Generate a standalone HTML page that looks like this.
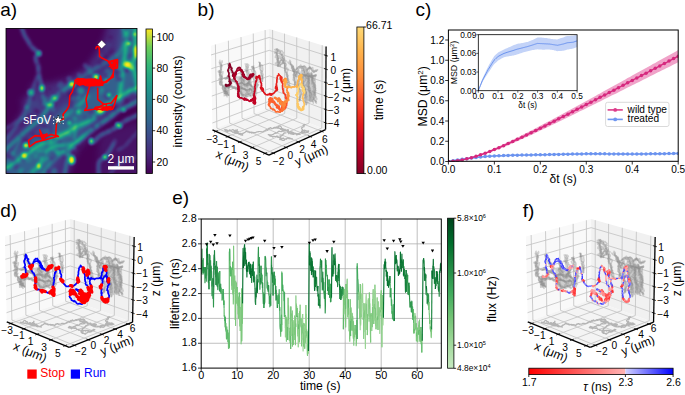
<!DOCTYPE html>
<html><head><meta charset="utf-8"><style>
html,body{margin:0;padding:0;background:#fff;width:685px;height:395px;overflow:hidden}
svg{display:block}
text{font-family:"Liberation Sans", sans-serif}
</style></head><body>
<svg width="685" height="395" viewBox="0 0 685 395">
<rect width="685" height="395" fill="#fff"/>
<text x="0.3" y="16.3" font-size="19" text-anchor="start" fill="#000">a)</text>
<text x="197.6" y="16.3" font-size="19" text-anchor="start" fill="#000">b)</text>
<text x="415.6" y="16.3" font-size="19" text-anchor="start" fill="#000">c)</text>
<text x="0.2" y="216.6" font-size="19" text-anchor="start" fill="#000">d)</text>
<text x="172.3" y="203.6" font-size="19" text-anchor="start" fill="#000">e)</text>
<text x="522.8" y="216.6" font-size="19" text-anchor="start" fill="#000">f)</text>
<defs><linearGradient id="gvir" x1="0" y1="0" x2="0" y2="1"><stop offset="0.000" stop-color="#fde725"/><stop offset="0.062" stop-color="#b6da3e"/><stop offset="0.125" stop-color="#6ece58"/><stop offset="0.188" stop-color="#52c268"/><stop offset="0.250" stop-color="#35b779"/><stop offset="0.312" stop-color="#2aaa81"/><stop offset="0.375" stop-color="#1f9e89"/><stop offset="0.438" stop-color="#22908c"/><stop offset="0.500" stop-color="#26828e"/><stop offset="0.562" stop-color="#2c758e"/><stop offset="0.625" stop-color="#31688e"/><stop offset="0.688" stop-color="#38588c"/><stop offset="0.750" stop-color="#3e4989"/><stop offset="0.812" stop-color="#433880"/><stop offset="0.875" stop-color="#482878"/><stop offset="0.938" stop-color="#461466"/><stop offset="1.000" stop-color="#440154"/></linearGradient><linearGradient id="gtime" x1="0" y1="0" x2="0" y2="1"><stop offset="0.000" stop-color="#fed976"/><stop offset="0.083" stop-color="#fec661"/><stop offset="0.167" stop-color="#feb24c"/><stop offset="0.250" stop-color="#fea044"/><stop offset="0.333" stop-color="#fd8d3c"/><stop offset="0.417" stop-color="#fc6e33"/><stop offset="0.500" stop-color="#fc4e2a"/><stop offset="0.583" stop-color="#f03423"/><stop offset="0.667" stop-color="#e31a1c"/><stop offset="0.750" stop-color="#d00d21"/><stop offset="0.833" stop-color="#bd0026"/><stop offset="0.917" stop-color="#9e0026"/><stop offset="1.000" stop-color="#800026"/></linearGradient><linearGradient id="ggrn" x1="0" y1="0" x2="0" y2="1"><stop offset="0.000" stop-color="#00441b"/><stop offset="0.083" stop-color="#005824"/><stop offset="0.167" stop-color="#006d2c"/><stop offset="0.250" stop-color="#127c38"/><stop offset="0.333" stop-color="#238b45"/><stop offset="0.417" stop-color="#329b51"/><stop offset="0.500" stop-color="#41ab5d"/><stop offset="0.583" stop-color="#5ab86a"/><stop offset="0.667" stop-color="#74c476"/><stop offset="0.750" stop-color="#8ace88"/><stop offset="0.833" stop-color="#a1d99b"/><stop offset="0.917" stop-color="#b4e1ae"/><stop offset="1.000" stop-color="#c7e9c0"/></linearGradient><filter id="bl1" x="-20%" y="-20%" width="140%" height="140%"><feGaussianBlur stdDeviation="1.2"/></filter><filter id="bl2" x="-20%" y="-20%" width="140%" height="140%"><feGaussianBlur stdDeviation="2.2"/></filter><filter id="bl05"><feGaussianBlur stdDeviation="0.5"/></filter><clipPath id="clipA"><rect x="6" y="28.5" width="131" height="145"/></clipPath><clipPath id="clipE"><rect x="201.2" y="219" width="240.1" height="149"/></clipPath><clipPath id="clipC"><rect x="448.4" y="30" width="229.8" height="131.5"/></clipPath><filter id="virmap" filterUnits="userSpaceOnUse" x="6" y="28.5" width="131" height="145" color-interpolation-filters="sRGB"><feGaussianBlur stdDeviation="0.7"/><feComponentTransfer><feFuncR type="table" tableValues="0.267 0.277 0.282 0.283 0.279 0.271 0.259 0.245 0.230 0.214 0.199 0.186 0.173 0.161 0.149 0.138 0.128 0.121 0.121 0.132 0.158 0.197 0.246 0.304 0.369 0.440 0.516 0.596 0.678 0.762 0.846 0.926 0.993"/><feFuncG type="table" tableValues="0.005 0.050 0.095 0.136 0.175 0.214 0.252 0.288 0.322 0.356 0.388 0.419 0.449 0.479 0.508 0.537 0.567 0.596 0.626 0.655 0.684 0.712 0.739 0.765 0.789 0.811 0.831 0.849 0.864 0.876 0.887 0.897 0.906"/><feFuncB type="table" tableValues="0.329 0.376 0.417 0.453 0.483 0.507 0.525 0.537 0.546 0.551 0.555 0.557 0.558 0.558 0.557 0.555 0.551 0.544 0.533 0.520 0.502 0.479 0.452 0.420 0.383 0.341 0.294 0.243 0.190 0.137 0.100 0.104 0.144"/></feComponentTransfer></filter><filter id="hz" x="-30%" y="-30%" width="160%" height="160%" color-interpolation-filters="sRGB"><feGaussianBlur stdDeviation="3.5"/></filter><filter id="fl" x="-30%" y="-30%" width="160%" height="160%" color-interpolation-filters="sRGB"><feGaussianBlur stdDeviation="1.4"/></filter><filter id="sp" x="-50%" y="-50%" width="200%" height="200%" color-interpolation-filters="sRGB"><feGaussianBlur stdDeviation="0.8"/></filter></defs>
<rect x="6" y="28.5" width="131" height="145" fill="#440154" stroke="none" stroke-width="1"/>
<g clip-path="url(#clipA)">
<g filter="url(#virmap)">
<rect x="0" y="20" width="145" height="160" fill="#000"/>
<g filter="url(#hz)" fill="#fff">
<path d="M0.0,180.0 0.0,140.0 14.0,126.0 24.0,110.0 33.0,84.0 50.0,84.0 70.0,78.0 86.0,68.0 96.0,54.0 104.0,40.0 108.0,24.0 142.0,24.0 142.0,100.0 122.0,106.0 110.0,118.0 96.0,128.0 86.0,140.0 76.0,152.0 66.0,180.0 Z" opacity="0.13"/>
<path d="M0.0,180.0 0.0,158.0 18.0,150.0 33.0,136.0 48.0,122.0 62.0,108.0 78.0,98.0 94.0,86.0 106.0,74.0 118.0,58.0 122.0,24.0 142.0,24.0 142.0,88.0 120.0,96.0 102.0,112.0 86.0,128.0 62.0,150.0 42.0,180.0 Z" opacity="0.2"/>
<path d="M100.0,135.0 120.0,128.0 142.0,120.0 142.0,180.0 96.0,180.0 Z" opacity="0.05"/>
<path d="M20.0,100.0 35.0,95.0 45.0,110.0 30.0,120.0 Z" opacity="0.08"/>
</g>
<g filter="url(#fl)" fill="none" stroke="#fff" stroke-linecap="round">
<path d="M21.5,27.0 C22.0,28.4 23.6,33.2 24.6,35.4 C25.6,37.6 26.6,38.5 27.7,40.4 C28.8,42.3 29.8,44.8 31.4,46.6 C32.9,48.5 35.8,50.4 37.0,51.5 C38.2,52.6 39.0,52.5 38.8,53.4 C38.6,54.3 36.1,55.8 35.7,57.1 C35.3,58.5 36.0,60.0 36.4,61.5 C36.8,63.0 37.8,64.4 38.2,66.4 C38.6,68.5 38.4,71.2 38.8,73.8 C39.2,76.4 40.0,79.6 40.5,82.0 C41.0,84.4 41.4,85.7 41.9,88.2 C42.4,90.7 42.5,94.4 43.2,97.0 C43.9,99.6 45.5,102.8 46.0,104.0" stroke-width="5.0" opacity="0.08"/>
<path d="M21.5,27.0 C22.0,28.4 23.6,33.2 24.6,35.4 C25.6,37.6 26.6,38.5 27.7,40.4 C28.8,42.3 29.8,44.8 31.4,46.6 C32.9,48.5 35.8,50.4 37.0,51.5 C38.2,52.6 39.0,52.5 38.8,53.4 C38.6,54.3 36.1,55.8 35.7,57.1 C35.3,58.5 36.0,60.0 36.4,61.5 C36.8,63.0 37.8,64.4 38.2,66.4 C38.6,68.5 38.4,71.2 38.8,73.8 C39.2,76.4 40.0,79.6 40.5,82.0 C41.0,84.4 41.4,85.7 41.9,88.2 C42.4,90.7 42.5,94.4 43.2,97.0 C43.9,99.6 45.5,102.8 46.0,104.0" stroke-width="2.5" opacity="0.20" stroke-dasharray="2.9 1.3 3.6 1.5 2.3 2.2 5.7 3.4 5.1 1.7 4.1 1.8 2.7 1.3 2.9 3.8 5.3 3.4 5.2 1.6 3.2 2.9 4.9 3.6 5.5 1.3 4.4 3.0"/>
<path d="M21.5,27.0 C22.0,28.4 23.6,33.2 24.6,35.4 C25.6,37.6 26.6,38.5 27.7,40.4 C28.8,42.3 29.8,44.8 31.4,46.6 C32.9,48.5 35.8,50.4 37.0,51.5 C38.2,52.6 39.0,52.5 38.8,53.4 C38.6,54.3 36.1,55.8 35.7,57.1 C35.3,58.5 36.0,60.0 36.4,61.5 C36.8,63.0 37.8,64.4 38.2,66.4 C38.6,68.5 38.4,71.2 38.8,73.8 C39.2,76.4 40.0,79.6 40.5,82.0 C41.0,84.4 41.4,85.7 41.9,88.2 C42.4,90.7 42.5,94.4 43.2,97.0 C43.9,99.6 45.5,102.8 46.0,104.0" stroke-width="1.7" opacity="0.09"/>
<path d="M37.0,77.0 C36.2,79.5 33.7,86.8 32.0,92.0 C30.3,97.2 29.3,102.9 27.0,108.0 C24.7,113.1 21.2,118.3 18.4,122.8 C15.6,127.3 12.4,131.8 10.0,135.0 C7.6,138.2 5.0,140.8 4.0,142.0" stroke-width="4.7" opacity="0.05"/>
<path d="M37.0,77.0 C36.2,79.5 33.7,86.8 32.0,92.0 C30.3,97.2 29.3,102.9 27.0,108.0 C24.7,113.1 21.2,118.3 18.4,122.8 C15.6,127.3 12.4,131.8 10.0,135.0 C7.6,138.2 5.0,140.8 4.0,142.0" stroke-width="2.3" opacity="0.12" stroke-dasharray="4.0 1.5 3.9 1.3 5.7 3.6 4.2 1.9 5.6 2.7 5.5 3.5 4.0 2.2 4.4 2.3 2.6 1.9 5.3 1.1 2.2 2.9 3.1 2.6"/>
<path d="M37.0,77.0 C36.2,79.5 33.7,86.8 32.0,92.0 C30.3,97.2 29.3,102.9 27.0,108.0 C24.7,113.1 21.2,118.3 18.4,122.8 C15.6,127.3 12.4,131.8 10.0,135.0 C7.6,138.2 5.0,140.8 4.0,142.0" stroke-width="1.6" opacity="0.06"/>
<path d="M3.0,170.0 C4.1,169.3 6.1,168.3 9.6,166.0 C13.1,163.7 19.7,159.1 24.2,156.0 C28.7,152.9 32.1,150.0 36.4,147.3 C40.7,144.6 46.1,142.1 50.0,140.0 C53.9,137.9 57.0,136.3 60.0,135.0 C63.0,133.7 65.2,133.5 68.2,132.0 C71.2,130.5 74.2,128.0 78.0,126.0 C81.8,124.0 87.5,122.6 91.3,120.0 C95.1,117.4 97.9,113.3 100.8,110.5 C103.7,107.7 106.0,105.1 108.9,103.0 C111.8,100.9 114.8,99.8 118.0,98.0 C121.2,96.2 124.3,94.0 128.0,92.0 C131.7,90.0 138.0,87.0 140.0,86.0" stroke-width="6.8" opacity="0.15"/>
<path d="M3.0,170.0 C4.1,169.3 6.1,168.3 9.6,166.0 C13.1,163.7 19.7,159.1 24.2,156.0 C28.7,152.9 32.1,150.0 36.4,147.3 C40.7,144.6 46.1,142.1 50.0,140.0 C53.9,137.9 57.0,136.3 60.0,135.0 C63.0,133.7 65.2,133.5 68.2,132.0 C71.2,130.5 74.2,128.0 78.0,126.0 C81.8,124.0 87.5,122.6 91.3,120.0 C95.1,117.4 97.9,113.3 100.8,110.5 C103.7,107.7 106.0,105.1 108.9,103.0 C111.8,100.9 114.8,99.8 118.0,98.0 C121.2,96.2 124.3,94.0 128.0,92.0 C131.7,90.0 138.0,87.0 140.0,86.0" stroke-width="3.4" opacity="0.38" stroke-dasharray="3.9 2.0 6.0 1.6 3.7 1.6 4.5 1.8 3.4 3.2 3.3 2.7 5.6 1.3 2.2 1.7 5.1 2.8 2.9 2.0 2.7 2.4 2.2 3.1 5.6 3.9 4.9 3.9 2.1 1.9 5.9 3.3 3.6 3.8 4.5 3.5 3.2 1.6 3.8 1.4 3.5 3.9 3.3 1.0 2.2 1.5 5.1 2.1 3.2 1.3 5.9 2.3"/>
<path d="M3.0,170.0 C4.1,169.3 6.1,168.3 9.6,166.0 C13.1,163.7 19.7,159.1 24.2,156.0 C28.7,152.9 32.1,150.0 36.4,147.3 C40.7,144.6 46.1,142.1 50.0,140.0 C53.9,137.9 57.0,136.3 60.0,135.0 C63.0,133.7 65.2,133.5 68.2,132.0 C71.2,130.5 74.2,128.0 78.0,126.0 C81.8,124.0 87.5,122.6 91.3,120.0 C95.1,117.4 97.9,113.3 100.8,110.5 C103.7,107.7 106.0,105.1 108.9,103.0 C111.8,100.9 114.8,99.8 118.0,98.0 C121.2,96.2 124.3,94.0 128.0,92.0 C131.7,90.0 138.0,87.0 140.0,86.0" stroke-width="2.3" opacity="0.17"/>
<path d="M3.0,152.0 C5.0,150.2 11.2,144.5 15.0,141.0 C18.8,137.5 21.8,134.7 26.0,131.0 C30.2,127.3 36.3,122.8 40.0,119.0 C43.7,115.2 45.5,111.5 48.0,108.0 C50.5,104.5 52.3,101.0 55.0,98.0 C57.7,95.0 61.2,92.3 64.0,90.0 C66.8,87.7 70.7,85.2 72.0,84.2" stroke-width="5.8" opacity="0.11"/>
<path d="M3.0,152.0 C5.0,150.2 11.2,144.5 15.0,141.0 C18.8,137.5 21.8,134.7 26.0,131.0 C30.2,127.3 36.3,122.8 40.0,119.0 C43.7,115.2 45.5,111.5 48.0,108.0 C50.5,104.5 52.3,101.0 55.0,98.0 C57.7,95.0 61.2,92.3 64.0,90.0 C66.8,87.7 70.7,85.2 72.0,84.2" stroke-width="2.9" opacity="0.27" stroke-dasharray="2.8 1.2 2.2 1.5 4.7 1.4 2.2 2.5 3.0 4.0 2.5 2.6 5.1 2.2 6.0 2.4 3.0 2.2 2.1 2.3 3.0 3.7 5.3 2.5 2.1 1.8 3.0 1.6 2.9 3.6 2.6 1.2 5.7 2.7"/>
<path d="M3.0,152.0 C5.0,150.2 11.2,144.5 15.0,141.0 C18.8,137.5 21.8,134.7 26.0,131.0 C30.2,127.3 36.3,122.8 40.0,119.0 C43.7,115.2 45.5,111.5 48.0,108.0 C50.5,104.5 52.3,101.0 55.0,98.0 C57.7,95.0 61.2,92.3 64.0,90.0 C66.8,87.7 70.7,85.2 72.0,84.2" stroke-width="1.9" opacity="0.13"/>
<path d="M72.0,84.2 C74.2,82.7 81.0,77.7 85.0,75.0 C89.0,72.3 92.2,70.3 96.0,68.0 C99.8,65.7 104.3,63.3 108.0,61.0 C111.7,58.7 115.3,56.7 118.0,54.0 C120.7,51.3 122.5,48.0 124.0,45.0 C125.5,42.0 126.0,39.2 127.0,36.0 C128.0,32.8 129.5,27.7 130.0,26.0" stroke-width="5.4" opacity="0.06"/>
<path d="M72.0,84.2 C74.2,82.7 81.0,77.7 85.0,75.0 C89.0,72.3 92.2,70.3 96.0,68.0 C99.8,65.7 104.3,63.3 108.0,61.0 C111.7,58.7 115.3,56.7 118.0,54.0 C120.7,51.3 122.5,48.0 124.0,45.0 C125.5,42.0 126.0,39.2 127.0,36.0 C128.0,32.8 129.5,27.7 130.0,26.0" stroke-width="2.7" opacity="0.15" stroke-dasharray="6.0 2.2 5.6 3.0 5.2 3.2 4.0 1.3 2.8 3.6 5.6 3.8 3.3 3.0 5.2 2.9 5.3 2.6 4.6 3.1 3.1 3.8 5.8 1.2"/>
<path d="M72.0,84.2 C74.2,82.7 81.0,77.7 85.0,75.0 C89.0,72.3 92.2,70.3 96.0,68.0 C99.8,65.7 104.3,63.3 108.0,61.0 C111.7,58.7 115.3,56.7 118.0,54.0 C120.7,51.3 122.5,48.0 124.0,45.0 C125.5,42.0 126.0,39.2 127.0,36.0 C128.0,32.8 129.5,27.7 130.0,26.0" stroke-width="1.8" opacity="0.07"/>
<path d="M124.0,26.0 C124.3,28.3 125.8,35.2 126.0,40.0 C126.2,44.8 125.6,50.0 125.0,55.0 C124.4,60.0 123.2,65.0 122.5,70.0 C121.8,75.0 121.6,80.0 121.0,85.0 C120.4,90.0 119.3,97.5 119.0,100.0" stroke-width="6.8" opacity="0.14"/>
<path d="M124.0,26.0 C124.3,28.3 125.8,35.2 126.0,40.0 C126.2,44.8 125.6,50.0 125.0,55.0 C124.4,60.0 123.2,65.0 122.5,70.0 C121.8,75.0 121.6,80.0 121.0,85.0 C120.4,90.0 119.3,97.5 119.0,100.0" stroke-width="3.4" opacity="0.34" stroke-dasharray="5.9 3.9 4.7 1.1 5.6 1.4 5.9 3.0 2.2 1.5 4.5 2.7 5.0 3.8 2.9 1.0 5.7 1.0 5.5 1.3 5.2 3.3"/>
<path d="M124.0,26.0 C124.3,28.3 125.8,35.2 126.0,40.0 C126.2,44.8 125.6,50.0 125.0,55.0 C124.4,60.0 123.2,65.0 122.5,70.0 C121.8,75.0 121.6,80.0 121.0,85.0 C120.4,90.0 119.3,97.5 119.0,100.0" stroke-width="2.3" opacity="0.16"/>
<path d="M135.0,26.0 C135.1,28.3 135.3,35.7 135.5,40.0 C135.7,44.3 136.4,48.0 136.0,52.0 C135.6,56.0 133.0,59.7 133.0,64.0 C133.0,68.3 135.2,73.3 136.0,78.0 C136.8,82.7 137.7,89.7 138.0,92.0" stroke-width="6.8" opacity="0.14"/>
<path d="M135.0,26.0 C135.1,28.3 135.3,35.7 135.5,40.0 C135.7,44.3 136.4,48.0 136.0,52.0 C135.6,56.0 133.0,59.7 133.0,64.0 C133.0,68.3 135.2,73.3 136.0,78.0 C136.8,82.7 137.7,89.7 138.0,92.0" stroke-width="3.4" opacity="0.36" stroke-dasharray="5.5 2.7 5.5 1.6 4.7 2.0 5.6 3.3 3.9 2.6 2.1 1.1 4.4 2.5 5.5 2.8 2.6 2.1 5.1 2.6"/>
<path d="M135.0,26.0 C135.1,28.3 135.3,35.7 135.5,40.0 C135.7,44.3 136.4,48.0 136.0,52.0 C135.6,56.0 133.0,59.7 133.0,64.0 C133.0,68.3 135.2,73.3 136.0,78.0 C136.8,82.7 137.7,89.7 138.0,92.0" stroke-width="2.3" opacity="0.17"/>
<path d="M24.0,178.0 C26.5,176.0 35.7,169.4 38.8,166.0 C41.9,162.6 41.1,160.2 42.5,157.6 C43.9,155.0 45.0,152.2 47.3,150.3 C49.5,148.4 52.9,146.9 56.0,146.0 C59.1,145.1 63.0,145.5 66.0,145.0 C69.0,144.5 71.3,144.6 74.3,143.0 C77.3,141.4 81.2,137.9 84.0,135.7 C86.8,133.5 88.6,131.9 91.3,130.0 C94.0,128.1 97.0,126.0 100.0,124.0 C103.0,122.0 106.1,120.2 109.0,118.0 C111.9,115.8 115.0,112.7 117.5,111.0 C120.0,109.3 120.2,109.8 124.0,108.0 C127.8,106.2 137.3,101.3 140.0,100.0" stroke-width="5.8" opacity="0.12"/>
<path d="M24.0,178.0 C26.5,176.0 35.7,169.4 38.8,166.0 C41.9,162.6 41.1,160.2 42.5,157.6 C43.9,155.0 45.0,152.2 47.3,150.3 C49.5,148.4 52.9,146.9 56.0,146.0 C59.1,145.1 63.0,145.5 66.0,145.0 C69.0,144.5 71.3,144.6 74.3,143.0 C77.3,141.4 81.2,137.9 84.0,135.7 C86.8,133.5 88.6,131.9 91.3,130.0 C94.0,128.1 97.0,126.0 100.0,124.0 C103.0,122.0 106.1,120.2 109.0,118.0 C111.9,115.8 115.0,112.7 117.5,111.0 C120.0,109.3 120.2,109.8 124.0,108.0 C127.8,106.2 137.3,101.3 140.0,100.0" stroke-width="2.9" opacity="0.30" stroke-dasharray="2.0 3.5 5.3 1.3 4.2 2.1 5.1 1.9 2.9 2.5 5.9 1.3 2.5 2.9 5.5 2.5 3.7 3.6 5.1 1.2 5.5 1.6 3.2 3.5 3.7 3.4 2.7 3.6 2.7 1.4 4.0 2.0 4.2 3.7 4.8 1.0 3.2 2.6 3.9 3.1 3.9 1.2 3.0 3.5 3.4 3.3"/>
<path d="M24.0,178.0 C26.5,176.0 35.7,169.4 38.8,166.0 C41.9,162.6 41.1,160.2 42.5,157.6 C43.9,155.0 45.0,152.2 47.3,150.3 C49.5,148.4 52.9,146.9 56.0,146.0 C59.1,145.1 63.0,145.5 66.0,145.0 C69.0,144.5 71.3,144.6 74.3,143.0 C77.3,141.4 81.2,137.9 84.0,135.7 C86.8,133.5 88.6,131.9 91.3,130.0 C94.0,128.1 97.0,126.0 100.0,124.0 C103.0,122.0 106.1,120.2 109.0,118.0 C111.9,115.8 115.0,112.7 117.5,111.0 C120.0,109.3 120.2,109.8 124.0,108.0 C127.8,106.2 137.3,101.3 140.0,100.0" stroke-width="1.9" opacity="0.14"/>
<path d="M94.0,141.8 C95.0,140.8 97.4,137.5 100.0,135.7 C102.6,133.9 106.8,132.5 109.8,130.9 C112.8,129.3 115.8,127.7 118.3,126.0 C120.8,124.3 121.4,123.0 125.0,121.0 C128.6,119.0 137.5,115.2 140.0,114.0" stroke-width="5.0" opacity="0.09"/>
<path d="M94.0,141.8 C95.0,140.8 97.4,137.5 100.0,135.7 C102.6,133.9 106.8,132.5 109.8,130.9 C112.8,129.3 115.8,127.7 118.3,126.0 C120.8,124.3 121.4,123.0 125.0,121.0 C128.6,119.0 137.5,115.2 140.0,114.0" stroke-width="2.5" opacity="0.22" stroke-dasharray="5.9 2.9 4.7 2.8 3.3 3.7 3.9 3.7 3.2 3.6 5.1 2.8 3.8 1.4 5.1 2.1"/>
<path d="M94.0,141.8 C95.0,140.8 97.4,137.5 100.0,135.7 C102.6,133.9 106.8,132.5 109.8,130.9 C112.8,129.3 115.8,127.7 118.3,126.0 C120.8,124.3 121.4,123.0 125.0,121.0 C128.6,119.0 137.5,115.2 140.0,114.0" stroke-width="1.7" opacity="0.10"/>
<path d="M98.9,178.0 C98.9,175.4 97.9,166.0 98.9,162.5 C99.9,159.0 103.2,159.1 105.0,157.0 C106.8,154.9 108.3,152.7 110.0,150.0 C111.7,147.3 114.2,142.5 115.0,141.0" stroke-width="4.7" opacity="0.08"/>
<path d="M98.9,178.0 C98.9,175.4 97.9,166.0 98.9,162.5 C99.9,159.0 103.2,159.1 105.0,157.0 C106.8,154.9 108.3,152.7 110.0,150.0 C111.7,147.3 114.2,142.5 115.0,141.0" stroke-width="2.3" opacity="0.20" stroke-dasharray="4.6 1.4 2.3 1.4 5.2 1.5 5.6 2.1 4.3 2.1 4.5 1.3 3.6 3.8"/>
<path d="M98.9,178.0 C98.9,175.4 97.9,166.0 98.9,162.5 C99.9,159.0 103.2,159.1 105.0,157.0 C106.8,154.9 108.3,152.7 110.0,150.0 C111.7,147.3 114.2,142.5 115.0,141.0" stroke-width="1.6" opacity="0.09"/>
<path d="M75.5,124.0 C75.3,126.4 75.2,133.9 74.3,138.2 C73.4,142.5 71.2,146.0 70.0,150.0 C68.8,154.0 68.0,157.3 67.0,162.0 C66.0,166.7 64.5,175.3 64.0,178.0" stroke-width="5.0" opacity="0.08"/>
<path d="M75.5,124.0 C75.3,126.4 75.2,133.9 74.3,138.2 C73.4,142.5 71.2,146.0 70.0,150.0 C68.8,154.0 68.0,157.3 67.0,162.0 C66.0,166.7 64.5,175.3 64.0,178.0" stroke-width="2.5" opacity="0.21" stroke-dasharray="2.7 3.0 3.3 1.9 2.1 1.1 5.8 3.5 5.2 3.4 5.8 1.5 4.3 2.5 4.3 3.8 5.0 3.9"/>
<path d="M75.5,124.0 C75.3,126.4 75.2,133.9 74.3,138.2 C73.4,142.5 71.2,146.0 70.0,150.0 C68.8,154.0 68.0,157.3 67.0,162.0 C66.0,166.7 64.5,175.3 64.0,178.0" stroke-width="1.7" opacity="0.10"/>
<path d="M40.0,178.0 C41.3,176.0 45.3,169.3 48.0,166.0 C50.7,162.7 53.3,160.3 56.0,158.0 C58.7,155.7 62.7,153.0 64.0,152.0" stroke-width="4.7" opacity="0.08"/>
<path d="M40.0,178.0 C41.3,176.0 45.3,169.3 48.0,166.0 C50.7,162.7 53.3,160.3 56.0,158.0 C58.7,155.7 62.7,153.0 64.0,152.0" stroke-width="2.3" opacity="0.20" stroke-dasharray="2.5 3.0 4.7 3.2 4.5 3.5 3.2 3.8 3.6 2.8 5.6 3.1"/>
<path d="M40.0,178.0 C41.3,176.0 45.3,169.3 48.0,166.0 C50.7,162.7 53.3,160.3 56.0,158.0 C58.7,155.7 62.7,153.0 64.0,152.0" stroke-width="1.6" opacity="0.09"/>
<path d="M3.0,130.0 C4.2,129.3 6.8,128.0 10.0,126.0 C13.2,124.0 18.7,120.3 22.0,118.0 C25.3,115.7 28.7,113.0 30.0,112.0" stroke-width="4.3" opacity="0.04"/>
<path d="M3.0,130.0 C4.2,129.3 6.8,128.0 10.0,126.0 C13.2,124.0 18.7,120.3 22.0,118.0 C25.3,115.7 28.7,113.0 30.0,112.0" stroke-width="2.2" opacity="0.11" stroke-dasharray="3.2 1.7 3.3 2.9 6.0 3.7 3.6 2.2 5.3 1.9"/>
<path d="M3.0,130.0 C4.2,129.3 6.8,128.0 10.0,126.0 C13.2,124.0 18.7,120.3 22.0,118.0 C25.3,115.7 28.7,113.0 30.0,112.0" stroke-width="1.4" opacity="0.05"/>
<path d="M50.0,144.2 C51.3,143.3 55.0,141.0 58.0,139.0 C61.0,137.0 66.5,133.2 68.2,132.0" stroke-width="5.0" opacity="0.11"/>
<path d="M50.0,144.2 C51.3,143.3 55.0,141.0 58.0,139.0 C61.0,137.0 66.5,133.2 68.2,132.0" stroke-width="2.5" opacity="0.29" stroke-dasharray="3.6 1.0 2.7 2.6 4.8 2.8 3.5 3.9"/>
<path d="M50.0,144.2 C51.3,143.3 55.0,141.0 58.0,139.0 C61.0,137.0 66.5,133.2 68.2,132.0" stroke-width="1.7" opacity="0.13"/>
<path d="M56.0,154.0 C57.7,153.3 63.0,151.6 66.0,150.0 C69.0,148.4 71.3,146.6 74.3,144.2 C77.3,141.8 82.4,137.1 84.0,135.7" stroke-width="5.0" opacity="0.11"/>
<path d="M56.0,154.0 C57.7,153.3 63.0,151.6 66.0,150.0 C69.0,148.4 71.3,146.6 74.3,144.2 C77.3,141.8 82.4,137.1 84.0,135.7" stroke-width="2.5" opacity="0.29" stroke-dasharray="4.5 1.5 2.3 3.9 6.0 3.8 4.4 1.9 2.4 1.8 2.9 3.8"/>
<path d="M56.0,154.0 C57.7,153.3 63.0,151.6 66.0,150.0 C69.0,148.4 71.3,146.6 74.3,144.2 C77.3,141.8 82.4,137.1 84.0,135.7" stroke-width="1.7" opacity="0.13"/>
<path d="M118.0,150.0 C119.2,149.3 122.7,148.0 125.0,146.0 C127.3,144.0 129.5,140.7 132.0,138.0 C134.5,135.3 138.7,131.3 140.0,130.0" stroke-width="4.0" opacity="0.04"/>
<path d="M118.0,150.0 C119.2,149.3 122.7,148.0 125.0,146.0 C127.3,144.0 129.5,140.7 132.0,138.0 C134.5,135.3 138.7,131.3 140.0,130.0" stroke-width="2.0" opacity="0.11" stroke-dasharray="5.6 3.3 2.6 1.7 3.2 3.8 2.7 3.4 4.7 2.6"/>
<path d="M118.0,150.0 C119.2,149.3 122.7,148.0 125.0,146.0 C127.3,144.0 129.5,140.7 132.0,138.0 C134.5,135.3 138.7,131.3 140.0,130.0" stroke-width="1.3" opacity="0.05"/>
<path d="M110.0,174.0 C111.3,172.5 115.0,167.3 118.0,165.0 C121.0,162.7 124.3,161.5 128.0,160.0 C131.7,158.5 138.0,156.7 140.0,156.0" stroke-width="4.0" opacity="0.04"/>
<path d="M110.0,174.0 C111.3,172.5 115.0,167.3 118.0,165.0 C121.0,162.7 124.3,161.5 128.0,160.0 C131.7,158.5 138.0,156.7 140.0,156.0" stroke-width="2.0" opacity="0.11" stroke-dasharray="5.8 1.8 4.1 1.5 2.4 1.1 3.3 1.4 2.2 4.0 3.2 3.7 4.8 3.2"/>
<path d="M110.0,174.0 C111.3,172.5 115.0,167.3 118.0,165.0 C121.0,162.7 124.3,161.5 128.0,160.0 C131.7,158.5 138.0,156.7 140.0,156.0" stroke-width="1.3" opacity="0.05"/>
<path d="M60.0,120.0 C61.7,118.7 66.7,114.7 70.0,112.0 C73.3,109.3 77.0,106.7 80.0,104.0 C83.0,101.3 86.7,97.3 88.0,96.0" stroke-width="5.4" opacity="0.11"/>
<path d="M60.0,120.0 C61.7,118.7 66.7,114.7 70.0,112.0 C73.3,109.3 77.0,106.7 80.0,104.0 C83.0,101.3 86.7,97.3 88.0,96.0" stroke-width="2.7" opacity="0.27" stroke-dasharray="4.6 3.9 5.5 3.2 4.2 3.1 4.9 2.7 4.0 1.5"/>
<path d="M60.0,120.0 C61.7,118.7 66.7,114.7 70.0,112.0 C73.3,109.3 77.0,106.7 80.0,104.0 C83.0,101.3 86.7,97.3 88.0,96.0" stroke-width="1.8" opacity="0.13"/>
<path d="M8.0,160.0 C9.2,158.3 13.0,153.3 15.0,150.0 C17.0,146.7 19.2,141.7 20.0,140.0" stroke-width="4.3" opacity="0.07"/>
<path d="M8.0,160.0 C9.2,158.3 13.0,153.3 15.0,150.0 C17.0,146.7 19.2,141.7 20.0,140.0" stroke-width="2.2" opacity="0.17" stroke-dasharray="5.4 2.5 2.3 1.5 5.5 1.8 3.6 3.0"/>
<path d="M8.0,160.0 C9.2,158.3 13.0,153.3 15.0,150.0 C17.0,146.7 19.2,141.7 20.0,140.0" stroke-width="1.4" opacity="0.08"/>
<path d="M84.7,65.0 C85.6,66.0 88.5,69.0 90.0,71.0 C91.5,73.0 93.3,76.0 94.0,77.0" stroke-width="4.7" opacity="0.06"/>
<path d="M84.7,65.0 C85.6,66.0 88.5,69.0 90.0,71.0 C91.5,73.0 93.3,76.0 94.0,77.0" stroke-width="2.3" opacity="0.15" stroke-dasharray="5.4 2.0 3.5 2.3 2.1 3.6"/>
<path d="M84.7,65.0 C85.6,66.0 88.5,69.0 90.0,71.0 C91.5,73.0 93.3,76.0 94.0,77.0" stroke-width="1.6" opacity="0.07"/>
</g>
<g filter="url(#fl)">
<ellipse cx="8.5" cy="168.2" rx="1.8" ry="1.1" transform="rotate(153 8.5 168.2)" fill="#fff" opacity="0.16"/>
<ellipse cx="78.5" cy="97.6" rx="2.9" ry="1.8" transform="rotate(149 78.5 97.6)" fill="#fff" opacity="0.25"/>
<ellipse cx="55.7" cy="151.7" rx="3.2" ry="2.9" transform="rotate(19 55.7 151.7)" fill="#fff" opacity="0.28"/>
<ellipse cx="46.0" cy="122.4" rx="3.3" ry="3.0" transform="rotate(7 46.0 122.4)" fill="#fff" opacity="0.17"/>
<ellipse cx="46.3" cy="158.8" rx="2.8" ry="2.0" transform="rotate(150 46.3 158.8)" fill="#fff" opacity="0.28"/>
<ellipse cx="97.5" cy="116.3" rx="2.6" ry="3.0" transform="rotate(64 97.5 116.3)" fill="#000" opacity="0.48"/>
<ellipse cx="71.2" cy="107.7" rx="2.7" ry="1.8" transform="rotate(36 71.2 107.7)" fill="#000" opacity="0.50"/>
<ellipse cx="21.3" cy="170.9" rx="3.2" ry="2.7" transform="rotate(0 21.3 170.9)" fill="#fff" opacity="0.23"/>
<ellipse cx="53.1" cy="158.0" rx="3.0" ry="3.2" transform="rotate(54 53.1 158.0)" fill="#000" opacity="0.45"/>
<ellipse cx="119.0" cy="71.6" rx="2.9" ry="3.0" transform="rotate(127 119.0 71.6)" fill="#000" opacity="0.34"/>
<ellipse cx="8.4" cy="157.5" rx="3.4" ry="2.3" transform="rotate(136 8.4 157.5)" fill="#000" opacity="0.46"/>
<ellipse cx="116.3" cy="74.9" rx="2.7" ry="1.9" transform="rotate(92 116.3 74.9)" fill="#000" opacity="0.37"/>
<ellipse cx="43.6" cy="161.5" rx="1.8" ry="1.8" transform="rotate(16 43.6 161.5)" fill="#fff" opacity="0.15"/>
<ellipse cx="122.7" cy="100.9" rx="1.7" ry="1.3" transform="rotate(82 122.7 100.9)" fill="#fff" opacity="0.15"/>
<ellipse cx="38.0" cy="151.1" rx="1.7" ry="2.0" transform="rotate(53 38.0 151.1)" fill="#fff" opacity="0.24"/>
<ellipse cx="124.8" cy="39.1" rx="3.2" ry="2.0" transform="rotate(129 124.8 39.1)" fill="#000" opacity="0.49"/>
<ellipse cx="49.0" cy="171.5" rx="2.7" ry="2.0" transform="rotate(178 49.0 171.5)" fill="#000" opacity="0.35"/>
<ellipse cx="13.5" cy="159.9" rx="2.9" ry="2.8" transform="rotate(152 13.5 159.9)" fill="#000" opacity="0.35"/>
<ellipse cx="77.5" cy="106.9" rx="2.2" ry="2.3" transform="rotate(151 77.5 106.9)" fill="#fff" opacity="0.13"/>
<ellipse cx="37.2" cy="111.8" rx="1.9" ry="1.8" transform="rotate(62 37.2 111.8)" fill="#000" opacity="0.48"/>
<ellipse cx="129.7" cy="55.8" rx="2.2" ry="2.6" transform="rotate(38 129.7 55.8)" fill="#000" opacity="0.35"/>
<ellipse cx="128.9" cy="100.6" rx="1.6" ry="1.1" transform="rotate(129 128.9 100.6)" fill="#000" opacity="0.33"/>
<ellipse cx="55.2" cy="95.7" rx="2.2" ry="1.8" transform="rotate(25 55.2 95.7)" fill="#000" opacity="0.50"/>
<ellipse cx="101.9" cy="89.1" rx="1.7" ry="1.2" transform="rotate(100 101.9 89.1)" fill="#fff" opacity="0.21"/>
<ellipse cx="29.7" cy="117.8" rx="2.7" ry="2.5" transform="rotate(130 29.7 117.8)" fill="#000" opacity="0.41"/>
<ellipse cx="110.8" cy="48.2" rx="1.6" ry="1.0" transform="rotate(51 110.8 48.2)" fill="#000" opacity="0.38"/>
<ellipse cx="51.3" cy="126.7" rx="2.6" ry="3.0" transform="rotate(169 51.3 126.7)" fill="#000" opacity="0.38"/>
<ellipse cx="76.4" cy="107.4" rx="2.2" ry="2.5" transform="rotate(35 76.4 107.4)" fill="#000" opacity="0.33"/>
<ellipse cx="135.4" cy="48.9" rx="2.9" ry="2.7" transform="rotate(9 135.4 48.9)" fill="#fff" opacity="0.28"/>
<ellipse cx="16.5" cy="165.5" rx="3.1" ry="2.8" transform="rotate(98 16.5 165.5)" fill="#000" opacity="0.31"/>
<ellipse cx="68.3" cy="154.4" rx="1.9" ry="1.6" transform="rotate(51 68.3 154.4)" fill="#fff" opacity="0.29"/>
<ellipse cx="122.3" cy="70.0" rx="2.3" ry="1.2" transform="rotate(95 122.3 70.0)" fill="#fff" opacity="0.27"/>
<ellipse cx="125.6" cy="69.4" rx="3.2" ry="3.7" transform="rotate(147 125.6 69.4)" fill="#000" opacity="0.53"/>
<ellipse cx="44.2" cy="103.6" rx="2.3" ry="1.3" transform="rotate(115 44.2 103.6)" fill="#fff" opacity="0.23"/>
<ellipse cx="72.9" cy="108.2" rx="2.9" ry="1.6" transform="rotate(79 72.9 108.2)" fill="#000" opacity="0.33"/>
<ellipse cx="105.8" cy="75.4" rx="2.2" ry="1.5" transform="rotate(106 105.8 75.4)" fill="#000" opacity="0.46"/>
<ellipse cx="15.2" cy="167.5" rx="1.8" ry="1.9" transform="rotate(98 15.2 167.5)" fill="#000" opacity="0.38"/>
<ellipse cx="53.1" cy="138.8" rx="2.5" ry="2.2" transform="rotate(45 53.1 138.8)" fill="#fff" opacity="0.15"/>
<ellipse cx="69.2" cy="123.1" rx="2.6" ry="2.3" transform="rotate(103 69.2 123.1)" fill="#000" opacity="0.54"/>
<ellipse cx="131.1" cy="93.9" rx="2.2" ry="1.5" transform="rotate(57 131.1 93.9)" fill="#000" opacity="0.38"/>
<ellipse cx="33.4" cy="98.7" rx="2.1" ry="1.6" transform="rotate(119 33.4 98.7)" fill="#000" opacity="0.52"/>
<ellipse cx="110.5" cy="76.0" rx="3.2" ry="2.0" transform="rotate(17 110.5 76.0)" fill="#fff" opacity="0.13"/>
<ellipse cx="6.7" cy="154.6" rx="1.5" ry="1.4" transform="rotate(100 6.7 154.6)" fill="#000" opacity="0.36"/>
<ellipse cx="132.7" cy="85.4" rx="2.0" ry="1.6" transform="rotate(132 132.7 85.4)" fill="#000" opacity="0.32"/>
<ellipse cx="109.6" cy="42.0" rx="1.6" ry="0.8" transform="rotate(179 109.6 42.0)" fill="#000" opacity="0.48"/>
<ellipse cx="53.6" cy="138.9" rx="2.6" ry="2.2" transform="rotate(169 53.6 138.9)" fill="#000" opacity="0.48"/>
<ellipse cx="121.7" cy="74.4" rx="2.8" ry="3.2" transform="rotate(71 121.7 74.4)" fill="#fff" opacity="0.14"/>
<ellipse cx="99.1" cy="91.5" rx="2.9" ry="3.3" transform="rotate(104 99.1 91.5)" fill="#fff" opacity="0.29"/>
<ellipse cx="10.7" cy="156.2" rx="2.8" ry="2.7" transform="rotate(43 10.7 156.2)" fill="#000" opacity="0.42"/>
<ellipse cx="120.9" cy="79.8" rx="2.3" ry="1.9" transform="rotate(152 120.9 79.8)" fill="#000" opacity="0.52"/>
<ellipse cx="106.0" cy="96.6" rx="3.0" ry="2.1" transform="rotate(25 106.0 96.6)" fill="#000" opacity="0.37"/>
<ellipse cx="99.9" cy="110.4" rx="2.8" ry="3.3" transform="rotate(139 99.9 110.4)" fill="#fff" opacity="0.29"/>
<ellipse cx="51.6" cy="102.2" rx="3.0" ry="3.2" transform="rotate(162 51.6 102.2)" fill="#fff" opacity="0.24"/>
<ellipse cx="39.3" cy="118.7" rx="1.9" ry="1.8" transform="rotate(32 39.3 118.7)" fill="#000" opacity="0.54"/>
<ellipse cx="120.0" cy="72.5" rx="1.6" ry="1.7" transform="rotate(139 120.0 72.5)" fill="#000" opacity="0.50"/>
<ellipse cx="115.8" cy="111.9" rx="2.0" ry="1.1" transform="rotate(11 115.8 111.9)" fill="#000" opacity="0.48"/>
<ellipse cx="110.6" cy="37.2" rx="2.7" ry="1.7" transform="rotate(1 110.6 37.2)" fill="#000" opacity="0.50"/>
<ellipse cx="69.2" cy="79.0" rx="2.6" ry="2.4" transform="rotate(127 69.2 79.0)" fill="#fff" opacity="0.18"/>
<ellipse cx="118.9" cy="77.3" rx="2.9" ry="3.3" transform="rotate(69 118.9 77.3)" fill="#000" opacity="0.36"/>
<ellipse cx="70.1" cy="84.6" rx="1.6" ry="1.8" transform="rotate(115 70.1 84.6)" fill="#fff" opacity="0.27"/>
<ellipse cx="98.2" cy="90.5" rx="3.1" ry="3.6" transform="rotate(19 98.2 90.5)" fill="#000" opacity="0.34"/>
<ellipse cx="65.7" cy="154.2" rx="2.6" ry="2.8" transform="rotate(66 65.7 154.2)" fill="#fff" opacity="0.16"/>
<ellipse cx="89.9" cy="67.4" rx="1.5" ry="1.2" transform="rotate(101 89.9 67.4)" fill="#fff" opacity="0.17"/>
<ellipse cx="26.6" cy="141.7" rx="3.4" ry="4.0" transform="rotate(125 26.6 141.7)" fill="#000" opacity="0.44"/>
<ellipse cx="91.3" cy="117.5" rx="1.9" ry="2.1" transform="rotate(97 91.3 117.5)" fill="#000" opacity="0.38"/>
<ellipse cx="42.5" cy="148.8" rx="3.0" ry="1.9" transform="rotate(146 42.5 148.8)" fill="#fff" opacity="0.17"/>
<ellipse cx="125.4" cy="28.9" rx="2.3" ry="2.1" transform="rotate(29 125.4 28.9)" fill="#000" opacity="0.52"/>
<ellipse cx="51.0" cy="131.5" rx="1.9" ry="2.2" transform="rotate(174 51.0 131.5)" fill="#000" opacity="0.49"/>
<ellipse cx="33.6" cy="134.4" rx="2.4" ry="2.1" transform="rotate(23 33.6 134.4)" fill="#000" opacity="0.39"/>
<ellipse cx="73.3" cy="147.8" rx="2.4" ry="1.7" transform="rotate(164 73.3 147.8)" fill="#fff" opacity="0.26"/>
<ellipse cx="111.5" cy="98.8" rx="2.0" ry="1.2" transform="rotate(118 111.5 98.8)" fill="#fff" opacity="0.28"/>
<ellipse cx="126.4" cy="101.5" rx="2.5" ry="2.9" transform="rotate(15 126.4 101.5)" fill="#000" opacity="0.44"/>
<ellipse cx="84.8" cy="117.2" rx="1.8" ry="1.6" transform="rotate(32 84.8 117.2)" fill="#000" opacity="0.34"/>
<ellipse cx="47.9" cy="119.5" rx="2.3" ry="1.4" transform="rotate(84 47.9 119.5)" fill="#fff" opacity="0.17"/>
<ellipse cx="41.6" cy="91.7" rx="2.9" ry="1.5" transform="rotate(121 41.6 91.7)" fill="#000" opacity="0.52"/>
<ellipse cx="31.0" cy="148.4" rx="1.6" ry="1.3" transform="rotate(46 31.0 148.4)" fill="#fff" opacity="0.26"/>
<ellipse cx="101.7" cy="89.2" rx="2.2" ry="1.7" transform="rotate(66 101.7 89.2)" fill="#fff" opacity="0.19"/>
<ellipse cx="64.2" cy="80.9" rx="3.1" ry="1.8" transform="rotate(138 64.2 80.9)" fill="#000" opacity="0.46"/>
<ellipse cx="73.3" cy="140.7" rx="1.6" ry="1.6" transform="rotate(149 73.3 140.7)" fill="#000" opacity="0.47"/>
<ellipse cx="42.7" cy="136.7" rx="3.5" ry="1.7" transform="rotate(73 42.7 136.7)" fill="#000" opacity="0.55"/>
<ellipse cx="127.1" cy="32.2" rx="1.8" ry="1.4" transform="rotate(145 127.1 32.2)" fill="#fff" opacity="0.22"/>
<ellipse cx="40.0" cy="135.2" rx="2.9" ry="3.4" transform="rotate(31 40.0 135.2)" fill="#000" opacity="0.39"/>
<ellipse cx="39.5" cy="84.5" rx="1.6" ry="1.5" transform="rotate(77 39.5 84.5)" fill="#000" opacity="0.33"/>
<ellipse cx="118.7" cy="68.4" rx="3.3" ry="1.9" transform="rotate(70 118.7 68.4)" fill="#fff" opacity="0.21"/>
<ellipse cx="64.7" cy="156.6" rx="1.8" ry="2.0" transform="rotate(93 64.7 156.6)" fill="#000" opacity="0.39"/>
<ellipse cx="42.5" cy="120.4" rx="2.4" ry="2.1" transform="rotate(117 42.5 120.4)" fill="#fff" opacity="0.25"/>
<ellipse cx="44.7" cy="125.2" rx="2.9" ry="3.3" transform="rotate(70 44.7 125.2)" fill="#000" opacity="0.49"/>
<ellipse cx="87.3" cy="82.5" rx="3.2" ry="2.4" transform="rotate(40 87.3 82.5)" fill="#fff" opacity="0.23"/>
<ellipse cx="61.2" cy="93.5" rx="2.8" ry="2.4" transform="rotate(106 61.2 93.5)" fill="#000" opacity="0.51"/>
<ellipse cx="39.5" cy="165.5" rx="1.9" ry="1.1" transform="rotate(89 39.5 165.5)" fill="#000" opacity="0.36"/>
<ellipse cx="129.6" cy="39.5" rx="2.5" ry="2.1" transform="rotate(29 129.6 39.5)" fill="#000" opacity="0.39"/>
<ellipse cx="52.9" cy="109.3" rx="2.6" ry="2.2" transform="rotate(79 52.9 109.3)" fill="#fff" opacity="0.21"/>
<ellipse cx="22.4" cy="123.8" rx="2.3" ry="2.5" transform="rotate(24 22.4 123.8)" fill="#000" opacity="0.37"/>
<ellipse cx="91.1" cy="111.5" rx="3.4" ry="2.2" transform="rotate(179 91.1 111.5)" fill="#000" opacity="0.46"/>
<ellipse cx="26.8" cy="107.3" rx="2.0" ry="2.1" transform="rotate(28 26.8 107.3)" fill="#fff" opacity="0.28"/>
<ellipse cx="45.2" cy="92.0" rx="3.0" ry="3.0" transform="rotate(37 45.2 92.0)" fill="#000" opacity="0.32"/>
<ellipse cx="24.0" cy="172.6" rx="1.6" ry="1.5" transform="rotate(158 24.0 172.6)" fill="#000" opacity="0.47"/>
<ellipse cx="50.4" cy="121.6" rx="2.4" ry="1.5" transform="rotate(161 50.4 121.6)" fill="#000" opacity="0.55"/>
<ellipse cx="6.6" cy="172.8" rx="2.8" ry="3.0" transform="rotate(151 6.6 172.8)" fill="#000" opacity="0.48"/>
<ellipse cx="78.9" cy="142.9" rx="1.6" ry="1.3" transform="rotate(91 78.9 142.9)" fill="#fff" opacity="0.27"/>
<ellipse cx="70.2" cy="110.7" rx="2.5" ry="2.5" transform="rotate(104 70.2 110.7)" fill="#000" opacity="0.37"/>
<ellipse cx="119.2" cy="79.7" rx="2.9" ry="2.0" transform="rotate(178 119.2 79.7)" fill="#000" opacity="0.40"/>
<ellipse cx="54.3" cy="156.1" rx="3.0" ry="2.0" transform="rotate(44 54.3 156.1)" fill="#fff" opacity="0.20"/>
<ellipse cx="100.5" cy="124.5" rx="3.1" ry="1.7" transform="rotate(86 100.5 124.5)" fill="#000" opacity="0.44"/>
<ellipse cx="110.1" cy="52.3" rx="2.0" ry="2.1" transform="rotate(47 110.1 52.3)" fill="#000" opacity="0.50"/>
<ellipse cx="79.7" cy="146.3" rx="3.2" ry="3.8" transform="rotate(16 79.7 146.3)" fill="#000" opacity="0.41"/>
<ellipse cx="43.5" cy="154.6" rx="2.3" ry="2.6" transform="rotate(13 43.5 154.6)" fill="#000" opacity="0.46"/>
<ellipse cx="109.0" cy="98.5" rx="3.3" ry="2.3" transform="rotate(64 109.0 98.5)" fill="#000" opacity="0.35"/>
<ellipse cx="69.7" cy="134.8" rx="1.9" ry="1.6" transform="rotate(78 69.7 134.8)" fill="#fff" opacity="0.21"/>
<ellipse cx="112.0" cy="62.2" rx="3.3" ry="1.7" transform="rotate(27 112.0 62.2)" fill="#fff" opacity="0.22"/>
<ellipse cx="75.0" cy="118.9" rx="2.2" ry="2.1" transform="rotate(71 75.0 118.9)" fill="#fff" opacity="0.25"/>
<ellipse cx="46.6" cy="139.1" rx="3.1" ry="3.8" transform="rotate(11 46.6 139.1)" fill="#000" opacity="0.34"/>
<ellipse cx="107.9" cy="46.3" rx="3.1" ry="3.4" transform="rotate(174 107.9 46.3)" fill="#fff" opacity="0.16"/>
<ellipse cx="100.0" cy="111.8" rx="2.0" ry="2.2" transform="rotate(60 100.0 111.8)" fill="#fff" opacity="0.28"/>
<ellipse cx="112.9" cy="50.9" rx="1.7" ry="1.9" transform="rotate(43 112.9 50.9)" fill="#000" opacity="0.40"/>
<ellipse cx="100.7" cy="56.4" rx="2.1" ry="1.2" transform="rotate(46 100.7 56.4)" fill="#fff" opacity="0.24"/>
<ellipse cx="89.2" cy="80.5" rx="3.5" ry="2.3" transform="rotate(173 89.2 80.5)" fill="#fff" opacity="0.24"/>
<ellipse cx="129.3" cy="91.3" rx="2.2" ry="1.8" transform="rotate(132 129.3 91.3)" fill="#fff" opacity="0.23"/>
<ellipse cx="107.9" cy="46.7" rx="3.2" ry="2.8" transform="rotate(59 107.9 46.7)" fill="#000" opacity="0.45"/>
<ellipse cx="51.7" cy="148.8" rx="2.0" ry="1.4" transform="rotate(24 51.7 148.8)" fill="#fff" opacity="0.25"/>
<ellipse cx="30.5" cy="147.8" rx="1.5" ry="0.9" transform="rotate(17 30.5 147.8)" fill="#fff" opacity="0.13"/>
<ellipse cx="101.7" cy="58.5" rx="2.1" ry="1.2" transform="rotate(146 101.7 58.5)" fill="#000" opacity="0.53"/>
<ellipse cx="96.9" cy="110.2" rx="2.4" ry="2.2" transform="rotate(104 96.9 110.2)" fill="#fff" opacity="0.16"/>
<ellipse cx="29.4" cy="173.8" rx="2.9" ry="2.7" transform="rotate(84 29.4 173.8)" fill="#000" opacity="0.36"/>
<ellipse cx="111.1" cy="67.6" rx="2.7" ry="2.3" transform="rotate(31 111.1 67.6)" fill="#000" opacity="0.32"/>
<ellipse cx="99.4" cy="62.8" rx="2.5" ry="2.3" transform="rotate(137 99.4 62.8)" fill="#000" opacity="0.41"/>
<ellipse cx="68.2" cy="121.5" rx="3.1" ry="3.4" transform="rotate(95 68.2 121.5)" fill="#000" opacity="0.33"/>
<ellipse cx="93.2" cy="127.3" rx="2.4" ry="2.4" transform="rotate(39 93.2 127.3)" fill="#000" opacity="0.40"/>
<ellipse cx="54.4" cy="154.4" rx="3.5" ry="1.9" transform="rotate(61 54.4 154.4)" fill="#000" opacity="0.52"/>
<ellipse cx="80.5" cy="90.5" rx="3.4" ry="3.5" transform="rotate(162 80.5 90.5)" fill="#fff" opacity="0.30"/>
<ellipse cx="72.0" cy="127.1" rx="3.4" ry="3.9" transform="rotate(162 72.0 127.1)" fill="#fff" opacity="0.21"/>
<ellipse cx="60.7" cy="85.1" rx="3.4" ry="3.3" transform="rotate(144 60.7 85.1)" fill="#fff" opacity="0.14"/>
<ellipse cx="53.9" cy="102.8" rx="3.3" ry="2.9" transform="rotate(127 53.9 102.8)" fill="#000" opacity="0.41"/>
<ellipse cx="106.4" cy="57.1" rx="2.9" ry="3.1" transform="rotate(179 106.4 57.1)" fill="#000" opacity="0.45"/>
<ellipse cx="119.9" cy="104.8" rx="1.8" ry="1.9" transform="rotate(17 119.9 104.8)" fill="#fff" opacity="0.17"/>
<ellipse cx="72.9" cy="98.0" rx="2.1" ry="2.5" transform="rotate(100 72.9 98.0)" fill="#fff" opacity="0.14"/>
<ellipse cx="47.9" cy="171.9" rx="1.8" ry="1.5" transform="rotate(154 47.9 171.9)" fill="#000" opacity="0.37"/>
<ellipse cx="82.2" cy="110.0" rx="1.9" ry="1.7" transform="rotate(90 82.2 110.0)" fill="#fff" opacity="0.16"/>
<ellipse cx="35.8" cy="155.9" rx="2.9" ry="3.0" transform="rotate(62 35.8 155.9)" fill="#fff" opacity="0.19"/>
<ellipse cx="69.9" cy="94.5" rx="2.9" ry="2.5" transform="rotate(66 69.9 94.5)" fill="#000" opacity="0.50"/>
<ellipse cx="72.7" cy="151.8" rx="2.2" ry="2.4" transform="rotate(145 72.7 151.8)" fill="#000" opacity="0.49"/>
<ellipse cx="29.8" cy="159.0" rx="2.7" ry="2.8" transform="rotate(88 29.8 159.0)" fill="#000" opacity="0.54"/>
<ellipse cx="116.8" cy="55.6" rx="1.9" ry="1.7" transform="rotate(86 116.8 55.6)" fill="#fff" opacity="0.12"/>
<ellipse cx="128.1" cy="69.0" rx="2.5" ry="1.3" transform="rotate(68 128.1 69.0)" fill="#000" opacity="0.54"/>
<ellipse cx="71.2" cy="103.4" rx="3.3" ry="2.7" transform="rotate(81 71.2 103.4)" fill="#000" opacity="0.36"/>
<ellipse cx="116.0" cy="71.1" rx="2.8" ry="3.2" transform="rotate(45 116.0 71.1)" fill="#000" opacity="0.44"/>
<ellipse cx="81.5" cy="91.1" rx="3.0" ry="2.9" transform="rotate(105 81.5 91.1)" fill="#fff" opacity="0.15"/>
<ellipse cx="28.9" cy="159.0" rx="3.2" ry="3.6" transform="rotate(70 28.9 159.0)" fill="#fff" opacity="0.29"/>
<ellipse cx="75.4" cy="110.2" rx="3.3" ry="2.3" transform="rotate(176 75.4 110.2)" fill="#000" opacity="0.50"/>
<ellipse cx="47.4" cy="110.2" rx="2.7" ry="1.5" transform="rotate(104 47.4 110.2)" fill="#fff" opacity="0.17"/>
<ellipse cx="37.6" cy="111.4" rx="2.4" ry="1.9" transform="rotate(21 37.6 111.4)" fill="#000" opacity="0.45"/>
<ellipse cx="113.1" cy="107.8" rx="2.2" ry="2.6" transform="rotate(97 113.1 107.8)" fill="#000" opacity="0.42"/>
<ellipse cx="40.7" cy="151.4" rx="3.1" ry="1.7" transform="rotate(25 40.7 151.4)" fill="#fff" opacity="0.21"/>
<ellipse cx="46.9" cy="99.3" rx="1.8" ry="1.5" transform="rotate(102 46.9 99.3)" fill="#fff" opacity="0.23"/>
<ellipse cx="72.1" cy="110.1" rx="2.8" ry="2.0" transform="rotate(170 72.1 110.1)" fill="#fff" opacity="0.25"/>
<ellipse cx="23.0" cy="159.1" rx="2.6" ry="2.4" transform="rotate(4 23.0 159.1)" fill="#000" opacity="0.50"/>
<ellipse cx="54.1" cy="171.6" rx="3.4" ry="3.0" transform="rotate(106 54.1 171.6)" fill="#fff" opacity="0.22"/>
<ellipse cx="49.8" cy="88.7" rx="2.3" ry="1.3" transform="rotate(29 49.8 88.7)" fill="#000" opacity="0.49"/>
<ellipse cx="29.7" cy="115.0" rx="3.5" ry="2.7" transform="rotate(180 29.7 115.0)" fill="#000" opacity="0.39"/>
<ellipse cx="59.3" cy="141.1" rx="2.8" ry="1.8" transform="rotate(12 59.3 141.1)" fill="#000" opacity="0.38"/>
<ellipse cx="19.8" cy="125.3" rx="2.0" ry="1.0" transform="rotate(146 19.8 125.3)" fill="#000" opacity="0.49"/>
<ellipse cx="12.9" cy="153.8" rx="2.4" ry="1.8" transform="rotate(38 12.9 153.8)" fill="#fff" opacity="0.20"/>
<ellipse cx="79.0" cy="74.8" rx="1.9" ry="1.3" transform="rotate(46 79.0 74.8)" fill="#fff" opacity="0.27"/>
<ellipse cx="107.5" cy="71.0" rx="2.2" ry="2.5" transform="rotate(83 107.5 71.0)" fill="#fff" opacity="0.13"/>
<ellipse cx="107.7" cy="92.7" rx="1.9" ry="1.6" transform="rotate(36 107.7 92.7)" fill="#000" opacity="0.39"/>
<ellipse cx="28.1" cy="149.6" rx="2.6" ry="2.0" transform="rotate(113 28.1 149.6)" fill="#000" opacity="0.37"/>
<ellipse cx="52.7" cy="98.4" rx="3.2" ry="2.6" transform="rotate(73 52.7 98.4)" fill="#fff" opacity="0.26"/>
<ellipse cx="47.8" cy="127.1" rx="2.2" ry="1.1" transform="rotate(13 47.8 127.1)" fill="#000" opacity="0.40"/>
<ellipse cx="35.1" cy="110.1" rx="3.0" ry="2.4" transform="rotate(131 35.1 110.1)" fill="#000" opacity="0.35"/>
<ellipse cx="114.0" cy="109.1" rx="1.9" ry="1.5" transform="rotate(159 114.0 109.1)" fill="#000" opacity="0.51"/>
</g>
<g filter="url(#sp)" fill="#fff">
<ellipse cx="127.5" cy="64.6" rx="4.8" ry="4.2" opacity="0.50"/>
<ellipse cx="127.5" cy="64.6" rx="3.3" ry="2.9" opacity="1.00"/>
<ellipse cx="96.1" cy="76.9" rx="3.2" ry="3.2" opacity="0.47"/>
<ellipse cx="96.1" cy="76.9" rx="2.2" ry="2.2" opacity="0.95"/>
<ellipse cx="72" cy="84.2" rx="3.2" ry="3.2" opacity="0.47"/>
<ellipse cx="72" cy="84.2" rx="2.2" ry="2.2" opacity="0.95"/>
<ellipse cx="135.8" cy="52" rx="2.2" ry="8.0" opacity="0.45"/>
<ellipse cx="135.8" cy="52" rx="1.5" ry="5.5" opacity="0.90"/>
<ellipse cx="128.7" cy="43.5" rx="2.6" ry="2.6" opacity="0.35"/>
<ellipse cx="128.7" cy="43.5" rx="1.8" ry="1.8" opacity="0.70"/>
<ellipse cx="134.9" cy="34.2" rx="2.2" ry="2.2" opacity="0.33"/>
<ellipse cx="134.9" cy="34.2" rx="1.5" ry="1.5" opacity="0.65"/>
<ellipse cx="26" cy="145.4" rx="3.2" ry="3.2" opacity="0.47"/>
<ellipse cx="26" cy="145.4" rx="2.2" ry="2.2" opacity="0.95"/>
<ellipse cx="24.2" cy="155.8" rx="3.2" ry="3.2" opacity="0.47"/>
<ellipse cx="24.2" cy="155.8" rx="2.2" ry="2.2" opacity="0.95"/>
<ellipse cx="38.8" cy="166" rx="2.7" ry="3.5" opacity="0.40"/>
<ellipse cx="38.8" cy="166" rx="1.9" ry="2.4" opacity="0.80"/>
<ellipse cx="71.6" cy="160" rx="3.8" ry="5.1" opacity="0.50"/>
<ellipse cx="71.6" cy="160" rx="2.6" ry="3.5" opacity="1.00"/>
<ellipse cx="91.3" cy="141.2" rx="2.6" ry="3.5" opacity="0.38"/>
<ellipse cx="91.3" cy="141.2" rx="1.8" ry="2.4" opacity="0.75"/>
<ellipse cx="100.8" cy="110.5" rx="4.2" ry="2.9" opacity="0.40"/>
<ellipse cx="100.8" cy="110.5" rx="2.9" ry="2.0" opacity="0.80"/>
<ellipse cx="105" cy="157" rx="2.6" ry="2.6" opacity="0.38"/>
<ellipse cx="105" cy="157" rx="1.8" ry="1.8" opacity="0.75"/>
<ellipse cx="41.9" cy="88.2" rx="2.6" ry="3.8" opacity="0.40"/>
<ellipse cx="41.9" cy="88.2" rx="1.8" ry="2.6" opacity="0.80"/>
<ellipse cx="108.9" cy="95" rx="2.4" ry="2.4" opacity="0.33"/>
<ellipse cx="108.9" cy="95" rx="1.7" ry="1.7" opacity="0.65"/>
<ellipse cx="30.8" cy="92.5" rx="3.7" ry="3.7" opacity="0.21"/>
<ellipse cx="30.8" cy="92.5" rx="2.5" ry="2.5" opacity="0.42"/>
<ellipse cx="117.5" cy="124.7" rx="2.6" ry="2.6" opacity="0.25"/>
<ellipse cx="117.5" cy="124.7" rx="1.8" ry="1.8" opacity="0.50"/>
<ellipse cx="106.4" cy="80.7" rx="2.2" ry="2.2" opacity="0.30"/>
<ellipse cx="106.4" cy="80.7" rx="1.5" ry="1.5" opacity="0.60"/>
<ellipse cx="55" cy="98" rx="3.2" ry="3.2" opacity="0.25"/>
<ellipse cx="55" cy="98" rx="2.2" ry="2.2" opacity="0.50"/>
<ellipse cx="69.2" cy="122.8" rx="2.9" ry="2.9" opacity="0.25"/>
<ellipse cx="69.2" cy="122.8" rx="2.0" ry="2.0" opacity="0.50"/>
<ellipse cx="51.2" cy="104.9" rx="2.9" ry="2.9" opacity="0.23"/>
<ellipse cx="51.2" cy="104.9" rx="2.0" ry="2.0" opacity="0.45"/>
<ellipse cx="78.5" cy="111.7" rx="3.2" ry="3.2" opacity="0.23"/>
<ellipse cx="78.5" cy="111.7" rx="2.2" ry="2.2" opacity="0.45"/>
<ellipse cx="119.5" cy="126" rx="2.9" ry="2.9" opacity="0.25"/>
<ellipse cx="119.5" cy="126" rx="2.0" ry="2.0" opacity="0.50"/>
<ellipse cx="123.7" cy="109.8" rx="2.6" ry="2.6" opacity="0.20"/>
<ellipse cx="123.7" cy="109.8" rx="1.8" ry="1.8" opacity="0.40"/>
<ellipse cx="131" cy="67.7" rx="3.2" ry="3.2" opacity="0.25"/>
<ellipse cx="131" cy="67.7" rx="2.2" ry="2.2" opacity="0.50"/>
<ellipse cx="48.1" cy="104.9" rx="2.6" ry="2.6" opacity="0.23"/>
<ellipse cx="48.1" cy="104.9" rx="1.8" ry="1.8" opacity="0.45"/>
<ellipse cx="38.8" cy="53.4" rx="3.2" ry="3.2" opacity="0.19"/>
<ellipse cx="38.8" cy="53.4" rx="2.2" ry="2.2" opacity="0.38"/>
</g>
</g>
<g fill="none" stroke="#ff0000" stroke-width="1.6" stroke-linejoin="round" stroke-linecap="round">
<path d="M95.9,48.5 96.5,46.8 99.0,46.6 99.4,51.0 99.6,56.5 101.4,57.7 105.0,59.5 108.9,61.5 117.5,59.6 117.5,67.7 112.6,68.9 108.3,61.5 112.0,66.0 116.0,62.0 114.0,68.0 113.2,74.0 110.4,78.3 106.6,82.1 102.0,82.9"/>
<path d="M102.0,82.9 100.5,76.0 99.0,82.0 95.0,79.0 90.0,81.0 84.0,79.5 78.0,78.5 75.0,80.5 80.0,84.0 88.0,85.0 95.0,84.0 102.8,85.2 96.0,82.0 88.0,79.5 80.0,82.0 76.0,83.5"/>
<path d="M75.4,80.7 72.3,91.9 69.8,95.6 69.2,105.5 67.3,109.2 63.0,114.2 63.6,119.1 59.0,120.5"/>
<path d="M59.0,120.5 56.6,122.5 55.6,134.6 58.4,136.5 51.0,134.6 43.5,137.5 39.7,130.0 42.5,140.3 47.0,134.0 40.6,136.0 35.0,135.6 28.5,140.3 29.4,146.8 36.0,142.1 47.2,139.3 56.6,136.5"/>
<path d="M89.7,86.0 86.0,99.3 87.2,106.7 84.7,110.5 94.0,109.2 97.7,108.0 103.9,104.3 111.3,103.0 116.9,95.6 113.8,106.7 112.6,109.2 106.4,109.8 106.4,104.9"/>
<path d="M97.7,88.2 97.7,99.3 103.9,104.3"/>
<path d="M102.7,83.2 108.0,80.0 113.2,77.0 113.2,74.0"/>
<path d="M80.5,83.7 93.1,82.1 81.8,84.4 97.8,82.3 89.6,80.3 76.1,81.3 91.8,79.0 97.4,80.2 82.3,78.8 102.9,84.0 99.6,83.1 76.9,81.0 89.4,79.4 101.7,81.3 80.2,84.6 79.4,85.5 88.2,82.6 85.3,82.1 81.0,78.8 99.4,80.3 97.1,80.1 102.2,85.2 96.4,84.2 91.7,84.0 79.3,82.1 98.3,80.0 100.9,85.2 87.1,81.2 88.2,81.4 102.9,81.4 76.7,79.2 95.4,85.9 89.4,82.2 90.9,84.1 82.0,83.1 91.0,83.2 80.9,79.8 85.4,85.5 85.4,83.0 84.3,79.3 77.8,84.6 97.0,81.3 94.5,83.6 100.3,85.7 87.0,85.9 102.0,82.9" stroke-width="1.3"/>
<path d="M116.4,63.9 111.9,61.7 116.4,61.0 109.1,66.7 115.5,63.8 116.0,60.0 110.8,62.1 112.3,61.0 109.1,62.5 116.6,68.4 115.2,63.8 110.8,68.1 113.2,66.1 108.8,61.4" stroke-width="1.3"/>
<path d="M110.8,109.7 111.6,108.9 102.5,108.8 111.0,107.7 104.7,107.6 109.4,106.5 107.7,110.3 94.5,108.9 106.9,109.9 105.7,107.5 102.1,110.3 112.1,107.0 95.9,106.9 94.5,108.3 96.8,110.0 107.1,107.0" stroke-width="1.3"/>
</g>
<path d="M101.7,40.2 L105.9,44.4 L101.7,48.6 L97.5,44.4 Z" fill="#fff" stroke="#333" stroke-width="0.4"/>
<g transform="translate(58.2,120.0) scale(1.2)" stroke="#000" stroke-width="0.6" stroke-dasharray="0.8 0.6" fill="#fff"><path d="M0,-4 L1,-1.3 L3.8,-1.3 L1.5,0.5 L2.4,3.3 L0,1.6 L-2.4,3.3 L-1.5,0.5 L-3.8,-1.3 L-1,-1.3 Z"/></g>
<g fill="#fff"><circle cx="53.6" cy="117" r="0.6"/><circle cx="53.6" cy="120.3" r="0.6"/><circle cx="53.6" cy="123.6" r="0.6"/><circle cx="63.2" cy="117" r="0.6"/><circle cx="63.2" cy="120.3" r="0.6"/><circle cx="63.2" cy="123.6" r="0.6"/></g>
<text x="23.3" y="123.5" font-size="12" fill="#fff">sFoV</text>
</g>
<rect x="6" y="28.5" width="131" height="145" fill="none" stroke="#000" stroke-width="0.8"/>
<rect x="146" y="29" width="6.4" height="144.5" fill="url(#gvir)" stroke="#000" stroke-width="0.8"/>
<line x1="152.4" y1="162" x2="155.2" y2="162" stroke="#000" stroke-width="0.8"/>
<text x="156.4" y="165.7" font-size="10.5" text-anchor="start" fill="#000">20</text>
<line x1="152.4" y1="130.7" x2="155.2" y2="130.7" stroke="#000" stroke-width="0.8"/>
<text x="156.4" y="134.4" font-size="10.5" text-anchor="start" fill="#000">40</text>
<line x1="152.4" y1="99.4" x2="155.2" y2="99.4" stroke="#000" stroke-width="0.8"/>
<text x="156.4" y="103.1" font-size="10.5" text-anchor="start" fill="#000">60</text>
<line x1="152.4" y1="68.1" x2="155.2" y2="68.1" stroke="#000" stroke-width="0.8"/>
<text x="156.4" y="71.8" font-size="10.5" text-anchor="start" fill="#000">80</text>
<line x1="152.4" y1="36.8" x2="155.2" y2="36.8" stroke="#000" stroke-width="0.8"/>
<text x="156.4" y="40.5" font-size="10.5" text-anchor="start" fill="#000">100</text>
<text x="182.5" y="101.4" font-size="12.2" text-anchor="middle" fill="#000" transform="rotate(-90 182.5 101.4)">intensity (counts)</text>
<rect x="108" y="166.2" width="26" height="3.4" fill="#fff" stroke="none" stroke-width="1"/>
<text x="121" y="162.5" font-size="12" text-anchor="middle" fill="#fff">2 μm</text>
<g clip-path="url(#clipC)">
<path d="M448.4,161.5 L450.7,161.3 L453.0,161.1 L455.3,160.8 L457.6,160.4 L459.9,160.0 L462.2,159.5 L464.5,159.0 L466.8,158.4 L469.1,157.7 L471.4,157.0 L473.7,156.3 L476.0,155.5 L478.3,154.7 L480.6,153.9 L482.9,153.0 L485.2,152.2 L487.5,151.2 L489.8,150.3 L492.1,149.3 L494.4,148.3 L496.7,147.3 L499.0,146.3 L501.3,145.3 L503.6,144.2 L505.9,143.1 L508.1,142.0 L510.4,140.9 L512.7,139.8 L515.0,138.7 L517.3,137.6 L519.6,136.4 L521.9,135.2 L524.2,134.1 L526.5,132.9 L528.8,131.7 L531.1,130.6 L533.4,129.4 L535.7,128.2 L538.0,127.0 L540.3,125.8 L542.6,124.5 L544.9,123.3 L547.2,122.1 L549.5,120.9 L551.8,119.7 L554.1,118.4 L556.4,117.2 L558.7,115.9 L561.0,114.7 L563.3,113.5 L565.6,112.2 L567.9,111.0 L570.2,109.7 L572.5,108.5 L574.8,107.2 L577.1,106.0 L579.4,104.7 L581.7,103.5 L584.0,102.2 L586.3,100.9 L588.6,99.7 L590.9,98.4 L593.2,97.2 L595.5,95.9 L597.8,94.6 L600.1,93.4 L602.4,92.1 L604.7,90.8 L607.0,89.6 L609.3,88.3 L611.6,87.0 L613.9,85.8 L616.2,84.5 L618.5,83.2 L620.8,81.9 L623.0,80.7 L625.3,79.4 L627.6,78.1 L629.9,76.9 L632.2,75.6 L634.5,74.3 L636.8,73.0 L639.1,71.8 L641.4,70.5 L643.7,69.2 L646.0,68.0 L648.3,66.7 L650.6,65.4 L652.9,64.1 L655.2,62.9 L657.5,61.6 L659.8,60.3 L662.1,59.0 L664.4,57.8 L666.7,56.5 L669.0,55.2 L671.3,53.9 L673.6,52.7 L675.9,51.4 L678.2,50.1 L678.2,62.3 L675.9,63.4 L673.6,64.6 L671.3,65.7 L669.0,66.9 L666.7,68.0 L664.4,69.2 L662.1,70.3 L659.8,71.5 L657.5,72.6 L655.2,73.8 L652.9,74.9 L650.6,76.1 L648.3,77.2 L646.0,78.4 L643.7,79.6 L641.4,80.7 L639.1,81.9 L636.8,83.0 L634.5,84.2 L632.2,85.3 L629.9,86.5 L627.6,87.6 L625.3,88.8 L623.0,89.9 L620.8,91.1 L618.5,92.2 L616.2,93.4 L613.9,94.5 L611.6,95.6 L609.3,96.8 L607.0,97.9 L604.7,99.1 L602.4,100.2 L600.1,101.4 L597.8,102.5 L595.5,103.7 L593.2,104.8 L590.9,105.9 L588.6,107.1 L586.3,108.2 L584.0,109.4 L581.7,110.5 L579.4,111.6 L577.1,112.8 L574.8,113.9 L572.5,115.0 L570.2,116.2 L567.9,117.3 L565.6,118.4 L563.3,119.5 L561.0,120.7 L558.7,121.8 L556.4,122.9 L554.1,124.0 L551.8,125.1 L549.5,126.2 L547.2,127.3 L544.9,128.4 L542.6,129.5 L540.3,130.6 L538.0,131.7 L535.7,132.8 L533.4,133.9 L531.1,134.9 L528.8,136.0 L526.5,137.0 L524.2,138.1 L521.9,139.1 L519.6,140.2 L517.3,141.2 L515.0,142.2 L512.7,143.2 L510.4,144.2 L508.1,145.2 L505.9,146.2 L503.6,147.1 L501.3,148.0 L499.0,149.0 L496.7,149.9 L494.4,150.8 L492.1,151.6 L489.8,152.5 L487.5,153.3 L485.2,154.1 L482.9,154.9 L480.6,155.6 L478.3,156.3 L476.0,157.0 L473.7,157.7 L471.4,158.3 L469.1,158.8 L466.8,159.3 L464.5,159.8 L462.2,160.2 L459.9,160.6 L457.6,160.9 L455.3,161.2 L453.0,161.4 L450.7,161.5 L448.4,161.5 Z" fill="#f0a3c9" stroke="none"/>
<path d="M448.4,160.7 L450.7,160.3 L453.0,159.9 L455.3,159.5 L457.6,159.1 L459.9,158.8 L462.2,158.5 L464.5,158.2 L466.8,157.9 L469.1,157.6 L471.4,157.2 L473.7,157.0 L476.0,156.7 L478.3,156.5 L480.6,156.2 L482.9,156.0 L485.2,155.7 L487.5,155.6 L489.8,155.4 L492.1,155.3 L494.4,155.1 L496.7,155.0 L499.0,155.0 L501.3,154.9 L503.6,154.8 L505.9,154.7 L508.1,154.6 L510.4,154.6 L512.7,154.5 L515.0,154.5 L517.3,154.4 L519.6,154.4 L521.9,154.3 L524.2,154.3 L526.5,154.2 L528.8,154.2 L531.1,154.1 L533.4,154.1 L535.7,154.0 L538.0,154.0 L540.3,153.9 L542.6,153.9 L544.9,153.8 L547.2,153.8 L549.5,153.7 L551.8,153.7 L554.1,153.7 L556.4,153.6 L558.7,153.6 L561.0,153.5 L563.3,153.5 L565.6,153.5 L567.9,153.4 L570.2,153.3 L572.5,153.3 L574.8,153.2 L577.1,153.2 L579.4,153.1 L581.7,153.1 L584.0,153.0 L586.3,153.0 L588.6,153.0 L590.9,153.0 L593.2,153.0 L595.5,153.0 L597.8,153.0 L600.1,153.0 L602.4,153.1 L604.7,153.1 L607.0,153.1 L609.3,153.1 L611.6,153.1 L613.9,153.1 L616.2,153.1 L618.5,153.1 L620.8,153.2 L623.0,153.2 L625.3,153.2 L627.6,153.2 L629.9,153.3 L632.2,153.3 L634.5,153.3 L636.8,153.2 L639.1,153.2 L641.4,153.2 L643.7,153.1 L646.0,153.1 L648.3,153.0 L650.6,153.0 L652.9,152.9 L655.2,152.9 L657.5,152.9 L659.8,152.9 L662.1,152.8 L664.4,152.8 L666.7,152.8 L669.0,152.8 L671.3,152.7 L673.6,152.7 L675.9,152.6 L678.2,152.6 L678.2,154.2 L675.9,154.3 L673.6,154.3 L671.3,154.4 L669.0,154.4 L666.7,154.4 L664.4,154.4 L662.1,154.5 L659.8,154.5 L657.5,154.5 L655.2,154.5 L652.9,154.6 L650.6,154.6 L648.3,154.7 L646.0,154.7 L643.7,154.8 L641.4,154.8 L639.1,154.8 L636.8,154.9 L634.5,154.9 L632.2,154.9 L629.9,154.9 L627.6,154.9 L625.3,154.8 L623.0,154.8 L620.8,154.8 L618.5,154.8 L616.2,154.7 L613.9,154.7 L611.6,154.7 L609.3,154.7 L607.0,154.7 L604.7,154.7 L602.4,154.7 L600.1,154.7 L597.8,154.7 L595.5,154.6 L593.2,154.6 L590.9,154.6 L588.6,154.6 L586.3,154.6 L584.0,154.7 L581.7,154.7 L579.4,154.8 L577.1,154.8 L574.8,154.9 L572.5,154.9 L570.2,155.0 L567.9,155.0 L565.6,155.1 L563.3,155.1 L561.0,155.2 L558.7,155.2 L556.4,155.2 L554.1,155.3 L551.8,155.3 L549.5,155.4 L547.2,155.4 L544.9,155.4 L542.6,155.5 L540.3,155.5 L538.0,155.6 L535.7,155.6 L533.4,155.7 L531.1,155.7 L528.8,155.8 L526.5,155.8 L524.2,155.9 L521.9,155.9 L519.6,156.0 L517.3,156.0 L515.0,156.1 L512.7,156.1 L510.4,156.2 L508.1,156.2 L505.9,156.3 L503.6,156.4 L501.3,156.5 L499.0,156.6 L496.7,156.7 L494.4,156.7 L492.1,156.9 L489.8,157.0 L487.5,157.2 L485.2,157.3 L482.9,157.6 L480.6,157.9 L478.3,158.1 L476.0,158.4 L473.7,158.6 L471.4,158.9 L469.1,159.2 L466.8,159.5 L464.5,159.8 L462.2,160.1 L459.9,160.4 L457.6,160.7 L455.3,161.1 L453.0,161.5 L450.7,161.5 L448.4,161.5 Z" fill="#c3d3f8" stroke="none"/>
<path d="M448.4,161.5 L450.7,161.1 L453.0,160.7 L455.3,160.3 L457.6,159.9 L459.9,159.6 L462.2,159.3 L464.5,159.0 L466.8,158.7 L469.1,158.4 L471.4,158.1 L473.7,157.8 L476.0,157.6 L478.3,157.3 L480.6,157.0 L482.9,156.8 L485.2,156.5 L487.5,156.4 L489.8,156.2 L492.1,156.1 L494.4,155.9 L496.7,155.8 L499.0,155.8 L501.3,155.7 L503.6,155.6 L505.9,155.5 L508.1,155.4 L510.4,155.4 L512.7,155.3 L515.0,155.3 L517.3,155.2 L519.6,155.2 L521.9,155.1 L524.2,155.1 L526.5,155.0 L528.8,155.0 L531.1,154.9 L533.4,154.9 L535.7,154.8 L538.0,154.8 L540.3,154.7 L542.6,154.7 L544.9,154.6 L547.2,154.6 L549.5,154.6 L551.8,154.5 L554.1,154.5 L556.4,154.4 L558.7,154.4 L561.0,154.4 L563.3,154.3 L565.6,154.3 L567.9,154.2 L570.2,154.2 L572.5,154.1 L574.8,154.1 L577.1,154.0 L579.4,154.0 L581.7,153.9 L584.0,153.9 L586.3,153.8 L588.6,153.8 L590.9,153.8 L593.2,153.8 L595.5,153.8 L597.8,153.8 L600.1,153.9 L602.4,153.9 L604.7,153.9 L607.0,153.9 L609.3,153.9 L611.6,153.9 L613.9,153.9 L616.2,153.9 L618.5,154.0 L620.8,154.0 L623.0,154.0 L625.3,154.0 L627.6,154.1 L629.9,154.1 L632.2,154.1 L634.5,154.1 L636.8,154.0 L639.1,154.0 L641.4,154.0 L643.7,153.9 L646.0,153.9 L648.3,153.9 L650.6,153.8 L652.9,153.8 L655.2,153.7 L657.5,153.7 L659.8,153.7 L662.1,153.7 L664.4,153.6 L666.7,153.6 L669.0,153.6 L671.3,153.6 L673.6,153.5 L675.9,153.5 L678.2,153.4" fill="none" stroke="#6b93ef" stroke-width="1.4"/>
<g fill="#6b93ef"><circle cx="448.40" cy="161.50" r="1.75"/><circle cx="453.00" cy="160.69" r="1.75"/><circle cx="457.59" cy="159.88" r="1.75"/><circle cx="462.19" cy="159.27" r="1.75"/><circle cx="466.78" cy="158.66" r="1.75"/><circle cx="471.38" cy="158.06" r="1.75"/><circle cx="475.98" cy="157.55" r="1.75"/><circle cx="480.57" cy="157.04" r="1.75"/><circle cx="485.17" cy="156.54" r="1.75"/><circle cx="489.76" cy="156.24" r="1.75"/><circle cx="494.36" cy="155.93" r="1.75"/><circle cx="498.96" cy="155.76" r="1.75"/><circle cx="503.55" cy="155.59" r="1.75"/><circle cx="508.15" cy="155.43" r="1.75"/><circle cx="512.74" cy="155.32" r="1.75"/><circle cx="517.34" cy="155.22" r="1.75"/><circle cx="521.94" cy="155.12" r="1.75"/><circle cx="526.53" cy="155.02" r="1.75"/><circle cx="531.13" cy="154.92" r="1.75"/><circle cx="535.72" cy="154.82" r="1.75"/><circle cx="540.32" cy="154.72" r="1.75"/><circle cx="544.92" cy="154.64" r="1.75"/><circle cx="549.51" cy="154.55" r="1.75"/><circle cx="554.11" cy="154.47" r="1.75"/><circle cx="558.70" cy="154.39" r="1.75"/><circle cx="563.30" cy="154.31" r="1.75"/><circle cx="567.90" cy="154.21" r="1.75"/><circle cx="572.49" cy="154.11" r="1.75"/><circle cx="577.09" cy="154.01" r="1.75"/><circle cx="581.68" cy="153.91" r="1.75"/><circle cx="586.28" cy="153.81" r="1.75"/><circle cx="590.88" cy="153.82" r="1.75"/><circle cx="595.47" cy="153.84" r="1.75"/><circle cx="600.07" cy="153.86" r="1.75"/><circle cx="604.66" cy="153.87" r="1.75"/><circle cx="609.26" cy="153.89" r="1.75"/><circle cx="613.86" cy="153.91" r="1.75"/><circle cx="618.45" cy="153.96" r="1.75"/><circle cx="623.05" cy="154.01" r="1.75"/><circle cx="627.64" cy="154.06" r="1.75"/><circle cx="632.24" cy="154.11" r="1.75"/><circle cx="636.84" cy="154.04" r="1.75"/><circle cx="641.43" cy="153.97" r="1.75"/><circle cx="646.03" cy="153.91" r="1.75"/><circle cx="650.62" cy="153.81" r="1.75"/><circle cx="655.22" cy="153.70" r="1.75"/><circle cx="659.82" cy="153.67" r="1.75"/><circle cx="664.41" cy="153.64" r="1.75"/><circle cx="669.01" cy="153.60" r="1.75"/><circle cx="673.60" cy="153.50" r="1.75"/><circle cx="678.20" cy="153.40" r="1.75"/></g>
<path d="M448.4,161.5 L450.7,161.4 L453.0,161.2 L455.3,161.0 L457.6,160.7 L459.9,160.3 L462.2,159.9 L464.5,159.4 L466.8,158.9 L469.1,158.3 L471.4,157.7 L473.7,157.0 L476.0,156.3 L478.3,155.5 L480.6,154.8 L482.9,154.0 L485.2,153.1 L487.5,152.3 L489.8,151.4 L492.1,150.5 L494.4,149.5 L496.7,148.6 L499.0,147.6 L501.3,146.7 L503.6,145.7 L505.9,144.6 L508.1,143.6 L510.4,142.6 L512.7,141.5 L515.0,140.4 L517.3,139.4 L519.6,138.3 L521.9,137.2 L524.2,136.1 L526.5,135.0 L528.8,133.9 L531.1,132.7 L533.4,131.6 L535.7,130.5 L538.0,129.3 L540.3,128.2 L542.6,127.0 L544.9,125.9 L547.2,124.7 L549.5,123.6 L551.8,122.4 L554.1,121.2 L556.4,120.0 L558.7,118.9 L561.0,117.7 L563.3,116.5 L565.6,115.3 L567.9,114.1 L570.2,112.9 L572.5,111.8 L574.8,110.6 L577.1,109.4 L579.4,108.2 L581.7,107.0 L584.0,105.8 L586.3,104.6 L588.6,103.4 L590.9,102.2 L593.2,101.0 L595.5,99.8 L597.8,98.6 L600.1,97.4 L602.4,96.2 L604.7,95.0 L607.0,93.8 L609.3,92.5 L611.6,91.3 L613.9,90.1 L616.2,88.9 L618.5,87.7 L620.8,86.5 L623.0,85.3 L625.3,84.1 L627.6,82.9 L629.9,81.7 L632.2,80.4 L634.5,79.2 L636.8,78.0 L639.1,76.8 L641.4,75.6 L643.7,74.4 L646.0,73.2 L648.3,72.0 L650.6,70.8 L652.9,69.5 L655.2,68.3 L657.5,67.1 L659.8,65.9 L662.1,64.7 L664.4,63.5 L666.7,62.3 L669.0,61.0 L671.3,59.8 L673.6,58.6 L675.9,57.4 L678.2,56.2" fill="none" stroke="#d6287e" stroke-width="1.4"/>
<g fill="#d6287e"><circle cx="448.40" cy="161.50" r="1.75"/><circle cx="453.00" cy="161.24" r="1.75"/><circle cx="457.59" cy="160.69" r="1.75"/><circle cx="462.19" cy="159.88" r="1.75"/><circle cx="466.78" cy="158.86" r="1.75"/><circle cx="471.38" cy="157.65" r="1.75"/><circle cx="475.98" cy="156.28" r="1.75"/><circle cx="480.57" cy="154.76" r="1.75"/><circle cx="485.17" cy="153.13" r="1.75"/><circle cx="489.76" cy="151.38" r="1.75"/><circle cx="494.36" cy="149.55" r="1.75"/><circle cx="498.96" cy="147.63" r="1.75"/><circle cx="503.55" cy="145.65" r="1.75"/><circle cx="508.15" cy="143.61" r="1.75"/><circle cx="512.74" cy="141.51" r="1.75"/><circle cx="517.34" cy="139.37" r="1.75"/><circle cx="521.94" cy="137.19" r="1.75"/><circle cx="526.53" cy="134.98" r="1.75"/><circle cx="531.13" cy="132.74" r="1.75"/><circle cx="535.72" cy="130.47" r="1.75"/><circle cx="540.32" cy="128.18" r="1.75"/><circle cx="544.92" cy="125.88" r="1.75"/><circle cx="549.51" cy="123.55" r="1.75"/><circle cx="554.11" cy="121.22" r="1.75"/><circle cx="558.70" cy="118.86" r="1.75"/><circle cx="563.30" cy="116.50" r="1.75"/><circle cx="567.90" cy="114.13" r="1.75"/><circle cx="572.49" cy="111.76" r="1.75"/><circle cx="577.09" cy="109.37" r="1.75"/><circle cx="581.68" cy="106.98" r="1.75"/><circle cx="586.28" cy="104.58" r="1.75"/><circle cx="590.88" cy="102.18" r="1.75"/><circle cx="595.47" cy="99.78" r="1.75"/><circle cx="600.07" cy="97.37" r="1.75"/><circle cx="604.66" cy="94.96" r="1.75"/><circle cx="609.26" cy="92.54" r="1.75"/><circle cx="613.86" cy="90.13" r="1.75"/><circle cx="618.45" cy="87.71" r="1.75"/><circle cx="623.05" cy="85.29" r="1.75"/><circle cx="627.64" cy="82.87" r="1.75"/><circle cx="632.24" cy="80.45" r="1.75"/><circle cx="636.84" cy="78.03" r="1.75"/><circle cx="641.43" cy="75.60" r="1.75"/><circle cx="646.03" cy="73.18" r="1.75"/><circle cx="650.62" cy="70.75" r="1.75"/><circle cx="655.22" cy="68.32" r="1.75"/><circle cx="659.82" cy="65.90" r="1.75"/><circle cx="664.41" cy="63.47" r="1.75"/><circle cx="669.01" cy="61.04" r="1.75"/><circle cx="673.60" cy="58.62" r="1.75"/><circle cx="678.20" cy="56.19" r="1.75"/></g>
</g>
<rect x="448.4" y="30" width="229.8" height="131.3" fill="none" stroke="#000" stroke-width="1"/>
<line x1="448.4" y1="161.3" x2="448.4" y2="164.5" stroke="#000" stroke-width="0.8"/>
<text x="448.4" y="173.1" font-size="10.1" text-anchor="middle" fill="#000">0.0</text>
<line x1="494.36" y1="161.3" x2="494.36" y2="164.5" stroke="#000" stroke-width="0.8"/>
<text x="494.36" y="173.1" font-size="10.1" text-anchor="middle" fill="#000">0.1</text>
<line x1="540.32" y1="161.3" x2="540.32" y2="164.5" stroke="#000" stroke-width="0.8"/>
<text x="540.32" y="173.1" font-size="10.1" text-anchor="middle" fill="#000">0.2</text>
<line x1="586.28" y1="161.3" x2="586.28" y2="164.5" stroke="#000" stroke-width="0.8"/>
<text x="586.28" y="173.1" font-size="10.1" text-anchor="middle" fill="#000">0.3</text>
<line x1="632.24" y1="161.3" x2="632.24" y2="164.5" stroke="#000" stroke-width="0.8"/>
<text x="632.24" y="173.1" font-size="10.1" text-anchor="middle" fill="#000">0.4</text>
<line x1="678.2" y1="161.3" x2="678.2" y2="164.5" stroke="#000" stroke-width="0.8"/>
<text x="678.2" y="173.1" font-size="10.1" text-anchor="middle" fill="#000">0.5</text>
<line x1="445.2" y1="161.5" x2="448.4" y2="161.5" stroke="#000" stroke-width="0.8"/>
<text x="444.3" y="165" font-size="10.1" text-anchor="end" fill="#000">0.0</text>
<line x1="445.2" y1="141.25" x2="448.4" y2="141.25" stroke="#000" stroke-width="0.8"/>
<text x="444.3" y="144.75" font-size="10.1" text-anchor="end" fill="#000">0.2</text>
<line x1="445.2" y1="121" x2="448.4" y2="121" stroke="#000" stroke-width="0.8"/>
<text x="444.3" y="124.5" font-size="10.1" text-anchor="end" fill="#000">0.4</text>
<line x1="445.2" y1="100.75" x2="448.4" y2="100.75" stroke="#000" stroke-width="0.8"/>
<text x="444.3" y="104.25" font-size="10.1" text-anchor="end" fill="#000">0.6</text>
<line x1="445.2" y1="80.5" x2="448.4" y2="80.5" stroke="#000" stroke-width="0.8"/>
<text x="444.3" y="84" font-size="10.1" text-anchor="end" fill="#000">0.8</text>
<line x1="445.2" y1="60.25" x2="448.4" y2="60.25" stroke="#000" stroke-width="0.8"/>
<text x="444.3" y="63.75" font-size="10.1" text-anchor="end" fill="#000">1.0</text>
<line x1="445.2" y1="40" x2="448.4" y2="40" stroke="#000" stroke-width="0.8"/>
<text x="444.3" y="43.5" font-size="10.1" text-anchor="end" fill="#000">1.2</text>
<text x="563.2" y="183" font-size="12" text-anchor="middle" fill="#000">δt (s)</text>
<text x="427.4" y="96.3" font-size="12.2" text-anchor="middle" fill="#000" transform="rotate(-90 427.4 96.3)">MSD (μm<tspan font-size="8" dy="-4.5">2</tspan><tspan dy="4.5">)</tspan></text>
<rect x="605.6" y="102.3" width="63.4" height="24.2" rx="2" fill="#fff" fill-opacity="0.8" stroke="#d0d0d0" stroke-width="0.8"/>
<line x1="607.6" y1="109.9" x2="622.8" y2="109.9" stroke="#dd3b8a" stroke-width="1.6"/>
<circle cx="615.2" cy="109.9" r="1.9" fill="#dd3b8a"/>
<line x1="607.6" y1="119.4" x2="622.8" y2="119.4" stroke="#6f96f0" stroke-width="1.6"/>
<circle cx="615.2" cy="119.4" r="1.9" fill="#6f96f0"/>
<text x="627.6" y="112.9" font-size="10.1" text-anchor="start" fill="#000">wild type</text>
<text x="627.6" y="122.4" font-size="10.1" text-anchor="start" fill="#000">treated</text>
<rect x="478.3" y="34.7" width="98.8" height="56" fill="#fff" stroke="none" stroke-width="1"/>
<path d="M478.3,89.8 L479.3,87.1 L480.3,84.5 L481.3,81.8 L482.3,79.0 L483.2,76.9 L484.2,74.8 L485.2,72.7 L486.2,70.6 L487.2,68.5 L488.2,66.4 L489.2,64.6 L490.2,62.9 L491.1,61.2 L492.1,59.5 L493.1,57.9 L494.1,56.3 L495.1,55.3 L496.1,54.3 L497.1,53.4 L498.1,52.4 L499.0,52.0 L500.0,51.5 L501.0,51.0 L502.0,50.5 L503.0,50.0 L504.0,49.4 L505.0,49.1 L506.0,48.6 L507.0,48.2 L507.9,47.8 L508.9,47.3 L509.9,46.9 L510.9,46.4 L511.9,46.0 L512.9,45.5 L513.9,45.1 L514.9,44.8 L515.8,44.4 L516.8,44.1 L517.8,43.8 L518.8,43.6 L519.8,43.4 L520.8,43.2 L521.8,43.1 L522.8,42.9 L523.7,42.7 L524.7,42.5 L525.7,42.3 L526.7,42.1 L527.7,41.9 L528.7,41.5 L529.7,41.1 L530.7,40.7 L531.7,40.3 L532.6,39.9 L533.6,39.4 L534.6,38.9 L535.6,38.5 L536.6,38.0 L537.6,37.6 L538.6,37.6 L539.6,37.6 L540.5,37.6 L541.5,37.6 L542.5,37.7 L543.5,37.8 L544.5,37.9 L545.5,38.0 L546.5,38.1 L547.5,38.3 L548.4,38.4 L549.4,38.5 L550.4,38.7 L551.4,38.9 L552.4,39.1 L553.4,39.2 L554.4,39.3 L555.4,39.3 L556.4,39.4 L557.3,39.4 L558.3,39.1 L559.3,38.7 L560.3,38.3 L561.3,38.0 L562.3,37.7 L563.3,37.4 L564.3,37.0 L565.2,36.6 L566.2,36.3 L567.2,36.0 L568.2,35.9 L569.2,35.9 L570.2,35.9 L571.2,35.8 L572.2,35.8 L573.1,35.8 L574.1,35.6 L575.1,35.3 L576.1,35.0 L577.1,34.7 L577.1,47.1 L576.1,47.5 L575.1,47.8 L574.1,48.2 L573.1,48.5 L572.2,48.7 L571.2,48.9 L570.2,49.1 L569.2,49.3 L568.2,49.4 L567.2,49.6 L566.2,49.9 L565.2,50.2 L564.3,50.5 L563.3,50.7 L562.3,50.8 L561.3,50.9 L560.3,51.0 L559.3,51.0 L558.3,51.1 L557.3,51.2 L556.4,50.9 L555.4,50.6 L554.4,50.4 L553.4,50.1 L552.4,49.9 L551.4,49.8 L550.4,49.7 L549.4,49.5 L548.4,49.6 L547.5,49.6 L546.5,49.6 L545.5,49.6 L544.5,49.7 L543.5,49.7 L542.5,49.7 L541.5,49.6 L540.5,49.6 L539.6,49.5 L538.6,49.4 L537.6,49.2 L536.6,49.4 L535.6,49.6 L534.6,49.7 L533.6,49.9 L532.6,50.1 L531.7,50.3 L530.7,50.5 L529.7,50.7 L528.7,50.9 L527.7,51.2 L526.7,51.4 L525.7,51.7 L524.7,52.0 L523.7,52.3 L522.8,52.6 L521.8,53.0 L520.8,53.3 L519.8,53.6 L518.8,53.9 L517.8,54.2 L516.8,54.6 L515.8,54.9 L514.9,55.1 L513.9,55.4 L512.9,55.6 L511.9,55.8 L510.9,56.0 L509.9,56.1 L508.9,56.3 L507.9,56.5 L507.0,56.6 L506.0,56.8 L505.0,57.1 L504.0,57.3 L503.0,57.8 L502.0,58.3 L501.0,58.8 L500.0,59.4 L499.0,60.0 L498.1,60.5 L497.1,61.5 L496.1,62.4 L495.1,63.3 L494.1,64.2 L493.1,65.6 L492.1,67.1 L491.1,68.6 L490.2,70.0 L489.2,71.4 L488.2,72.7 L487.2,74.4 L486.2,76.0 L485.2,77.6 L484.2,79.2 L483.2,80.8 L482.3,82.5 L481.3,84.7 L480.3,87.0 L479.3,89.3 L478.3,90.7 Z" fill="#c3d3f8" stroke="none"/>
<path d="M478.3,90.7 L479.3,88.2 L480.3,85.7 L481.3,83.2 L482.3,80.7 L483.2,78.9 L484.2,77.0 L485.2,75.1 L486.2,73.3 L487.2,71.4 L488.2,69.5 L489.2,68.0 L490.2,66.4 L491.1,64.9 L492.1,63.3 L493.1,61.8 L494.1,60.2 L495.1,59.3 L496.1,58.3 L497.1,57.4 L498.1,56.5 L499.0,56.0 L500.0,55.4 L501.0,54.9 L502.0,54.4 L503.0,53.9 L504.0,53.4 L505.0,53.1 L506.0,52.7 L507.0,52.4 L507.9,52.1 L508.9,51.8 L509.9,51.5 L510.9,51.2 L511.9,50.9 L512.9,50.6 L513.9,50.3 L514.9,49.9 L515.8,49.6 L516.8,49.3 L517.8,49.0 L518.8,48.8 L519.8,48.5 L520.8,48.3 L521.8,48.0 L522.8,47.8 L523.7,47.5 L524.7,47.3 L525.7,47.0 L526.7,46.8 L527.7,46.5 L528.7,46.2 L529.7,45.9 L530.7,45.6 L531.7,45.3 L532.6,45.0 L533.6,44.7 L534.6,44.3 L535.6,44.0 L536.6,43.7 L537.6,43.4 L538.6,43.5 L539.6,43.5 L540.5,43.6 L541.5,43.6 L542.5,43.7 L543.5,43.7 L544.5,43.8 L545.5,43.8 L546.5,43.9 L547.5,43.9 L548.4,44.0 L549.4,44.0 L550.4,44.2 L551.4,44.3 L552.4,44.5 L553.4,44.7 L554.4,44.8 L555.4,45.0 L556.4,45.1 L557.3,45.3 L558.3,45.1 L559.3,44.9 L560.3,44.7 L561.3,44.4 L562.3,44.2 L563.3,44.0 L564.3,43.7 L565.2,43.4 L566.2,43.1 L567.2,42.8 L568.2,42.7 L569.2,42.6 L570.2,42.5 L571.2,42.4 L572.2,42.3 L573.1,42.2 L574.1,41.9 L575.1,41.5 L576.1,41.2 L577.1,40.9" fill="none" stroke="#6b93ef" stroke-width="1.0"/>
<rect x="478.3" y="34.7" width="98.8" height="56" fill="none" stroke="#000" stroke-width="0.8"/>
<line x1="478.3" y1="90.7" x2="478.3" y2="92.7" stroke="#000" stroke-width="0.6"/>
<text x="478.3" y="99.4" font-size="8.3" text-anchor="middle" fill="#000">0.0</text>
<line x1="498.06" y1="90.7" x2="498.06" y2="92.7" stroke="#000" stroke-width="0.6"/>
<text x="498.06" y="99.4" font-size="8.3" text-anchor="middle" fill="#000">0.1</text>
<line x1="517.82" y1="90.7" x2="517.82" y2="92.7" stroke="#000" stroke-width="0.6"/>
<text x="517.82" y="99.4" font-size="8.3" text-anchor="middle" fill="#000">0.2</text>
<line x1="537.58" y1="90.7" x2="537.58" y2="92.7" stroke="#000" stroke-width="0.6"/>
<text x="537.58" y="99.4" font-size="8.3" text-anchor="middle" fill="#000">0.3</text>
<line x1="557.34" y1="90.7" x2="557.34" y2="92.7" stroke="#000" stroke-width="0.6"/>
<text x="557.34" y="99.4" font-size="8.3" text-anchor="middle" fill="#000">0.4</text>
<line x1="577.1" y1="90.7" x2="577.1" y2="92.7" stroke="#000" stroke-width="0.6"/>
<text x="577.1" y="99.4" font-size="8.3" text-anchor="middle" fill="#000">0.5</text>
<line x1="476.3" y1="90.7" x2="478.3" y2="90.7" stroke="#000" stroke-width="0.6"/>
<text x="476.3" y="93.7" font-size="8.3" text-anchor="end" fill="#000">0.00</text>
<line x1="476.3" y1="72.03" x2="478.3" y2="72.03" stroke="#000" stroke-width="0.6"/>
<text x="476.3" y="75.03" font-size="8.3" text-anchor="end" fill="#000">0.03</text>
<line x1="476.3" y1="53.37" x2="478.3" y2="53.37" stroke="#000" stroke-width="0.6"/>
<text x="476.3" y="56.37" font-size="8.3" text-anchor="end" fill="#000">0.06</text>
<line x1="476.3" y1="34.7" x2="478.3" y2="34.7" stroke="#000" stroke-width="0.6"/>
<text x="476.3" y="37.7" font-size="8.3" text-anchor="end" fill="#000">0.09</text>
<text x="527.7" y="107.6" font-size="8.2" text-anchor="middle" fill="#000">δt (s)</text>
<text x="457.4" y="62.6" font-size="8.8" text-anchor="middle" fill="#000" transform="rotate(-90 457.4 62.6)">MSD (μm<tspan font-size="5.8" dy="-3.2">2</tspan><tspan dy="3.2">)</tspan></text>
<line x1="237.2" y1="219" x2="237.2" y2="368.1" stroke="#b0b0b0" stroke-width="0.8"/>
<line x1="273.2" y1="219" x2="273.2" y2="368.1" stroke="#b0b0b0" stroke-width="0.8"/>
<line x1="309.2" y1="219" x2="309.2" y2="368.1" stroke="#b0b0b0" stroke-width="0.8"/>
<line x1="345.2" y1="219" x2="345.2" y2="368.1" stroke="#b0b0b0" stroke-width="0.8"/>
<line x1="381.2" y1="219" x2="381.2" y2="368.1" stroke="#b0b0b0" stroke-width="0.8"/>
<line x1="417.2" y1="219" x2="417.2" y2="368.1" stroke="#b0b0b0" stroke-width="0.8"/>
<line x1="201.2" y1="343.25" x2="441.3" y2="343.25" stroke="#b0b0b0" stroke-width="0.8"/>
<line x1="201.2" y1="318.4" x2="441.3" y2="318.4" stroke="#b0b0b0" stroke-width="0.8"/>
<line x1="201.2" y1="293.55" x2="441.3" y2="293.55" stroke="#b0b0b0" stroke-width="0.8"/>
<line x1="201.2" y1="268.7" x2="441.3" y2="268.7" stroke="#b0b0b0" stroke-width="0.8"/>
<line x1="201.2" y1="243.85" x2="441.3" y2="243.85" stroke="#b0b0b0" stroke-width="0.8"/>
<g clip-path="url(#clipE)">
<g fill="none" stroke-width="1.15" stroke-linejoin="round">
<path d="M201.2,265.2 201.4,273.9 201.5,258.2 201.7,264.3 201.9,255.3 202.0,249.1 202.2,270.8 202.3,266.0" stroke="#2f974e"/>
<path d="M202.3,266.0 202.5,260.1" stroke="#1c8540"/>
<path d="M202.5,260.1 202.7,272.6 202.8,271.3 203.0,274.1 203.2,258.6 203.3,269.2 203.5,268.3 203.7,272.8 203.8,271.6 204.0,267.0" stroke="#2f974e"/>
<path d="M204.0,267.0 204.1,270.6" stroke="#1c8540"/>
<path d="M204.1,270.6 204.3,269.6" stroke="#2f974e"/>
<path d="M204.3,269.6 204.5,267.7" stroke="#1c8540"/>
<path d="M204.5,267.7 204.6,271.3 204.8,273.2 205.0,282.7 205.1,267.8 205.3,268.0" stroke="#2f974e"/>
<path d="M205.3,268.0 205.5,268.8 205.6,278.3" stroke="#1c8540"/>
<path d="M205.6,278.3 205.8,269.5" stroke="#2f974e"/>
<path d="M205.8,269.5 205.9,267.0" stroke="#1c8540"/>
<path d="M205.9,267.0 206.1,273.8 206.3,281.2 206.4,272.1 206.6,275.2 206.6,248.6" stroke="#2f974e"/>
<path d="M206.6,248.6 206.8,252.9 206.9,255.6" stroke="#1c8540"/>
<path d="M206.9,255.6 207.1,253.3" stroke="#2f974e"/>
<path d="M207.1,253.3 207.3,242.7" stroke="#067230"/>
<path d="M207.3,242.7 207.4,264.8 207.6,253.9" stroke="#1c8540"/>
<path d="M207.6,253.9 207.8,257.7" stroke="#067230"/>
<path d="M207.8,257.7 207.9,269.1 208.1,263.0 208.3,282.2 208.4,280.3 208.6,281.6 208.8,281.9" stroke="#1c8540"/>
<path d="M208.8,281.9 209.0,289.3" stroke="#2f974e"/>
<path d="M209.0,289.3 209.1,276.3 209.1,272.1 209.3,254.3 209.5,280.3 209.6,274.8 209.8,255.2" stroke="#1c8540"/>
<path d="M209.8,255.2 210.0,269.3" stroke="#2f974e"/>
<path d="M210.0,269.3 210.1,276.1 210.3,280.5" stroke="#1c8540"/>
<path d="M210.3,280.5 210.5,273.4 210.6,260.6 210.8,272.7" stroke="#2f974e"/>
<path d="M210.8,272.7 211.0,266.6" stroke="#1c8540"/>
<path d="M211.0,266.6 211.1,266.1 211.3,273.2" stroke="#2f974e"/>
<path d="M211.3,273.2 211.5,277.6" stroke="#1c8540"/>
<path d="M211.5,277.6 211.6,271.4 211.8,281.8 212.0,295.7 212.1,286.6" stroke="#2f974e"/>
<path d="M212.1,286.6 212.3,281.6" stroke="#1c8540"/>
<path d="M212.3,281.6 212.5,284.4" stroke="#2f974e"/>
<path d="M212.5,284.4 212.6,284.3 212.8,278.2" stroke="#1c8540"/>
<path d="M212.8,278.2 213.0,290.4" stroke="#2f974e"/>
<path d="M213.0,290.4 213.1,298.8" stroke="#1c8540"/>
<path d="M213.1,298.8 213.3,287.5 213.5,307.0 213.6,296.4 213.8,287.2" stroke="#2f974e"/>
<path d="M213.8,287.2 213.8,263.0" stroke="#067230"/>
<path d="M213.8,263.0 214.0,255.6 214.1,254.9 214.3,264.7 214.5,250.5 214.6,256.5 214.8,260.5 215.0,269.6" stroke="#1c8540"/>
<path d="M215.0,269.6 215.1,266.1" stroke="#2f974e"/>
<path d="M215.1,266.1 215.3,274.6 215.5,266.1 215.6,276.6 215.8,273.7" stroke="#1c8540"/>
<path d="M215.8,273.7 216.0,284.9" stroke="#2f974e"/>
<path d="M216.0,284.9 216.2,275.0 216.3,277.6" stroke="#1c8540"/>
<path d="M216.3,277.6 216.3,266.9" stroke="#2f974e"/>
<path d="M216.3,266.9 216.5,261.3" stroke="#1c8540"/>
<path d="M216.5,261.3 216.7,266.8 216.8,276.5 217.0,285.6" stroke="#2f974e"/>
<path d="M217.0,285.6 217.2,266.8" stroke="#1c8540"/>
<path d="M217.2,266.8 217.3,286.6 217.5,271.2 217.7,277.9 217.8,289.6 218.0,283.3 218.2,284.3 218.3,272.9 218.5,282.5 218.7,280.3 218.8,283.2" stroke="#2f974e"/>
<path d="M218.8,283.2 219.0,279.6" stroke="#1c8540"/>
<path d="M219.0,279.6 219.2,286.6 219.3,288.5 219.5,290.9 219.7,271.0" stroke="#2f974e"/>
<path d="M219.7,271.0 219.8,284.8" stroke="#41ab5d"/>
<path d="M219.8,284.8 220.0,288.2" stroke="#2f974e"/>
<path d="M220.0,288.2 220.2,286.5" stroke="#41ab5d"/>
<path d="M220.2,286.5 220.3,290.5" stroke="#2f974e"/>
<path d="M220.3,290.5 220.5,291.9" stroke="#41ab5d"/>
<path d="M220.5,291.9 220.7,284.0 220.8,292.6" stroke="#2f974e"/>
<path d="M220.8,292.6 221.0,293.4 221.0,292.3 221.2,288.0 221.3,292.7 221.5,293.0 221.6,291.8 221.8,290.6" stroke="#41ab5d"/>
<path d="M221.8,290.6 222.0,292.9" stroke="#5fba6b"/>
<path d="M222.0,292.9 222.1,300.2 222.3,300.0" stroke="#41ab5d"/>
<path d="M222.3,300.0 222.5,298.7" stroke="#5fba6b"/>
<path d="M222.5,298.7 222.6,298.8" stroke="#41ab5d"/>
<path d="M222.6,298.8 222.8,298.3 222.9,298.6" stroke="#5fba6b"/>
<path d="M222.9,298.6 223.1,289.1" stroke="#2f974e"/>
<path d="M223.1,289.1 223.3,295.4 223.4,292.3 223.6,298.3 223.8,305.0" stroke="#41ab5d"/>
<path d="M223.8,305.0 223.9,300.6" stroke="#5fba6b"/>
<path d="M223.9,300.6 224.1,308.2" stroke="#41ab5d"/>
<path d="M224.1,308.2 224.2,316.5" stroke="#5fba6b"/>
<path d="M224.2,316.5 224.4,315.7" stroke="#41ab5d"/>
<path d="M224.4,315.7 224.6,315.6 224.7,320.8" stroke="#5fba6b"/>
<path d="M224.7,320.8 224.9,316.6" stroke="#41ab5d"/>
<path d="M224.9,316.6 225.1,326.8 225.2,317.2" stroke="#5fba6b"/>
<path d="M225.2,317.2 225.4,323.8" stroke="#41ab5d"/>
<path d="M225.4,323.8 225.5,327.4 225.7,330.3 225.9,323.3 226.0,330.6" stroke="#5fba6b"/>
<path d="M226.0,330.6 226.2,331.8" stroke="#41ab5d"/>
<path d="M226.2,331.8 226.4,337.2" stroke="#7dc87d"/>
<path d="M226.4,337.2 226.5,338.9 226.7,329.5 226.8,326.8 227.0,338.1 227.2,337.7 227.3,337.3 227.5,338.4 227.7,330.0 227.8,341.7 228.0,332.6 228.1,340.3 228.3,332.9 228.5,348.6" stroke="#5fba6b"/>
<path d="M228.5,348.6 228.6,348.7" stroke="#7dc87d"/>
<path d="M228.6,348.7 228.8,341.7 229.0,348.3" stroke="#5fba6b"/>
<path d="M229.0,348.3 229.1,340.5" stroke="#7dc87d"/>
<path d="M229.1,340.5 229.3,347.3 229.3,251.7 229.4,263.9 229.6,248.7" stroke="#5fba6b"/>
<path d="M229.6,248.7 229.8,250.7 230.0,260.8" stroke="#41ab5d"/>
<path d="M230.0,260.8 230.1,271.3 230.3,266.2" stroke="#5fba6b"/>
<path d="M230.3,266.2 230.5,276.2" stroke="#41ab5d"/>
<path d="M230.5,276.2 230.6,274.0" stroke="#5fba6b"/>
<path d="M230.6,274.0 230.8,269.2" stroke="#41ab5d"/>
<path d="M230.8,269.2 231.0,273.9 231.1,268.8 231.3,267.8 231.5,269.0 231.7,285.4 231.8,278.3 232.0,289.4 232.2,289.9" stroke="#5fba6b"/>
<path d="M232.2,289.9 232.2,276.3" stroke="#98d493"/>
<path d="M232.2,276.3 232.3,278.8 232.5,285.1 232.6,261.7" stroke="#7dc87d"/>
<path d="M232.6,261.7 232.8,294.3" stroke="#5fba6b"/>
<path d="M232.8,294.3 233.0,269.9" stroke="#98d493"/>
<path d="M233.0,269.9 233.1,273.3 233.3,303.9 233.5,296.2 233.6,246.1 233.8,268.4 234.0,270.1 234.1,277.4 234.3,288.5 234.4,276.1" stroke="#7dc87d"/>
<path d="M234.4,276.1 234.6,279.7" stroke="#98d493"/>
<path d="M234.6,279.7 234.8,275.8 234.9,291.2 235.1,292.7" stroke="#7dc87d"/>
<path d="M235.1,292.7 235.3,320.0" stroke="#98d493"/>
<path d="M235.3,320.0 235.4,289.6 235.6,325.4 235.7,281.0 235.9,301.9 236.1,300.9 236.2,291.0 236.4,282.7 236.6,302.2 236.7,293.1" stroke="#7dc87d"/>
<path d="M236.7,293.1 236.9,303.7" stroke="#98d493"/>
<path d="M236.9,303.7 237.1,294.7 237.2,288.3" stroke="#7dc87d"/>
<path d="M237.2,288.3 237.4,287.2" stroke="#5fba6b"/>
<path d="M237.4,287.2 237.5,305.3 237.7,302.1 237.9,298.4 238.0,313.9 238.2,303.2 238.4,311.2 238.5,318.0 238.7,296.9 238.8,318.8 239.0,297.1 239.2,305.7 239.3,292.5" stroke="#7dc87d"/>
<path d="M239.3,292.5 239.5,307.9" stroke="#5fba6b"/>
<path d="M239.5,307.9 239.7,325.9 239.8,297.3 240.0,320.6 240.2,319.4 240.3,330.9" stroke="#7dc87d"/>
<path d="M240.3,330.9 240.5,313.9 240.6,312.9 240.8,307.1" stroke="#98d493"/>
<path d="M240.8,307.1 241.0,311.8 241.1,343.8 241.3,318.0 241.5,295.3 241.6,288.7 241.8,298.9 241.9,340.8 242.1,322.7 242.3,306.4 242.4,323.5 242.6,303.5" stroke="#7dc87d"/>
<path d="M242.6,303.5 243.0,253.3 243.1,248.4 243.3,268.1" stroke="#067230"/>
<path d="M243.3,268.1 243.4,260.0" stroke="#005c25"/>
<path d="M243.4,260.0 243.6,255.8 243.8,261.1 243.9,251.5" stroke="#067230"/>
<path d="M243.9,251.5 244.1,247.7 244.3,247.4" stroke="#1c8540"/>
<path d="M244.3,247.4 244.4,245.8 244.6,244.5 244.7,265.6 244.9,248.3 245.1,248.0 245.2,252.8" stroke="#067230"/>
<path d="M245.2,252.8 245.4,258.6" stroke="#1c8540"/>
<path d="M245.4,258.6 245.6,252.4 245.7,259.8 245.9,260.5" stroke="#067230"/>
<path d="M245.9,260.5 246.0,264.2" stroke="#1c8540"/>
<path d="M246.0,264.2 246.2,259.8" stroke="#005c25"/>
<path d="M246.2,259.8 246.4,262.5 246.5,271.2 246.7,264.1 246.9,276.9 247.0,270.2 247.2,266.5" stroke="#067230"/>
<path d="M247.2,266.5 247.3,271.1" stroke="#005c25"/>
<path d="M247.3,271.1 247.5,267.3" stroke="#067230"/>
<path d="M247.5,267.3 247.7,271.7" stroke="#1c8540"/>
<path d="M247.7,271.7 247.8,266.8 248.0,265.3" stroke="#067230"/>
<path d="M248.0,265.3 248.2,266.0" stroke="#1c8540"/>
<path d="M248.2,266.0 248.3,263.2 248.5,263.9" stroke="#067230"/>
<path d="M248.5,263.9 248.7,262.1" stroke="#1c8540"/>
<path d="M248.7,262.1 248.8,265.9 249.0,268.9 249.1,262.1 249.3,263.9 249.5,272.4" stroke="#067230"/>
<path d="M249.5,272.4 249.6,273.7" stroke="#1c8540"/>
<path d="M249.6,273.7 249.8,265.9 250.0,266.9" stroke="#067230"/>
<path d="M250.0,266.9 250.1,274.3 250.3,268.8" stroke="#1c8540"/>
<path d="M250.3,268.8 250.4,264.0 250.6,275.1 250.8,275.1" stroke="#067230"/>
<path d="M250.8,275.1 250.9,277.9" stroke="#1c8540"/>
<path d="M250.9,277.9 251.1,268.9 251.3,270.9" stroke="#067230"/>
<path d="M251.3,270.9 251.4,274.8" stroke="#005c25"/>
<path d="M251.4,274.8 251.6,280.8" stroke="#067230"/>
<path d="M251.6,280.8 251.7,282.4 251.9,271.7" stroke="#1c8540"/>
<path d="M251.9,271.7 252.1,268.1" stroke="#067230"/>
<path d="M252.1,268.1 252.2,264.4" stroke="#1c8540"/>
<path d="M252.2,264.4 252.4,275.5 252.6,271.5 252.7,265.4 252.9,264.5" stroke="#067230"/>
<path d="M252.9,264.5 253.0,267.4" stroke="#1c8540"/>
<path d="M253.0,267.4 253.2,271.4 253.4,261.7" stroke="#067230"/>
<path d="M253.4,261.7 253.5,276.1" stroke="#1c8540"/>
<path d="M253.5,276.1 253.7,281.9 253.9,277.9 254.0,271.6" stroke="#067230"/>
<path d="M254.0,271.6 254.2,278.1 254.3,281.5 254.5,280.5 254.7,276.8 254.8,284.8 255.0,288.1" stroke="#1c8540"/>
<path d="M255.0,288.1 255.2,295.9 255.3,302.2" stroke="#067230"/>
<path d="M255.3,302.2 255.5,304.2" stroke="#1c8540"/>
<path d="M255.5,304.2 255.6,304.7" stroke="#067230"/>
<path d="M255.6,304.7 255.8,292.6 256.0,298.1 256.1,296.9" stroke="#1c8540"/>
<path d="M256.1,296.9 256.3,288.1 256.5,291.8" stroke="#067230"/>
<path d="M256.5,291.8 256.6,290.3 256.8,282.9 256.9,275.1 257.1,292.9" stroke="#1c8540"/>
<path d="M257.1,292.9 257.3,280.7 257.4,291.0 257.6,279.1" stroke="#067230"/>
<path d="M257.6,279.1 257.8,282.5" stroke="#1c8540"/>
<path d="M257.8,282.5 257.9,280.8" stroke="#067230"/>
<path d="M257.9,280.8 258.1,281.5" stroke="#1c8540"/>
<path d="M258.1,281.5 258.1,262.3 258.2,255.1 258.4,247.2 258.6,262.9 258.7,257.6 258.9,265.9" stroke="#2f974e"/>
<path d="M258.9,265.9 259.1,256.9" stroke="#41ab5d"/>
<path d="M259.1,256.9 259.2,263.2 259.4,264.1" stroke="#2f974e"/>
<path d="M259.4,264.1 259.5,273.8" stroke="#1c8540"/>
<path d="M259.5,273.8 259.7,277.5 259.9,289.3 260.0,279.7 260.2,283.5" stroke="#2f974e"/>
<path d="M260.2,283.5 260.4,282.6" stroke="#41ab5d"/>
<path d="M260.4,282.6 260.5,278.4 260.7,284.1 260.8,281.9" stroke="#2f974e"/>
<path d="M260.8,281.9 261.0,265.7" stroke="#1c8540"/>
<path d="M261.0,265.7 261.2,278.3 261.3,283.0 261.5,273.2 261.7,279.3 261.8,275.9 262.0,274.7" stroke="#2f974e"/>
<path d="M262.0,274.7 262.2,281.6" stroke="#41ab5d"/>
<path d="M262.2,281.6 262.3,282.0 262.5,288.0" stroke="#2f974e"/>
<path d="M262.5,288.0 262.6,282.8" stroke="#41ab5d"/>
<path d="M262.6,282.8 262.8,292.1 263.0,293.3 263.1,297.5 263.3,303.4 263.5,303.0 263.6,292.8" stroke="#2f974e"/>
<path d="M263.6,292.8 263.8,296.6 263.9,307.9" stroke="#41ab5d"/>
<path d="M263.9,307.9 264.1,298.2 264.3,304.3" stroke="#2f974e"/>
<path d="M264.3,304.3 264.4,294.2" stroke="#1c8540"/>
<path d="M264.4,294.2 264.6,303.2 264.8,301.8 264.9,294.3 264.9,270.1 265.1,256.3 265.2,259.9" stroke="#2f974e"/>
<path d="M265.2,259.9 265.4,256.6" stroke="#41ab5d"/>
<path d="M265.4,256.6 265.6,258.0 265.7,259.5 265.9,268.0 266.1,275.8 266.2,267.7 266.4,274.0" stroke="#2f974e"/>
<path d="M266.4,274.0 266.6,273.5" stroke="#1c8540"/>
<path d="M266.6,273.5 266.7,273.1" stroke="#41ab5d"/>
<path d="M266.7,273.1 266.9,272.9 267.1,288.1 267.2,280.6 267.4,281.7" stroke="#2f974e"/>
<path d="M267.4,281.7 267.6,289.2 267.7,282.4 267.9,289.2" stroke="#41ab5d"/>
<path d="M267.9,289.2 268.0,291.1 268.2,285.6 268.4,287.5 268.5,287.3 268.7,285.5 268.9,295.3" stroke="#2f974e"/>
<path d="M268.9,295.3 269.0,296.5" stroke="#41ab5d"/>
<path d="M269.0,296.5 269.2,296.7 269.4,304.0" stroke="#2f974e"/>
<path d="M269.4,304.0 269.5,302.4 269.7,295.9" stroke="#41ab5d"/>
<path d="M269.7,295.9 269.9,306.8 270.0,304.0" stroke="#2f974e"/>
<path d="M270.0,304.0 270.2,294.2" stroke="#41ab5d"/>
<path d="M270.2,294.2 270.4,298.0 270.5,300.6" stroke="#2f974e"/>
<path d="M270.5,300.6 270.7,305.7" stroke="#41ab5d"/>
<path d="M270.7,305.7 271.4,256.7 271.6,264.8" stroke="#2f974e"/>
<path d="M271.6,264.8 271.7,273.4 271.9,267.1 272.1,268.1 272.2,275.0 272.4,272.7" stroke="#1c8540"/>
<path d="M272.4,272.7 272.6,282.3 272.7,272.5" stroke="#2f974e"/>
<path d="M272.7,272.5 272.9,279.4 273.1,295.5" stroke="#1c8540"/>
<path d="M273.1,295.5 273.2,286.3" stroke="#2f974e"/>
<path d="M273.2,286.3 273.4,284.0 273.6,285.3" stroke="#1c8540"/>
<path d="M273.6,285.3 273.7,278.9" stroke="#2f974e"/>
<path d="M273.7,278.9 273.9,274.8" stroke="#1c8540"/>
<path d="M273.9,274.8 274.0,276.4" stroke="#2f974e"/>
<path d="M274.0,276.4 274.2,271.8" stroke="#1c8540"/>
<path d="M274.2,271.8 274.4,284.6 274.5,284.0" stroke="#2f974e"/>
<path d="M274.5,284.0 274.7,275.8" stroke="#1c8540"/>
<path d="M274.7,275.8 274.9,283.2 275.0,278.8 275.2,278.7 275.4,278.9" stroke="#2f974e"/>
<path d="M275.4,278.9 275.5,293.8" stroke="#41ab5d"/>
<path d="M275.5,293.8 275.7,286.0" stroke="#1c8540"/>
<path d="M275.7,286.0 275.9,300.1 276.0,297.2 276.2,290.0 276.4,296.4 276.5,296.7 276.7,296.7 276.9,298.5 277.0,295.5 277.2,304.8" stroke="#2f974e"/>
<path d="M277.2,304.8 277.4,307.9" stroke="#41ab5d"/>
<path d="M277.4,307.9 277.5,304.9" stroke="#2f974e"/>
<path d="M277.5,304.9 277.5,298.2" stroke="#41ab5d"/>
<path d="M277.5,298.2 277.7,302.7" stroke="#5fba6b"/>
<path d="M277.7,302.7 277.9,296.3 278.0,298.8 278.2,294.6 278.4,303.5 278.5,302.0 278.7,303.1 278.8,295.6" stroke="#41ab5d"/>
<path d="M278.8,295.6 279.0,298.6" stroke="#5fba6b"/>
<path d="M279.0,298.6 279.2,289.6 279.3,302.6 279.5,308.8" stroke="#41ab5d"/>
<path d="M279.5,308.8 279.7,310.6" stroke="#5fba6b"/>
<path d="M279.7,310.6 279.8,307.3 280.0,326.1 280.2,328.9 280.3,324.4 280.5,330.8" stroke="#41ab5d"/>
<path d="M280.5,330.8 280.7,336.3 280.8,324.5 281.0,331.7" stroke="#5fba6b"/>
<path d="M281.0,331.7 281.2,323.8 281.3,317.9 281.5,315.1 281.7,325.0" stroke="#41ab5d"/>
<path d="M281.7,325.0 281.8,331.0 281.8,271.9 282.0,272.7" stroke="#5fba6b"/>
<path d="M282.0,272.7 282.2,278.3 282.3,290.7 282.5,285.6 282.7,285.3 282.8,285.0 283.0,288.9 283.1,290.0 283.3,290.6 283.5,290.4" stroke="#41ab5d"/>
<path d="M283.5,290.4 283.6,291.6" stroke="#7dc87d"/>
<path d="M283.6,291.6 283.8,291.3 284.0,300.6 284.1,300.6" stroke="#41ab5d"/>
<path d="M284.1,300.6 284.3,316.4 284.5,292.2" stroke="#5fba6b"/>
<path d="M284.5,292.2 284.6,310.1 284.8,314.4" stroke="#41ab5d"/>
<path d="M284.8,314.4 284.9,316.1" stroke="#5fba6b"/>
<path d="M284.9,316.1 285.1,316.7 285.3,315.0" stroke="#41ab5d"/>
<path d="M285.3,315.0 285.4,327.9" stroke="#5fba6b"/>
<path d="M285.4,327.9 285.4,337.0 285.6,315.7" stroke="#98d493"/>
<path d="M285.6,315.7 285.8,321.1 285.9,325.8 286.1,324.7 286.3,331.1 286.4,341.3 286.6,326.3 286.7,322.4 286.9,317.5 287.1,327.6 287.2,319.5 287.4,319.6 287.6,329.1 287.7,340.1" stroke="#7dc87d"/>
<path d="M287.7,340.1 287.9,327.0" stroke="#5fba6b"/>
<path d="M287.9,327.0 288.1,297.8" stroke="#98d493"/>
<path d="M288.1,297.8 288.2,308.1 288.4,319.7 288.5,305.6 288.7,308.7 288.9,323.9" stroke="#7dc87d"/>
<path d="M288.9,323.9 289.0,328.8 289.2,328.1" stroke="#98d493"/>
<path d="M289.2,328.1 289.4,340.5 289.5,333.9 289.7,340.2 289.8,338.0 290.0,332.1 290.2,343.1" stroke="#7dc87d"/>
<path d="M290.2,343.1 290.3,332.3" stroke="#98d493"/>
<path d="M290.3,332.3 290.5,327.1" stroke="#7dc87d"/>
<path d="M290.5,327.1 290.7,348.9" stroke="#98d493"/>
<path d="M290.7,348.9 290.8,306.6" stroke="#5fba6b"/>
<path d="M290.8,306.6 291.0,326.0 291.1,320.1 291.3,335.9" stroke="#7dc87d"/>
<path d="M291.3,335.9 291.5,319.3 291.6,313.4" stroke="#98d493"/>
<path d="M291.6,313.4 291.8,320.7 292.0,315.7" stroke="#7dc87d"/>
<path d="M292.0,315.7 292.1,320.7" stroke="#98d493"/>
<path d="M292.1,320.7 292.3,310.9 292.5,346.2 292.6,333.9 292.8,322.1 292.9,332.6 293.1,333.7" stroke="#7dc87d"/>
<path d="M293.1,333.7 293.3,344.7" stroke="#5fba6b"/>
<path d="M293.3,344.7 293.4,325.0 293.6,331.4 293.8,320.5 293.9,321.1" stroke="#7dc87d"/>
<path d="M293.9,321.1 294.1,340.1" stroke="#98d493"/>
<path d="M294.1,340.1 294.2,327.6 294.4,334.5 294.6,332.0 294.7,315.8 294.9,334.4 295.1,317.2" stroke="#7dc87d"/>
<path d="M295.1,317.2 295.2,327.3" stroke="#98d493"/>
<path d="M295.2,327.3 295.4,344.8 295.6,323.5" stroke="#7dc87d"/>
<path d="M295.6,323.5 295.7,326.9" stroke="#5fba6b"/>
<path d="M295.7,326.9 295.9,313.7 295.9,295.7 296.0,305.4 296.2,303.5 296.4,305.5 296.5,305.8 296.7,306.6 296.9,314.0 297.0,317.0" stroke="#7dc87d"/>
<path d="M297.0,317.0 297.2,307.9" stroke="#5fba6b"/>
<path d="M297.2,307.9 297.4,312.5 297.5,315.8" stroke="#7dc87d"/>
<path d="M297.5,315.8 297.7,317.7" stroke="#5fba6b"/>
<path d="M297.7,317.7 297.7,336.0 297.8,333.8 298.0,322.1 298.2,333.7" stroke="#7dc87d"/>
<path d="M298.2,333.7 298.3,347.2" stroke="#b0dfa9"/>
<path d="M298.3,347.2 298.5,329.2" stroke="#98d493"/>
<path d="M298.5,329.2 298.7,323.6" stroke="#5fba6b"/>
<path d="M298.7,323.6 298.8,321.0 299.0,324.3" stroke="#7dc87d"/>
<path d="M299.0,324.3 299.2,313.1" stroke="#98d493"/>
<path d="M299.2,313.1 299.3,330.0 299.5,342.0 299.6,311.4 299.8,320.1 300.0,326.0 300.1,305.2 300.3,304.8" stroke="#7dc87d"/>
<path d="M300.3,304.8 300.5,312.2 300.6,317.9" stroke="#98d493"/>
<path d="M300.6,317.9 300.8,322.1 301.0,326.9 301.1,324.3 301.3,318.9 301.4,329.8 301.6,346.0 301.8,326.1 301.9,340.0" stroke="#7dc87d"/>
<path d="M301.9,340.0 302.1,339.2 302.3,334.4" stroke="#98d493"/>
<path d="M302.3,334.4 302.4,322.0 302.6,314.0" stroke="#7dc87d"/>
<path d="M302.6,314.0 302.8,324.7" stroke="#98d493"/>
<path d="M302.8,324.7 302.9,333.3" stroke="#7dc87d"/>
<path d="M302.9,333.3 303.1,351.0 303.2,343.3 303.4,338.1" stroke="#98d493"/>
<path d="M303.4,338.1 303.6,346.2 303.7,323.3 303.9,332.5" stroke="#7dc87d"/>
<path d="M303.9,332.5 304.1,323.4" stroke="#98d493"/>
<path d="M304.1,323.4 304.2,329.2 304.4,333.9 304.6,325.9" stroke="#7dc87d"/>
<path d="M304.6,325.9 304.7,348.7" stroke="#98d493"/>
<path d="M304.7,348.7 304.9,335.3" stroke="#7dc87d"/>
<path d="M304.9,335.3 305.0,342.8" stroke="#98d493"/>
<path d="M305.0,342.8 305.2,341.8 305.4,328.3" stroke="#7dc87d"/>
<path d="M305.4,328.3 305.5,325.0" stroke="#98d493"/>
<path d="M305.5,325.0 305.7,332.0 305.9,305.1" stroke="#7dc87d"/>
<path d="M305.9,305.1 306.0,330.4 306.2,318.2" stroke="#98d493"/>
<path d="M306.2,318.2 306.4,313.9" stroke="#7dc87d"/>
<path d="M306.4,313.9 306.5,337.6" stroke="#98d493"/>
<path d="M306.5,337.6 306.7,329.7 306.8,336.1" stroke="#7dc87d"/>
<path d="M306.8,336.1 307.0,344.3" stroke="#98d493"/>
<path d="M307.0,344.3 307.2,348.8 307.3,353.4 307.5,355.5 307.7,337.2 307.8,331.7 308.0,350.2" stroke="#7dc87d"/>
<path d="M308.0,350.2 308.2,344.6" stroke="#5fba6b"/>
<path d="M308.2,344.6 308.3,353.5" stroke="#7dc87d"/>
<path d="M308.3,353.5 308.5,351.0" stroke="#98d493"/>
<path d="M308.5,351.0 309.2,244.0 309.4,255.4" stroke="#067230"/>
<path d="M309.4,255.4 309.5,265.3" stroke="#1c8540"/>
<path d="M309.5,265.3 309.7,263.3 309.9,251.5 310.0,253.6 310.2,253.3 310.3,265.6" stroke="#067230"/>
<path d="M310.3,265.6 310.5,265.1" stroke="#1c8540"/>
<path d="M310.5,265.1 310.7,262.3 310.8,270.4 311.0,266.3" stroke="#067230"/>
<path d="M311.0,266.3 311.2,257.5" stroke="#1c8540"/>
<path d="M311.2,257.5 311.3,265.1 311.5,274.5 311.7,274.9" stroke="#067230"/>
<path d="M311.7,274.9 311.8,272.9" stroke="#1c8540"/>
<path d="M311.8,272.9 312.0,258.9 312.1,271.4 312.3,261.0 312.5,268.8 312.6,267.8 312.8,271.5" stroke="#067230"/>
<path d="M312.8,271.5 313.0,266.4" stroke="#1c8540"/>
<path d="M313.0,266.4 313.1,277.0 313.3,276.1 313.5,276.9 313.6,276.1 313.8,271.4 313.9,273.0 314.1,270.3" stroke="#067230"/>
<path d="M314.1,270.3 314.3,272.8 314.4,285.0 314.6,290.7" stroke="#1c8540"/>
<path d="M314.6,290.7 314.8,288.1 314.9,287.3" stroke="#067230"/>
<path d="M314.9,287.3 315.1,279.0 315.3,276.2" stroke="#1c8540"/>
<path d="M315.3,276.2 315.4,286.4 315.6,270.8 315.7,282.4" stroke="#067230"/>
<path d="M315.7,282.4 315.9,285.1 316.1,281.6 316.2,283.9" stroke="#1c8540"/>
<path d="M316.2,283.9 316.4,278.8" stroke="#067230"/>
<path d="M316.4,278.8 316.6,277.2 316.7,283.7 316.9,287.6 317.1,286.0 317.2,290.3" stroke="#1c8540"/>
<path d="M317.2,290.3 317.4,291.2" stroke="#067230"/>
<path d="M317.4,291.2 317.5,288.6" stroke="#1c8540"/>
<path d="M317.5,288.6 317.7,287.1" stroke="#067230"/>
<path d="M317.7,287.1 317.9,286.0" stroke="#1c8540"/>
<path d="M317.9,286.0 318.0,296.4" stroke="#067230"/>
<path d="M318.0,296.4 318.2,295.0 318.4,298.0 318.5,305.5" stroke="#1c8540"/>
<path d="M318.5,305.5 318.7,294.3" stroke="#067230"/>
<path d="M318.7,294.3 318.9,300.5 319.0,304.3" stroke="#1c8540"/>
<path d="M319.0,304.3 319.2,299.8" stroke="#2f974e"/>
<path d="M319.2,299.8 319.3,299.6 319.5,306.2" stroke="#1c8540"/>
<path d="M319.5,306.2 319.7,304.8 319.8,306.2" stroke="#067230"/>
<path d="M319.8,306.2 320.0,308.0 320.0,267.8 320.2,265.5" stroke="#1c8540"/>
<path d="M320.2,265.5 320.3,263.4" stroke="#2f974e"/>
<path d="M320.3,263.4 320.5,259.1 320.7,262.4" stroke="#1c8540"/>
<path d="M320.7,262.4 320.8,260.4 321.0,263.0" stroke="#2f974e"/>
<path d="M321.0,263.0 321.1,268.0 321.3,262.7" stroke="#1c8540"/>
<path d="M321.3,262.7 321.5,266.8 321.6,260.4" stroke="#2f974e"/>
<path d="M321.6,260.4 321.8,271.4 322.0,282.3" stroke="#1c8540"/>
<path d="M322.0,282.3 322.1,277.8 322.3,289.9 322.5,278.5 322.6,277.7" stroke="#2f974e"/>
<path d="M322.6,277.7 322.8,272.0 322.9,289.1 323.1,278.0 323.3,282.3 323.4,289.1" stroke="#1c8540"/>
<path d="M323.4,289.1 323.6,290.1 323.8,282.4 323.9,292.9 324.1,291.8 324.3,297.5 324.4,298.4 324.6,294.8 324.7,291.3 324.9,297.2 325.1,302.2 325.2,312.9 325.4,306.6 325.4,258.9 325.6,265.8" stroke="#2f974e"/>
<path d="M325.6,265.8 325.7,260.0" stroke="#1c8540"/>
<path d="M325.7,260.0 325.9,263.9 326.1,266.8 326.2,265.5 326.4,265.0" stroke="#2f974e"/>
<path d="M326.4,265.0 326.6,274.8" stroke="#41ab5d"/>
<path d="M326.6,274.8 326.7,274.5" stroke="#2f974e"/>
<path d="M326.7,274.5 326.9,275.3" stroke="#41ab5d"/>
<path d="M326.9,275.3 327.1,276.2" stroke="#2f974e"/>
<path d="M327.1,276.2 327.2,275.3" stroke="#1c8540"/>
<path d="M327.2,275.3 327.4,277.5 327.6,290.4 327.7,287.6 327.9,290.0 328.0,284.5" stroke="#2f974e"/>
<path d="M328.0,284.5 328.2,287.3" stroke="#41ab5d"/>
<path d="M328.2,287.3 328.4,294.4 328.5,286.5" stroke="#2f974e"/>
<path d="M328.5,286.5 328.7,286.4 328.9,279.5" stroke="#41ab5d"/>
<path d="M328.9,279.5 329.0,280.2 329.2,285.3" stroke="#2f974e"/>
<path d="M329.2,285.3 329.4,285.2 329.5,280.1 329.7,297.7" stroke="#41ab5d"/>
<path d="M329.7,297.7 329.9,291.8 330.0,289.5 330.2,284.0 330.4,284.1" stroke="#2f974e"/>
<path d="M330.4,284.1 330.5,301.8 330.7,299.7" stroke="#41ab5d"/>
<path d="M330.7,299.7 330.9,301.6 331.0,287.3" stroke="#2f974e"/>
<path d="M331.0,287.3 331.2,291.8 331.4,298.2" stroke="#41ab5d"/>
<path d="M331.4,298.2 331.5,297.4" stroke="#2f974e"/>
<path d="M331.5,297.4 331.9,249.8 332.0,247.6 332.2,266.0 332.4,265.4" stroke="#067230"/>
<path d="M332.4,265.4 332.5,265.6 332.7,276.4" stroke="#1c8540"/>
<path d="M332.7,276.4 332.9,274.8 333.0,266.8" stroke="#067230"/>
<path d="M333.0,266.8 333.2,271.4" stroke="#1c8540"/>
<path d="M333.2,271.4 333.3,271.3 333.5,260.5" stroke="#067230"/>
<path d="M333.5,260.5 333.7,273.5 333.8,254.6" stroke="#1c8540"/>
<path d="M333.8,254.6 334.0,255.9 334.2,259.0 334.3,262.6" stroke="#067230"/>
<path d="M334.3,262.6 334.5,265.1" stroke="#1c8540"/>
<path d="M334.5,265.1 334.6,264.5 334.8,258.4" stroke="#067230"/>
<path d="M334.8,258.4 335.0,259.4 335.1,253.9 335.3,262.8 335.4,261.3 335.6,267.7 335.8,281.0" stroke="#1c8540"/>
<path d="M335.8,281.0 335.9,275.1" stroke="#2f974e"/>
<path d="M335.9,275.1 336.1,279.4" stroke="#1c8540"/>
<path d="M336.1,279.4 336.3,278.3 336.4,275.1" stroke="#067230"/>
<path d="M336.4,275.1 336.6,279.3 336.7,282.2" stroke="#1c8540"/>
<path d="M336.7,282.2 336.9,280.8" stroke="#2f974e"/>
<path d="M336.9,280.8 337.1,278.4 337.2,275.5" stroke="#1c8540"/>
<path d="M337.2,275.5 337.4,277.2" stroke="#067230"/>
<path d="M337.4,277.2 337.6,286.6 337.7,281.4 337.9,272.0 338.0,274.5 338.2,270.2 338.4,265.6 338.5,277.8 338.7,267.8 338.9,263.9" stroke="#1c8540"/>
<path d="M338.9,263.9 339.0,281.1" stroke="#067230"/>
<path d="M339.0,281.1 339.2,269.8 339.3,284.7 339.5,284.2" stroke="#1c8540"/>
<path d="M339.5,284.2 339.7,290.0" stroke="#067230"/>
<path d="M339.7,290.0 339.8,289.8" stroke="#1c8540"/>
<path d="M339.8,289.8 340.0,299.0" stroke="#067230"/>
<path d="M340.0,299.0 340.2,288.2" stroke="#2f974e"/>
<path d="M340.2,288.2 340.3,286.3 340.5,299.0 340.6,299.8" stroke="#1c8540"/>
<path d="M340.6,299.8 340.8,287.0" stroke="#2f974e"/>
<path d="M340.8,287.0 341.0,299.5 341.1,292.2 341.3,297.6 341.5,295.2 341.6,289.0" stroke="#1c8540"/>
<path d="M341.6,289.0 341.8,298.1 341.9,290.9" stroke="#2f974e"/>
<path d="M341.9,290.9 342.1,295.6 342.3,290.9 342.4,286.7" stroke="#1c8540"/>
<path d="M342.4,286.7 342.6,292.4 342.8,287.1" stroke="#2f974e"/>
<path d="M342.8,287.1 342.9,290.5" stroke="#1c8540"/>
<path d="M342.9,290.5 343.1,293.9" stroke="#2f974e"/>
<path d="M343.1,293.9 343.2,288.6" stroke="#1c8540"/>
<path d="M343.2,288.6 343.4,295.2" stroke="#41ab5d"/>
<path d="M343.4,295.2 343.4,329.2" stroke="#7dc87d"/>
<path d="M343.4,329.2 343.6,300.5" stroke="#5fba6b"/>
<path d="M343.6,300.5 343.7,314.2 343.9,313.6 344.1,301.5 344.2,300.0 344.4,289.4 344.5,301.4 344.7,302.7 344.9,298.4 345.0,304.5 345.2,295.2 345.4,312.6 345.5,321.3 345.7,327.1 345.9,309.1" stroke="#7dc87d"/>
<path d="M345.9,309.1 346.0,284.0" stroke="#5fba6b"/>
<path d="M346.0,284.0 346.2,297.7 346.3,288.8 346.5,292.3 346.7,293.0 346.8,297.6 347.0,281.0 347.2,279.0 347.3,293.4" stroke="#7dc87d"/>
<path d="M347.3,293.4 347.5,290.2" stroke="#98d493"/>
<path d="M347.5,290.2 347.7,317.0 347.8,305.2 348.0,311.5 348.1,300.8 348.3,309.0 348.5,299.3" stroke="#7dc87d"/>
<path d="M348.5,299.3 348.6,314.5" stroke="#5fba6b"/>
<path d="M348.6,314.5 348.8,308.2 349.0,330.8 349.1,323.2 349.3,326.8 349.5,323.4 349.6,338.5 349.8,341.3 349.9,319.8 350.1,329.3" stroke="#7dc87d"/>
<path d="M350.1,329.3 350.3,299.2" stroke="#98d493"/>
<path d="M350.3,299.2 350.4,332.2 350.6,336.1" stroke="#7dc87d"/>
<path d="M350.6,336.1 350.6,320.7" stroke="#5fba6b"/>
<path d="M350.6,320.7 350.8,311.0 350.9,311.3 351.1,307.7 351.3,312.1" stroke="#7dc87d"/>
<path d="M351.3,312.1 351.4,310.1" stroke="#5fba6b"/>
<path d="M351.4,310.1 351.6,318.6" stroke="#98d493"/>
<path d="M351.6,318.6 351.8,330.6" stroke="#5fba6b"/>
<path d="M351.8,330.6 351.9,330.4 352.1,313.2 352.3,314.0 352.4,330.3 352.6,320.4 352.8,316.6 352.9,319.5 353.1,335.7 353.3,338.3 353.4,321.4 353.6,327.0 353.8,345.2 353.9,328.3 354.1,340.4 354.3,333.4 354.4,331.9" stroke="#7dc87d"/>
<path d="M354.4,331.9 354.6,337.3" stroke="#98d493"/>
<path d="M354.6,337.3 354.8,331.8 354.9,329.9 355.1,325.0" stroke="#7dc87d"/>
<path d="M355.1,325.0 355.3,330.2" stroke="#5fba6b"/>
<path d="M355.3,330.2 355.4,329.4" stroke="#7dc87d"/>
<path d="M355.4,329.4 355.6,334.4" stroke="#5fba6b"/>
<path d="M355.6,334.4 355.8,331.9 355.9,326.3 356.1,330.4 356.2,345.7 356.4,342.7 356.6,338.5 356.7,319.9" stroke="#7dc87d"/>
<path d="M356.7,319.9 356.9,329.4" stroke="#98d493"/>
<path d="M356.9,329.4 357.1,338.9" stroke="#7dc87d"/>
<path d="M357.1,338.9 357.1,266.3" stroke="#2f974e"/>
<path d="M357.1,266.3 357.2,263.5 357.4,268.5 357.6,273.9 357.7,280.0 357.9,279.3 358.1,283.1 358.2,284.0 358.4,291.8 358.6,294.8" stroke="#41ab5d"/>
<path d="M358.6,294.8 358.7,295.8" stroke="#5fba6b"/>
<path d="M358.7,295.8 358.9,300.1" stroke="#41ab5d"/>
<path d="M358.9,300.1 358.9,308.1 359.0,292.0 359.2,297.1 359.4,295.7 359.5,293.2 359.7,319.1" stroke="#98d493"/>
<path d="M359.7,319.1 359.9,298.7 360.0,295.7" stroke="#7dc87d"/>
<path d="M360.0,295.7 360.2,329.8 360.3,284.0" stroke="#98d493"/>
<path d="M360.3,284.0 360.5,324.3" stroke="#7dc87d"/>
<path d="M360.5,324.3 360.7,325.2 360.8,299.4 361.0,307.7 361.1,317.4" stroke="#98d493"/>
<path d="M361.1,317.4 361.3,299.8" stroke="#7dc87d"/>
<path d="M361.3,299.8 361.5,313.8 361.6,294.3 361.8,300.4 362.0,302.3 362.1,299.5 362.3,285.0 362.4,298.8 362.6,283.7 362.8,302.1 362.9,303.8" stroke="#98d493"/>
<path d="M362.9,303.8 363.1,311.0 363.3,320.0" stroke="#7dc87d"/>
<path d="M363.3,320.0 363.4,315.4 363.6,313.0" stroke="#98d493"/>
<path d="M363.6,313.0 363.7,338.5 363.9,302.9" stroke="#7dc87d"/>
<path d="M363.9,302.9 364.1,317.6" stroke="#98d493"/>
<path d="M364.1,317.6 364.2,312.2" stroke="#7dc87d"/>
<path d="M364.2,312.2 364.4,310.4" stroke="#98d493"/>
<path d="M364.4,310.4 364.6,304.4" stroke="#7dc87d"/>
<path d="M364.6,304.4 364.7,310.6" stroke="#98d493"/>
<path d="M364.7,310.6 364.9,319.0 365.0,331.9" stroke="#7dc87d"/>
<path d="M365.0,331.9 365.2,337.5 365.4,348.4 365.5,317.6 365.7,303.1 365.9,308.3 366.0,297.5 366.2,294.2 366.3,303.6" stroke="#98d493"/>
<path d="M366.3,303.6 366.5,329.8" stroke="#7dc87d"/>
<path d="M366.5,329.8 366.7,319.7 366.8,314.8 367.0,316.1" stroke="#98d493"/>
<path d="M367.0,316.1 367.1,314.1" stroke="#7dc87d"/>
<path d="M367.1,314.1 367.3,335.1" stroke="#98d493"/>
<path d="M367.3,335.1 367.5,331.8 367.6,314.5 367.8,315.2 368.0,315.9 368.1,300.4 368.3,307.2 368.4,298.6" stroke="#7dc87d"/>
<path d="M368.4,298.6 368.6,304.8 368.8,300.0 368.9,308.3" stroke="#98d493"/>
<path d="M368.9,308.3 369.1,321.2 369.3,298.6" stroke="#7dc87d"/>
<path d="M369.3,298.6 369.4,292.5" stroke="#98d493"/>
<path d="M369.4,292.5 369.6,298.4 369.7,308.6 369.9,303.5 370.1,317.2" stroke="#7dc87d"/>
<path d="M370.1,317.2 370.2,313.6" stroke="#98d493"/>
<path d="M370.2,313.6 370.4,334.1" stroke="#7dc87d"/>
<path d="M370.4,334.1 370.6,342.6" stroke="#98d493"/>
<path d="M370.6,342.6 370.7,320.0" stroke="#7dc87d"/>
<path d="M370.7,320.0 370.9,327.6" stroke="#98d493"/>
<path d="M370.9,327.6 371.0,326.3 371.2,313.1" stroke="#7dc87d"/>
<path d="M371.2,313.1 371.4,314.5" stroke="#98d493"/>
<path d="M371.4,314.5 371.5,318.0 371.7,330.9" stroke="#7dc87d"/>
<path d="M371.7,330.9 371.8,315.8" stroke="#98d493"/>
<path d="M371.8,315.8 372.0,316.5" stroke="#7dc87d"/>
<path d="M372.0,316.5 372.2,317.2" stroke="#98d493"/>
<path d="M372.2,317.2 372.3,326.7 372.5,306.8" stroke="#7dc87d"/>
<path d="M372.5,306.8 372.7,299.0" stroke="#98d493"/>
<path d="M372.7,299.0 372.8,306.0" stroke="#7dc87d"/>
<path d="M372.8,306.0 373.0,298.8" stroke="#98d493"/>
<path d="M373.0,298.8 373.1,289.5 373.3,299.0" stroke="#7dc87d"/>
<path d="M373.3,299.0 373.5,289.9 373.6,299.6 373.8,323.9" stroke="#98d493"/>
<path d="M373.8,323.9 374.0,306.2 374.1,320.4" stroke="#7dc87d"/>
<path d="M374.1,320.4 374.3,316.9 374.4,303.9" stroke="#98d493"/>
<path d="M374.4,303.9 374.6,308.3 374.8,305.1 374.9,284.8" stroke="#7dc87d"/>
<path d="M374.9,284.8 375.1,297.0 375.3,291.0 375.4,307.2" stroke="#98d493"/>
<path d="M375.4,307.2 375.6,325.5" stroke="#7dc87d"/>
<path d="M375.6,325.5 375.7,318.3 375.9,329.3" stroke="#98d493"/>
<path d="M375.9,329.3 376.1,328.8 376.2,324.4 376.4,318.2 376.6,328.0" stroke="#7dc87d"/>
<path d="M376.6,328.0 376.7,324.2 376.9,315.0" stroke="#98d493"/>
<path d="M376.9,315.0 377.0,311.7 377.2,297.5" stroke="#7dc87d"/>
<path d="M377.2,297.5 377.4,317.2 377.5,319.5 377.7,317.0" stroke="#98d493"/>
<path d="M377.7,317.0 377.8,316.5" stroke="#7dc87d"/>
<path d="M377.8,316.5 378.0,330.1" stroke="#5fba6b"/>
<path d="M378.0,330.1 378.2,319.7" stroke="#98d493"/>
<path d="M378.2,319.7 378.3,301.5" stroke="#7dc87d"/>
<path d="M378.3,301.5 378.5,316.6" stroke="#98d493"/>
<path d="M378.5,316.6 378.7,316.2 378.8,310.8 379.0,314.4 379.1,307.3" stroke="#7dc87d"/>
<path d="M379.1,307.3 379.3,329.2 379.5,321.5 379.6,321.0 379.8,333.4 380.0,316.7" stroke="#98d493"/>
<path d="M380.0,316.7 380.1,308.9 380.3,310.9 380.4,312.1 380.6,294.2 380.8,310.1" stroke="#7dc87d"/>
<path d="M380.8,310.1 380.9,299.5 381.1,292.9 381.3,290.2" stroke="#98d493"/>
<path d="M381.3,290.2 381.4,316.3" stroke="#7dc87d"/>
<path d="M381.4,316.3 381.6,310.0 381.7,314.6" stroke="#98d493"/>
<path d="M381.7,314.6 381.9,347.2" stroke="#7dc87d"/>
<path d="M381.9,347.2 382.1,324.2 382.2,329.6 382.4,309.4" stroke="#98d493"/>
<path d="M382.4,309.4 382.5,295.2 382.7,314.8 382.9,314.6" stroke="#7dc87d"/>
<path d="M382.9,314.6 383.0,325.0 383.2,310.6 383.4,317.8" stroke="#98d493"/>
<path d="M383.4,317.8 384.1,264.8 384.2,264.5 384.4,268.6 384.6,264.9 384.7,261.8 384.9,264.7" stroke="#067230"/>
<path d="M384.9,264.7 385.1,264.2" stroke="#1c8540"/>
<path d="M385.1,264.2 385.2,259.0 385.4,265.8" stroke="#067230"/>
<path d="M385.4,265.8 385.6,261.8" stroke="#1c8540"/>
<path d="M385.6,261.8 385.7,268.7" stroke="#067230"/>
<path d="M385.7,268.7 385.9,268.0 386.1,271.5" stroke="#1c8540"/>
<path d="M386.1,271.5 386.2,270.2" stroke="#067230"/>
<path d="M386.2,270.2 386.4,276.6" stroke="#1c8540"/>
<path d="M386.4,276.6 386.6,271.2 386.7,273.6 386.9,271.9" stroke="#067230"/>
<path d="M386.9,271.9 387.1,281.0" stroke="#1c8540"/>
<path d="M387.1,281.0 387.2,272.2 387.4,285.5 387.6,275.5 387.7,282.8 387.9,278.7 388.0,282.1 388.2,284.8 388.4,280.9 388.5,287.3 388.7,284.4" stroke="#067230"/>
<path d="M388.7,284.4 388.9,281.1 389.0,282.1 389.2,285.4" stroke="#1c8540"/>
<path d="M389.2,285.4 389.4,279.5 389.5,277.9" stroke="#067230"/>
<path d="M389.5,277.9 389.7,280.5 389.9,276.1" stroke="#1c8540"/>
<path d="M389.9,276.1 390.0,277.8" stroke="#067230"/>
<path d="M390.0,277.8 390.2,283.6" stroke="#1c8540"/>
<path d="M390.2,283.6 390.2,296.8 390.4,297.2" stroke="#41ab5d"/>
<path d="M390.4,297.2 390.5,289.8 390.7,288.9 390.9,288.2" stroke="#2f974e"/>
<path d="M390.9,288.2 391.0,289.2 391.2,298.5 391.4,305.5 391.5,299.9 391.7,299.7 391.9,313.3 392.0,312.8 392.2,311.9" stroke="#41ab5d"/>
<path d="M392.2,311.9 392.3,311.5" stroke="#2f974e"/>
<path d="M392.3,311.5 392.5,318.9 392.7,316.2 392.8,310.5 393.0,305.8 393.2,304.5 393.3,313.7 393.5,310.9" stroke="#41ab5d"/>
<path d="M393.5,310.9 393.7,317.2" stroke="#5fba6b"/>
<path d="M393.7,317.2 393.8,320.5" stroke="#41ab5d"/>
<path d="M393.8,320.5 394.0,318.1" stroke="#5fba6b"/>
<path d="M394.0,318.1 394.2,321.1" stroke="#41ab5d"/>
<path d="M394.2,321.1 394.9,251.7 395.0,256.0 395.2,255.7 395.4,263.7 395.5,256.8" stroke="#067230"/>
<path d="M395.5,256.8 395.7,258.7" stroke="#1c8540"/>
<path d="M395.7,258.7 395.9,256.3 396.0,260.2 396.2,254.9" stroke="#067230"/>
<path d="M396.2,254.9 396.4,263.3" stroke="#1c8540"/>
<path d="M396.4,263.3 396.6,259.0 396.7,262.6 396.9,260.4 397.1,265.1 397.2,268.2 397.4,271.3" stroke="#067230"/>
<path d="M397.4,271.3 397.6,265.7" stroke="#1c8540"/>
<path d="M397.6,265.7 397.7,267.5 397.9,267.4" stroke="#067230"/>
<path d="M397.9,267.4 398.1,266.5" stroke="#1c8540"/>
<path d="M398.1,266.5 398.2,266.6" stroke="#005c25"/>
<path d="M398.2,266.6 398.4,275.4 398.6,269.4" stroke="#067230"/>
<path d="M398.6,269.4 398.7,271.9" stroke="#1c8540"/>
<path d="M398.7,271.9 398.9,273.6 399.1,272.3 399.2,274.2 399.4,270.1 399.6,273.5" stroke="#067230"/>
<path d="M399.6,273.5 400.3,263.5" stroke="#005c25"/>
<path d="M400.3,263.5 400.4,252.0 400.6,263.3 400.8,260.4 400.9,269.1" stroke="#067230"/>
<path d="M400.9,269.1 401.1,268.7" stroke="#1c8540"/>
<path d="M401.1,268.7 401.3,262.5 401.4,271.3 401.6,259.7 401.7,263.6 401.9,254.0 402.1,266.0" stroke="#067230"/>
<path d="M402.1,266.0 402.2,262.4" stroke="#1c8540"/>
<path d="M402.2,262.4 402.4,262.6 402.6,261.9 402.7,268.0" stroke="#067230"/>
<path d="M402.7,268.0 402.9,262.0" stroke="#1c8540"/>
<path d="M402.9,262.0 403.0,265.0 403.2,259.6" stroke="#067230"/>
<path d="M403.2,259.6 403.4,264.9 403.5,275.4" stroke="#1c8540"/>
<path d="M403.5,275.4 403.7,266.3" stroke="#067230"/>
<path d="M403.7,266.3 403.9,271.7" stroke="#1c8540"/>
<path d="M403.9,271.7 404.0,276.2 404.2,269.1" stroke="#067230"/>
<path d="M404.2,269.1 404.3,272.6 404.5,273.5 404.7,276.8" stroke="#1c8540"/>
<path d="M404.7,276.8 404.8,279.0" stroke="#2f974e"/>
<path d="M404.8,279.0 405.0,278.6" stroke="#067230"/>
<path d="M405.0,278.6 405.2,275.4 405.3,285.3 405.5,292.3 405.6,283.3 405.8,279.7 406.0,282.5 406.1,270.0" stroke="#1c8540"/>
<path d="M406.1,270.0 406.3,291.7" stroke="#067230"/>
<path d="M406.3,291.7 406.5,274.6 406.6,279.4" stroke="#1c8540"/>
<path d="M406.6,279.4 406.8,273.6" stroke="#2f974e"/>
<path d="M406.8,273.6 406.9,276.9" stroke="#1c8540"/>
<path d="M406.9,276.9 407.1,279.5 407.3,282.6" stroke="#2f974e"/>
<path d="M407.3,282.6 407.4,281.5 407.6,275.0" stroke="#1c8540"/>
<path d="M407.6,275.0 407.8,294.1 407.9,284.8 408.1,292.3 408.2,290.4 408.4,290.8 408.6,284.0 408.7,294.6 408.9,282.8" stroke="#2f974e"/>
<path d="M408.9,282.8 409.1,290.5" stroke="#1c8540"/>
<path d="M409.1,290.5 409.2,286.0 409.4,289.2 409.5,296.4 409.7,300.6 409.9,307.1 410.0,305.0 410.2,305.4 410.4,305.8 410.5,302.2 410.7,305.5 410.8,302.1 411.0,306.0 411.2,308.8 411.3,311.7 411.5,309.5 411.7,302.2 411.8,301.1 412.0,301.9 412.1,312.4" stroke="#2f974e"/>
<path d="M412.1,312.4 412.3,306.9 412.5,311.7 412.6,306.9 412.8,319.4 413.0,316.8" stroke="#41ab5d"/>
<path d="M413.0,316.8 413.1,314.4" stroke="#2f974e"/>
<path d="M413.1,314.4 413.3,312.2 413.4,309.3" stroke="#41ab5d"/>
<path d="M413.4,309.3 413.6,323.4" stroke="#5fba6b"/>
<path d="M413.6,323.4 413.6,332.1 413.8,323.3 413.9,333.5" stroke="#7dc87d"/>
<path d="M413.9,333.5 414.1,329.6 414.3,332.8" stroke="#5fba6b"/>
<path d="M414.3,332.8 414.4,329.0 414.6,330.8" stroke="#7dc87d"/>
<path d="M414.6,330.8 414.7,329.2" stroke="#5fba6b"/>
<path d="M414.7,329.2 414.9,313.4 415.1,316.5" stroke="#7dc87d"/>
<path d="M415.1,316.5 415.2,318.4" stroke="#5fba6b"/>
<path d="M415.2,318.4 415.4,317.3 415.6,316.2 415.7,320.9 415.9,329.0 416.0,329.6" stroke="#7dc87d"/>
<path d="M416.0,329.6 416.2,323.2" stroke="#5fba6b"/>
<path d="M416.2,323.2 416.4,341.0 416.5,334.9 416.7,332.5" stroke="#7dc87d"/>
<path d="M416.7,332.5 416.9,335.6 417.0,334.2" stroke="#5fba6b"/>
<path d="M417.0,334.2 417.2,335.1 417.3,327.8 417.5,334.1 417.7,341.9 417.8,341.6 418.0,328.3 418.2,330.9 418.3,328.0 418.5,328.8" stroke="#7dc87d"/>
<path d="M418.5,328.8 418.7,334.8" stroke="#98d493"/>
<path d="M418.7,334.8 418.8,324.6" stroke="#5fba6b"/>
<path d="M418.8,324.6 419.0,321.5 419.1,330.3" stroke="#7dc87d"/>
<path d="M419.1,330.3 419.3,321.9" stroke="#98d493"/>
<path d="M419.3,321.9 419.5,319.8 419.6,329.8" stroke="#7dc87d"/>
<path d="M419.6,329.8 419.8,341.4" stroke="#5fba6b"/>
<path d="M419.8,341.4 420.0,339.4" stroke="#98d493"/>
<path d="M420.0,339.4 420.1,331.2 420.3,339.7 420.4,341.2 420.6,341.4" stroke="#7dc87d"/>
<path d="M420.6,341.4 420.8,339.3" stroke="#98d493"/>
<path d="M420.8,339.3 420.9,326.9" stroke="#7dc87d"/>
<path d="M420.9,326.9 421.1,342.0" stroke="#5fba6b"/>
<path d="M421.1,342.0 421.3,344.3" stroke="#7dc87d"/>
<path d="M421.3,344.3 421.4,339.7" stroke="#5fba6b"/>
<path d="M421.4,339.7 421.6,342.1 421.8,352.5" stroke="#7dc87d"/>
<path d="M421.8,352.5 421.9,342.7" stroke="#5fba6b"/>
<path d="M421.9,342.7 422.1,334.0 422.2,340.8" stroke="#7dc87d"/>
<path d="M422.2,340.8 423.0,269.5 423.1,260.2 423.3,263.2 423.5,259.1" stroke="#067230"/>
<path d="M423.5,259.1 423.6,258.2" stroke="#1c8540"/>
<path d="M423.6,258.2 423.8,260.0" stroke="#067230"/>
<path d="M423.8,260.0 423.9,260.6" stroke="#1c8540"/>
<path d="M423.9,260.6 424.1,260.4" stroke="#067230"/>
<path d="M424.1,260.4 424.3,270.2 424.4,267.1" stroke="#1c8540"/>
<path d="M424.4,267.1 424.6,270.4 424.8,280.6" stroke="#067230"/>
<path d="M424.8,280.6 424.9,273.4" stroke="#1c8540"/>
<path d="M424.9,273.4 425.1,280.9" stroke="#067230"/>
<path d="M425.1,280.9 425.3,278.6 425.4,275.6 425.6,278.3" stroke="#1c8540"/>
<path d="M425.6,278.3 425.8,274.5" stroke="#067230"/>
<path d="M425.8,274.5 425.9,287.6 426.1,294.6 426.3,291.0 426.4,286.2" stroke="#1c8540"/>
<path d="M426.4,286.2 426.6,289.6" stroke="#067230"/>
<path d="M426.6,289.6 426.7,291.8" stroke="#1c8540"/>
<path d="M426.7,291.8 426.9,295.4 427.1,295.7 427.2,303.4 427.4,303.5" stroke="#2f974e"/>
<path d="M427.4,303.5 427.6,293.0" stroke="#1c8540"/>
<path d="M427.6,293.0 427.7,299.1" stroke="#2f974e"/>
<path d="M427.7,299.1 427.9,303.1" stroke="#1c8540"/>
<path d="M427.9,303.1 428.1,304.9 428.2,303.4 428.4,297.8 428.6,294.5 428.7,303.0" stroke="#2f974e"/>
<path d="M428.7,303.0 428.7,309.4 428.9,303.3 429.1,302.2" stroke="#5fba6b"/>
<path d="M429.1,302.2 429.2,313.1" stroke="#7dc87d"/>
<path d="M429.2,313.1 429.4,314.9" stroke="#5fba6b"/>
<path d="M429.4,314.9 429.6,320.4 429.7,323.8" stroke="#7dc87d"/>
<path d="M429.7,323.8 429.9,320.0" stroke="#5fba6b"/>
<path d="M429.9,320.0 430.1,323.6 430.2,329.1 430.4,326.5" stroke="#7dc87d"/>
<path d="M430.4,326.5 430.6,331.2" stroke="#5fba6b"/>
<path d="M430.6,331.2 430.8,332.1 430.9,328.8 431.1,336.6 431.3,337.6 431.4,334.1 431.6,329.4" stroke="#7dc87d"/>
<path d="M431.6,329.4 432.0,270.6" stroke="#1c8540"/>
<path d="M432.0,270.6 432.1,272.7 432.3,277.6 432.5,275.7 432.6,278.4 432.8,272.0 432.9,266.0 433.1,268.3 433.3,259.3 433.4,265.5" stroke="#067230"/>
<path d="M433.4,265.5 433.6,267.6" stroke="#1c8540"/>
<path d="M433.6,267.6 433.8,266.7 433.9,278.6 434.1,268.9 434.3,269.5" stroke="#067230"/>
<path d="M434.3,269.5 434.4,283.5 434.6,277.9" stroke="#1c8540"/>
<path d="M434.6,277.9 434.7,278.8" stroke="#067230"/>
<path d="M434.7,278.8 434.9,282.6" stroke="#1c8540"/>
<path d="M434.9,282.6 435.1,278.0 435.2,277.3" stroke="#067230"/>
<path d="M435.2,277.3 435.4,289.0" stroke="#1c8540"/>
<path d="M435.4,289.0 435.6,287.3 435.7,279.8 435.9,279.7" stroke="#067230"/>
<path d="M435.9,279.7 436.1,285.4 436.2,283.0 436.4,271.2" stroke="#1c8540"/>
<path d="M436.4,271.2 436.5,273.7" stroke="#005c25"/>
<path d="M436.5,273.7 436.7,278.1 436.9,281.2 437.0,276.7 437.2,271.5" stroke="#067230"/>
<path d="M437.2,271.5 437.4,276.4 437.5,273.7" stroke="#1c8540"/>
<path d="M437.5,273.7 437.7,283.9" stroke="#067230"/>
<path d="M437.7,283.9 437.9,281.8 438.0,281.6 438.2,285.8" stroke="#1c8540"/>
<path d="M438.2,285.8 438.3,287.9 438.5,290.2" stroke="#067230"/>
<path d="M438.5,290.2 438.7,287.2" stroke="#1c8540"/>
<path d="M438.7,287.2 438.8,291.6" stroke="#067230"/>
<path d="M438.8,291.6 439.0,283.2 439.2,296.3 439.5,271.4" stroke="#1c8540"/>
<path d="M439.5,271.4 439.7,272.7 439.8,270.7 440.0,270.1 440.2,268.5 440.3,269.4 440.5,263.9 440.7,269.5" stroke="#067230"/>
<path d="M440.7,269.5 440.8,270.8" stroke="#1c8540"/>
<path d="M440.8,270.8 441.0,263.2 441.2,269.1 441.3,272.8" stroke="#067230"/>
</g>
<g fill="#000">
<path d="M204.90,243.30 L208.30,243.30 L206.60,246.10 Z"/>
<path d="M209.00,240.80 L212.40,240.80 L210.70,243.60 Z"/>
<path d="M213.20,234.00 L216.60,234.00 L214.90,236.80 Z"/>
<path d="M215.30,242.30 L218.70,242.30 L217.00,245.10 Z"/>
<path d="M211.60,243.60 L215.00,243.60 L213.30,246.40 Z"/>
<path d="M228.20,234.50 L231.60,234.50 L229.90,237.30 Z"/>
<path d="M243.80,239.70 L247.20,239.70 L245.50,242.50 Z"/>
<path d="M246.30,238.40 L249.70,238.40 L248.00,241.20 Z"/>
<path d="M248.00,237.80 L251.40,237.80 L249.70,240.60 Z"/>
<path d="M249.70,237.00 L253.10,237.00 L251.40,239.80 Z"/>
<path d="M251.30,236.40 L254.70,236.40 L253.00,239.20 Z"/>
<path d="M263.00,239.70 L266.40,239.70 L264.70,242.50 Z"/>
<path d="M272.30,247.00 L275.70,247.00 L274.00,249.80 Z"/>
<path d="M273.30,255.30 L276.70,255.30 L275.00,258.10 Z"/>
<path d="M280.20,245.90 L283.60,245.90 L281.90,248.70 Z"/>
<path d="M307.70,241.80 L311.10,241.80 L309.40,244.60 Z"/>
<path d="M311.30,239.20 L314.70,239.20 L313.00,242.00 Z"/>
<path d="M313.50,238.40 L316.90,238.40 L315.20,241.20 Z"/>
<path d="M325.40,250.10 L328.80,250.10 L327.10,252.90 Z"/>
<path d="M332.10,240.80 L335.50,240.80 L333.80,243.60 Z"/>
<path d="M382.50,239.20 L385.90,239.20 L384.20,242.00 Z"/>
<path d="M385.60,247.50 L389.00,247.50 L387.30,250.30 Z"/>
<path d="M391.90,239.70 L395.30,239.70 L393.60,242.50 Z"/>
<path d="M398.10,238.20 L401.50,238.20 L399.80,241.00 Z"/>
<path d="M399.10,240.40 L402.50,240.40 L400.80,243.20 Z"/>
<path d="M401.20,244.90 L404.60,244.90 L402.90,247.70 Z"/>
<path d="M421.50,241.80 L424.90,241.80 L423.20,244.60 Z"/>
<path d="M430.80,249.60 L434.20,249.60 L432.50,252.40 Z"/>
</g>
</g>
<rect x="201.2" y="219" width="240.1" height="149.1" fill="none" stroke="#000" stroke-width="1"/>
<line x1="201.2" y1="368.1" x2="201.2" y2="371.3" stroke="#000" stroke-width="0.8"/>
<text x="201.2" y="379.4" font-size="10.8" text-anchor="middle" fill="#000">0</text>
<line x1="237.2" y1="368.1" x2="237.2" y2="371.3" stroke="#000" stroke-width="0.8"/>
<text x="237.2" y="379.4" font-size="10.8" text-anchor="middle" fill="#000">10</text>
<line x1="273.2" y1="368.1" x2="273.2" y2="371.3" stroke="#000" stroke-width="0.8"/>
<text x="273.2" y="379.4" font-size="10.8" text-anchor="middle" fill="#000">20</text>
<line x1="309.2" y1="368.1" x2="309.2" y2="371.3" stroke="#000" stroke-width="0.8"/>
<text x="309.2" y="379.4" font-size="10.8" text-anchor="middle" fill="#000">30</text>
<line x1="345.2" y1="368.1" x2="345.2" y2="371.3" stroke="#000" stroke-width="0.8"/>
<text x="345.2" y="379.4" font-size="10.8" text-anchor="middle" fill="#000">40</text>
<line x1="381.2" y1="368.1" x2="381.2" y2="371.3" stroke="#000" stroke-width="0.8"/>
<text x="381.2" y="379.4" font-size="10.8" text-anchor="middle" fill="#000">50</text>
<line x1="417.2" y1="368.1" x2="417.2" y2="371.3" stroke="#000" stroke-width="0.8"/>
<text x="417.2" y="379.4" font-size="10.8" text-anchor="middle" fill="#000">60</text>
<line x1="198" y1="368.1" x2="201.2" y2="368.1" stroke="#000" stroke-width="0.8"/>
<text x="196.8" y="371" font-size="10.8" text-anchor="end" fill="#000">1.6</text>
<line x1="198" y1="343.25" x2="201.2" y2="343.25" stroke="#000" stroke-width="0.8"/>
<text x="196.8" y="346.15" font-size="10.8" text-anchor="end" fill="#000">1.8</text>
<line x1="198" y1="318.4" x2="201.2" y2="318.4" stroke="#000" stroke-width="0.8"/>
<text x="196.8" y="321.3" font-size="10.8" text-anchor="end" fill="#000">2.0</text>
<line x1="198" y1="293.55" x2="201.2" y2="293.55" stroke="#000" stroke-width="0.8"/>
<text x="196.8" y="296.45" font-size="10.8" text-anchor="end" fill="#000">2.2</text>
<line x1="198" y1="268.7" x2="201.2" y2="268.7" stroke="#000" stroke-width="0.8"/>
<text x="196.8" y="271.6" font-size="10.8" text-anchor="end" fill="#000">2.4</text>
<line x1="198" y1="243.85" x2="201.2" y2="243.85" stroke="#000" stroke-width="0.8"/>
<text x="196.8" y="246.75" font-size="10.8" text-anchor="end" fill="#000">2.6</text>
<line x1="198" y1="219" x2="201.2" y2="219" stroke="#000" stroke-width="0.8"/>
<text x="196.8" y="221.9" font-size="10.8" text-anchor="end" fill="#000">2.8</text>
<text x="320.2" y="390.3" font-size="12.2" text-anchor="middle" fill="#000">time (s)</text>
<text x="179.4" y="293.6" font-size="12.2" text-anchor="middle" fill="#000" transform="rotate(-90 179.4 293.6)">lifetime <tspan font-style="italic">τ</tspan> (ns)</text>
<rect x="447.6" y="218.2" width="6.3" height="150" fill="url(#ggrn)" stroke="#000" stroke-width="0.8"/>
<line x1="453.9" y1="218.2" x2="456.2" y2="218.2" stroke="#000" stroke-width="0.8"/>
<text x="457" y="221.2" font-size="8.4" text-anchor="start" fill="#000">5.8×10<tspan font-size="5.6" dy="-3.5">6</tspan></text>
<line x1="453.9" y1="273" x2="456.2" y2="273" stroke="#000" stroke-width="0.8"/>
<text x="457" y="276" font-size="8.4" text-anchor="start" fill="#000">1.0×10<tspan font-size="5.6" dy="-3.5">6</tspan></text>
<line x1="453.9" y1="345.2" x2="456.2" y2="345.2" stroke="#000" stroke-width="0.8"/>
<text x="457" y="348.2" font-size="8.4" text-anchor="start" fill="#000">1.0×10<tspan font-size="5.6" dy="-3.5">5</tspan></text>
<line x1="453.9" y1="368.3" x2="456.2" y2="368.3" stroke="#000" stroke-width="0.8"/>
<text x="457" y="371.3" font-size="8.4" text-anchor="start" fill="#000">4.8e×10<tspan font-size="5.6" dy="-3.5">4</tspan></text>
<text x="496.2" y="299.2" font-size="12.4" text-anchor="middle" fill="#000" transform="rotate(-90 496.2 299.2)">flux (Hz)</text>
<path d="M212.48,129.81 L269.65,107.51 L269.15,28.9 L210.88,45.79 Z" stroke="none" stroke-width="0" fill="#f9f9f9"/>
<path d="M269.65,107.51 L325.58,129.59 L326.08,46.41 L269.15,28.9 Z" stroke="none" stroke-width="0" fill="#f1f1f1"/>
<path d="M212.48,129.81 L268.93,155.1 L325.58,129.59 L269.65,107.51 Z" stroke="none" stroke-width="0" fill="#f4f4f4"/>
<g stroke="#c4c4c4" stroke-width="0.85" fill="none">
<path d="M273.03,108.85 L272.59,29.96"/>
<path d="M215.88,131.33 L273.03,108.85"/>
<path d="M284.74,113.47 L284.50,33.62"/>
<path d="M227.66,136.61 L284.74,113.47"/>
<path d="M296.76,118.21 L296.73,37.38"/>
<path d="M239.78,142.04 L296.76,118.21"/>
<path d="M309.09,123.08 L309.29,41.25"/>
<path d="M252.24,147.62 L309.09,123.08"/>
<path d="M321.76,128.09 L322.19,45.21"/>
<path d="M265.06,153.37 L321.76,128.09"/>
<path d="M216.89,128.09 L215.38,44.49"/>
<path d="M216.89,128.09 L273.31,153.13"/>
<path d="M229.65,123.11 L228.40,40.71"/>
<path d="M229.65,123.11 L286.00,147.41"/>
<path d="M242.03,118.28 L241.02,37.05"/>
<path d="M242.03,118.28 L298.28,141.89"/>
<path d="M254.05,113.60 L253.26,33.50"/>
<path d="M254.05,113.60 L310.17,136.53"/>
<path d="M265.71,109.05 L265.14,30.06"/>
<path d="M265.71,109.05 L321.70,131.34"/>
<path d="M211.06,54.95 L269.20,37.46 L326.03,55.47"/>
<path d="M211.32,68.73 L269.28,50.34 L325.94,69.12"/>
<path d="M211.58,82.43 L269.36,63.16 L325.86,82.68"/>
<path d="M211.84,96.05 L269.44,75.90 L325.78,96.16"/>
<path d="M212.10,109.59 L269.53,88.57 L325.70,109.57"/>
<path d="M212.35,123.04 L269.60,101.17 L325.62,122.89"/>
</g>
<g fill="none" stroke="#b4b4b4" stroke-width="1.24" stroke-linejoin="round" stroke-linecap="round">
<path d="M303.1,125.4 304.2,124.4 305.3,124.5 304.6,124.8 304.0,125.8 304.0,126.7 303.0,126.9 301.5,128.0 301.7,128.6 302.7,129.8 302.8,129.8 304.2,131.3 304.1,130.8 305.5,130.7 306.4,130.8 307.9,131.2 308.7,130.9 308.2,132.3 307.6,132.2 306.0,132.7 305.6,132.8 303.7,132.8 302.6,132.2 302.2,131.7 301.3,132.4 301.5,131.5 302.5,130.4 302.2,129.9 302.8,129.9 302.6,130.8 304.2,130.4 304.8,130.1 305.3,130.7 306.2,131.0 305.0,130.7 304.8,132.0 303.8,132.0 303.5,132.5 302.5,133.2 301.1,132.8 300.4,132.6 299.7,133.2 299.1,133.6 297.5,133.6 297.0,134.1 296.7,133.9 295.5,133.3 294.3,133.1 292.8,133.2 292.7,134.1 291.9,133.7 291.1,133.7 290.4,133.4 M290.1,133.7 291.6,132.7 291.7,132.1 293.6,132.7 292.3,132.1 290.6,131.7 290.1,131.8 289.0,132.4 287.6,130.4 287.1,130.2 286.3,130.4 285.9,130.7 285.3,130.7 284.5,130.5 283.9,129.4 282.7,128.6 281.8,128.5 281.3,127.1 280.3,126.0 279.1,126.1 278.0,127.0 277.8,127.4 279.1,128.0 280.5,128.7 280.7,128.6 280.7,129.5 282.2,129.9 282.7,130.8 283.2,130.7 283.7,131.1 284.8,130.8 286.8,130.9 287.8,131.8 288.3,131.9 288.6,132.5 288.8,133.8 287.9,132.3 288.5,131.4 288.4,130.3 288.2,129.7 286.6,130.0 285.0,130.0 285.2,129.4 284.0,129.3 283.3,129.3 282.4,129.1 281.2,129.1 280.7,128.7 280.6,129.0 279.8,128.4 278.2,128.1 276.9,128.1 M278.1,127.5 277.1,127.3 276.2,127.4 276.1,127.6 275.0,128.1 274.6,127.4 273.3,128.1 273.3,128.3 271.8,128.7 270.7,127.6 269.4,128.6 268.9,128.3 268.4,128.6 267.4,130.3 266.6,129.6 265.3,130.4 265.4,130.5 264.2,131.0 263.4,131.6 262.1,131.8 259.9,131.5 259.1,131.5 258.7,131.7 257.7,131.9 257.3,131.9 256.4,132.0 255.8,132.6 254.5,132.5 253.7,132.6 252.7,132.4 251.5,133.0 M251.7,132.2 249.7,132.6 248.4,131.9 248.2,132.0 247.7,131.9 246.3,131.3 245.8,131.6 245.1,132.3 243.4,133.3 243.0,133.2 242.4,134.1 242.6,135.2 242.5,134.2 241.2,133.6 240.2,133.4 239.7,133.5 238.4,133.6 237.8,133.1 237.6,133.4 236.9,132.9 235.3,132.3 236.2,132.2 236.8,131.1 237.4,129.7 236.0,130.3 235.1,130.2 234.8,131.3 234.2,132.2 233.7,131.8 234.1,132.5 235.4,131.6 236.3,131.3 237.3,131.3 237.8,131.4 238.4,131.9 237.8,131.8 236.6,131.9 236.7,131.3 236.1,131.6 235.1,131.2 234.3,130.7 233.2,129.8 232.8,129.6 231.7,130.0 230.7,130.3 229.5,129.9 229.1,130.6 229.2,130.7 227.8,131.0 226.7,129.7 225.9,130.2 225.2,129.5 224.5,129.8 225.4,130.5 226.2,131.5 227.4,132.0 228.1,131.2 228.8,130.6 229.7,130.9 230.2,130.9 231.3,131.2 232.2,131.8 232.8,132.3 233.8,132.0 234.3,132.7 235.5,133.1 236.5,133.1 236.7,133.3 237.7,133.3 238.5,133.8 239.8,134.3 240.1,134.3 240.7,134.9 242.6,135.1 M282.9,131.1 281.7,131.3 281.2,131.6 280.1,131.5 278.9,131.2 278.1,131.6 277.8,132.3 276.2,133.2 275.6,132.7 275.2,133.3 275.2,132.9 274.0,133.8 272.7,134.7 272.3,134.6 271.5,135.0 270.3,134.9 269.0,134.9 268.2,134.6 269.1,134.5 269.6,135.8 270.5,136.2 272.1,136.4 272.8,137.0 273.9,136.4 275.0,136.5 275.8,136.5 276.1,136.5 277.0,135.9 277.7,137.3 279.0,137.2 279.9,138.2 279.9,137.7 280.9,138.0 282.3,138.4 283.5,138.1 283.9,138.9 284.7,139.1 285.9,138.9 286.6,139.2 286.7,138.3 287.4,138.1 287.7,137.8 289.0,137.9 291.3,138.6 292.4,138.9 290.4,138.6 289.8,138.5 289.1,138.8 287.7,137.8 287.5,138.3 285.9,139.2 285.0,139.0 284.8,139.2 284.1,140.4 282.9,140.5 282.4,140.2 281.5,139.7 280.4,139.3 279.7,139.5 280.2,139.4 281.7,139.9 281.8,139.2 M285.2,132.7 284.1,133.0 283.7,133.3 282.9,134.5 282.6,135.2 281.3,135.9 280.6,136.7 280.3,136.3 280.5,136.9 280.6,137.8 279.6,138.1 M289.7,132.9 290.2,133.2 290.9,134.0 292.1,134.1 293.5,134.5 294.7,133.8 295.7,133.9 296.6,134.2 296.7,135.0 296.7,134.8 297.9,134.4 300.2,134.5"/>
</g>
<g fill="#9a9a9a" stroke="none" opacity="0.45">
<path d="M237.0,76.8 244.1,74.8 251.3,78.7 252.2,92.4 246.0,95.4 238.8,93.5 Z"/>
<path d="M301.4,74.7 308.5,72.7 315.7,76.6 316.2,94.3 312.3,102.1 305.1,100.2 Z"/>
<path d="M223.1,84.7 228.9,84.6 229.4,95.4 223.6,96.4 Z"/>
</g>
<g fill="none" stroke="#808080" stroke-opacity="0.34" stroke-width="1.47" stroke-linejoin="round" stroke-linecap="round">
<path d="M219.9,60.3 219.6,61.6 219.3,62.5 219.9,62.9 219.5,64.1 220.6,64.7 220.6,66.7 220.2,66.9 221.5,66.8 221.3,66.8 220.4,69.2 220.8,69.6 220.0,70.7 219.1,72.0 220.7,72.0 219.5,73.3 219.8,75.3 220.1,75.8 220.3,75.8 221.0,76.0 221.8,77.2 221.6,77.9 220.7,80.1 220.8,81.3 220.7,83.3 220.6,82.6 220.8,83.4 219.7,83.9 220.9,85.0 221.1,84.8 221.8,85.1 222.8,86.1 222.4,86.8 222.4,87.6 222.5,88.5 223.3,90.0 223.2,90.3 223.6,91.4 224.3,91.1 225.8,91.8 227.0,92.2 226.3,93.3 226.6,94.0 227.4,94.0 228.2,94.9 M218.3,71.8 218.2,71.2 218.9,72.6 219.6,73.7 219.8,74.0 219.8,74.7 219.6,76.2 219.9,76.1 220.0,77.1 220.2,79.0 220.0,78.4 219.8,78.6 220.7,79.5 220.4,81.9 219.5,82.6 219.6,83.0 219.9,84.3 220.5,85.2 M224.2,78.4 225.2,78.9 226.7,78.7 227.1,77.9 227.4,76.8 226.9,76.6 228.3,77.9 229.2,78.1 229.6,79.4 230.2,80.3 230.9,81.9 231.9,79.9 231.4,80.6 233.4,80.2 233.4,80.2 233.6,80.7 234.6,81.2 233.7,81.3 234.6,81.6 235.2,82.2 235.9,82.9 236.7,83.6 236.3,84.7 237.1,85.4 236.8,85.8 238.2,86.6 236.8,87.8 236.6,88.0 235.8,88.2 235.5,87.3 234.6,86.6 234.3,86.9 233.6,87.0 233.8,87.8 232.1,88.1 231.6,86.0 231.6,85.1 230.3,86.3 229.4,86.6 229.4,87.1 227.0,87.2 226.0,86.8 225.3,86.7 225.4,86.1 225.8,85.7 225.1,85.8 224.9,85.1 225.2,86.2 224.9,86.8 224.3,86.8 225.4,87.9 223.4,88.8 223.1,89.0 223.6,90.1 224.9,90.6 225.1,91.7 224.3,91.3 224.5,92.9 225.3,92.9 M228.3,64.3 228.7,65.5 228.1,65.6 228.6,66.9 229.4,68.5 229.3,70.0 229.8,70.0 229.7,70.5 230.3,69.7 230.3,70.7 230.8,71.0 231.3,72.7 232.7,73.4 233.1,74.3 232.6,74.5 232.5,74.9 233.8,74.6 235.0,75.9 234.2,77.4 233.5,78.4 234.1,78.8 233.5,80.6 232.9,80.8 232.4,79.4 230.3,79.5 230.2,79.2 229.6,77.8 M238.2,84.6 238.8,83.5 240.0,83.2 240.8,82.9 241.8,82.7 242.4,82.9 242.6,83.2 243.0,83.7 243.8,84.3 244.3,85.2 244.9,84.8 246.1,84.5 247.5,83.6 246.9,83.5 248.0,83.1 248.9,83.8 248.9,83.4 249.7,84.3 249.7,83.8 250.0,84.2 250.7,85.2 250.9,85.4 251.3,86.5 252.3,87.5 253.2,88.9 253.2,90.2 252.9,90.9 253.5,90.3 254.9,92.5 255.6,92.1 253.3,93.2 253.1,93.2 252.1,92.7 251.7,92.4 250.3,93.5 250.8,95.0 250.5,95.5 250.0,94.6 249.1,94.3 247.8,93.8 247.0,92.6 245.7,93.5 245.7,94.8 245.8,95.5 245.1,95.6 243.7,94.5 243.1,96.1 242.6,97.0 243.0,96.6 242.0,96.7 242.1,94.8 241.3,94.8 240.0,95.0 239.5,94.0 239.0,92.8 238.8,92.5 238.3,91.5 238.4,90.1 239.2,88.6 239.0,88.1 239.0,87.4 240.1,87.0 240.8,86.4 242.0,87.1 241.4,88.3 243.5,89.2 244.8,89.0 246.1,89.9 246.2,90.9 246.7,90.5 247.3,90.6 247.7,90.6 248.1,89.2 249.6,89.6 250.4,88.5 250.9,89.5 250.9,89.6 252.5,90.5 252.7,91.3 253.4,92.2 252.9,92.7 253.2,94.6 253.5,94.8 M245.1,63.9 245.9,64.1 245.6,65.0 245.8,66.6 246.6,67.1 246.2,67.6 245.8,67.8 246.2,68.9 245.1,69.7 245.6,69.6 246.5,71.3 246.4,72.0 247.1,74.2 247.1,74.2 246.8,75.0 247.7,74.6 247.7,77.1 248.6,77.0 249.6,78.3 249.2,80.1 249.9,80.3 249.7,81.6 248.6,81.9 248.7,82.2 248.4,82.7 247.6,84.0 247.2,85.1 246.3,84.6 M258.8,62.2 259.8,62.8 259.6,64.5 259.9,65.4 259.3,65.3 259.9,67.3 259.5,68.5 259.9,68.6 260.3,70.0 260.9,70.5 260.9,70.9 260.8,70.6 260.6,72.1 261.0,73.3 260.9,74.8 261.4,74.9 261.8,75.5 260.9,76.3 262.3,76.3 262.1,77.5 261.8,78.6 260.9,79.8 260.7,80.8 260.0,82.1 M252.1,66.6 252.1,67.0 253.3,67.5 253.0,67.8 253.2,68.6 252.7,69.4 251.6,70.6 252.6,72.5 253.0,72.8 254.0,73.4 253.6,74.0 252.6,74.3 252.9,76.1 253.9,75.5 254.1,76.0 254.2,77.7 253.9,79.5 254.7,79.6 255.0,80.5 255.4,81.1 255.3,82.1 255.9,84.1 255.3,84.6 255.9,84.3 256.5,84.1 255.9,84.8 256.8,85.4 255.4,87.6 255.6,86.9 254.6,87.5 253.7,89.4 M240.8,70.6 240.7,71.1 240.5,72.9 240.9,73.4 241.8,75.2 242.5,76.1 241.6,77.1 241.8,76.7 241.1,77.7 240.3,77.7 239.9,78.9 240.3,79.5 241.4,80.9 242.5,81.8 243.1,81.1 M275.7,49.5 275.5,50.3 275.4,51.1 275.0,51.6 274.9,53.2 276.8,54.0 276.3,54.5 275.9,55.5 276.9,56.0 276.3,56.0 275.6,55.9 275.3,57.3 276.8,57.9 276.8,59.3 277.2,59.7 277.3,60.9 276.7,62.3 276.6,63.5 275.4,63.6 275.4,63.1 276.3,64.5 277.7,64.5 278.0,65.4 279.8,64.0 279.5,63.3 280.0,62.4 279.4,62.8 279.3,61.3 280.5,60.9 280.5,60.5 281.5,60.3 282.4,59.5 282.9,59.1 281.8,57.4 281.3,57.6 281.2,58.3 280.3,57.0 281.3,55.1 280.3,54.4 279.6,53.0 280.5,52.2 279.7,52.2 278.2,51.9 277.8,52.0 278.0,51.2 277.6,50.8 276.9,49.9 275.8,50.2 274.7,49.6 M276.7,55.5 277.0,55.3 277.2,56.5 277.4,58.1 278.4,58.8 277.5,59.4 278.4,60.9 278.2,61.2 278.0,62.5 278.8,63.0 279.8,64.0 M283.1,58.2 283.4,59.4 283.3,61.2 282.7,61.8 283.1,61.6 283.6,62.4 282.7,62.5 283.2,63.6 284.7,63.6 284.6,65.7 284.6,66.8 284.5,67.3 285.1,69.1 285.8,69.0 286.0,69.1 284.7,70.2 285.5,70.6 285.6,72.2 286.6,72.8 286.4,74.1 286.2,74.9 286.8,76.1 287.7,76.9 288.0,78.8 287.4,79.0 287.1,79.3 287.7,80.1 286.8,80.7 287.1,81.1 286.4,82.5 287.5,82.9 286.3,83.9 287.9,84.8 288.2,85.2 288.8,86.3 M287.9,62.1 288.7,63.3 289.5,64.0 290.3,64.2 290.2,64.6 291.1,65.1 291.7,66.5 292.3,67.3 292.2,67.9 291.5,68.2 292.6,69.8 293.6,70.8 294.0,72.3 293.9,72.3 293.7,72.9 293.9,74.4 293.5,75.1 293.7,74.8 293.6,75.8 293.5,77.7 294.1,77.5 293.5,78.3 293.1,79.8 294.0,79.6 293.9,80.6 294.6,81.6 295.9,82.5 294.4,83.1 294.6,83.6 294.6,85.4 M297.0,71.6 297.0,71.9 297.4,72.0 297.6,72.5 296.9,73.1 297.2,74.0 297.6,74.7 298.6,76.6 298.8,77.7 299.9,78.6 299.2,78.8 298.3,79.7 297.8,81.0 297.8,81.7 297.6,81.8 298.0,82.9 298.2,83.4 299.0,83.9 298.6,83.7 298.2,85.5 297.2,86.1 298.2,87.4 299.1,88.7 299.5,90.4 298.7,90.7 299.2,91.7 300.2,91.4 299.5,92.3 300.0,94.1 299.8,93.3 299.1,93.9 299.7,93.5 299.1,94.9 299.8,96.1 299.4,98.4 299.0,99.3 300.4,99.9 299.8,100.7 M301.2,67.9 301.9,68.4 301.8,70.3 301.9,71.6 300.9,72.1 301.9,72.7 302.3,73.0 302.4,73.4 301.9,73.8 302.7,75.1 302.5,75.0 302.9,75.7 302.8,76.9 302.1,77.7 302.3,78.4 301.9,80.1 302.8,80.4 303.2,80.8 302.3,82.1 302.1,83.2 303.0,83.3 302.5,83.7 302.5,84.9 302.9,86.0 304.2,86.4 305.0,87.5 304.1,88.0 305.3,89.2 305.0,90.9 305.6,91.6 305.5,91.6 305.9,92.8 305.1,93.1 305.3,93.4 304.6,93.8 303.7,93.9 305.2,95.5 305.0,96.2 305.1,96.5 304.3,97.4 303.6,99.1 304.0,100.0 305.0,100.9 305.4,102.5 306.2,103.4 306.0,104.2 306.2,104.9 M305.9,70.6 306.4,72.3 306.8,72.3 306.3,72.4 306.0,72.8 306.7,73.7 305.8,74.4 306.6,75.3 307.4,76.2 308.6,78.1 307.1,78.5 307.7,78.2 308.4,79.7 307.7,79.6 308.0,81.5 307.0,82.8 306.7,83.1 307.4,83.3 306.6,84.8 305.6,84.9 306.3,85.7 307.8,86.6 308.6,87.8 308.3,89.3 308.4,90.9 309.2,90.8 309.3,91.4 309.7,92.7 311.1,93.3 311.3,94.3 310.8,95.3 310.0,95.4 310.2,95.3 309.9,95.6 310.8,96.4 310.4,97.5 309.3,99.9 309.9,100.6 310.6,99.8 310.8,101.3 310.7,101.7 M310.3,73.7 311.5,74.4 311.3,75.6 311.5,75.4 310.9,74.7 310.9,75.5 312.1,78.5 311.8,80.0 311.7,79.9 311.6,80.7 311.7,80.8 311.5,81.3 312.1,83.2 311.5,83.7 312.9,83.6 312.7,83.7 313.6,85.6 314.4,85.9 313.8,85.8 312.8,86.3 313.5,87.5 313.7,87.9 313.4,88.8 313.9,89.9 313.1,90.8 313.2,91.9 314.0,93.0 313.8,93.5 313.5,94.1 312.9,95.1 313.7,97.3 313.6,97.7 313.6,98.4 313.8,98.0 313.7,99.3 315.6,101.3 315.5,102.5 315.5,102.5 M298.9,76.9 299.5,77.6 300.4,77.8 300.8,77.3 301.7,76.2 303.0,75.0 303.7,75.2 303.4,74.8 304.7,74.9 304.9,76.3 305.9,77.1 306.3,76.2 307.3,76.1 309.4,76.3 310.4,75.9 311.4,75.6 312.1,76.1 312.2,77.7 312.8,77.2 314.2,75.9 314.1,75.5 315.1,76.2 315.8,74.8 M295.6,69.8 297.3,68.0 297.2,67.7 299.2,66.6 300.0,66.5 299.2,66.5 300.1,67.2 300.7,66.5 301.3,66.9 302.2,67.0 302.9,67.1 303.3,66.9 303.9,67.3 304.6,69.5 304.3,69.1 303.9,70.5 304.7,72.6 305.2,70.9 306.9,69.7 307.4,70.0 308.6,69.2 309.3,68.4 309.6,67.1 310.2,68.1 311.4,69.1 311.8,69.8 312.6,70.5 312.6,70.6 312.8,71.8 313.9,72.1 314.5,71.6 316.4,71.3 317.1,70.3 M291.6,66.9 292.8,66.6 293.7,67.6 293.8,68.5 294.3,70.4 294.0,70.0 295.4,69.5 294.6,71.2 294.6,73.4 294.1,73.6 294.7,75.0 295.6,75.9 295.2,75.1 295.9,74.2"/>
<path d="M220.8,62.0 220.8,62.0 220.3,62.8 220.1,62.7 220.7,64.0 221.4,64.4 221.6,65.5 220.6,66.9 220.9,69.1 220.9,69.3 221.4,69.9 221.5,70.3 221.1,71.7 221.0,72.4 220.4,73.3 220.7,74.3 221.0,75.5 221.2,76.0 221.7,75.9 221.5,76.5 222.8,77.5 222.6,78.8 221.9,78.6 222.1,79.5 222.0,79.9 221.3,81.9 221.8,81.9 221.1,83.0 221.9,84.1 222.3,84.4 222.9,86.2 222.8,86.1 222.8,87.6 222.4,88.4 222.7,89.1 223.4,90.0 224.9,91.1 225.9,91.7 225.7,92.7 224.5,93.3 225.6,93.2 226.6,93.7 225.8,94.6 226.3,95.1 227.2,96.8 M219.7,71.5 219.0,70.9 219.5,72.5 219.9,72.4 220.1,74.4 219.9,75.7 220.3,76.4 220.6,76.6 220.3,78.4 219.8,78.6 218.9,78.9 219.4,80.5 220.2,81.4 220.8,82.1 221.5,82.5 222.1,83.2 221.2,83.2 221.6,84.0 M224.4,78.0 225.7,77.8 227.4,78.1 227.5,78.2 228.3,77.3 229.2,77.6 230.4,79.1 230.1,79.6 230.7,79.4 230.8,79.6 231.1,80.9 232.4,80.5 232.6,80.9 232.7,80.8 233.2,79.1 234.1,80.2 234.2,81.8 235.5,81.7 235.3,82.2 235.6,82.5 236.4,83.4 236.9,84.1 237.4,84.2 237.4,84.8 237.8,86.2 238.7,86.2 237.5,87.6 237.3,88.4 236.1,88.5 236.1,89.7 235.2,88.8 234.6,88.3 233.9,87.9 233.4,88.0 232.6,86.7 231.5,86.3 230.1,85.1 230.2,86.7 228.7,86.4 228.6,86.8 229.1,87.5 228.1,88.6 228.1,88.0 226.8,87.4 227.5,86.4 227.0,84.8 225.7,84.1 225.8,86.2 225.2,87.2 225.4,87.3 225.4,88.0 225.3,88.4 225.3,89.9 225.5,90.1 224.9,90.2 226.1,91.2 226.2,92.6 227.0,92.5 227.2,93.7 M227.8,64.0 228.9,64.9 230.0,65.4 230.4,66.6 230.8,66.9 231.8,68.0 232.1,69.4 231.4,69.5 231.9,70.2 231.8,70.8 232.4,71.7 231.6,72.4 232.4,73.1 233.7,73.2 233.4,75.3 233.9,76.3 234.8,77.2 235.6,77.0 236.2,77.7 235.4,79.1 235.3,79.9 233.9,79.9 234.1,81.1 234.0,81.2 232.6,80.4 233.0,79.4 231.0,80.0 M237.9,83.8 238.2,84.0 240.0,83.4 240.7,82.2 241.6,82.2 243.2,83.9 243.5,83.4 243.8,83.4 244.0,84.5 244.7,85.2 244.5,85.4 245.1,86.5 246.4,85.7 247.2,85.4 247.7,84.2 248.2,84.1 249.3,82.7 249.0,84.0 250.0,85.1 251.1,85.4 251.7,86.1 251.7,85.6 252.9,86.7 252.9,87.7 253.4,89.0 254.6,90.6 254.9,91.5 254.5,91.1 254.3,91.9 255.3,92.5 254.8,93.4 254.0,93.1 253.2,93.9 253.2,95.0 252.4,95.9 251.6,96.5 251.2,96.9 249.8,95.2 249.3,95.7 248.3,94.6 248.2,95.2 247.2,95.6 247.5,96.2 246.6,96.9 245.6,96.1 244.6,96.8 244.0,96.8 242.5,95.3 243.0,94.7 242.2,94.3 242.1,92.9 241.3,93.2 240.1,92.8 240.5,91.5 239.4,91.5 238.5,91.0 238.0,89.6 238.3,90.1 239.6,89.6 240.2,89.0 240.5,88.2 241.3,88.1 241.7,88.2 243.6,88.7 244.6,88.7 243.9,88.7 244.3,88.4 244.5,89.3 245.4,90.1 246.5,89.6 248.3,89.8 249.3,89.8 250.0,89.6 249.7,88.8 250.2,89.3 251.5,89.8 251.6,91.0 251.8,91.1 252.2,91.8 252.2,91.6 252.8,93.0 253.0,93.2 254.0,93.2 M246.7,64.0 246.9,65.3 247.1,67.0 246.6,66.8 247.8,67.0 247.3,67.8 247.2,68.3 246.9,69.5 246.7,69.5 246.0,70.5 247.5,70.1 246.9,72.4 247.3,72.3 248.3,73.4 248.3,75.0 248.7,76.1 249.7,77.9 251.1,77.7 251.3,77.6 250.4,79.0 250.1,79.6 249.1,80.4 248.4,80.4 249.1,82.1 247.9,82.9 247.2,83.9 248.2,83.6 247.9,85.6 M259.7,62.9 260.0,64.0 260.0,64.3 259.9,65.5 260.8,66.1 260.6,67.5 260.9,67.6 261.1,67.9 260.9,70.3 262.1,71.1 261.3,72.4 261.1,72.7 261.5,73.2 261.9,74.0 261.9,74.9 261.8,74.7 262.1,75.6 261.9,75.7 262.5,76.6 262.7,79.0 262.2,80.9 262.6,81.0 262.1,81.1 262.2,81.1 M252.0,66.8 251.7,67.1 252.8,66.5 252.6,66.9 252.5,68.1 253.9,67.8 253.3,69.2 254.7,71.2 254.1,71.5 254.7,73.4 254.5,73.9 254.0,75.3 254.6,75.0 254.4,74.7 254.9,75.9 255.2,77.3 256.2,77.8 256.2,79.3 256.3,81.0 256.3,81.5 256.1,81.7 255.9,84.6 257.1,83.9 257.5,84.0 257.8,85.1 256.6,85.0 256.7,86.3 257.1,86.8 256.7,87.2 255.7,88.7 255.4,89.9 M240.9,70.5 241.4,70.0 241.2,72.4 241.4,73.5 241.3,75.0 242.4,76.1 242.0,76.6 241.4,77.2 240.4,78.0 241.1,78.2 241.9,78.8 243.1,79.3 242.7,80.0 244.8,79.9 244.3,80.8 M276.3,48.7 276.8,50.0 276.8,50.3 277.3,50.7 276.4,51.8 276.0,52.5 276.7,52.7 276.8,53.9 277.0,55.3 278.0,55.2 277.1,57.1 278.1,58.3 278.6,59.4 277.3,59.0 277.3,59.4 277.6,60.8 277.9,61.1 278.5,62.3 278.0,63.4 278.7,63.5 277.5,65.5 278.2,65.9 278.9,65.4 280.5,66.2 279.8,65.3 281.1,64.0 281.5,63.6 282.1,62.3 282.4,62.7 282.7,61.4 281.5,59.8 282.8,60.0 282.3,59.5 282.9,58.8 282.7,58.0 282.5,56.7 283.1,56.5 283.3,56.6 281.8,55.4 281.3,53.6 280.9,53.1 280.7,52.9 280.1,51.9 279.9,51.4 278.8,51.0 278.3,50.5 277.8,49.2 277.4,49.1 276.9,49.7 M277.5,56.5 278.2,57.2 277.4,58.5 277.4,59.4 278.2,59.9 278.2,59.6 278.4,59.8 278.3,60.9 278.7,62.1 279.3,63.4 278.6,63.5 M282.4,59.0 283.7,59.4 283.8,60.1 283.4,61.5 283.5,62.3 283.4,63.3 285.0,63.4 285.0,65.3 285.1,66.4 285.7,67.0 285.1,66.8 284.7,67.1 284.5,68.5 285.4,69.7 285.1,71.0 285.8,72.4 286.2,72.8 286.4,73.9 286.7,74.6 287.3,74.4 287.1,75.7 287.4,77.0 287.0,77.8 287.5,78.6 287.8,79.1 287.2,79.0 286.8,79.6 287.1,80.3 288.5,80.9 289.0,82.2 289.1,82.0 289.6,83.5 289.3,84.9 289.3,86.4 288.9,86.3 M289.4,61.8 290.4,62.6 290.9,64.3 291.5,64.8 291.9,65.3 291.8,64.6 291.6,66.0 291.7,67.7 292.6,68.6 293.3,70.1 292.7,69.5 292.7,70.7 293.7,71.0 293.3,71.5 294.2,71.6 294.8,71.9 293.8,74.3 293.2,74.8 293.8,75.7 293.5,75.0 293.8,75.5 293.9,76.7 293.6,77.7 294.6,78.6 294.1,80.0 294.7,81.4 294.7,81.8 294.9,82.9 294.7,84.9 295.3,84.4 M298.1,69.5 297.7,70.5 298.0,72.2 299.0,73.7 300.1,74.4 299.4,75.6 298.6,75.9 299.9,76.6 299.4,77.3 299.2,78.1 299.5,78.8 299.4,79.5 298.7,80.4 298.5,80.9 299.4,81.9 299.8,82.7 299.9,83.6 299.7,84.2 299.2,84.6 298.8,86.2 299.0,87.2 298.8,87.9 299.4,88.1 298.8,88.9 299.3,88.9 300.8,90.0 301.3,90.5 301.7,91.9 302.2,93.7 302.0,94.3 301.3,94.7 300.8,95.3 300.1,96.9 300.4,97.6 299.4,96.9 300.1,98.4 300.0,99.1 299.2,101.1 M302.9,68.4 303.3,69.0 303.3,70.7 302.9,70.9 302.3,70.5 303.4,71.8 303.0,71.2 304.6,71.8 304.4,73.2 303.8,73.8 303.8,73.8 303.3,76.1 303.8,76.4 303.3,78.6 302.7,79.8 302.9,79.8 301.8,80.2 302.8,80.4 302.9,81.7 303.0,83.5 302.4,85.0 302.2,86.2 302.8,86.1 303.6,86.2 303.9,86.0 304.1,88.1 304.7,89.2 304.2,89.5 304.2,89.9 305.4,91.4 305.7,90.9 305.8,91.3 306.3,93.1 306.2,94.2 305.8,94.4 305.3,95.3 305.6,96.4 305.8,97.4 305.6,98.0 304.3,98.1 305.1,98.6 305.0,99.7 305.1,100.9 306.5,102.1 305.9,102.8 306.9,103.9 306.2,104.3 M306.2,70.0 306.4,70.1 306.9,72.0 306.6,72.1 307.4,72.4 307.9,74.2 308.2,75.4 308.1,76.6 308.7,76.7 309.5,78.0 308.7,78.4 308.2,79.0 308.9,80.2 308.4,81.2 308.7,81.8 308.7,81.8 308.9,82.4 308.8,84.4 308.4,84.2 308.5,85.9 308.7,86.4 309.1,86.5 308.3,87.8 309.4,89.1 309.0,90.1 309.8,90.8 309.6,91.5 309.7,91.6 309.8,92.1 310.2,92.2 310.1,93.3 310.0,93.4 309.6,95.4 309.8,96.8 310.3,97.6 311.2,98.5 311.1,98.9 312.0,99.4 312.1,100.2 311.9,100.8 312.7,101.5 M311.1,72.6 311.8,73.3 311.6,73.9 311.2,75.5 312.0,75.9 312.2,76.9 311.9,77.6 312.5,78.3 312.0,78.7 311.9,78.8 312.4,80.3 312.6,80.4 312.9,81.5 314.0,83.1 314.4,84.2 314.1,84.1 314.2,84.9 314.0,85.7 314.1,86.2 314.8,86.9 315.1,88.7 315.6,90.1 315.9,90.7 315.3,90.7 314.8,92.5 314.3,92.7 314.7,93.0 314.1,94.2 314.4,94.2 314.2,94.8 315.2,96.1 314.9,97.4 314.8,98.6 313.9,99.6 314.2,99.9 315.8,101.7 316.4,102.5 316.4,103.2 M299.7,76.2 300.4,76.2 301.3,77.0 301.8,76.4 303.9,76.0 304.7,75.8 304.5,75.2 305.1,75.4 305.3,75.6 307.2,74.9 308.1,75.5 309.2,75.9 309.1,75.5 310.2,76.3 311.1,77.5 311.8,76.2 311.1,76.0 311.8,75.8 313.5,75.4 314.5,75.2 314.3,75.1 315.0,75.2 316.0,75.8 M296.5,69.4 297.6,68.8 299.4,68.4 299.9,67.9 300.4,67.1 301.3,67.7 301.4,68.4 301.9,66.7 302.6,66.5 303.6,66.1 304.3,65.7 304.7,66.2 305.3,67.5 305.9,67.9 305.8,69.3 306.1,70.4 306.8,70.9 307.6,69.2 307.9,68.3 309.0,67.8 310.0,67.1 309.9,67.6 309.7,67.0 310.3,67.3 311.3,69.5 311.7,70.2 311.7,70.9 313.1,71.4 313.7,71.0 314.0,72.3 313.8,72.4 315.7,70.9 316.2,71.2 M292.8,66.0 293.4,66.1 293.3,66.5 293.3,68.8 293.7,68.8 295.0,70.1 295.9,71.3 296.5,71.7 297.1,72.3 296.8,73.7 296.0,74.0 295.6,74.6 295.6,75.8 295.8,76.3"/>
<path d="M222.1,60.7 222.1,61.8 222.3,61.8 221.9,62.6 221.4,63.3 221.5,64.4 221.5,65.8 221.3,64.8 222.1,66.2 221.4,67.8 221.5,69.0 220.9,70.1 220.1,71.8 219.7,72.2 220.4,73.1 220.8,74.1 219.3,74.6 220.3,75.0 221.9,75.3 222.0,75.2 222.4,75.7 221.4,78.7 221.9,79.4 221.9,79.3 221.2,80.7 220.1,81.7 219.6,82.6 220.1,84.4 221.7,84.5 221.2,84.7 222.1,85.0 223.0,86.7 223.4,87.2 224.3,87.9 225.1,88.7 226.1,89.5 225.4,90.5 225.3,90.8 225.7,92.4 225.1,93.0 226.0,93.5 227.2,93.4 228.1,94.3 228.4,95.1 228.6,95.6 M219.8,70.9 220.1,71.3 220.6,72.3 221.5,72.5 223.0,71.7 222.7,74.0 221.9,74.7 221.4,76.3 221.8,76.3 221.3,77.1 221.4,78.0 220.9,79.8 220.8,80.7 220.6,81.3 220.0,81.6 220.6,82.2 222.6,81.9 221.5,83.6 M225.8,79.0 226.2,78.3 227.5,78.4 227.8,78.1 227.8,78.3 228.9,78.9 229.8,79.3 231.5,80.8 230.8,82.6 231.9,83.3 231.2,83.1 231.7,81.5 232.6,81.6 233.4,80.6 234.2,78.9 234.6,80.5 235.4,80.7 236.1,81.9 236.5,82.9 237.6,83.6 237.8,83.5 237.6,84.5 239.1,84.6 239.0,85.0 239.7,86.6 240.3,87.8 239.2,87.9 238.8,89.3 237.5,89.9 236.9,89.0 235.2,88.4 234.8,87.2 233.9,86.8 233.0,87.0 232.9,87.7 232.4,87.2 232.1,86.3 230.9,86.8 229.6,87.3 229.1,86.7 230.4,87.2 229.0,88.0 228.4,87.6 228.0,87.0 227.1,85.7 225.8,85.1 226.4,85.0 226.5,86.7 226.6,86.6 225.8,87.9 226.8,87.4 226.0,87.9 224.9,89.6 225.0,91.1 225.4,92.1 225.5,92.1 227.0,91.5 227.6,91.6 227.6,93.1 M229.3,64.0 230.3,65.9 229.6,65.8 229.6,66.3 230.1,66.4 230.7,66.6 231.5,67.4 231.9,69.0 232.1,69.6 232.0,70.0 233.4,71.6 234.5,72.7 234.5,73.1 234.3,73.1 235.0,75.0 235.9,76.7 235.5,75.5 236.5,76.7 235.3,77.1 235.5,79.2 235.3,79.3 235.2,80.7 233.9,81.6 232.8,80.8 232.7,80.1 231.2,79.7 230.1,79.5 M239.8,84.4 239.8,83.9 241.2,83.5 241.1,83.5 241.2,83.9 243.0,82.5 245.1,83.7 244.5,83.7 244.4,84.0 245.5,84.3 247.5,86.8 247.5,87.1 246.8,86.6 247.7,85.7 248.5,85.4 250.5,84.7 250.8,83.7 251.2,85.9 251.3,85.2 250.5,84.7 251.6,86.4 253.0,86.8 253.5,87.7 253.5,88.4 254.4,88.5 255.7,89.4 256.6,89.6 256.2,91.1 256.2,91.6 257.0,92.6 256.0,93.7 255.9,95.2 254.3,95.0 253.4,95.5 252.9,94.5 252.5,93.8 251.2,93.7 250.3,94.0 249.3,94.3 249.3,93.3 249.1,93.6 247.7,95.0 247.6,94.5 246.6,94.6 245.9,96.4 245.5,96.0 245.8,96.2 244.8,95.6 244.2,95.3 243.5,95.2 243.1,95.4 242.0,94.4 241.7,94.6 241.0,93.7 240.8,92.1 240.9,91.6 240.3,90.5 239.5,89.4 240.6,88.6 240.9,88.8 241.8,88.5 241.8,88.0 242.9,87.8 242.5,88.6 244.4,89.1 245.4,89.0 245.4,89.9 246.2,90.2 247.6,91.4 247.0,91.8 248.4,92.0 249.2,91.7 249.8,88.8 251.5,89.0 252.5,89.7 252.7,89.1 252.4,89.8 252.4,89.7 252.8,90.5 253.8,91.7 253.9,92.7 254.2,92.5 254.4,93.0 M247.7,64.1 248.3,64.7 248.8,65.2 247.8,65.1 248.3,66.5 248.2,67.6 247.8,68.5 248.1,69.6 246.9,71.0 247.8,71.5 248.8,71.5 248.9,72.6 249.0,73.4 250.1,73.9 250.3,73.9 250.9,75.0 251.4,76.1 250.4,77.3 252.0,77.9 251.2,78.7 249.8,78.7 249.0,79.1 248.6,80.5 249.7,81.6 248.9,82.2 248.7,83.7 247.7,82.9 246.8,84.3 M260.1,63.2 259.9,62.4 259.9,64.2 259.9,65.6 261.3,64.8 262.5,65.5 262.5,67.0 262.7,67.9 262.8,69.6 262.7,70.2 262.2,71.3 262.5,71.9 262.4,72.9 262.5,73.6 263.2,74.2 262.9,75.5 262.6,75.7 262.8,76.0 262.6,76.9 262.6,77.2 262.4,79.8 262.5,79.8 262.1,80.1 262.4,81.4 M253.8,66.1 253.3,66.8 254.0,68.1 254.2,69.1 254.3,69.8 254.2,70.4 254.0,70.7 255.0,71.1 255.2,71.3 255.3,71.2 255.7,72.8 255.6,74.6 256.0,76.4 256.2,76.8 256.9,78.5 256.9,78.9 257.2,79.0 257.7,79.7 257.6,80.9 256.9,82.4 258.3,82.1 256.7,82.8 256.7,82.8 256.6,83.2 257.4,84.1 258.5,84.7 257.8,85.4 256.8,88.0 256.3,88.6 256.6,89.0 255.8,89.7 M240.9,69.6 242.7,71.1 242.7,71.9 243.1,71.9 243.7,74.7 243.3,75.7 242.5,75.4 242.5,75.8 242.1,76.8 242.0,78.4 242.4,79.3 242.9,79.4 243.1,80.2 243.5,80.7 244.3,82.4 M277.4,48.9 277.5,49.1 278.1,50.1 277.6,51.2 276.4,52.8 277.3,53.4 277.6,53.7 277.2,54.2 277.4,55.8 277.5,55.6 277.5,56.9 278.9,57.9 277.8,58.6 277.6,59.6 277.9,62.0 277.4,62.6 278.3,62.6 278.2,63.4 278.2,64.2 278.2,65.1 277.8,66.3 278.2,66.4 278.7,66.1 280.1,65.9 280.4,64.8 281.2,64.3 282.7,63.5 283.1,62.8 283.8,61.6 282.7,60.5 283.7,60.6 283.9,60.2 284.5,58.9 283.2,57.8 282.2,57.5 283.1,56.3 282.3,56.4 282.3,55.4 282.6,54.0 283.1,53.5 283.4,52.7 282.5,51.8 281.8,50.7 280.9,51.0 280.4,51.1 280.0,50.2 278.5,50.0 277.2,49.1 276.8,49.2 M278.1,55.9 279.3,55.8 278.9,57.9 280.0,58.2 281.2,59.2 280.5,60.9 280.5,61.9 279.6,62.7 279.8,61.8 280.5,61.7 279.9,62.5 M284.3,58.0 284.4,59.1 284.9,60.2 285.1,60.3 286.1,60.9 285.2,62.3 286.1,64.1 286.4,64.9 285.6,65.8 285.8,67.0 286.2,67.9 286.3,68.3 287.4,68.2 288.0,69.1 287.9,70.6 287.3,70.8 287.1,71.5 287.2,71.9 287.3,72.7 287.4,74.2 287.7,75.7 288.4,75.7 287.4,76.4 287.4,77.5 287.9,79.8 288.7,79.6 287.7,80.7 287.6,80.4 288.1,80.4 289.0,81.4 288.6,81.9 287.6,82.7 288.4,84.8 290.6,86.1 290.7,86.7 M289.7,60.3 290.6,61.5 290.3,63.1 290.8,64.6 291.5,64.8 292.7,65.9 293.0,66.5 292.4,66.6 292.7,67.5 293.0,68.2 293.2,68.9 293.1,70.9 294.4,72.2 295.5,73.2 295.5,74.0 295.2,73.0 294.7,73.3 294.3,75.1 294.8,75.5 294.7,77.3 295.2,77.4 295.0,77.8 294.7,78.3 294.8,78.7 295.3,80.6 295.6,81.6 294.9,82.7 295.6,83.5 295.9,84.4 296.8,85.6 M298.6,70.0 299.0,71.1 298.1,71.3 298.9,72.3 299.6,73.4 299.8,74.7 300.7,74.9 301.5,75.7 301.0,75.9 300.9,77.4 301.4,78.6 301.3,79.2 299.9,79.5 300.1,79.6 299.2,81.1 298.3,82.0 298.2,83.3 298.5,84.2 299.0,85.6 299.0,86.3 297.6,86.6 298.7,86.9 298.7,87.7 298.8,88.6 298.9,88.1 299.3,89.6 300.1,89.9 300.0,91.2 300.5,93.0 301.2,93.1 301.3,94.0 300.4,95.2 300.8,96.1 300.9,96.1 300.4,97.1 300.6,97.0 299.8,98.5 299.6,99.8 M302.9,68.2 303.8,68.5 303.2,70.3 304.5,69.9 303.3,69.9 304.0,70.5 304.7,71.9 304.3,73.4 305.1,74.6 305.5,76.1 306.3,77.4 306.6,78.0 305.2,79.7 305.1,78.8 305.2,79.5 305.8,80.3 305.5,79.8 304.6,81.5 303.6,82.0 303.5,82.4 303.6,82.5 303.6,83.5 303.4,83.9 304.2,86.1 304.4,87.5 303.8,87.5 304.9,89.3 305.2,89.4 305.4,89.3 305.3,90.8 305.5,91.0 306.1,92.1 306.4,92.5 306.1,94.2 306.6,94.2 306.4,95.3 307.0,96.2 307.2,96.8 306.6,96.2 306.6,98.2 306.1,97.7 306.8,98.6 307.0,99.8 306.4,100.0 307.2,101.7 308.0,102.6 307.5,102.7 M307.2,70.7 307.8,71.5 308.5,72.8 307.2,73.8 308.7,74.0 308.9,73.9 309.2,75.7 308.5,76.4 308.1,76.9 307.8,77.8 308.5,79.0 309.1,78.9 309.4,80.9 308.1,81.2 308.3,82.9 309.3,83.1 309.4,82.5 308.8,84.0 308.5,84.3 308.2,85.9 307.7,86.2 309.3,86.2 308.8,86.5 309.2,87.5 310.1,87.9 310.5,89.2 310.1,90.9 310.2,91.2 310.6,92.1 311.9,92.4 311.6,93.9 312.1,93.5 311.3,96.0 311.7,95.9 311.8,97.0 312.9,97.4 313.1,98.4 313.8,98.5 313.1,99.4 313.2,102.1 313.3,103.3 M311.3,73.3 311.7,73.2 312.1,74.2 312.3,75.2 313.0,76.5 312.0,77.1 312.7,77.9 313.4,78.9 314.1,80.2 312.3,79.4 312.7,81.8 312.9,83.0 313.7,82.7 314.0,83.3 313.9,83.4 314.3,84.2 315.5,85.2 315.1,87.7 315.1,87.5 315.6,87.0 314.4,87.6 315.6,88.1 315.8,88.5 315.1,89.7 314.6,90.8 314.4,92.7 314.8,93.0 315.4,94.3 314.9,94.8 314.9,95.2 315.6,96.0 316.3,96.9 315.6,97.4 316.5,97.9 316.9,99.1 316.0,99.2 315.9,100.5 316.3,101.3 M300.0,77.2 300.4,77.1 300.6,76.5 302.0,75.3 302.5,74.4 302.6,73.5 303.4,72.8 305.1,73.7 305.8,74.9 307.5,75.5 308.1,74.1 308.0,75.6 309.3,75.2 310.1,76.2 311.1,76.3 312.0,75.7 313.1,76.0 312.7,75.8 313.0,76.5 314.5,75.6 315.6,76.0 316.2,75.1 316.0,74.7 M297.3,68.2 298.1,67.8 298.7,66.7 299.4,67.1 300.0,65.9 300.8,65.1 301.5,66.1 302.4,66.7 303.7,66.5 304.5,66.7 305.1,66.5 305.2,66.7 306.0,67.3 306.1,68.6 306.7,69.0 306.4,68.5 307.6,69.6 307.2,69.7 307.8,68.3 308.7,68.1 310.2,68.3 310.2,67.2 310.8,68.8 311.7,67.9 312.1,68.0 312.7,67.6 312.9,69.4 313.6,70.5 313.3,70.6 314.8,70.8 315.6,70.0 315.8,70.3 317.6,69.8 M293.0,68.0 293.4,69.0 293.4,68.4 293.0,69.0 294.5,70.4 294.2,70.7 295.0,71.3 295.2,71.4 296.0,72.0 295.4,74.6 295.9,75.2 295.5,76.2 297.0,76.8 296.8,76.5"/>
</g>
<g fill="none" stroke-linejoin="round" stroke-linecap="round">
<path d="M226.0,85.0 226.3,85.8 227.2,85.6 228.9,85.1" stroke="#800026" stroke-width="2.48"/>
<path d="M228.9,85.1 229.1,85.1 230.0,84.3 230.5,83.1" stroke="#810026" stroke-width="2.48"/>
<path d="M230.5,83.1 230.6,82.8 230.0,81.7 229.5,81.3" stroke="#820026" stroke-width="2.48"/>
<path d="M229.5,81.3 229.6,80.7 229.6,79.7 229.5,79.3" stroke="#830026" stroke-width="1.56"/>
<path d="M229.5,79.3 229.6,78.5 229.3,77.3 229.1,76.3" stroke="#840026" stroke-width="1.56"/>
<path d="M229.1,76.3 228.6,76.5 228.2,76.1 228.6,75.3" stroke="#850026" stroke-width="1.56"/>
<path d="M228.6,75.3 228.9,74.7 229.1,73.8 228.8,72.9" stroke="#860026" stroke-width="1.56"/>
<path d="M228.8,72.9 228.5,72.2 228.4,71.9 228.0,70.7" stroke="#870026" stroke-width="1.56"/>
<path d="M228.0,70.7 228.1,69.4 228.9,68.2 228.8,67.9" stroke="#880026" stroke-width="1.56"/>
<path d="M228.8,67.9 229.3,66.9 229.4,66.5 229.1,65.9" stroke="#890026" stroke-width="1.56"/>
<path d="M229.1,65.9 229.2,65.2 229.1,64.9 229.6,63.6" stroke="#8a0026" stroke-width="1.56"/>
<path d="M229.6,63.6 230.3,64.8 230.4,65.5 230.5,66.7" stroke="#8b0026" stroke-width="1.56"/>
<path d="M230.5,66.7 230.8,67.1 231.0,67.6 231.2,68.0" stroke="#8c0026" stroke-width="1.56"/>
<path d="M231.2,68.0 232.0,68.2 231.1,69.1 231.6,70.1" stroke="#8d0026" stroke-width="1.56"/>
<path d="M231.6,70.1 232.0,70.8 232.4,71.8 232.5,72.2" stroke="#8f0026" stroke-width="1.56"/>
<path d="M232.5,72.2 233.3,73.0 232.9,75.3 233.7,74.8" stroke="#900026" stroke-width="1.56"/>
<path d="M233.7,74.8 233.2,75.4 233.3,75.1 233.2,75.7" stroke="#910026" stroke-width="2.48"/>
<path d="M233.2,75.7 234.5,75.0 234.0,75.1 234.6,75.1" stroke="#920026" stroke-width="2.48"/>
<path d="M234.6,75.1 235.4,74.1 235.5,73.3 235.5,72.8" stroke="#920026" stroke-width="2.48"/>
<path d="M235.5,72.8 236.2,72.1 236.4,71.3 236.6,70.4" stroke="#930026" stroke-width="1.56"/>
<path d="M236.6,70.4 236.9,69.7 237.2,68.8 237.8,68.5" stroke="#940026" stroke-width="1.56"/>
<path d="M237.8,68.5 238.2,67.5 239.1,68.0 239.8,67.5" stroke="#950026" stroke-width="1.56"/>
<path d="M239.8,67.5 240.3,68.3 240.8,69.2 241.4,69.9" stroke="#960026" stroke-width="1.56"/>
<path d="M241.4,69.9 242.1,70.1 242.1,70.4 242.4,71.3" stroke="#970026" stroke-width="1.56"/>
<path d="M242.4,71.3 242.9,71.7 243.2,72.7 243.4,73.1" stroke="#980026" stroke-width="1.56"/>
<path d="M243.4,73.1 243.5,74.1 244.0,74.3 244.3,74.9" stroke="#990026" stroke-width="1.56"/>
<path d="M244.3,74.9 244.4,76.1 244.9,76.5 245.1,77.4" stroke="#9a0026" stroke-width="1.56"/>
<path d="M245.1,77.4 245.5,77.8 246.2,77.6 246.8,78.6" stroke="#9b0026" stroke-width="1.56"/>
<path d="M246.8,78.6 247.5,78.7 248.0,78.3 248.6,78.4" stroke="#9c0026" stroke-width="1.56"/>
<path d="M248.6,78.4 249.2,77.5 249.3,78.0 249.4,77.7" stroke="#9d0026" stroke-width="1.56"/>
<path d="M249.4,77.7 250.3,76.8 252.1,76.3 253.1,74.4" stroke="#9e0026" stroke-width="2.48"/>
<path d="M253.1,74.4 252.2,74.8 251.9,75.4 251.1,74.8" stroke="#9e0026" stroke-width="2.48"/>
<path d="M251.1,74.8 250.2,75.4 249.7,77.4 249.4,78.3" stroke="#9f0026" stroke-width="2.48"/>
<path d="M249.4,78.3 248.6,78.5 248.1,78.8 247.7,79.0" stroke="#a00026" stroke-width="2.48"/>
<path d="M247.7,79.0 247.4,79.2 247.0,78.7 246.7,78.5" stroke="#a10026" stroke-width="1.56"/>
<path d="M246.7,78.5 246.0,78.3 245.1,77.4 244.1,77.5" stroke="#a20026" stroke-width="1.56"/>
<path d="M244.1,77.5 243.7,76.7 243.6,76.8 243.0,76.0" stroke="#a30026" stroke-width="1.56"/>
<path d="M243.0,76.0 242.8,75.3 242.2,74.4 242.5,74.3" stroke="#a40026" stroke-width="1.56"/>
<path d="M242.5,74.3 242.6,73.1 242.2,72.4 241.5,71.4" stroke="#a50026" stroke-width="1.56"/>
<path d="M241.5,71.4 241.5,71.1 241.1,70.9 240.6,70.4" stroke="#a60026" stroke-width="1.56"/>
<path d="M240.6,70.4 240.4,69.6 239.8,69.7 239.2,70.0" stroke="#a70026" stroke-width="1.56"/>
<path d="M239.2,70.0 238.9,70.0 238.2,70.4 237.1,70.8" stroke="#a80026" stroke-width="1.56"/>
<path d="M237.1,70.8 236.5,71.6 236.1,71.9 236.0,72.7" stroke="#a90026" stroke-width="1.56"/>
<path d="M236.0,72.7 235.9,73.5 235.5,73.6 235.5,74.5" stroke="#aa0026" stroke-width="1.56"/>
<path d="M235.5,74.5 234.5,75.8 234.5,75.4 234.5,75.2" stroke="#aa0026" stroke-width="2.48"/>
<path d="M234.5,75.2 234.2,76.7 234.2,77.5 234.4,78.5" stroke="#ab0026" stroke-width="2.48"/>
<path d="M234.4,78.5 234.8,79.2 235.0,79.7 235.8,80.5" stroke="#ac0026" stroke-width="1.56"/>
<path d="M235.8,80.5 235.6,81.4 236.3,81.7 237.0,81.9" stroke="#ae0026" stroke-width="1.56"/>
<path d="M237.0,81.9 237.1,83.1 237.6,84.0 237.4,83.8" stroke="#af0026" stroke-width="1.56"/>
<path d="M237.4,83.8 237.6,84.3 237.7,84.9 238.4,86.6" stroke="#b00026" stroke-width="1.56"/>
<path d="M238.4,86.6 238.6,87.4 238.4,87.9 238.4,88.9" stroke="#b10026" stroke-width="2.48"/>
<path d="M238.4,88.9 238.4,89.3 238.7,90.2 238.6,91.4" stroke="#b30026" stroke-width="2.48"/>
<path d="M238.6,91.4 238.0,91.4 238.2,92.2 238.1,93.0" stroke="#b40026" stroke-width="1.56"/>
<path d="M238.1,93.0 238.1,93.5 238.0,94.2 238.1,93.6" stroke="#b50026" stroke-width="1.56"/>
<path d="M238.1,93.6 238.6,95.5 238.1,95.9 239.1,97.0" stroke="#b70026" stroke-width="2.48"/>
<path d="M239.1,97.0 240.0,98.1 240.8,97.7 241.5,98.0" stroke="#b80026" stroke-width="1.56"/>
<path d="M241.5,98.0 242.2,98.2 243.3,99.1 244.1,99.3" stroke="#b90026" stroke-width="1.56"/>
<path d="M244.1,99.3 244.2,99.4 244.1,99.0 244.5,98.7" stroke="#ba0026" stroke-width="2.48"/>
<path d="M244.5,98.7 244.6,99.4 246.0,99.3 247.1,99.8" stroke="#bc0026" stroke-width="2.48"/>
<path d="M247.1,99.8 247.9,99.8 248.1,100.4 248.9,100.8" stroke="#bd0025" stroke-width="1.56"/>
<path d="M248.9,100.8 249.7,101.4 250.3,101.2 250.7,100.1" stroke="#be0025" stroke-width="1.56"/>
<path d="M250.7,100.1 251.4,100.7 251.3,101.1 251.8,100.0" stroke="#be0125" stroke-width="1.56"/>
<path d="M251.8,100.0 252.7,99.6 252.8,99.0 253.9,99.0" stroke="#bf0125" stroke-width="2.48"/>
<path d="M253.9,99.0 253.7,100.6 255.1,102.3 254.2,102.0" stroke="#c00225" stroke-width="2.48"/>
<path d="M254.2,102.0 253.5,102.4 254.4,101.8 253.9,102.8" stroke="#c10224" stroke-width="2.48"/>
<path d="M253.9,102.8 254.8,102.9 255.0,103.1 254.5,103.0" stroke="#c20324" stroke-width="2.48"/>
<path d="M254.5,103.0 254.7,103.6 254.0,101.0 254.4,100.4" stroke="#c20424" stroke-width="2.48"/>
<path d="M254.4,100.4 254.5,100.6 254.6,101.0 255.0,98.7" stroke="#c30424" stroke-width="2.48"/>
<path d="M255.0,98.7 254.6,99.7 254.2,99.2 254.1,97.6" stroke="#c40524" stroke-width="2.48"/>
<path d="M254.1,97.6 255.0,97.4 254.5,96.9 254.1,95.5" stroke="#c50523" stroke-width="2.48"/>
<path d="M254.1,95.5 254.4,94.6 254.1,93.9 254.3,93.5" stroke="#c60623" stroke-width="1.56"/>
<path d="M254.3,93.5 254.6,92.5 254.5,91.6 254.5,91.4" stroke="#c70723" stroke-width="1.56"/>
<path d="M254.5,91.4 255.0,90.9 255.0,89.8 255.1,88.8" stroke="#c90822" stroke-width="1.56"/>
<path d="M255.1,88.8 255.1,87.5 254.9,87.6 254.7,86.3" stroke="#ca0922" stroke-width="1.56"/>
<path d="M254.7,86.3 254.8,86.3 255.3,85.3 255.3,84.6" stroke="#cb0a22" stroke-width="1.56"/>
<path d="M255.3,84.6 255.3,83.9 255.5,82.7 255.6,82.2" stroke="#cc0a21" stroke-width="1.56"/>
<path d="M255.6,82.2 255.7,81.3 256.3,81.5 256.4,80.5" stroke="#ce0b21" stroke-width="1.56"/>
<path d="M256.4,80.5 256.8,79.7 256.7,79.5 256.4,78.1" stroke="#cf0c21" stroke-width="1.56"/>
<path d="M256.4,78.1 256.6,76.9 257.3,77.2 258.8,77.1" stroke="#d00d20" stroke-width="2.48"/>
<path d="M258.8,77.1 259.2,76.0 259.3,76.4 259.5,77.6" stroke="#d10e20" stroke-width="2.48"/>
<path d="M259.5,77.6 259.8,78.1 259.9,78.8 260.2,79.1" stroke="#d30f20" stroke-width="1.56"/>
<path d="M260.2,79.1 260.4,80.2 260.4,80.7 260.6,81.9" stroke="#d40f1f" stroke-width="1.56"/>
<path d="M260.6,81.9 261.0,82.6 261.3,83.2 261.4,83.2" stroke="#d5101f" stroke-width="1.56"/>
<path d="M261.4,83.2 261.5,84.2 261.2,85.2 261.5,85.3" stroke="#d6111f" stroke-width="1.56"/>
<path d="M261.5,85.3 261.5,86.1 261.5,87.0 260.9,87.6" stroke="#d8121e" stroke-width="1.56"/>
<path d="M260.9,87.6 261.5,88.9 261.7,89.2 262.2,88.5" stroke="#d9131e" stroke-width="2.48"/>
<path d="M262.2,88.5 262.9,89.5 262.7,90.3 262.6,90.5" stroke="#da141e" stroke-width="2.48"/>
<path d="M262.6,90.5 263.1,91.3 263.8,91.9 263.9,92.5" stroke="#db151d" stroke-width="1.56"/>
<path d="M263.9,92.5 264.8,93.4 264.9,93.8 265.3,94.1" stroke="#dc151d" stroke-width="1.56"/>
<path d="M265.3,94.1 266.2,94.8 267.2,94.9 267.6,94.6" stroke="#de161d" stroke-width="1.56"/>
<path d="M267.6,94.6 267.6,94.5 268.7,94.7 269.6,94.0" stroke="#df171c" stroke-width="1.56"/>
<path d="M269.6,94.0 270.7,94.5 271.1,94.7 271.1,94.3" stroke="#e0181c" stroke-width="2.48"/>
<path d="M271.1,94.3 271.7,94.7 272.4,94.0 273.4,93.4" stroke="#e1191c" stroke-width="1.56"/>
<path d="M273.4,93.4 274.3,92.8 274.7,92.2 275.4,91.3" stroke="#e31a1c" stroke-width="1.56"/>
<path d="M275.4,91.3 276.3,90.7 276.6,89.9 276.6,89.9" stroke="#e31b1c" stroke-width="1.56"/>
<path d="M276.6,89.9 276.9,89.8 277.0,89.8 276.6,88.0" stroke="#e41d1c" stroke-width="2.48"/>
<path d="M276.6,88.0 275.8,88.0 276.0,87.9 276.2,86.5" stroke="#e51f1d" stroke-width="2.48"/>
<path d="M276.2,86.5 276.6,86.4 276.6,85.1 276.4,84.6" stroke="#e6211d" stroke-width="1.56"/>
<path d="M276.4,84.6 276.4,83.6 276.7,82.9 276.8,81.9" stroke="#e7221e" stroke-width="1.56"/>
<path d="M276.8,81.9 276.7,81.3 276.8,80.8 276.8,80.1" stroke="#e8241e" stroke-width="1.56"/>
<path d="M276.8,80.1 277.0,79.3 277.2,78.8 277.2,77.9" stroke="#e8261f" stroke-width="1.56"/>
<path d="M277.2,77.9 277.1,77.3 277.4,76.4 277.5,76.0" stroke="#e9271f" stroke-width="1.56"/>
<path d="M277.5,76.0 278.6,75.4 278.6,74.8 278.6,74.0" stroke="#ea2920" stroke-width="1.56"/>
<path d="M278.6,74.0 278.8,74.4 279.3,75.1 279.7,75.5" stroke="#eb2b20" stroke-width="1.56"/>
<path d="M279.7,75.5 280.2,75.9 280.9,76.5 281.1,77.9" stroke="#ec2c21" stroke-width="1.56"/>
<path d="M281.1,77.9 281.5,77.6 281.3,78.9 280.8,77.9" stroke="#ec2e21" stroke-width="2.48"/>
<path d="M280.8,77.9 281.1,79.4 281.5,80.6 281.7,81.6" stroke="#ed3021" stroke-width="2.48"/>
<path d="M281.7,81.6 282.2,82.5 282.3,83.0 282.6,83.7" stroke="#ee3122" stroke-width="1.56"/>
<path d="M282.6,83.7 282.7,83.8 282.7,84.8 282.5,86.1" stroke="#ef3322" stroke-width="1.56"/>
<path d="M282.5,86.1 282.7,86.7 282.5,87.9 282.8,88.6" stroke="#f03523" stroke-width="1.56"/>
<path d="M282.8,88.6 282.7,89.4 282.9,89.7 282.9,89.7" stroke="#f03723" stroke-width="1.56"/>
<path d="M282.9,89.7 283.2,90.2 283.4,91.0 283.2,92.0" stroke="#f13824" stroke-width="1.56"/>
<path d="M283.2,92.0 283.3,92.4 283.7,93.3 284.2,93.4" stroke="#f23a24" stroke-width="1.56"/>
<path d="M284.2,93.4 284.7,93.8 285.1,94.5 285.6,95.1" stroke="#f33c25" stroke-width="1.56"/>
<path d="M285.6,95.1 285.3,95.9 285.8,96.4 286.3,98.6" stroke="#f43d25" stroke-width="1.56"/>
<path d="M286.3,98.6 285.8,97.7 286.5,98.4 287.1,99.1" stroke="#fc4e2a" stroke-width="2.48"/>
<path d="M287.1,99.1 287.0,100.4 287.4,101.3 287.1,101.8" stroke="#fc4f2a" stroke-width="1.56"/>
<path d="M287.1,101.8 286.4,102.3 286.8,103.5 286.2,104.1" stroke="#fc512a" stroke-width="1.56"/>
<path d="M286.2,104.1 286.2,105.4 285.5,105.4 285.2,107.6" stroke="#fc522b" stroke-width="2.48"/>
<path d="M285.2,107.6 284.9,108.2 283.4,108.3 282.4,107.2" stroke="#fc542b" stroke-width="2.48"/>
<path d="M282.4,107.2 282.1,107.4 282.1,108.1 281.9,108.1" stroke="#fc552c" stroke-width="2.48"/>
<path d="M281.9,108.1 282.8,108.8 282.1,110.6 281.5,110.0" stroke="#fc572c" stroke-width="2.48"/>
<path d="M281.5,110.0 280.6,110.4 279.0,108.5 278.6,106.6" stroke="#fc582d" stroke-width="2.48"/>
<path d="M278.6,106.6 277.6,107.6 276.9,107.3 277.1,105.9" stroke="#fc5a2d" stroke-width="2.48"/>
<path d="M277.1,105.9 276.8,105.2 275.7,104.8 275.5,104.4" stroke="#fc5b2d" stroke-width="2.48"/>
<path d="M275.5,104.4 275.1,104.4 275.1,104.0 274.6,102.7" stroke="#fc5d2e" stroke-width="1.56"/>
<path d="M274.6,102.7 273.7,101.6 273.6,102.2 273.6,101.9" stroke="#fc5e2e" stroke-width="2.48"/>
<path d="M273.6,101.9 272.6,101.7 272.1,101.7 272.2,100.7" stroke="#fc602f" stroke-width="2.48"/>
<path d="M272.2,100.7 272.3,99.0 270.1,98.3 269.3,99.7" stroke="#fc612f" stroke-width="2.48"/>
<path d="M269.3,99.7 270.4,100.4 270.3,101.3 269.6,101.7" stroke="#fc622f" stroke-width="2.48"/>
<path d="M269.6,101.7 269.6,102.9 268.8,104.6 269.0,105.1" stroke="#fc6430" stroke-width="2.48"/>
<path d="M269.0,105.1 269.3,105.2 269.3,105.8 270.2,106.5" stroke="#fc6530" stroke-width="1.56"/>
<path d="M270.2,106.5 270.4,107.4 270.5,108.2 271.0,108.2" stroke="#fc6731" stroke-width="1.56"/>
<path d="M271.0,108.2 271.8,108.7 272.2,109.0 273.0,109.8" stroke="#fc6831" stroke-width="1.56"/>
<path d="M273.0,109.8 273.3,109.0 274.4,109.6 274.6,110.2" stroke="#fc6a32" stroke-width="1.56"/>
<path d="M274.6,110.2 275.0,111.0 275.3,111.1 275.8,111.7" stroke="#fc6b32" stroke-width="1.56"/>
<path d="M275.8,111.7 276.6,112.0 277.7,111.4 278.2,111.8" stroke="#fc6d32" stroke-width="1.56"/>
<path d="M278.2,111.8 278.8,111.8 279.7,112.2 280.1,112.2" stroke="#fc6e33" stroke-width="1.56"/>
<path d="M280.1,112.2 280.7,111.7 281.1,110.7 282.4,110.2" stroke="#fc7033" stroke-width="1.56"/>
<path d="M282.4,110.2 282.6,109.8 282.7,109.5 282.5,109.3" stroke="#fc7134" stroke-width="2.48"/>
<path d="M282.5,109.3 283.7,109.0 284.3,108.7 283.8,109.0" stroke="#fc7334" stroke-width="2.48"/>
<path d="M283.8,109.0 283.1,107.9 283.5,106.9 282.5,105.2" stroke="#fc7435" stroke-width="2.48"/>
<path d="M282.5,105.2 283.3,104.0 282.8,104.1 282.5,102.2" stroke="#fc7535" stroke-width="2.48"/>
<path d="M282.5,102.2 281.2,102.1 280.9,101.6 280.8,101.6" stroke="#fc7735" stroke-width="2.48"/>
<path d="M280.8,101.6 279.7,100.2 280.1,99.9 278.9,98.7" stroke="#fc7836" stroke-width="2.48"/>
<path d="M278.9,98.7 278.9,98.4 278.2,99.1 277.8,99.3" stroke="#fc7a36" stroke-width="2.48"/>
<path d="M277.8,99.3 277.0,98.2 276.4,98.2 275.9,98.4" stroke="#fc7b37" stroke-width="1.56"/>
<path d="M275.9,98.4 275.6,97.7 275.2,97.4 274.6,97.5" stroke="#fc7d37" stroke-width="1.56"/>
<path d="M274.6,97.5 274.6,98.3 275.6,97.9 276.0,98.5" stroke="#fc7e37" stroke-width="1.56"/>
<path d="M276.0,98.5 276.1,98.9 276.5,99.6 277.0,99.4" stroke="#fc8038" stroke-width="1.56"/>
<path d="M277.0,99.4 277.9,100.6 277.9,101.8 279.7,100.7" stroke="#fc8138" stroke-width="1.56"/>
<path d="M279.7,100.7 279.7,101.1 280.5,101.5 280.1,103.1" stroke="#fc8339" stroke-width="2.48"/>
<path d="M280.1,103.1 280.8,103.7 282.8,103.1 282.8,104.1" stroke="#fc8439" stroke-width="2.48"/>
<path d="M282.8,104.1 283.2,104.5 283.7,106.5 284.5,105.2" stroke="#fc863a" stroke-width="2.48"/>
<path d="M284.5,105.2 284.8,104.3 284.2,103.1 285.4,101.6" stroke="#fc873a" stroke-width="2.48"/>
<path d="M285.4,101.6 285.9,101.3 286.2,101.8 286.9,101.2" stroke="#fc893a" stroke-width="2.48"/>
<path d="M286.9,101.2 287.1,100.5 287.2,99.6 287.4,99.7" stroke="#fc8a3b" stroke-width="1.56"/>
<path d="M287.4,99.7 288.3,99.8 288.8,100.3 288.1,97.4" stroke="#fc8b3b" stroke-width="1.56"/>
<path d="M288.1,97.4 288.2,96.6 288.2,95.2 288.4,95.7" stroke="#fd8d3c" stroke-width="2.48"/>
<path d="M288.4,95.7 288.1,94.4 288.2,93.3 287.8,92.6" stroke="#fd8e3c" stroke-width="2.48"/>
<path d="M287.8,92.6 287.0,92.4 287.1,91.5 287.2,90.6" stroke="#fd8e3c" stroke-width="1.56"/>
<path d="M287.2,90.6 286.8,90.3 286.9,89.3 287.5,88.0" stroke="#fd8f3d" stroke-width="1.56"/>
<path d="M287.5,88.0 287.1,87.4 286.3,87.4 285.7,86.5" stroke="#fd903d" stroke-width="1.56"/>
<path d="M285.7,86.5 285.7,85.8 285.4,85.4 285.4,84.1" stroke="#fd913d" stroke-width="1.56"/>
<path d="M285.4,84.1 284.6,83.7 284.2,83.2 284.7,81.9" stroke="#fd923e" stroke-width="1.56"/>
<path d="M284.7,81.9 283.7,80.3 284.4,79.7 285.5,79.0" stroke="#fd933e" stroke-width="2.48"/>
<path d="M285.5,79.0 285.2,78.9 285.0,80.0 285.4,80.5" stroke="#fd943f" stroke-width="2.48"/>
<path d="M285.4,80.5 285.3,81.1 286.2,82.0 286.0,80.7" stroke="#fdaa48" stroke-width="2.48"/>
<path d="M286.0,80.7 285.3,82.0 285.1,83.3 284.8,84.4" stroke="#fdab49" stroke-width="2.48"/>
<path d="M284.8,84.4 285.0,85.8 284.8,86.8 285.4,86.9" stroke="#fdac49" stroke-width="1.56"/>
<path d="M285.4,86.9 286.0,87.1 287.4,86.8 288.3,86.3" stroke="#fdad4a" stroke-width="1.56"/>
<path d="M288.3,86.3 288.6,87.4 289.3,87.2 289.6,87.0" stroke="#fdae4a" stroke-width="1.56"/>
<path d="M289.6,87.0 290.3,87.2 291.1,87.8 291.7,87.4" stroke="#fdaf4a" stroke-width="1.56"/>
<path d="M291.7,87.4 292.1,86.9 293.5,86.8 293.9,86.9" stroke="#fdb04b" stroke-width="1.56"/>
<path d="M293.9,86.9 295.0,86.9 295.9,86.3 296.9,86.6" stroke="#fdb14b" stroke-width="1.56"/>
<path d="M296.9,86.6 296.7,87.2 297.4,87.0 297.1,85.8" stroke="#feb24c" stroke-width="1.56"/>
<path d="M297.1,85.8 297.0,85.3 297.4,84.1 297.6,83.8" stroke="#feb34d" stroke-width="1.56"/>
<path d="M297.6,83.8 297.6,83.1 297.6,81.7 297.8,81.0" stroke="#feb44e" stroke-width="1.56"/>
<path d="M297.8,81.0 298.1,80.7 298.3,79.9 298.8,79.4" stroke="#feb54f" stroke-width="1.56"/>
<path d="M298.8,79.4 299.0,78.7 298.6,77.8 298.7,77.1" stroke="#feb650" stroke-width="1.56"/>
<path d="M298.7,77.1 299.7,75.4 300.9,75.2 301.2,75.0" stroke="#feb751" stroke-width="1.56"/>
<path d="M301.2,75.0 301.7,75.7 300.5,77.2 300.9,78.5" stroke="#feb852" stroke-width="2.48"/>
<path d="M300.9,78.5 301.4,78.8 301.7,79.7 301.8,80.5" stroke="#feb953" stroke-width="2.48"/>
<path d="M301.8,80.5 302.0,81.1 301.9,82.2 301.7,82.8" stroke="#feba54" stroke-width="1.56"/>
<path d="M301.7,82.8 301.6,83.1 301.8,84.0 302.3,84.7" stroke="#feba55" stroke-width="1.56"/>
<path d="M302.3,84.7 302.5,85.7 302.4,85.3 302.4,86.5" stroke="#febb56" stroke-width="1.56"/>
<path d="M302.4,86.5 302.1,87.5 302.6,87.9 302.6,89.1" stroke="#febc57" stroke-width="1.56"/>
<path d="M302.6,89.1 302.3,89.5 302.8,90.6 303.3,91.5" stroke="#febd58" stroke-width="1.56"/>
<path d="M303.3,91.5 304.0,92.2 303.6,92.7 303.9,93.5" stroke="#febe59" stroke-width="1.56"/>
<path d="M303.9,93.5 303.1,94.2 302.9,94.8 303.3,95.4" stroke="#febf5a" stroke-width="1.56"/>
<path d="M303.3,95.4 302.9,96.1 302.6,97.5 302.7,98.2" stroke="#fec05b" stroke-width="1.56"/>
<path d="M302.7,98.2 302.3,98.4 302.6,98.3 303.2,98.9" stroke="#fec15c" stroke-width="1.56"/>
<path d="M303.2,98.9 303.3,100.0 303.3,101.0 303.8,102.3" stroke="#fec25e" stroke-width="1.56"/>
<path d="M303.8,102.3 304.1,103.4 304.4,103.6 304.4,103.9" stroke="#fec35f" stroke-width="1.56"/>
<path d="M304.4,103.9 304.2,104.8 304.2,105.5 303.2,107.0" stroke="#fec460" stroke-width="1.56"/>
<path d="M303.2,107.0 303.4,107.0 302.9,107.9 303.2,108.9" stroke="#fec561" stroke-width="2.48"/>
<path d="M303.2,108.9 302.5,109.8 301.7,109.6 301.2,110.0" stroke="#fec662" stroke-width="2.48"/>
<path d="M301.2,110.0 300.1,109.4 299.4,108.9 299.0,107.4" stroke="#fec763" stroke-width="2.48"/>
<path d="M299.0,107.4 299.4,108.2 298.5,107.8 297.9,106.1" stroke="#fec864" stroke-width="2.48"/>
<path d="M297.9,106.1 297.9,105.5 298.0,104.2 297.5,103.8" stroke="#fec965" stroke-width="2.48"/>
<path d="M297.5,103.8 297.6,103.9 297.6,102.7 297.9,101.1" stroke="#feca66" stroke-width="1.56"/>
<path d="M297.9,101.1 297.3,101.6 297.3,100.7 297.3,99.6" stroke="#fecb67" stroke-width="1.56"/>
<path d="M297.3,99.6 297.4,98.5 297.6,98.2 297.8,97.2" stroke="#fecc68" stroke-width="1.56"/>
<path d="M297.8,97.2 297.2,96.5 296.8,96.3 296.3,94.9" stroke="#fecd69" stroke-width="1.56"/>
<path d="M296.3,94.9 297.0,94.8 297.4,93.2 297.4,93.6" stroke="#fece6a" stroke-width="2.48"/>
<path d="M297.4,93.6 297.8,92.5 298.3,91.9 298.2,91.0" stroke="#fecf6b" stroke-width="1.56"/>
<path d="M298.2,91.0 298.5,90.5 298.4,89.6 298.1,89.1" stroke="#fed06c" stroke-width="1.56"/>
<path d="M298.1,89.1 298.3,89.0 298.2,88.0 298.7,87.5" stroke="#fed16d" stroke-width="1.56"/>
<path d="M298.7,87.5 298.6,87.1 299.2,86.5 299.6,86.0" stroke="#fed26e" stroke-width="1.56"/>
<path d="M299.6,86.0 299.8,85.0 300.4,84.4 300.8,84.0" stroke="#fed36f" stroke-width="1.56"/>
<path d="M300.8,84.0 301.1,84.5 300.9,84.7 301.6,84.9" stroke="#fed470" stroke-width="1.56"/>
<path d="M301.6,84.9 302.0,85.7 302.4,86.6 302.9,86.9" stroke="#fed571" stroke-width="1.56"/>
<path d="M302.9,86.9 303.9,87.2 303.3,88.3 303.8,88.8" stroke="#fed672" stroke-width="1.56"/>
<path d="M303.8,88.8 303.3,89.2 303.7,90.4 304.3,91.1" stroke="#fed773" stroke-width="2.48"/>
<path d="M304.3,91.1 304.3,91.1 304.7,92.5 304.6,93.0" stroke="#fed874" stroke-width="1.56"/>
</g>
<path d="M212.48,129.81 L268.93,155.1" stroke="#000" stroke-width="1.3" fill="none"/>
<path d="M268.93,155.1 L325.58,129.59" stroke="#000" stroke-width="1.3" fill="none"/>
<path d="M325.58,129.59 L326.08,46.41" stroke="#000" stroke-width="1.3" fill="none"/>
<line x1="217.74" y1="130.6" x2="214.02" y2="132.07" stroke="#000" stroke-width="0.8"/>
<line x1="229.52" y1="135.86" x2="225.81" y2="137.36" stroke="#000" stroke-width="0.8"/>
<line x1="241.62" y1="141.27" x2="237.93" y2="142.81" stroke="#000" stroke-width="0.8"/>
<line x1="254.07" y1="146.83" x2="250.4" y2="148.41" stroke="#000" stroke-width="0.8"/>
<line x1="266.89" y1="152.55" x2="263.23" y2="154.18" stroke="#000" stroke-width="0.8"/>
<line x1="271.48" y1="152.32" x2="275.14" y2="153.94" stroke="#000" stroke-width="0.8"/>
<line x1="284.16" y1="146.62" x2="287.83" y2="148.21" stroke="#000" stroke-width="0.8"/>
<line x1="296.43" y1="141.11" x2="300.12" y2="142.66" stroke="#000" stroke-width="0.8"/>
<line x1="308.32" y1="135.77" x2="312.02" y2="137.29" stroke="#000" stroke-width="0.8"/>
<line x1="319.84" y1="130.6" x2="323.55" y2="132.08" stroke="#000" stroke-width="0.8"/>
<line x1="324.12" y1="54.87" x2="327.93" y2="56.08" stroke="#000" stroke-width="0.8"/>
<line x1="324.05" y1="68.49" x2="327.84" y2="69.75" stroke="#000" stroke-width="0.8"/>
<line x1="323.97" y1="82.03" x2="327.75" y2="83.34" stroke="#000" stroke-width="0.8"/>
<line x1="323.9" y1="95.49" x2="327.66" y2="96.84" stroke="#000" stroke-width="0.8"/>
<line x1="323.83" y1="108.87" x2="327.57" y2="110.27" stroke="#000" stroke-width="0.8"/>
<line x1="323.75" y1="122.17" x2="327.48" y2="123.62" stroke="#000" stroke-width="0.8"/>
<text x="212.2" y="142.8" font-size="10.2" text-anchor="middle" fill="#000">−3</text>
<text x="223.2" y="147.9" font-size="10.2" text-anchor="middle" fill="#000">−1</text>
<text x="233.8" y="152.5" font-size="10.2" text-anchor="middle" fill="#000">1</text>
<text x="245.6" y="158.7" font-size="10.2" text-anchor="middle" fill="#000">3</text>
<text x="258.5" y="164.8" font-size="10.2" text-anchor="middle" fill="#000">5</text>
<text x="278.5" y="164.8" font-size="10.2" text-anchor="middle" fill="#000">−2</text>
<text x="290.3" y="158.9" font-size="10.2" text-anchor="middle" fill="#000">0</text>
<text x="302" y="153.3" font-size="10.2" text-anchor="middle" fill="#000">2</text>
<text x="313.5" y="148.2" font-size="10.2" text-anchor="middle" fill="#000">4</text>
<text x="324.8" y="142.8" font-size="10.2" text-anchor="middle" fill="#000">6</text>
<text x="333.4" y="60.7" font-size="10.2" text-anchor="middle" fill="#000">1</text>
<text x="333.4" y="74.2" font-size="10.2" text-anchor="middle" fill="#000">0</text>
<text x="333.6" y="87.9" font-size="10.2" text-anchor="middle" fill="#000">−1</text>
<text x="333.6" y="101.2" font-size="10.2" text-anchor="middle" fill="#000">−2</text>
<text x="333.6" y="114.4" font-size="10.2" text-anchor="middle" fill="#000">−3</text>
<text x="333.6" y="127.1" font-size="10.2" text-anchor="middle" fill="#000">−4</text>
<text x="230.8" y="164.2" font-size="12.2" text-anchor="middle" fill="#000" transform="rotate(24.1 230.8 164.2)">x (μm)</text>
<text x="313" y="159.2" font-size="12.2" text-anchor="middle" fill="#000" transform="rotate(-24 313 159.2)">y (μm)</text>
<text x="349.9" y="85.2" font-size="12.2" text-anchor="middle" fill="#000" transform="rotate(-90 349.9 85.2)">z (μm)</text>
<path d="M6.77,321.86 L70.27,299.62 L70.15,219 L4.87,236.44 Z" stroke="none" stroke-width="0" fill="#f9f9f9"/>
<path d="M70.27,299.62 L132.57,322.14 L134.17,237.06 L70.15,219 Z" stroke="none" stroke-width="0" fill="#f1f1f1"/>
<path d="M6.77,321.86 L69.25,347.4 L132.57,322.14 L70.27,299.62 Z" stroke="none" stroke-width="0" fill="#f4f4f4"/>
<g stroke="#c4c4c4" stroke-width="0.85" fill="none">
<path d="M74.24,301.06 L74.22,220.15"/>
<path d="M10.74,323.48 L74.24,301.06"/>
<path d="M87.25,305.76 L87.58,223.92"/>
<path d="M23.75,328.80 L87.25,305.76"/>
<path d="M100.60,310.58 L101.29,227.78"/>
<path d="M37.12,334.27 L100.60,310.58"/>
<path d="M114.30,315.53 L115.37,231.76"/>
<path d="M50.87,339.89 L114.30,315.53"/>
<path d="M128.36,320.61 L129.83,235.84"/>
<path d="M65.01,345.66 L128.36,320.61"/>
<path d="M11.90,320.07 L10.15,235.03"/>
<path d="M11.90,320.07 L74.39,345.35"/>
<path d="M25.89,315.17 L24.54,231.18"/>
<path d="M25.89,315.17 L88.37,339.78"/>
<path d="M39.49,310.40 L38.54,227.45"/>
<path d="M39.49,310.40 L101.95,334.36"/>
<path d="M52.74,305.76 L52.15,223.81"/>
<path d="M52.74,305.76 L115.15,329.09"/>
<path d="M65.65,301.24 L65.40,220.27"/>
<path d="M65.65,301.24 L127.98,323.97"/>
<path d="M5.08,245.64 L70.16,227.67 L134.00,246.22"/>
<path d="M5.38,259.28 L70.18,240.53 L133.75,259.81"/>
<path d="M5.68,272.81 L70.20,253.29 L133.49,273.28"/>
<path d="M5.98,286.22 L70.22,265.95 L133.24,286.64"/>
<path d="M6.28,299.52 L70.24,278.51 L132.99,299.88"/>
<path d="M6.57,312.70 L70.26,290.97 L132.75,313.01"/>
</g>
<g fill="none" stroke="#b4b4b4" stroke-width="1.35" stroke-linejoin="round" stroke-linecap="round">
<path d="M107.4,317.9 108.5,316.9 109.8,317.0 108.9,317.3 108.3,318.4 108.2,319.2 107.1,319.4 105.5,320.5 105.8,321.1 106.9,322.3 106.5,321.7 107.6,323.6 107.5,323.1 108.8,323.0 109.7,323.0 111.1,323.3 111.9,323.0 113.0,324.3 113.9,324.2 112.3,324.7 111.8,324.7 109.8,324.7 108.9,324.7 108.6,324.8 107.9,325.5 106.9,325.2 106.6,324.7 105.1,324.8 106.2,323.2 106.6,322.5 107.7,321.2 107.3,321.9 106.6,323.2 107.4,323.5 108.1,323.0 109.6,324.1 110.4,324.0 111.8,324.3 110.9,324.8 109.4,324.3 108.7,324.0 107.9,324.5 107.3,325.0 105.7,325.2 105.2,325.9 104.8,325.8 103.7,325.5 102.5,325.3 100.9,325.5 100.8,326.6 100.0,326.4 99.2,326.7 98.6,326.7 97.5,326.4 97.7,326.8 96.0,326.9 94.5,326.5 93.4,326.1 92.3,325.6 M92.9,326.1 94.2,325.3 94.3,324.9 96.0,325.6 96.3,324.3 94.7,323.9 94.3,323.9 93.3,324.5 91.6,324.1 91.2,324.2 90.6,323.1 90.2,323.5 89.4,323.5 88.4,323.6 87.6,322.9 86.4,322.0 85.5,321.9 84.9,320.5 83.9,319.3 83.0,319.0 82.2,319.6 80.7,319.1 80.7,318.8 80.4,319.0 80.2,319.3 79.7,320.6 81.1,320.8 81.7,321.9 82.1,321.9 82.6,322.4 83.7,322.2 85.8,322.4 86.8,323.0 87.3,322.9 87.7,323.3 87.9,324.4 88.4,323.9 90.3,324.1 91.6,324.1 92.8,324.4 92.6,325.5 91.0,325.4 91.2,324.6 90.1,324.1 89.5,323.7 88.7,323.1 87.6,322.8 87.1,322.0 87.1,322.4 86.4,321.7 84.8,321.4 83.7,321.5 83.9,322.0 83.4,320.8 82.5,321.3 81.8,321.2 80.8,321.1 80.0,321.7 M79.7,319.9 78.7,319.7 77.7,319.7 77.7,319.9 76.6,320.3 76.2,319.7 75.0,320.4 75.0,320.5 73.5,320.9 72.5,319.9 71.4,320.9 71.1,320.5 70.6,320.6 69.6,322.1 68.8,321.2 67.6,322.0 67.7,322.1 66.6,322.5 65.9,323.2 64.7,323.6 62.6,323.4 61.7,323.5 61.2,323.9 60.1,324.1 59.8,324.1 58.9,324.2 58.5,324.3 57.5,323.6 56.9,324.0 56.0,324.0 54.9,325.2 54.5,325.3 53.9,325.3 53.7,324.8 52.0,324.7 51.0,325.0 49.8,324.7 M50.5,324.4 48.3,324.9 46.9,324.1 46.7,324.2 46.2,324.1 44.8,323.4 44.4,323.6 43.7,324.3 42.1,325.3 41.6,325.2 41.1,326.0 40.1,326.4 41.3,327.0 40.2,326.6 39.3,326.6 38.9,326.3 37.7,326.1 37.0,325.6 36.7,325.9 36.0,325.4 34.3,324.8 33.6,325.3 32.6,324.7 33.2,323.4 33.4,322.7 33.9,321.3 33.7,322.3 33.2,323.1 32.8,322.6 31.6,323.8 31.3,323.4 30.6,323.6 31.5,323.6 32.0,323.7 32.6,324.3 33.5,324.3 34.0,324.5 35.7,324.1 36.7,324.5 35.7,324.1 34.8,323.8 33.6,323.2 33.2,323.1 32.0,323.4 31.1,323.4 29.9,322.6 29.5,323.0 29.6,323.1 28.2,323.4 27.0,321.7 26.1,321.7 25.3,320.6 24.5,320.5 23.6,321.0 22.8,322.4 22.2,323.1 21.3,322.7 20.3,322.3 21.1,322.7 21.7,322.5 22.8,322.6 23.7,323.1 24.3,323.4 25.3,322.9 25.9,323.5 27.0,323.9 28.1,323.9 28.2,324.0 29.2,324.0 29.9,324.6 31.2,325.1 31.6,325.1 32.1,325.6 34.0,325.8 35.1,325.9 35.6,325.9 36.3,326.1 37.3,326.7 37.9,325.5 37.6,325.8 38.2,326.5 39.5,326.7 M84.9,323.5 83.7,323.7 83.2,323.9 82.1,323.8 80.9,323.5 80.1,323.9 79.7,324.5 78.2,325.5 77.6,324.9 77.2,325.5 77.1,325.1 75.9,325.7 74.6,326.6 74.0,326.5 73.1,326.9 72.2,327.2 71.1,327.1 70.5,326.8 69.6,326.5 68.4,327.6 69.3,327.9 70.8,328.1 71.5,328.7 72.5,328.0 73.7,328.2 74.5,328.2 74.8,328.3 75.8,327.8 76.6,329.3 77.9,329.3 78.9,330.3 79.0,329.8 80.1,330.1 81.5,330.4 82.7,329.9 83.2,330.5 83.9,330.7 85.0,330.4 85.6,331.0 85.6,330.4 86.2,330.5 86.4,330.5 87.6,330.5 89.9,331.2 91.0,331.6 90.8,331.0 91.8,330.7 92.9,330.7 93.3,329.5 94.8,329.6 93.1,330.6 92.3,330.3 92.1,330.5 91.4,331.7 90.3,331.9 89.9,332.1 88.9,332.0 87.9,332.1 87.1,332.8 85.9,333.2 85.6,334.1 84.0,333.5 83.2,333.1 82.3,333.3 80.9,331.8 81.4,331.4 82.4,331.8 83.0,331.8 M87.5,325.1 86.3,325.4 85.8,325.8 85.0,326.9 84.7,327.6 83.2,328.3 82.4,329.1 82.1,328.7 82.3,329.3 82.4,330.1 81.5,330.5 M92.5,325.4 93.2,325.7 94.0,326.5 95.3,326.6 96.7,326.9 98.0,326.3 99.1,326.4 100.1,326.7 100.3,327.5 100.4,327.3 101.7,326.9 103.3,327.3 104.4,326.6"/>
</g>
<g fill="#9a9a9a" stroke="none" opacity="0.45">
<path d="M34.0,268.0 42.0,266.0 50.0,270.0 51.0,284.0 44.0,287.0 36.0,285.0 Z"/>
<path d="M106.0,266.0 114.0,264.0 122.0,268.0 122.5,286.0 118.0,294.0 110.0,292.0 Z"/>
<path d="M18.5,276.0 25.0,276.0 25.5,287.0 19.0,288.0 Z"/>
</g>
<g fill="none" stroke="#808080" stroke-opacity="0.34" stroke-width="1.60" stroke-linejoin="round" stroke-linecap="round">
<path d="M15.1,251.2 14.7,252.6 14.3,253.5 15.0,253.9 14.5,255.1 15.8,255.6 15.8,257.7 15.4,257.9 16.8,257.8 16.6,257.8 15.6,260.3 15.9,260.7 15.1,261.8 14.0,263.1 15.8,263.1 14.5,264.4 14.9,266.5 15.2,267.0 15.4,267.0 16.2,267.2 17.0,268.4 16.8,269.2 15.8,271.3 15.9,272.6 15.8,274.6 15.7,273.9 15.9,274.7 14.6,275.2 16.0,276.4 16.2,276.2 17.0,276.5 18.2,277.5 17.7,278.2 17.6,279.0 17.8,280.0 18.6,281.4 18.5,281.7 19.0,282.8 19.8,282.6 21.5,283.3 22.8,283.7 22.1,284.9 22.3,285.5 23.2,285.6 24.1,286.4 M13.1,262.9 13.1,262.3 13.9,263.7 14.6,264.8 14.9,265.1 14.8,265.9 14.6,267.4 14.9,267.3 15.0,268.3 15.3,270.2 15.0,269.7 14.8,269.8 15.8,270.8 15.5,273.2 14.5,273.9 14.5,274.3 14.9,275.6 15.5,276.6 M19.7,269.6 20.8,270.2 22.6,269.9 23.0,269.1 23.3,268.0 22.8,267.8 24.3,269.1 25.3,269.3 25.7,270.6 26.4,271.6 27.2,273.2 28.3,271.2 27.8,271.9 30.1,271.5 30.0,271.5 30.3,272.0 31.4,272.5 30.4,272.6 31.4,272.9 32.0,273.6 32.7,274.3 33.7,274.9 33.3,276.1 34.1,276.8 33.8,277.2 35.3,278.0 33.8,279.3 33.6,279.5 32.6,279.7 32.3,278.7 31.3,278.0 30.9,278.3 30.2,278.5 30.4,279.3 28.5,279.5 27.9,277.4 28.0,276.5 26.5,277.6 25.5,278.0 25.5,278.6 22.8,278.6 21.7,278.2 20.9,278.1 21.1,277.4 21.5,277.1 20.7,277.1 20.5,276.5 20.9,277.6 20.5,278.1 19.8,278.2 21.0,279.4 18.8,280.3 18.4,280.5 19.0,281.5 20.4,282.1 20.7,283.2 19.8,282.8 20.0,284.4 20.9,284.4 M24.3,255.3 24.8,256.5 24.2,256.6 24.7,258.0 25.6,259.5 25.5,261.0 26.1,261.1 25.9,261.6 26.6,260.8 26.6,261.8 27.1,262.1 27.7,263.8 29.2,264.6 29.7,265.5 29.2,265.7 29.0,266.1 30.5,265.8 31.8,267.1 31.0,268.6 30.2,269.7 30.8,270.1 30.2,271.9 29.4,272.1 28.9,270.7 26.6,270.7 26.4,270.4 25.7,269.1 M35.4,276.0 36.0,274.9 37.4,274.6 38.3,274.2 39.4,274.0 40.0,274.3 40.3,274.6 40.7,275.1 41.6,275.7 42.2,276.6 42.8,276.2 44.2,275.8 45.7,275.0 45.1,274.8 46.3,274.5 47.3,275.2 47.4,274.8 48.2,275.7 48.2,275.2 48.5,275.6 49.3,276.6 49.5,276.9 50.0,277.9 51.1,279.0 52.1,280.4 52.1,281.7 51.8,282.5 52.4,281.9 53.9,284.1 54.7,283.7 52.2,284.7 51.9,284.7 50.8,284.3 50.3,284.0 48.9,285.1 49.3,286.6 49.1,287.1 48.5,286.2 47.5,285.9 46.1,285.4 45.2,284.2 43.6,285.1 43.7,286.4 43.8,287.1 43.0,287.2 41.4,286.1 40.8,287.8 40.2,288.6 40.6,288.3 39.6,288.3 39.6,286.3 38.8,286.4 37.3,286.6 36.7,285.5 36.1,284.3 36.0,284.1 35.4,283.0 35.5,281.6 36.5,280.1 36.3,279.6 36.3,278.9 37.4,278.4 38.2,277.8 39.6,278.6 38.9,279.8 41.2,280.7 42.6,280.5 44.1,281.4 44.2,282.4 44.9,282.0 45.4,282.2 46.0,282.1 46.4,280.7 48.0,281.1 48.9,280.0 49.5,281.0 49.5,281.1 51.3,282.0 51.5,282.8 52.3,283.8 51.8,284.3 52.1,286.2 52.4,286.4 M43.2,255.0 44.1,255.1 43.7,256.0 43.9,257.7 44.9,258.2 44.4,258.7 44.0,258.9 44.4,260.0 43.1,260.8 43.7,260.7 44.7,262.4 44.5,263.1 45.3,265.5 45.3,265.4 45.0,266.2 46.0,265.9 46.0,268.3 47.0,268.3 48.1,269.6 47.7,271.4 48.4,271.6 48.2,272.9 47.0,273.3 47.1,273.6 46.7,274.0 45.9,275.4 45.4,276.5 44.4,275.9 M58.5,253.3 59.5,253.8 59.4,255.6 59.7,256.4 59.1,256.4 59.7,258.4 59.2,259.6 59.7,259.8 60.1,261.1 60.7,261.6 60.7,262.0 60.6,261.7 60.4,263.3 60.9,264.5 60.8,266.0 61.4,266.2 61.8,266.8 60.8,267.6 62.4,267.6 62.1,268.8 61.7,269.9 60.8,271.1 60.5,272.1 59.7,273.5 M51.0,257.7 51.0,258.1 52.3,258.6 52.0,258.9 52.2,259.7 51.7,260.5 50.4,261.7 51.4,263.7 52.0,263.9 53.0,264.6 52.6,265.2 51.5,265.5 51.8,267.3 52.9,266.7 53.1,267.3 53.3,269.0 52.9,270.8 53.8,270.9 54.1,271.8 54.6,272.5 54.4,273.5 55.2,275.5 54.4,276.0 55.2,275.7 55.7,275.5 55.1,276.2 56.1,276.8 54.6,279.1 54.8,278.4 53.7,279.0 52.6,280.9 M38.4,261.7 38.3,262.2 37.9,264.1 38.4,264.6 39.4,266.4 40.2,267.3 39.2,268.3 39.4,267.9 38.6,268.9 37.8,268.9 37.3,270.2 37.7,270.8 38.9,272.2 40.2,273.2 40.9,272.5 M77.4,240.3 77.2,241.1 77.1,241.9 76.6,242.4 76.5,244.1 78.7,244.9 78.1,245.4 77.6,246.4 78.8,246.9 78.0,246.9 77.3,246.8 76.9,248.2 78.6,248.9 78.6,250.3 79.1,250.7 79.2,251.9 78.5,253.4 78.3,254.6 77.0,254.7 77.1,254.2 78.0,255.6 79.5,255.6 80.0,256.5 81.9,255.1 81.6,254.4 82.2,253.5 81.5,253.9 81.4,252.4 82.8,251.9 82.7,251.5 83.8,251.3 84.8,250.5 85.5,250.1 84.2,248.4 83.6,248.5 83.6,249.2 82.5,248.0 83.6,246.1 82.5,245.3 81.8,243.9 82.7,243.0 81.9,243.1 80.3,242.8 79.8,242.9 80.0,242.1 79.5,241.6 78.8,240.8 77.5,241.0 76.3,240.4 M78.5,246.4 78.8,246.2 79.0,247.4 79.3,249.1 80.4,249.7 79.4,250.4 80.4,251.9 80.2,252.2 79.9,253.6 80.8,254.1 81.9,255.1 M85.7,249.1 86.0,250.4 85.9,252.3 85.1,252.8 85.7,252.6 86.2,253.4 85.2,253.5 85.8,254.6 87.4,254.7 87.3,256.8 87.2,257.9 87.1,258.5 87.9,260.3 88.6,260.2 88.8,260.3 87.4,261.4 88.3,261.8 88.3,263.5 89.5,264.0 89.3,265.4 89.1,266.2 89.7,267.5 90.7,268.3 91.1,270.2 90.4,270.4 90.1,270.7 90.7,271.5 89.7,272.2 90.1,272.6 89.2,273.9 90.5,274.3 89.1,275.4 90.9,276.3 91.2,276.7 91.8,277.8 M90.9,253.2 91.9,254.4 92.8,255.1 93.7,255.4 93.6,255.7 94.5,256.3 95.2,257.6 95.8,258.4 95.7,259.1 95.0,259.4 96.2,261.0 97.3,262.0 97.7,263.6 97.7,263.6 97.4,264.2 97.7,265.7 97.2,266.4 97.4,266.1 97.4,267.1 97.2,269.0 97.8,268.8 97.2,269.7 96.7,271.2 97.7,271.0 97.6,272.0 98.4,273.1 99.9,274.0 98.2,274.5 98.3,275.1 98.4,276.9 M101.2,262.8 101.1,263.2 101.6,263.3 101.8,263.7 101.0,264.4 101.3,265.3 101.7,266.0 102.9,267.9 103.1,269.1 104.4,270.0 103.5,270.2 102.6,271.1 102.0,272.5 101.9,273.1 101.8,273.3 102.2,274.3 102.4,274.8 103.3,275.4 102.8,275.2 102.3,277.0 101.2,277.6 102.4,279.0 103.3,280.3 103.8,282.0 102.9,282.3 103.4,283.3 104.6,283.0 103.8,283.9 104.3,285.8 104.2,285.0 103.3,285.6 104.0,285.2 103.3,286.7 104.1,287.8 103.7,290.2 103.3,291.1 104.8,291.7 104.0,292.5 M105.8,259.1 106.6,259.6 106.5,261.6 106.6,262.8 105.5,263.4 106.6,264.0 107.0,264.3 107.2,264.7 106.6,265.1 107.4,266.5 107.2,266.3 107.7,267.0 107.5,268.3 106.8,269.1 107.0,269.8 106.5,271.5 107.5,271.9 108.0,272.2 107.0,273.6 106.8,274.7 107.7,274.8 107.2,275.2 107.1,276.4 107.6,277.5 109.1,277.9 110.0,279.0 109.0,279.5 110.3,280.8 109.9,282.5 110.6,283.3 110.5,283.3 110.9,284.4 110.0,284.7 110.3,285.1 109.5,285.5 108.5,285.6 110.2,287.3 109.9,287.9 110.0,288.3 109.1,289.2 108.4,290.9 108.8,291.8 109.9,292.7 110.3,294.4 111.2,295.2 111.0,296.1 111.2,296.8 M111.1,261.9 111.6,263.6 112.1,263.6 111.5,263.7 111.1,264.1 111.9,265.0 110.9,265.8 111.8,266.7 112.7,267.6 114.0,269.5 112.4,270.0 113.1,269.6 113.8,271.1 113.0,271.0 113.3,272.9 112.2,274.3 111.9,274.6 112.6,274.8 111.8,276.3 110.6,276.4 111.4,277.2 113.1,278.2 114.0,279.4 113.6,280.9 113.7,282.6 114.7,282.4 114.8,283.1 115.2,284.4 116.7,285.0 116.9,286.0 116.4,287.0 115.5,287.2 115.8,287.0 115.4,287.3 116.4,288.1 116.0,289.3 114.7,291.8 115.4,292.4 116.2,291.7 116.4,293.1 116.3,293.6 M116.0,265.0 117.3,265.8 117.1,267.0 117.3,266.8 116.6,266.0 116.6,266.9 117.9,270.0 117.6,271.4 117.5,271.4 117.3,272.2 117.5,272.3 117.2,272.8 117.9,274.7 117.3,275.2 118.8,275.1 118.6,275.2 119.6,277.1 120.5,277.4 119.8,277.3 118.7,277.8 119.5,279.1 119.7,279.5 119.4,280.4 119.9,281.5 119.0,282.4 119.1,283.6 119.9,284.7 119.8,285.2 119.5,285.9 118.8,286.8 119.6,289.1 119.6,289.5 119.5,290.2 119.7,289.8 119.6,291.2 121.7,293.2 121.6,294.3 121.7,294.4 M103.2,268.3 103.8,269.0 104.9,269.2 105.4,268.7 106.3,267.6 107.8,266.4 108.5,266.5 108.2,266.2 109.7,266.3 109.9,267.7 111.0,268.5 111.5,267.5 112.6,267.4 114.9,267.6 116.1,267.2 117.1,267.0 117.9,267.5 118.1,269.1 118.8,268.6 120.3,267.3 120.2,266.9 121.3,267.6 122.1,266.2 M99.5,261.0 101.5,259.1 101.4,258.9 103.6,257.8 104.5,257.7 103.6,257.6 104.6,258.4 105.3,257.7 105.9,258.1 107.0,258.2 107.7,258.3 108.2,258.1 108.9,258.5 109.6,260.7 109.3,260.3 108.8,261.8 109.7,263.9 110.2,262.2 112.2,260.9 112.7,261.2 114.1,260.4 114.9,259.6 115.3,258.3 115.9,259.3 117.2,260.4 117.7,261.1 118.5,261.7 118.6,261.9 118.8,263.1 120.0,263.4 120.7,262.9 122.7,262.6 123.6,261.6 M95.1,258.0 96.4,257.8 97.5,258.8 97.5,259.7 98.1,261.7 97.8,261.3 99.3,260.8 98.5,262.5 98.4,264.7 97.9,264.9 98.6,266.3 99.5,267.2 99.1,266.5 99.8,265.5"/>
<path d="M16.1,252.9 16.1,252.9 15.4,253.7 15.2,253.7 15.9,254.9 16.7,255.4 16.9,256.5 15.7,257.9 16.1,260.2 16.1,260.3 16.7,261.0 16.8,261.4 16.3,262.8 16.2,263.5 15.5,264.4 15.8,265.5 16.2,266.7 16.3,267.2 17.0,267.1 16.8,267.7 18.2,268.7 17.9,270.0 17.2,269.9 17.4,270.8 17.3,271.1 16.5,273.2 17.0,273.2 16.2,274.3 17.2,275.5 17.6,275.8 18.2,277.6 18.2,277.5 18.1,279.0 17.6,279.8 18.0,280.6 18.8,281.4 20.5,282.6 21.6,283.2 21.3,284.3 20.0,284.8 21.2,284.7 22.3,285.3 21.4,286.1 22.0,286.7 23.0,288.4 M14.7,262.6 14.0,262.0 14.5,263.6 14.9,263.5 15.1,265.5 14.9,266.8 15.4,267.6 15.8,267.8 15.3,269.7 14.8,269.8 13.8,270.2 14.4,271.7 15.2,272.7 15.9,273.4 16.7,273.8 17.4,274.5 16.4,274.5 16.7,275.3 M19.9,269.3 21.4,269.1 23.3,269.4 23.5,269.4 24.4,268.5 25.3,268.9 26.7,270.4 26.3,270.9 27.0,270.7 27.1,270.9 27.4,272.2 28.9,271.7 29.1,272.2 29.2,272.1 29.8,270.4 30.8,271.5 30.9,273.1 32.4,273.0 32.2,273.6 32.5,273.8 33.4,274.7 33.9,275.4 34.5,275.6 34.4,276.1 34.9,277.6 36.0,277.6 34.5,279.1 34.3,279.8 32.9,279.9 33.0,281.2 32.0,280.3 31.3,279.7 30.5,279.3 29.9,279.4 29.1,278.1 27.8,277.7 26.3,276.5 26.4,278.1 24.7,277.8 24.6,278.2 25.2,279.0 24.0,280.0 24.0,279.4 22.6,278.8 23.4,277.8 22.8,276.1 21.4,275.4 21.5,277.6 20.8,278.6 21.0,278.7 21.0,279.4 20.9,279.8 20.9,281.3 21.1,281.6 20.4,281.6 21.8,282.7 21.9,284.1 22.8,284.0 23.0,285.2 M23.8,255.0 25.1,255.8 26.3,256.4 26.7,257.7 27.2,257.9 28.3,259.1 28.6,260.5 27.8,260.6 28.4,261.3 28.3,262.0 28.9,262.8 28.0,263.6 29.0,264.3 30.3,264.4 30.1,266.5 30.5,267.5 31.5,268.5 32.5,268.3 33.2,269.0 32.3,270.4 32.2,271.2 30.6,271.1 30.8,272.4 30.6,272.5 29.1,271.6 29.5,270.7 27.4,271.3 M35.1,275.2 35.3,275.3 37.4,274.8 38.2,273.6 39.2,273.5 41.0,275.3 41.2,274.8 41.7,274.8 41.8,275.9 42.6,276.6 42.4,276.8 43.1,278.0 44.5,277.2 45.3,276.8 46.0,275.6 46.5,275.4 47.8,274.0 47.4,275.4 48.5,276.6 49.7,276.9 50.4,277.5 50.4,277.0 51.8,278.1 51.8,279.1 52.4,280.5 53.6,282.1 54.0,283.1 53.5,282.6 53.3,283.4 54.4,284.0 53.8,285.0 53.0,284.7 52.1,285.5 52.0,286.6 51.1,287.5 50.3,288.1 49.8,288.5 48.3,286.9 47.7,287.3 46.6,286.2 46.5,286.8 45.3,287.2 45.7,287.8 44.6,288.5 43.6,287.7 42.5,288.4 41.7,288.4 40.0,286.8 40.7,286.3 39.7,285.9 39.7,284.4 38.8,284.7 37.4,284.4 37.8,283.0 36.7,283.0 35.6,282.5 35.1,281.0 35.5,281.6 36.9,281.1 37.5,280.5 37.9,279.6 38.8,279.5 39.2,279.6 41.3,280.1 42.5,280.2 41.7,280.1 42.1,279.9 42.4,280.8 43.4,281.6 44.6,281.1 46.6,281.3 47.8,281.3 48.5,281.1 48.2,280.3 48.7,280.8 50.2,281.4 50.3,282.6 50.5,282.6 50.9,283.4 51.0,283.2 51.6,284.6 51.8,284.8 52.9,284.8 M45.0,255.0 45.2,256.3 45.4,258.0 44.8,257.8 46.1,258.1 45.6,258.9 45.5,259.4 45.1,260.6 44.9,260.6 44.1,261.6 45.8,261.2 45.2,263.5 45.6,263.5 46.6,264.6 46.7,266.3 47.2,267.4 48.2,269.2 49.8,269.0 50.0,268.9 49.0,270.3 48.7,270.9 47.5,271.7 46.8,271.7 47.6,273.4 46.2,274.3 45.4,275.2 46.5,274.9 46.2,277.0 M59.5,253.9 59.9,255.0 59.8,255.4 59.7,256.6 60.7,257.2 60.4,258.6 60.8,258.7 61.0,259.1 60.8,261.4 62.2,262.2 61.2,263.6 61.0,263.9 61.5,264.4 61.9,265.2 61.8,266.1 61.8,265.9 62.1,266.9 61.9,267.0 62.6,267.9 62.7,270.4 62.1,272.2 62.7,272.3 62.1,272.4 62.2,272.5 M50.8,257.9 50.6,258.2 51.7,257.5 51.5,258.0 51.4,259.2 53.0,258.9 52.3,260.3 53.8,262.3 53.2,262.7 53.8,264.6 53.6,265.1 53.0,266.5 53.8,266.2 53.4,265.9 54.1,267.2 54.4,268.6 55.5,269.1 55.5,270.6 55.6,272.3 55.6,272.8 55.4,273.1 55.1,276.0 56.5,275.3 57.0,275.4 57.3,276.5 55.9,276.4 56.1,277.7 56.5,278.3 56.0,278.6 54.9,280.2 54.6,281.4 M38.4,261.6 39.0,261.1 38.8,263.6 39.0,264.7 38.9,266.2 40.1,267.3 39.6,267.9 39.0,268.5 37.8,269.2 38.6,269.5 39.5,270.1 40.9,270.5 40.4,271.3 42.8,271.2 42.1,272.1 M78.1,239.5 78.7,240.8 78.7,241.1 79.2,241.5 78.2,242.6 77.7,243.3 78.5,243.5 78.6,244.8 78.8,246.2 80.0,246.1 78.9,248.0 80.0,249.3 80.6,250.4 79.2,250.0 79.2,250.4 79.5,251.8 79.8,252.1 80.5,253.3 80.0,254.4 80.7,254.6 79.3,256.6 80.1,257.1 80.9,256.5 82.7,257.3 81.9,256.4 83.4,255.1 83.9,254.7 84.5,253.4 84.9,253.7 85.1,252.4 83.9,250.8 85.3,251.0 84.7,250.5 85.4,249.8 85.2,249.0 85.0,247.6 85.7,247.5 85.9,247.6 84.3,246.3 83.7,244.5 83.3,243.9 83.0,243.8 82.3,242.8 82.1,242.2 80.9,241.8 80.3,241.3 79.7,240.0 79.3,239.9 78.8,240.5 M79.4,247.4 80.1,248.2 79.2,249.5 79.3,250.4 80.1,250.9 80.2,250.6 80.4,250.8 80.3,251.9 80.7,253.1 81.4,254.5 80.6,254.6 M84.9,250.0 86.3,250.4 86.5,251.1 85.9,252.5 86.1,253.3 86.0,254.4 87.8,254.5 87.8,256.4 87.8,257.5 88.5,258.2 87.9,258.0 87.4,258.3 87.2,259.7 88.2,260.9 87.9,262.2 88.6,263.7 89.0,264.0 89.3,265.2 89.6,265.9 90.3,265.7 90.0,267.0 90.4,268.3 89.9,269.1 90.5,270.0 90.8,270.5 90.1,270.4 89.6,271.0 90.0,271.7 91.6,272.3 92.1,273.6 92.2,273.5 92.8,275.0 92.4,276.4 92.5,277.9 92.0,277.9 M92.7,252.8 93.8,253.7 94.3,255.5 95.0,255.9 95.5,256.4 95.3,255.7 95.1,257.2 95.3,258.9 96.2,259.8 96.9,261.3 96.3,260.7 96.3,261.9 97.4,262.2 97.0,262.8 98.0,262.8 98.6,263.2 97.5,265.6 96.8,266.1 97.5,267.1 97.2,266.3 97.5,266.8 97.6,268.1 97.3,269.1 98.4,270.0 97.8,271.4 98.5,272.9 98.5,273.3 98.7,274.3 98.5,276.4 99.1,275.9 M102.3,260.7 101.9,261.8 102.3,263.4 103.3,265.0 104.5,265.7 103.8,267.0 102.9,267.3 104.3,267.9 103.8,268.7 103.6,269.5 103.9,270.2 103.7,271.0 103.0,271.9 102.7,272.3 103.7,273.3 104.2,274.1 104.3,275.1 104.1,275.7 103.6,276.1 103.0,277.7 103.3,278.7 103.1,279.5 103.7,279.7 103.0,280.5 103.6,280.5 105.3,281.6 105.8,282.1 106.2,283.6 106.8,285.4 106.6,286.0 105.7,286.4 105.2,287.0 104.4,288.6 104.7,289.4 103.6,288.7 104.4,290.2 104.3,290.9 103.4,292.9 M107.8,259.6 108.2,260.2 108.2,262.0 107.8,262.2 107.1,261.7 108.3,263.1 107.8,262.5 109.6,263.0 109.4,264.6 108.7,265.2 108.7,265.2 108.1,267.5 108.7,267.7 108.2,270.0 107.4,271.3 107.7,271.2 106.5,271.6 107.6,271.8 107.6,273.1 107.7,275.0 107.0,276.5 106.9,277.8 107.6,277.7 108.4,277.8 108.8,277.5 109.0,279.7 109.6,280.8 109.1,281.1 109.1,281.5 110.3,283.1 110.7,282.5 110.9,282.9 111.4,284.8 111.2,285.9 110.8,286.1 110.3,287.0 110.6,288.2 110.8,289.2 110.6,289.8 109.2,289.9 110.0,290.4 109.9,291.5 110.0,292.7 111.5,294.0 110.9,294.6 112.0,295.8 111.2,296.2 M111.4,261.2 111.6,261.3 112.2,263.3 111.8,263.4 112.8,263.7 113.2,265.5 113.6,266.7 113.5,268.0 114.2,268.1 115.0,269.4 114.1,269.8 113.6,270.4 114.4,271.7 113.8,272.6 114.2,273.3 114.1,273.3 114.4,273.9 114.2,275.9 113.7,275.8 113.9,277.4 114.1,277.9 114.6,278.1 113.7,279.4 114.9,280.7 114.4,281.7 115.3,282.5 115.1,283.2 115.1,283.2 115.4,283.7 115.8,283.8 115.6,285.0 115.6,285.1 115.1,287.1 115.3,288.6 115.9,289.4 116.8,290.3 116.8,290.7 117.7,291.2 117.8,292.0 117.6,292.6 118.5,293.3 M116.9,264.0 117.6,264.7 117.4,265.2 117.0,266.9 117.9,267.3 118.1,268.3 117.7,269.0 118.4,269.8 117.8,270.1 117.8,270.2 118.3,271.7 118.6,271.9 118.9,272.9 120.1,274.6 120.5,275.8 120.2,275.6 120.3,276.5 120.0,277.3 120.2,277.8 121.0,278.5 121.3,280.3 121.8,281.8 122.1,282.4 121.4,282.4 120.9,284.2 120.3,284.4 120.8,284.8 120.1,285.9 120.4,286.0 120.2,286.5 121.3,287.9 121.0,289.2 120.9,290.4 119.8,291.4 120.2,291.7 121.9,293.6 122.6,294.4 122.6,295.1 M104.1,267.6 104.9,267.6 105.9,268.3 106.4,267.8 108.8,267.4 109.7,267.2 109.4,266.6 110.2,266.7 110.4,267.0 112.5,266.2 113.5,266.8 114.7,267.2 114.7,266.9 115.8,267.7 116.8,268.9 117.6,267.6 116.8,267.4 117.7,267.2 119.5,266.8 120.6,266.6 120.4,266.5 121.2,266.6 122.4,267.2 M100.6,260.6 101.8,260.0 103.8,259.6 104.3,259.1 104.9,258.3 105.9,258.9 106.1,259.6 106.6,257.9 107.4,257.7 108.6,257.2 109.3,256.9 109.8,257.3 110.4,258.7 111.1,259.1 111.0,260.5 111.2,261.6 112.0,262.2 112.9,260.4 113.4,259.5 114.6,259.0 115.6,258.3 115.6,258.8 115.4,258.2 116.0,258.6 117.1,260.7 117.5,261.5 117.6,262.2 119.2,262.7 119.7,262.3 120.1,263.7 119.9,263.7 122.1,262.2 122.6,262.5 M96.5,257.2 97.1,257.3 97.1,257.6 97.0,260.0 97.5,260.0 98.9,261.4 99.9,262.6 100.6,262.9 101.2,263.6 100.9,265.0 100.0,265.3 99.5,265.9 99.5,267.1 99.7,267.7"/>
<path d="M17.5,251.6 17.4,252.7 17.7,252.7 17.3,253.5 16.7,254.2 16.8,255.3 16.7,256.7 16.6,255.8 17.4,257.2 16.7,258.8 16.7,260.0 16.1,261.2 15.1,262.9 14.7,263.3 15.5,264.2 16.0,265.2 14.3,265.7 15.4,266.2 17.1,266.5 17.3,266.4 17.7,266.9 16.6,269.9 17.2,270.6 17.1,270.5 16.3,271.9 15.1,273.0 14.6,273.9 15.1,275.8 16.9,275.8 16.4,276.0 17.4,276.4 18.3,278.1 18.8,278.6 19.8,279.3 20.6,280.1 21.8,280.9 21.0,282.0 20.9,282.3 21.4,283.9 20.6,284.5 21.6,285.1 23.0,285.0 24.0,285.8 24.4,286.6 24.6,287.2 M14.9,262.0 15.2,262.4 15.7,263.4 16.7,263.6 18.4,262.8 18.0,265.1 17.2,265.8 16.6,267.5 17.0,267.4 16.5,268.3 16.6,269.2 16.0,271.1 15.9,272.0 15.7,272.5 15.1,272.8 15.7,273.5 17.9,273.2 16.7,274.9 M21.5,270.2 22.0,269.5 23.4,269.7 23.8,269.3 23.8,269.5 25.0,270.1 26.0,270.6 27.9,272.1 27.0,274.0 28.3,274.7 27.5,274.4 28.1,272.8 29.1,272.9 30.0,271.9 30.9,270.1 31.3,271.7 32.2,272.0 33.0,273.2 33.5,274.3 34.7,274.9 34.9,274.9 34.7,275.8 36.4,276.0 36.2,276.4 37.1,278.0 37.7,279.2 36.4,279.3 36.0,280.7 34.5,281.4 33.8,280.5 31.9,279.9 31.6,278.6 30.5,278.2 29.5,278.4 29.4,279.1 28.9,278.6 28.5,277.7 27.2,278.2 25.7,278.7 25.2,278.1 26.6,278.6 25.0,279.4 24.4,279.0 24.0,278.4 23.0,277.1 21.5,276.5 22.2,276.4 22.2,278.1 22.3,278.0 21.5,279.3 22.6,278.9 21.7,279.3 20.5,281.0 20.6,282.6 21.0,283.6 21.1,283.6 22.7,283.0 23.4,283.1 23.4,284.6 M25.5,255.0 26.6,256.9 25.9,256.8 25.8,257.3 26.4,257.4 27.1,257.7 27.9,258.5 28.4,260.1 28.6,260.7 28.5,261.1 30.0,262.7 31.3,263.9 31.3,264.3 31.1,264.3 31.9,266.1 32.8,267.9 32.3,266.7 33.5,268.0 32.2,268.3 32.4,270.5 32.1,270.5 32.1,272.0 30.6,272.9 29.3,272.1 29.2,271.4 27.5,271.0 26.3,270.7 M37.1,275.8 37.1,275.3 38.7,274.8 38.6,274.8 38.7,275.3 40.7,273.9 43.1,275.1 42.3,275.1 42.2,275.4 43.6,275.7 45.7,278.2 45.7,278.5 45.0,278.0 45.9,277.1 46.9,276.8 49.1,276.1 49.4,275.1 49.8,277.3 50.0,276.6 49.0,276.2 50.3,277.8 51.9,278.2 52.4,279.2 52.4,279.9 53.4,280.0 54.9,280.9 55.8,281.1 55.4,282.6 55.5,283.1 56.3,284.2 55.2,285.3 55.0,286.8 53.2,286.6 52.3,287.1 51.7,286.1 51.3,285.4 49.8,285.3 48.8,285.6 47.7,285.9 47.7,284.9 47.5,285.1 46.0,286.6 45.8,286.1 44.6,286.2 43.8,288.0 43.4,287.6 43.8,287.8 42.6,287.2 42.0,286.9 41.2,286.8 40.8,287.0 39.6,286.0 39.2,286.2 38.4,285.3 38.2,283.6 38.3,283.1 37.6,282.0 36.8,280.9 38.1,280.0 38.4,280.3 39.3,279.9 39.4,279.5 40.6,279.3 40.1,280.0 42.2,280.5 43.4,280.5 43.4,281.4 44.2,281.7 45.8,282.9 45.1,283.3 46.7,283.5 47.6,283.2 48.3,280.2 50.2,280.5 51.3,281.2 51.5,280.5 51.1,281.3 51.2,281.2 51.6,282.1 52.7,283.2 52.8,284.2 53.2,284.1 53.5,284.6 M46.1,255.2 46.8,255.7 47.3,256.2 46.2,256.2 46.7,257.6 46.6,258.7 46.1,259.6 46.5,260.7 45.2,262.1 46.2,262.6 47.2,262.6 47.4,263.8 47.4,264.6 48.7,265.1 48.9,265.1 49.5,266.2 50.1,267.3 49.1,268.6 50.8,269.2 49.9,270.0 48.4,270.0 47.5,270.4 47.0,271.8 48.3,273.0 47.3,273.6 47.1,275.1 45.9,274.2 44.9,275.7 M59.9,254.2 59.8,253.4 59.7,255.2 59.7,256.7 61.3,255.8 62.6,256.6 62.6,258.2 62.9,259.0 62.9,260.8 62.8,261.3 62.2,262.5 62.5,263.1 62.4,264.1 62.6,264.8 63.4,265.5 63.0,266.7 62.6,267.0 62.9,267.3 62.6,268.2 62.7,268.5 62.4,271.1 62.5,271.2 62.1,271.4 62.4,272.7 M52.9,257.1 52.4,257.8 53.1,259.2 53.3,260.2 53.4,261.0 53.3,261.5 53.1,261.9 54.2,262.3 54.4,262.5 54.5,262.4 55.0,264.0 54.8,265.8 55.2,267.7 55.5,268.0 56.3,269.8 56.3,270.2 56.6,270.3 57.2,271.1 57.1,272.3 56.3,273.8 57.8,273.5 56.0,274.2 56.1,274.2 55.9,274.6 56.8,275.5 58.0,276.1 57.2,276.9 56.1,279.5 55.5,280.1 55.9,280.5 55.0,281.2 M38.5,260.7 40.4,262.2 40.4,263.1 40.9,263.1 41.5,265.9 41.0,266.9 40.2,266.6 40.2,267.0 39.7,268.1 39.6,269.7 40.1,270.5 40.6,270.7 40.8,271.6 41.3,272.0 42.2,273.8 M79.3,239.7 79.4,239.9 80.1,240.9 79.6,242.1 78.1,243.7 79.2,244.2 79.5,244.5 79.0,245.1 79.3,246.8 79.4,246.5 79.4,247.9 80.9,248.9 79.8,249.6 79.5,250.6 79.8,253.0 79.2,253.7 80.2,253.6 80.1,254.4 80.1,255.3 80.2,256.2 79.7,257.4 80.1,257.5 80.7,257.2 82.3,257.0 82.6,255.9 83.5,255.4 85.2,254.6 85.6,253.9 86.4,252.6 85.1,251.5 86.3,251.7 86.6,251.2 87.2,249.9 85.8,248.8 84.7,248.4 85.7,247.3 84.8,247.3 84.8,246.3 85.1,244.9 85.7,244.4 86.1,243.6 85.0,242.7 84.2,241.6 83.2,241.8 82.7,241.9 82.2,241.0 80.5,240.8 79.1,239.9 78.6,240.0 M80.1,246.8 81.5,246.8 80.9,248.9 82.2,249.1 83.6,250.2 82.7,251.9 82.7,252.9 81.7,253.7 82.0,252.8 82.7,252.7 82.1,253.5 M87.0,249.0 87.1,250.1 87.7,251.3 87.9,251.3 89.0,251.9 88.0,253.4 89.0,255.2 89.3,256.0 88.4,257.0 88.6,258.2 89.1,259.1 89.1,259.5 90.4,259.4 91.1,260.3 91.0,261.8 90.3,262.0 90.0,262.8 90.2,263.2 90.3,263.9 90.4,265.4 90.7,267.1 91.5,267.0 90.3,267.7 90.3,268.9 90.9,271.2 91.8,270.9 90.7,272.1 90.6,271.9 91.1,271.8 92.1,272.8 91.6,273.4 90.5,274.1 91.5,276.3 93.9,277.6 94.0,278.2 M93.0,251.3 94.1,252.6 93.7,254.2 94.2,255.7 95.0,255.9 96.3,257.0 96.7,257.7 96.1,257.7 96.3,258.7 96.6,259.4 96.9,260.1 96.8,262.1 98.2,263.4 99.5,264.5 99.4,265.3 99.1,264.3 98.6,264.6 98.1,266.4 98.6,266.9 98.5,268.7 99.1,268.7 98.8,269.2 98.6,269.7 98.6,270.1 99.2,272.0 99.5,273.1 98.7,274.2 99.5,274.9 99.8,275.9 100.8,277.2 M103.0,261.2 103.4,262.3 102.3,262.6 103.2,263.6 104.0,264.7 104.2,266.0 105.3,266.2 106.1,267.1 105.6,267.3 105.4,268.8 106.0,270.0 105.9,270.6 104.3,270.9 104.5,271.1 103.5,272.5 102.5,273.4 102.4,274.8 102.7,275.7 103.3,277.2 103.3,277.8 101.7,278.2 102.9,278.4 102.9,279.3 103.0,280.1 103.1,279.7 103.6,281.2 104.5,281.5 104.4,282.9 104.9,284.6 105.7,284.7 105.8,285.7 104.8,286.9 105.2,287.8 105.4,287.8 104.8,288.8 105.0,288.8 104.1,290.3 103.9,291.6 M107.7,259.4 108.8,259.7 108.1,261.5 109.5,261.2 108.2,261.2 109.0,261.8 109.8,263.1 109.3,264.8 110.2,265.9 110.6,267.5 111.5,268.8 111.9,269.4 110.3,271.1 110.1,270.2 110.2,271.0 110.9,271.7 110.5,271.3 109.5,273.0 108.4,273.5 108.3,273.9 108.4,274.0 108.5,275.0 108.2,275.4 109.1,277.6 109.3,279.0 108.7,279.0 109.8,280.9 110.2,281.0 110.4,280.9 110.3,282.5 110.5,282.6 111.2,283.8 111.5,284.2 111.1,285.9 111.7,285.9 111.5,287.0 112.2,288.0 112.4,288.6 111.7,288.0 111.7,289.9 111.1,289.5 111.9,290.4 112.1,291.6 111.5,291.9 112.4,293.6 113.3,294.5 112.7,294.5 M112.5,261.9 113.2,262.8 113.9,264.1 112.5,265.1 114.2,265.3 114.4,265.2 114.8,267.0 114.0,267.8 113.5,268.3 113.1,269.2 113.9,270.5 114.6,270.3 114.9,272.3 113.5,272.6 113.7,274.4 114.8,274.6 114.9,274.0 114.2,275.5 113.9,275.8 113.6,277.4 112.9,277.7 114.8,277.8 114.3,278.1 114.6,279.1 115.7,279.5 116.1,280.8 115.7,282.5 115.7,282.8 116.3,283.8 117.6,284.1 117.4,285.6 117.9,285.2 117.0,287.8 117.4,287.7 117.6,288.8 118.7,289.2 119.0,290.2 119.7,290.3 119.0,291.2 119.0,294.0 119.2,295.2 M117.1,264.6 117.5,264.6 118.0,265.6 118.2,266.5 119.0,267.8 117.9,268.5 118.6,269.3 119.4,270.3 120.2,271.6 118.2,270.9 118.6,273.3 118.8,274.5 119.7,274.2 120.1,274.8 120.0,274.9 120.4,275.7 121.7,276.8 121.2,279.3 121.3,279.1 121.8,278.6 120.5,279.2 121.8,279.7 122.1,280.1 121.3,281.4 120.7,282.5 120.5,284.4 120.9,284.8 121.6,286.0 121.0,286.5 121.0,286.9 121.8,287.8 122.5,288.7 121.7,289.2 122.8,289.7 123.2,291.0 122.2,291.1 122.0,292.3 122.5,293.2 M104.5,268.6 104.9,268.5 105.2,267.9 106.7,266.7 107.3,265.7 107.4,264.8 108.2,264.1 110.2,265.1 110.9,266.2 112.9,266.9 113.5,265.4 113.4,267.0 114.9,266.6 115.8,267.6 116.8,267.6 117.9,267.0 119.1,267.4 118.6,267.1 119.0,267.9 120.7,266.9 121.9,267.4 122.6,266.5 122.3,266.1 M101.5,259.4 102.4,259.0 103.0,257.9 103.9,258.3 104.4,257.1 105.3,256.3 106.1,257.2 107.2,257.9 108.6,257.6 109.5,257.9 110.2,257.7 110.3,257.9 111.2,258.5 111.3,259.9 111.9,260.2 111.7,259.7 112.9,260.8 112.5,261.0 113.2,259.5 114.2,259.3 115.9,259.6 115.9,258.4 116.5,260.1 117.5,259.1 118.0,259.3 118.7,258.9 118.9,260.6 119.7,261.7 119.3,261.9 121.0,262.1 121.9,261.2 122.1,261.6 124.1,261.0 M96.6,259.2 97.1,260.2 97.1,259.6 96.6,260.2 98.4,261.7 98.0,261.9 98.8,262.6 99.2,262.7 100.0,263.3 99.3,266.0 99.9,266.6 99.4,267.5 101.1,268.2 100.9,267.8"/>
</g>
<path d="M21.8,276.4 22.1,277.2 23.1,277.0 25.0,276.5 25.2,276.4 26.2,275.7 26.8,274.4 26.9,274.1 26.2,273.0 25.7,272.6 25.7,272.0 25.7,271.0 25.7,270.6 25.8,269.7 25.5,268.5 25.2,267.5 24.7,267.7 24.3,267.3 24.7,266.4 25.0,265.9 25.2,265.0 24.9,264.0 24.6,263.4 24.5,263.0 24.1,261.8 24.2,260.5 25.1,259.3 24.9,259.0 25.4,258.0 25.6,257.5 25.3,257.0 25.4,256.2 25.3,255.9 25.8,254.5 26.6,255.8 26.8,256.5 26.8,257.7 27.2,258.1 27.4,258.7 27.6,259.0 28.5,259.2 27.5,260.2 28.1,261.2 28.5,261.9 28.9,262.9 29.1,263.3 30.0,264.2 29.5,266.5 30.4,266.0 29.8,266.6 29.9,266.3 29.8,266.9 31.3,266.2 30.7,266.3 31.4,266.2 32.2,265.2 32.4,264.4 32.4,264.0 33.2,263.2 33.5,262.4 33.6,261.6 34.0,260.8 34.4,259.8 35.0,259.6 35.5,258.6 36.5,259.0 37.2,258.5 37.8,259.4 38.3,260.3 39.0,261.0 39.8,261.2 39.7,261.5 40.1,262.5 40.6,262.9 41.0,263.9 41.2,264.3 41.4,265.3 41.9,265.5 42.3,266.1 42.3,267.4 42.9,267.7 43.1,268.6 43.5,269.0 44.4,268.9 45.0,269.9 45.7,270.0 46.3,269.6 47.0,269.6 47.7,268.8 47.8,269.3 47.9,269.0 49.0,268.1 50.9,267.6 52.1,265.6 51.0,266.1 50.7,266.6 49.8,266.1 48.8,266.7 48.3,268.6 47.9,269.6 47.0,269.8 46.4,270.1 46.0,270.3 45.7,270.5 45.2,269.9 44.8,269.7 44.1,269.6 43.1,268.7 42.0,268.8 41.5,267.9 41.4,268.0 40.7,267.2 40.5,266.5 39.9,265.6 40.2,265.5 40.3,264.3 39.9,263.6 39.1,262.5 39.1,262.2 38.7,262.1 38.0,261.5 37.8,260.7 37.3,260.9 36.5,261.1 36.2,261.1 35.4,261.5 34.2,261.9 33.6,262.8 33.0,263.0 32.9,263.9 32.9,264.7 32.4,264.8 32.4,265.7 31.3,267.0 31.2,266.6 31.2,266.4 30.9,267.9 30.9,268.7 31.2,269.8 31.6,270.4 31.7,271.0 32.6,271.8 32.5,272.7 33.3,273.0 34.0,273.3 34.1,274.4 34.7,275.4 34.4,275.2 34.7,275.7 34.8,276.3 35.6,278.0 35.7,278.8 35.6,279.3 35.6,280.3 35.6,280.7 35.8,281.7 35.8,282.9 35.1,282.9 35.3,283.7 35.2,284.5 35.2,285.1 35.1,285.8 35.1,285.2 35.7,287.1 35.2,287.5 36.3,288.7 37.3,289.8 38.2,289.3 38.9,289.6 39.7,289.9 40.9,290.7 41.9,291.0 42.0,291.1 41.9,290.7 42.4,290.4 42.4,291.0 43.9,291.0 45.2,291.5 46.2,291.5 46.3,292.1 47.2,292.5 48.1,293.1 48.7,292.9 49.2,291.8 50.0,292.4 49.8,292.9 50.5,291.7 51.5,291.3 51.6,290.7 52.8,290.7 52.6,292.3 54.1,294.1 53.1,293.8 52.3,294.1 53.4,293.5 52.7,294.5 53.8,294.7 54.0,294.8 53.5,294.8 53.6,295.4 52.9,292.7 53.3,292.1 53.4,292.4 53.6,292.7 54.0,290.4 53.6,291.4 53.1,290.8 53.1,289.2 54.1,289.1 53.5,288.6 53.0,287.1 53.4,286.2 53.1,285.5 53.3,285.1 53.6,284.0 53.5,283.2 53.5,282.9 54.0,282.4 54.0,281.3 54.2,280.3 54.2,279.0 54.0,279.0 53.8,277.7 53.9,277.8 54.5,276.8 54.5,276.0 54.4,275.3 54.7,274.1 54.8,273.5 54.9,272.6 55.6,272.8 55.7,271.8 56.1,271.0 56.1,270.8 55.8,269.4 55.9,268.2 56.7,268.4 58.4,268.4 58.8,267.2 59.0,267.7 59.2,268.9 59.5,269.4 59.6,270.1 60.0,270.5 60.2,271.6 60.1,272.0 60.4,273.3 60.9,274.0 61.1,274.6 61.3,274.6 61.4,275.7 61.0,276.7 61.4,276.7 61.3,277.5 61.3,278.5 60.7,279.1 61.3,280.4 61.6,280.7 62.1,280.0 63.0,281.0 62.7,281.9 62.6,282.1 63.1,282.9 63.9,283.5 64.0,284.1 65.1,285.0 65.2,285.4 65.6,285.8 66.6,286.4 67.7,286.5 68.1,286.3 68.2,286.1 69.3,286.3 70.4,285.6 71.6,286.1 72.1,286.4 72.0,285.9 72.7,286.3 73.6,285.7 74.7,285.0 75.7,284.4 76.1,283.8 76.9,282.8 77.8,282.2 78.3,281.4 78.3,281.5 78.5,281.3 78.7,281.4 78.2,279.5 77.4,279.5 77.5,279.5 77.8,278.0 78.3,277.9 78.2,276.5 78.0,276.1 78.0,275.1 78.4,274.3 78.5,273.3 78.3,272.7 78.5,272.2 78.5,271.5 78.7,270.6 78.9,270.2 79.0,269.3 78.9,268.6 79.2,267.7 79.3,267.3 80.5,266.7 80.5,266.0 80.5,265.3 80.8,265.6 81.3,266.4 81.8,266.8 82.3,267.2 83.2,267.8 83.4,269.3 83.7,268.9 83.5,270.2 82.9,269.3 83.3,270.8 83.7,272.0 84.0,273.0 84.5,273.9 84.6,274.5 84.9,275.2 85.0,275.2 85.0,276.2 84.8,277.6 85.0,278.2 84.9,279.5 85.2,280.1 85.0,281.0 85.3,281.3 85.3,281.3 85.5,281.8 85.8,282.6 85.5,283.7 85.7,284.1 86.2,285.0 86.7,285.0 87.2,285.4 87.6,286.2 88.3,286.8 87.9,287.6 88.4,288.1 89.0,290.3 88.5,289.4 89.3,290.1 89.9,290.8 89.8,292.2 90.2,293.1 89.9,293.6 89.1,294.1 89.6,295.3 88.9,296.0 88.8,297.2 88.1,297.3 87.7,299.5 87.3,300.1 85.7,300.2 84.6,299.1 84.2,299.3 84.2,300.0 84.0,300.0 85.0,300.8 84.2,302.6 83.6,301.9 82.5,302.4 80.8,300.4 80.3,298.4 79.2,299.5 78.5,299.2 78.7,297.7 78.3,297.0 77.1,296.7 76.9,296.3 76.4,296.3 76.5,295.9 75.9,294.5 75.0,293.4 74.9,294.0 74.8,293.7 73.7,293.5 73.1,293.5 73.3,292.5 73.4,290.7 70.9,290.0 70.0,291.4 71.2,292.1 71.1,293.1 70.4,293.4 70.4,294.6 69.4,296.4 69.7,296.9 70.0,297.1 69.9,297.6 71.0,298.4 71.2,299.3 71.4,300.1 71.9,300.1 72.7,300.6 73.2,300.9 74.1,301.7 74.4,300.9 75.6,301.5 75.9,302.2 76.3,302.9 76.6,303.1 77.2,303.7 78.1,304.0 79.3,303.4 79.9,303.8 80.6,303.8 81.5,304.2 82.0,304.1 82.7,303.7 83.1,302.7 84.6,302.2 84.8,301.8 85.0,301.5 84.8,301.3 86.1,300.9 86.8,300.6 86.2,301.0 85.4,299.8 85.9,298.8 84.8,297.0 85.6,295.8 85.1,295.9 84.7,294.0 83.2,293.9 83.0,293.4 82.9,293.4 81.7,291.9 82.1,291.7 80.8,290.4 80.8,290.1 79.9,290.8 79.5,291.1 78.6,289.9 77.9,289.9 77.3,290.1 77.0,289.4 76.7,289.1 75.9,289.2 76.0,290.0 77.0,289.6 77.5,290.2 77.7,290.6 78.1,291.3 78.6,291.2 79.6,292.4 79.6,293.5 81.6,292.5 81.6,292.8 82.5,293.3 82.1,294.9 82.8,295.5 85.1,294.9 85.0,295.9 85.5,296.4 86.1,298.4 86.9,297.1 87.3,296.1 86.7,294.9 88.0,293.4 88.5,293.1 88.9,293.6 89.6,292.9 89.9,292.3 90.0,291.4 90.3,291.5 91.2,291.6 91.8,292.1 91.0,289.1 91.1,288.3 91.2,286.9 91.4,287.4 91.1,286.1 91.2,285.0 90.7,284.2 89.8,284.0 89.9,283.1 90.0,282.2 89.6,281.9 89.7,280.9 90.4,279.6 90.0,278.9 89.1,278.9 88.4,278.0 88.4,277.3 88.0,276.9 88.1,275.6 87.2,275.2 86.7,274.6 87.3,273.3 86.3,271.7 87.0,271.1 88.2,270.4 87.9,270.3 87.7,271.4 88.2,272.0 88.0,272.5 88.9,273.5 88.8,272.1 88.0,273.4 87.8,274.7 87.4,275.9 87.7,277.3 87.4,278.4 88.1,278.5 88.8,278.7 90.4,278.4 91.3,277.8 91.7,278.9 92.4,278.8 92.8,278.5 93.6,278.8 94.4,279.4 95.1,279.0 95.6,278.5 97.1,278.3 97.6,278.4 98.8,278.4 99.8,277.8 100.9,278.1 100.7,278.7 101.4,278.5 101.1,277.3 101.0,276.8 101.4,275.6 101.7,275.3 101.8,274.6 101.7,273.1 101.9,272.5 102.3,272.2 102.5,271.3 103.1,270.8 103.3,270.1 102.9,269.2 103.0,268.5 104.1,266.7 105.4,266.5 105.8,266.4 106.3,267.1 105.0,268.5 105.4,269.9 106.0,270.2 106.3,271.1 106.5,272.0 106.6,272.5 106.6,273.7 106.3,274.3 106.2,274.6 106.4,275.5 107.0,276.2 107.2,277.2 107.1,276.8 107.1,278.0 106.8,279.0 107.3,279.5 107.2,280.7 106.9,281.1 107.5,282.3 108.1,283.2 108.8,283.9 108.4,284.4 108.7,285.2 107.9,285.9 107.6,286.5 108.0,287.1 107.5,287.8 107.2,289.2 107.3,290.0 106.9,290.2 107.3,290.1 107.9,290.6 108.0,291.8 108.0,292.8 108.6,294.2 108.9,295.2 109.2,295.5 109.2,295.8 109.0,296.7 109.0,297.4 107.8,298.9 108.0,298.9 107.5,299.9 107.9,300.8 107.0,301.8 106.2,301.6 105.6,302.0 104.4,301.4 103.6,300.8 103.1,299.3 103.6,300.1 102.6,299.7 101.9,298.0 101.9,297.4 102.1,296.1 101.5,295.7 101.6,295.8 101.6,294.6 102.0,292.9 101.3,293.4 101.3,292.5 101.4,291.3 101.4,290.2 101.7,290.0 101.8,289.0 101.2,288.3 100.8,288.0 100.2,286.6 101.0,286.5 101.5,284.9 101.5,285.3 102.0,284.2 102.5,283.5 102.3,282.6 102.7,282.1 102.6,281.2 102.2,280.7 102.5,280.6 102.4,279.5 103.0,279.0 102.9,278.7 103.5,278.1 103.9,277.5 104.2,276.5 104.9,275.9 105.3,275.5 105.6,276.0 105.4,276.2 106.2,276.5 106.6,277.2 107.0,278.1 107.6,278.5 108.7,278.8 108.1,279.9 108.7,280.4 108.0,280.8 108.5,282.0 109.2,282.7 109.1,282.8 109.6,284.1 109.5,284.7" fill="none" stroke="#0000ff" stroke-width="1.7" stroke-linejoin="round"/>
<g fill="none" stroke="#ff0000" stroke-width="3.3" stroke-linejoin="round" stroke-linecap="round">
<path d="M21.8,276.4 22.1,277.2 23.1,277.0 25.0,276.5 25.2,276.4 26.2,275.7 26.8,274.4 26.9,274.1"/>
<path d="M29.5,266.5 30.4,266.0 29.8,266.6 29.9,266.3 29.8,266.9 31.3,266.2 30.7,266.3 31.4,266.2 32.2,265.2"/>
<path d="M47.7,268.8 47.8,269.3 47.9,269.0 49.0,268.1 50.9,267.6 52.1,265.6 51.0,266.1"/>
<path d="M50.7,266.6 49.8,266.1 48.8,266.7 48.3,268.6 47.9,269.6 47.0,269.8"/>
<path d="M32.4,265.7 31.3,267.0 31.2,266.6 31.2,266.4 30.9,267.9 30.9,268.7"/>
<path d="M35.6,278.0 35.7,278.8 35.6,279.3 35.6,280.3 35.6,280.7 35.8,281.7"/>
<path d="M35.1,285.8 35.1,285.2 35.7,287.1 35.2,287.5 36.3,288.7"/>
<path d="M40.9,290.7 41.9,291.0 42.0,291.1 41.9,290.7 42.4,290.4 42.4,291.0 43.9,291.0 45.2,291.5"/>
<path d="M49.8,292.9 50.5,291.7 51.5,291.3 51.6,290.7 52.8,290.7 52.6,292.3 54.1,294.1 53.1,293.8 52.3,294.1 53.4,293.5 52.7,294.5 53.8,294.7 54.0,294.8"/>
<path d="M53.5,294.8 53.6,295.4 52.9,292.7 53.3,292.1 53.4,292.4 53.6,292.7 54.0,290.4 53.6,291.4 53.1,290.8 53.1,289.2 54.1,289.1 53.5,288.6 53.0,287.1"/>
<path d="M55.8,269.4 55.9,268.2 56.7,268.4 58.4,268.4 58.8,267.2"/>
<path d="M60.7,279.1 61.3,280.4 61.6,280.7 62.1,280.0 63.0,281.0 62.7,281.9"/>
<path d="M70.4,285.6 71.6,286.1 72.1,286.4 72.0,285.9"/>
<path d="M77.8,282.2 78.3,281.4 78.3,281.5 78.5,281.3 78.7,281.4 78.2,279.5 77.4,279.5 77.5,279.5 77.8,278.0"/>
<path d="M83.2,267.8 83.4,269.3 83.7,268.9 83.5,270.2 82.9,269.3 83.3,270.8 83.7,272.0"/>
<path d="M87.9,287.6 88.4,288.1 89.0,290.3 88.5,289.4 89.3,290.1"/>
<path d="M89.1,294.1 89.6,295.3 88.9,296.0 88.8,297.2 88.1,297.3 87.7,299.5 87.3,300.1 85.7,300.2 84.6,299.1 84.2,299.3 84.2,300.0 84.0,300.0 85.0,300.8 84.2,302.6 83.6,301.9 82.5,302.4 80.8,300.4 80.3,298.4 79.2,299.5 78.5,299.2 78.7,297.7 78.3,297.0 77.1,296.7 76.9,296.3"/>
<path d="M75.9,294.5 75.0,293.4 74.9,294.0 74.8,293.7 73.7,293.5 73.1,293.5 73.3,292.5 73.4,290.7 70.9,290.0 70.0,291.4 71.2,292.1 71.1,293.1 70.4,293.4 70.4,294.6"/>
<path d="M84.6,302.2 84.8,301.8 85.0,301.5 84.8,301.3 86.1,300.9 86.8,300.6 86.2,301.0 85.4,299.8 85.9,298.8 84.8,297.0 85.6,295.8 85.1,295.9 84.7,294.0 83.2,293.9 83.0,293.4 82.9,293.4 81.7,291.9 82.1,291.7 80.8,290.4 80.8,290.1 79.9,290.8"/>
<path d="M79.6,293.5 81.6,292.5 81.6,292.8 82.5,293.3 82.1,294.9 82.8,295.5 85.1,294.9 85.0,295.9 85.5,296.4 86.1,298.4 86.9,297.1 87.3,296.1 86.7,294.9 88.0,293.4 88.5,293.1 88.9,293.6"/>
<path d="M91.2,291.6 91.8,292.1 91.0,289.1 91.1,288.3 91.2,286.9 91.4,287.4 91.1,286.1"/>
<path d="M87.2,275.2 86.7,274.6 87.3,273.3 86.3,271.7 87.0,271.1 88.2,270.4 87.9,270.3"/>
<path d="M87.7,271.4 88.2,272.0 88.0,272.5 88.9,273.5 88.8,272.1 88.0,273.4"/>
<path d="M104.1,266.7 105.4,266.5 105.8,266.4 106.3,267.1 105.0,268.5 105.4,269.9 106.0,270.2"/>
<path d="M107.8,298.9 108.0,298.9 107.5,299.9 107.9,300.8 107.0,301.8 106.2,301.6 105.6,302.0 104.4,301.4 103.6,300.8 103.1,299.3 103.6,300.1 102.6,299.7 101.9,298.0 101.9,297.4"/>
<path d="M100.8,288.0 100.2,286.6 101.0,286.5 101.5,284.9 101.5,285.3"/>
<path d="M108.7,278.8 108.1,279.9 108.7,280.4 108.0,280.8 108.5,282.0"/>
</g>
<g fill="#ff0000">
<ellipse cx="23.5" cy="274.5" rx="1.8" ry="1.4"/>
<ellipse cx="30.5" cy="266.5" rx="1.1" ry="1.4"/>
<ellipse cx="48.5" cy="268.0" rx="1.5" ry="1.1"/>
<ellipse cx="42.0" cy="292.0" rx="1.6" ry="1.8"/>
<ellipse cx="52.8" cy="292.0" rx="1.4" ry="3.1"/>
<ellipse cx="73.0" cy="292.5" rx="3.1" ry="2.8"/>
<ellipse cx="84.0" cy="297.0" rx="4.5" ry="3.8"/>
<ellipse cx="78.2" cy="281.0" rx="1.3" ry="1.8"/>
<ellipse cx="105.5" cy="268.0" rx="1.0" ry="1.7"/>
<ellipse cx="106.0" cy="299.5" rx="2.4" ry="1.8"/>
</g>
<path d="M6.77,321.86 L69.25,347.4" stroke="#000" stroke-width="1.3" fill="none"/>
<path d="M69.25,347.4 L132.57,322.14" stroke="#000" stroke-width="1.3" fill="none"/>
<path d="M132.57,322.14 L134.17,237.06" stroke="#000" stroke-width="1.3" fill="none"/>
<line x1="12.62" y1="322.82" x2="8.85" y2="324.15" stroke="#000" stroke-width="0.8"/>
<line x1="25.63" y1="328.12" x2="21.87" y2="329.48" stroke="#000" stroke-width="0.8"/>
<line x1="39" y1="333.57" x2="35.25" y2="334.97" stroke="#000" stroke-width="0.8"/>
<line x1="52.74" y1="339.17" x2="49" y2="340.6" stroke="#000" stroke-width="0.8"/>
<line x1="66.87" y1="344.93" x2="63.15" y2="346.4" stroke="#000" stroke-width="0.8"/>
<line x1="72.53" y1="344.6" x2="76.24" y2="346.1" stroke="#000" stroke-width="0.8"/>
<line x1="86.51" y1="339.04" x2="90.23" y2="340.51" stroke="#000" stroke-width="0.8"/>
<line x1="100.08" y1="333.64" x2="103.81" y2="335.07" stroke="#000" stroke-width="0.8"/>
<line x1="113.27" y1="328.39" x2="117.02" y2="329.79" stroke="#000" stroke-width="0.8"/>
<line x1="126.1" y1="323.29" x2="129.86" y2="324.66" stroke="#000" stroke-width="0.8"/>
<line x1="132.08" y1="245.66" x2="135.92" y2="246.78" stroke="#000" stroke-width="0.8"/>
<line x1="131.83" y1="259.23" x2="135.66" y2="260.39" stroke="#000" stroke-width="0.8"/>
<line x1="131.59" y1="272.68" x2="135.4" y2="273.88" stroke="#000" stroke-width="0.8"/>
<line x1="131.34" y1="286.02" x2="135.14" y2="287.26" stroke="#000" stroke-width="0.8"/>
<line x1="131.1" y1="299.24" x2="134.89" y2="300.53" stroke="#000" stroke-width="0.8"/>
<line x1="130.86" y1="312.35" x2="134.63" y2="313.68" stroke="#000" stroke-width="0.8"/>
<text x="7" y="333.6" font-size="10.2" text-anchor="middle" fill="#000">−3</text>
<text x="18.8" y="338.8" font-size="10.2" text-anchor="middle" fill="#000">−1</text>
<text x="30.6" y="344.7" font-size="10.2" text-anchor="middle" fill="#000">1</text>
<text x="44.2" y="350.6" font-size="10.2" text-anchor="middle" fill="#000">3</text>
<text x="57.8" y="356.5" font-size="10.2" text-anchor="middle" fill="#000">5</text>
<text x="80.9" y="355" font-size="10.2" text-anchor="middle" fill="#000">−2</text>
<text x="93.3" y="349.1" font-size="10.2" text-anchor="middle" fill="#000">0</text>
<text x="106.5" y="344.3" font-size="10.2" text-anchor="middle" fill="#000">2</text>
<text x="120.2" y="338.3" font-size="10.2" text-anchor="middle" fill="#000">4</text>
<text x="132.6" y="332.4" font-size="10.2" text-anchor="middle" fill="#000">6</text>
<text x="140.2" y="250.8" font-size="10.2" text-anchor="middle" fill="#000">1</text>
<text x="140.2" y="264" font-size="10.2" text-anchor="middle" fill="#000">0</text>
<text x="142" y="277.1" font-size="10.2" text-anchor="middle" fill="#000">−1</text>
<text x="142" y="290.5" font-size="10.2" text-anchor="middle" fill="#000">−2</text>
<text x="142" y="303.9" font-size="10.2" text-anchor="middle" fill="#000">−3</text>
<text x="142" y="317.5" font-size="10.2" text-anchor="middle" fill="#000">−4</text>
<text x="28.6" y="355.8" font-size="12.2" text-anchor="middle" fill="#000" transform="rotate(22.3 28.6 355.8)">x (μm)</text>
<text x="118.5" y="349.2" font-size="12.2" text-anchor="middle" fill="#000" transform="rotate(-21.8 118.5 349.2)">y (μm)</text>
<text x="160" y="278.8" font-size="12.2" text-anchor="middle" fill="#000" transform="rotate(-90 160 278.8)">z (μm)</text>
<path d="M527.77,321.86 L591.27,299.62 L591.15,219 L525.87,236.44 Z" stroke="none" stroke-width="0" fill="#f9f9f9"/>
<path d="M591.27,299.62 L653.57,322.14 L655.17,237.06 L591.15,219 Z" stroke="none" stroke-width="0" fill="#f1f1f1"/>
<path d="M527.77,321.86 L590.25,347.4 L653.57,322.14 L591.27,299.62 Z" stroke="none" stroke-width="0" fill="#f4f4f4"/>
<g stroke="#c4c4c4" stroke-width="0.85" fill="none">
<path d="M595.24,301.06 L595.22,220.15"/>
<path d="M531.74,323.48 L595.24,301.06"/>
<path d="M608.25,305.76 L608.58,223.92"/>
<path d="M544.75,328.80 L608.25,305.76"/>
<path d="M621.60,310.58 L622.29,227.78"/>
<path d="M558.12,334.27 L621.60,310.58"/>
<path d="M635.30,315.53 L636.37,231.76"/>
<path d="M571.87,339.89 L635.30,315.53"/>
<path d="M649.36,320.61 L650.83,235.84"/>
<path d="M586.01,345.66 L649.36,320.61"/>
<path d="M532.90,320.07 L531.15,235.03"/>
<path d="M532.90,320.07 L595.39,345.35"/>
<path d="M546.89,315.17 L545.54,231.18"/>
<path d="M546.89,315.17 L609.37,339.78"/>
<path d="M560.49,310.40 L559.54,227.45"/>
<path d="M560.49,310.40 L622.95,334.36"/>
<path d="M573.74,305.76 L573.15,223.81"/>
<path d="M573.74,305.76 L636.15,329.09"/>
<path d="M586.65,301.24 L586.40,220.27"/>
<path d="M586.65,301.24 L648.98,323.97"/>
<path d="M526.08,245.64 L591.16,227.67 L655.00,246.22"/>
<path d="M526.38,259.28 L591.18,240.53 L654.75,259.81"/>
<path d="M526.68,272.81 L591.20,253.29 L654.49,273.28"/>
<path d="M526.98,286.22 L591.22,265.95 L654.24,286.64"/>
<path d="M527.28,299.52 L591.24,278.51 L653.99,299.88"/>
<path d="M527.57,312.70 L591.26,290.97 L653.75,313.01"/>
</g>
<g fill="none" stroke="#b4b4b4" stroke-width="1.35" stroke-linejoin="round" stroke-linecap="round">
<path d="M628.4,317.9 629.5,316.9 630.8,317.0 629.9,317.3 629.3,318.4 629.2,319.2 628.1,319.4 626.5,320.5 626.8,321.1 627.9,322.3 627.5,321.7 628.6,323.6 628.5,323.1 629.8,323.0 630.7,323.0 632.1,323.3 632.9,323.0 634.0,324.3 634.9,324.2 633.3,324.7 632.8,324.7 630.8,324.7 629.9,324.7 629.6,324.8 628.9,325.5 627.9,325.2 627.6,324.7 626.1,324.8 627.2,323.2 627.6,322.5 628.7,321.2 628.3,321.9 627.6,323.2 628.4,323.5 629.1,323.0 630.6,324.1 631.4,324.0 632.8,324.3 631.9,324.8 630.4,324.3 629.7,324.0 628.9,324.5 628.3,325.0 626.7,325.2 626.2,325.9 625.8,325.8 624.7,325.5 623.5,325.3 621.9,325.5 621.8,326.6 621.0,326.4 620.2,326.7 619.6,326.7 618.5,326.4 618.7,326.8 617.0,326.9 615.5,326.5 614.4,326.1 613.3,325.6 M613.9,326.1 615.2,325.3 615.3,324.9 617.0,325.6 617.3,324.3 615.7,323.9 615.3,323.9 614.3,324.5 612.6,324.1 612.2,324.2 611.6,323.1 611.2,323.5 610.4,323.5 609.4,323.6 608.6,322.9 607.4,322.0 606.5,321.9 605.9,320.5 604.9,319.3 604.0,319.0 603.2,319.6 601.7,319.1 601.7,318.8 601.4,319.0 601.2,319.3 600.7,320.6 602.1,320.8 602.7,321.9 603.1,321.9 603.6,322.4 604.7,322.2 606.8,322.4 607.8,323.0 608.3,322.9 608.7,323.3 608.9,324.4 609.4,323.9 611.3,324.1 612.6,324.1 613.8,324.4 613.6,325.5 612.0,325.4 612.2,324.6 611.1,324.1 610.5,323.7 609.7,323.1 608.6,322.8 608.1,322.0 608.1,322.4 607.4,321.7 605.8,321.4 604.7,321.5 604.9,322.0 604.4,320.8 603.5,321.3 602.8,321.2 601.8,321.1 601.0,321.7 M600.7,319.9 599.7,319.7 598.7,319.7 598.7,319.9 597.6,320.3 597.2,319.7 596.0,320.4 596.0,320.5 594.5,320.9 593.5,319.9 592.4,320.9 592.1,320.5 591.6,320.6 590.6,322.1 589.8,321.2 588.6,322.0 588.7,322.1 587.6,322.5 586.9,323.2 585.7,323.6 583.6,323.4 582.7,323.5 582.2,323.9 581.1,324.1 580.8,324.1 579.9,324.2 579.5,324.3 578.5,323.6 577.9,324.0 577.0,324.0 575.9,325.2 575.5,325.3 574.9,325.3 574.7,324.8 573.0,324.7 572.0,325.0 570.8,324.7 M571.5,324.4 569.3,324.9 567.9,324.1 567.7,324.2 567.2,324.1 565.8,323.4 565.4,323.6 564.7,324.3 563.1,325.3 562.6,325.2 562.1,326.0 561.1,326.4 562.3,327.0 561.2,326.6 560.3,326.6 559.9,326.3 558.7,326.1 558.0,325.6 557.7,325.9 557.0,325.4 555.3,324.8 554.6,325.3 553.6,324.7 554.2,323.4 554.4,322.7 554.9,321.3 554.7,322.3 554.2,323.1 553.8,322.6 552.6,323.8 552.3,323.4 551.6,323.6 552.5,323.6 553.0,323.7 553.6,324.3 554.5,324.3 555.0,324.5 556.7,324.1 557.7,324.5 556.7,324.1 555.8,323.8 554.6,323.2 554.2,323.1 553.0,323.4 552.1,323.4 550.9,322.6 550.5,323.0 550.6,323.1 549.2,323.4 548.0,321.7 547.1,321.7 546.3,320.6 545.5,320.5 544.6,321.0 543.8,322.4 543.2,323.1 542.3,322.7 541.3,322.3 542.1,322.7 542.7,322.5 543.8,322.6 544.7,323.1 545.3,323.4 546.3,322.9 546.9,323.5 548.0,323.9 549.1,323.9 549.2,324.0 550.2,324.0 550.9,324.6 552.2,325.1 552.6,325.1 553.1,325.6 555.0,325.8 556.1,325.9 556.6,325.9 557.3,326.1 558.3,326.7 558.9,325.5 558.6,325.8 559.2,326.5 560.5,326.7 M605.9,323.5 604.7,323.7 604.2,323.9 603.1,323.8 601.9,323.5 601.1,323.9 600.7,324.5 599.2,325.5 598.6,324.9 598.2,325.5 598.1,325.1 596.9,325.7 595.6,326.6 595.0,326.5 594.1,326.9 593.2,327.2 592.1,327.1 591.5,326.8 590.6,326.5 589.4,327.6 590.3,327.9 591.8,328.1 592.5,328.7 593.5,328.0 594.7,328.2 595.5,328.2 595.8,328.3 596.8,327.8 597.6,329.3 598.9,329.3 599.9,330.3 600.0,329.8 601.1,330.1 602.5,330.4 603.7,329.9 604.2,330.5 604.9,330.7 606.0,330.4 606.6,331.0 606.6,330.4 607.2,330.5 607.4,330.5 608.6,330.5 610.9,331.2 612.0,331.6 611.8,331.0 612.8,330.7 613.9,330.7 614.3,329.5 615.8,329.6 614.1,330.6 613.3,330.3 613.1,330.5 612.4,331.7 611.3,331.9 610.9,332.1 609.9,332.0 608.9,332.1 608.1,332.8 606.9,333.2 606.6,334.1 605.0,333.5 604.2,333.1 603.3,333.3 601.9,331.8 602.4,331.4 603.4,331.8 604.0,331.8 M608.5,325.1 607.3,325.4 606.8,325.8 606.0,326.9 605.7,327.6 604.2,328.3 603.4,329.1 603.1,328.7 603.3,329.3 603.4,330.1 602.5,330.5 M613.5,325.4 614.2,325.7 615.0,326.5 616.3,326.6 617.7,326.9 619.0,326.3 620.1,326.4 621.1,326.7 621.3,327.5 621.4,327.3 622.7,326.9 624.3,327.3 625.4,326.6"/>
</g>
<g fill="#9a9a9a" stroke="none" opacity="0.45">
<path d="M555.0,268.0 563.0,266.0 571.0,270.0 572.0,284.0 565.0,287.0 557.0,285.0 Z"/>
<path d="M627.0,266.0 635.0,264.0 643.0,268.0 643.5,286.0 639.0,294.0 631.0,292.0 Z"/>
<path d="M539.5,276.0 546.0,276.0 546.5,287.0 540.0,288.0 Z"/>
</g>
<g fill="none" stroke="#808080" stroke-opacity="0.34" stroke-width="1.60" stroke-linejoin="round" stroke-linecap="round">
<path d="M536.1,251.2 535.7,252.6 535.3,253.5 536.0,253.9 535.5,255.1 536.8,255.6 536.8,257.7 536.4,257.9 537.8,257.8 537.6,257.8 536.6,260.3 536.9,260.7 536.1,261.8 535.0,263.1 536.8,263.1 535.5,264.4 535.9,266.5 536.2,267.0 536.4,267.0 537.2,267.2 538.0,268.4 537.8,269.2 536.8,271.3 536.9,272.6 536.8,274.6 536.7,273.9 536.9,274.7 535.6,275.2 537.0,276.4 537.2,276.2 538.0,276.5 539.2,277.5 538.7,278.2 538.6,279.0 538.8,280.0 539.6,281.4 539.5,281.7 540.0,282.8 540.8,282.6 542.5,283.3 543.8,283.7 543.1,284.9 543.3,285.5 544.2,285.6 545.1,286.4 M534.1,262.9 534.1,262.3 534.9,263.7 535.6,264.8 535.9,265.1 535.8,265.9 535.6,267.4 535.9,267.3 536.0,268.3 536.3,270.2 536.0,269.7 535.8,269.8 536.8,270.8 536.5,273.2 535.5,273.9 535.5,274.3 535.9,275.6 536.5,276.6 M540.7,269.6 541.8,270.2 543.6,269.9 544.0,269.1 544.3,268.0 543.8,267.8 545.3,269.1 546.3,269.3 546.7,270.6 547.4,271.6 548.2,273.2 549.3,271.2 548.8,271.9 551.1,271.5 551.0,271.5 551.3,272.0 552.4,272.5 551.4,272.6 552.4,272.9 553.0,273.6 553.7,274.3 554.7,274.9 554.3,276.1 555.1,276.8 554.8,277.2 556.3,278.0 554.8,279.3 554.6,279.5 553.6,279.7 553.3,278.7 552.3,278.0 551.9,278.3 551.2,278.5 551.4,279.3 549.5,279.5 548.9,277.4 549.0,276.5 547.5,277.6 546.5,278.0 546.5,278.6 543.8,278.6 542.7,278.2 541.9,278.1 542.1,277.4 542.5,277.1 541.7,277.1 541.5,276.5 541.9,277.6 541.5,278.1 540.8,278.2 542.0,279.4 539.8,280.3 539.4,280.5 540.0,281.5 541.4,282.1 541.7,283.2 540.8,282.8 541.0,284.4 541.9,284.4 M545.3,255.3 545.8,256.5 545.2,256.6 545.7,258.0 546.6,259.5 546.5,261.0 547.1,261.1 546.9,261.6 547.6,260.8 547.6,261.8 548.1,262.1 548.7,263.8 550.2,264.6 550.7,265.5 550.2,265.7 550.0,266.1 551.5,265.8 552.8,267.1 552.0,268.6 551.2,269.7 551.8,270.1 551.2,271.9 550.4,272.1 549.9,270.7 547.6,270.7 547.4,270.4 546.7,269.1 M556.4,276.0 557.0,274.9 558.4,274.6 559.3,274.2 560.4,274.0 561.0,274.3 561.3,274.6 561.7,275.1 562.6,275.7 563.2,276.6 563.8,276.2 565.2,275.8 566.7,275.0 566.1,274.8 567.3,274.5 568.3,275.2 568.4,274.8 569.2,275.7 569.2,275.2 569.5,275.6 570.3,276.6 570.5,276.9 571.0,277.9 572.1,279.0 573.1,280.4 573.1,281.7 572.8,282.5 573.4,281.9 574.9,284.1 575.7,283.7 573.2,284.7 572.9,284.7 571.8,284.3 571.3,284.0 569.9,285.1 570.3,286.6 570.1,287.1 569.5,286.2 568.5,285.9 567.1,285.4 566.2,284.2 564.6,285.1 564.7,286.4 564.8,287.1 564.0,287.2 562.4,286.1 561.8,287.8 561.2,288.6 561.6,288.3 560.6,288.3 560.6,286.3 559.8,286.4 558.3,286.6 557.7,285.5 557.1,284.3 557.0,284.1 556.4,283.0 556.5,281.6 557.5,280.1 557.3,279.6 557.3,278.9 558.4,278.4 559.2,277.8 560.6,278.6 559.9,279.8 562.2,280.7 563.6,280.5 565.1,281.4 565.2,282.4 565.9,282.0 566.4,282.2 567.0,282.1 567.4,280.7 569.0,281.1 569.9,280.0 570.5,281.0 570.5,281.1 572.3,282.0 572.5,282.8 573.3,283.8 572.8,284.3 573.1,286.2 573.4,286.4 M564.2,255.0 565.1,255.1 564.7,256.0 564.9,257.7 565.9,258.2 565.4,258.7 565.0,258.9 565.4,260.0 564.1,260.8 564.7,260.7 565.7,262.4 565.5,263.1 566.3,265.5 566.3,265.4 566.0,266.2 567.0,265.9 567.0,268.3 568.0,268.3 569.1,269.6 568.7,271.4 569.4,271.6 569.2,272.9 568.0,273.3 568.1,273.6 567.7,274.0 566.9,275.4 566.4,276.5 565.4,275.9 M579.5,253.3 580.5,253.8 580.4,255.6 580.7,256.4 580.1,256.4 580.7,258.4 580.2,259.6 580.7,259.8 581.1,261.1 581.7,261.6 581.7,262.0 581.6,261.7 581.4,263.3 581.9,264.5 581.8,266.0 582.4,266.2 582.8,266.8 581.8,267.6 583.4,267.6 583.1,268.8 582.7,269.9 581.8,271.1 581.5,272.1 580.7,273.5 M572.0,257.7 572.0,258.1 573.3,258.6 573.0,258.9 573.2,259.7 572.7,260.5 571.4,261.7 572.4,263.7 573.0,263.9 574.0,264.6 573.6,265.2 572.5,265.5 572.8,267.3 573.9,266.7 574.1,267.3 574.3,269.0 573.9,270.8 574.8,270.9 575.1,271.8 575.6,272.5 575.4,273.5 576.2,275.5 575.4,276.0 576.2,275.7 576.7,275.5 576.1,276.2 577.1,276.8 575.6,279.1 575.8,278.4 574.7,279.0 573.6,280.9 M559.4,261.7 559.3,262.2 558.9,264.1 559.4,264.6 560.4,266.4 561.2,267.3 560.2,268.3 560.4,267.9 559.6,268.9 558.8,268.9 558.3,270.2 558.7,270.8 559.9,272.2 561.2,273.2 561.9,272.5 M598.4,240.3 598.2,241.1 598.1,241.9 597.6,242.4 597.5,244.1 599.7,244.9 599.1,245.4 598.6,246.4 599.8,246.9 599.0,246.9 598.3,246.8 597.9,248.2 599.6,248.9 599.6,250.3 600.1,250.7 600.2,251.9 599.5,253.4 599.3,254.6 598.0,254.7 598.1,254.2 599.0,255.6 600.5,255.6 601.0,256.5 602.9,255.1 602.6,254.4 603.2,253.5 602.5,253.9 602.4,252.4 603.8,251.9 603.7,251.5 604.8,251.3 605.8,250.5 606.5,250.1 605.2,248.4 604.6,248.5 604.6,249.2 603.5,248.0 604.6,246.1 603.5,245.3 602.8,243.9 603.7,243.0 602.9,243.1 601.3,242.8 600.8,242.9 601.0,242.1 600.5,241.6 599.8,240.8 598.5,241.0 597.3,240.4 M599.5,246.4 599.8,246.2 600.0,247.4 600.3,249.1 601.4,249.7 600.4,250.4 601.4,251.9 601.2,252.2 600.9,253.6 601.8,254.1 602.9,255.1 M606.7,249.1 607.0,250.4 606.9,252.3 606.1,252.8 606.7,252.6 607.2,253.4 606.2,253.5 606.8,254.6 608.4,254.7 608.3,256.8 608.2,257.9 608.1,258.5 608.9,260.3 609.6,260.2 609.8,260.3 608.4,261.4 609.3,261.8 609.3,263.5 610.5,264.0 610.3,265.4 610.1,266.2 610.7,267.5 611.7,268.3 612.1,270.2 611.4,270.4 611.1,270.7 611.7,271.5 610.7,272.2 611.1,272.6 610.2,273.9 611.5,274.3 610.1,275.4 611.9,276.3 612.2,276.7 612.8,277.8 M611.9,253.2 612.9,254.4 613.8,255.1 614.7,255.4 614.6,255.7 615.5,256.3 616.2,257.6 616.8,258.4 616.7,259.1 616.0,259.4 617.2,261.0 618.3,262.0 618.7,263.6 618.7,263.6 618.4,264.2 618.7,265.7 618.2,266.4 618.4,266.1 618.4,267.1 618.2,269.0 618.8,268.8 618.2,269.7 617.7,271.2 618.7,271.0 618.6,272.0 619.4,273.1 620.9,274.0 619.2,274.5 619.3,275.1 619.4,276.9 M622.2,262.8 622.1,263.2 622.6,263.3 622.8,263.7 622.0,264.4 622.3,265.3 622.7,266.0 623.9,267.9 624.1,269.1 625.4,270.0 624.5,270.2 623.6,271.1 623.0,272.5 622.9,273.1 622.8,273.3 623.2,274.3 623.4,274.8 624.3,275.4 623.8,275.2 623.3,277.0 622.2,277.6 623.4,279.0 624.3,280.3 624.8,282.0 623.9,282.3 624.4,283.3 625.6,283.0 624.8,283.9 625.3,285.8 625.2,285.0 624.3,285.6 625.0,285.2 624.3,286.7 625.1,287.8 624.7,290.2 624.3,291.1 625.8,291.7 625.0,292.5 M626.8,259.1 627.6,259.6 627.5,261.6 627.6,262.8 626.5,263.4 627.6,264.0 628.0,264.3 628.2,264.7 627.6,265.1 628.4,266.5 628.2,266.3 628.7,267.0 628.5,268.3 627.8,269.1 628.0,269.8 627.5,271.5 628.5,271.9 629.0,272.2 628.0,273.6 627.8,274.7 628.7,274.8 628.2,275.2 628.1,276.4 628.6,277.5 630.1,277.9 631.0,279.0 630.0,279.5 631.3,280.8 630.9,282.5 631.6,283.3 631.5,283.3 631.9,284.4 631.0,284.7 631.3,285.1 630.5,285.5 629.5,285.6 631.2,287.3 630.9,287.9 631.0,288.3 630.1,289.2 629.4,290.9 629.8,291.8 630.9,292.7 631.3,294.4 632.2,295.2 632.0,296.1 632.2,296.8 M632.1,261.9 632.6,263.6 633.1,263.6 632.5,263.7 632.1,264.1 632.9,265.0 631.9,265.8 632.8,266.7 633.7,267.6 635.0,269.5 633.4,270.0 634.1,269.6 634.8,271.1 634.0,271.0 634.3,272.9 633.2,274.3 632.9,274.6 633.6,274.8 632.8,276.3 631.6,276.4 632.4,277.2 634.1,278.2 635.0,279.4 634.6,280.9 634.7,282.6 635.7,282.4 635.8,283.1 636.2,284.4 637.7,285.0 637.9,286.0 637.4,287.0 636.5,287.2 636.8,287.0 636.4,287.3 637.4,288.1 637.0,289.3 635.7,291.8 636.4,292.4 637.2,291.7 637.4,293.1 637.3,293.6 M637.0,265.0 638.3,265.8 638.1,267.0 638.3,266.8 637.6,266.0 637.6,266.9 638.9,270.0 638.6,271.4 638.5,271.4 638.3,272.2 638.5,272.3 638.2,272.8 638.9,274.7 638.3,275.2 639.8,275.1 639.6,275.2 640.6,277.1 641.5,277.4 640.8,277.3 639.7,277.8 640.5,279.1 640.7,279.5 640.4,280.4 640.9,281.5 640.0,282.4 640.1,283.6 640.9,284.7 640.8,285.2 640.5,285.9 639.8,286.8 640.6,289.1 640.6,289.5 640.5,290.2 640.7,289.8 640.6,291.2 642.7,293.2 642.6,294.3 642.7,294.4 M624.2,268.3 624.8,269.0 625.9,269.2 626.4,268.7 627.3,267.6 628.8,266.4 629.5,266.5 629.2,266.2 630.7,266.3 630.9,267.7 632.0,268.5 632.5,267.5 633.6,267.4 635.9,267.6 637.1,267.2 638.1,267.0 638.9,267.5 639.1,269.1 639.8,268.6 641.3,267.3 641.2,266.9 642.3,267.6 643.1,266.2 M620.5,261.0 622.5,259.1 622.4,258.9 624.6,257.8 625.5,257.7 624.6,257.6 625.6,258.4 626.3,257.7 626.9,258.1 628.0,258.2 628.7,258.3 629.2,258.1 629.9,258.5 630.6,260.7 630.3,260.3 629.8,261.8 630.7,263.9 631.2,262.2 633.2,260.9 633.7,261.2 635.1,260.4 635.9,259.6 636.3,258.3 636.9,259.3 638.2,260.4 638.7,261.1 639.5,261.7 639.6,261.9 639.8,263.1 641.0,263.4 641.7,262.9 643.7,262.6 644.6,261.6 M616.1,258.0 617.4,257.8 618.5,258.8 618.5,259.7 619.1,261.7 618.8,261.3 620.3,260.8 619.5,262.5 619.4,264.7 618.9,264.9 619.6,266.3 620.5,267.2 620.1,266.5 620.8,265.5"/>
<path d="M537.1,252.9 537.1,252.9 536.4,253.7 536.2,253.7 536.9,254.9 537.7,255.4 537.9,256.5 536.7,257.9 537.1,260.2 537.1,260.3 537.7,261.0 537.8,261.4 537.3,262.8 537.2,263.5 536.5,264.4 536.8,265.5 537.2,266.7 537.3,267.2 538.0,267.1 537.8,267.7 539.2,268.7 538.9,270.0 538.2,269.9 538.4,270.8 538.3,271.1 537.5,273.2 538.0,273.2 537.2,274.3 538.2,275.5 538.6,275.8 539.2,277.6 539.2,277.5 539.1,279.0 538.6,279.8 539.0,280.6 539.8,281.4 541.5,282.6 542.6,283.2 542.3,284.3 541.0,284.8 542.2,284.7 543.3,285.3 542.4,286.1 543.0,286.7 544.0,288.4 M535.7,262.6 535.0,262.0 535.5,263.6 535.9,263.5 536.1,265.5 535.9,266.8 536.4,267.6 536.8,267.8 536.3,269.7 535.8,269.8 534.8,270.2 535.4,271.7 536.2,272.7 536.9,273.4 537.7,273.8 538.4,274.5 537.4,274.5 537.7,275.3 M540.9,269.3 542.4,269.1 544.3,269.4 544.5,269.4 545.4,268.5 546.3,268.9 547.7,270.4 547.3,270.9 548.0,270.7 548.1,270.9 548.4,272.2 549.9,271.7 550.1,272.2 550.2,272.1 550.8,270.4 551.8,271.5 551.9,273.1 553.4,273.0 553.2,273.6 553.5,273.8 554.4,274.7 554.9,275.4 555.5,275.6 555.4,276.1 555.9,277.6 557.0,277.6 555.5,279.1 555.3,279.8 553.9,279.9 554.0,281.2 553.0,280.3 552.3,279.7 551.5,279.3 550.9,279.4 550.1,278.1 548.8,277.7 547.3,276.5 547.4,278.1 545.7,277.8 545.6,278.2 546.2,279.0 545.0,280.0 545.0,279.4 543.6,278.8 544.4,277.8 543.8,276.1 542.4,275.4 542.5,277.6 541.8,278.6 542.0,278.7 542.0,279.4 541.9,279.8 541.9,281.3 542.1,281.6 541.4,281.6 542.8,282.7 542.9,284.1 543.8,284.0 544.0,285.2 M544.8,255.0 546.1,255.8 547.3,256.4 547.7,257.7 548.2,257.9 549.3,259.1 549.6,260.5 548.8,260.6 549.4,261.3 549.3,262.0 549.9,262.8 549.0,263.6 550.0,264.3 551.3,264.4 551.1,266.5 551.5,267.5 552.5,268.5 553.5,268.3 554.2,269.0 553.3,270.4 553.2,271.2 551.6,271.1 551.8,272.4 551.6,272.5 550.1,271.6 550.5,270.7 548.4,271.3 M556.1,275.2 556.3,275.3 558.4,274.8 559.2,273.6 560.2,273.5 562.0,275.3 562.2,274.8 562.7,274.8 562.8,275.9 563.6,276.6 563.4,276.8 564.1,278.0 565.5,277.2 566.3,276.8 567.0,275.6 567.5,275.4 568.8,274.0 568.4,275.4 569.5,276.6 570.7,276.9 571.4,277.5 571.4,277.0 572.8,278.1 572.8,279.1 573.4,280.5 574.6,282.1 575.0,283.1 574.5,282.6 574.3,283.4 575.4,284.0 574.8,285.0 574.0,284.7 573.1,285.5 573.0,286.6 572.1,287.5 571.3,288.1 570.8,288.5 569.3,286.9 568.7,287.3 567.6,286.2 567.5,286.8 566.3,287.2 566.7,287.8 565.6,288.5 564.6,287.7 563.5,288.4 562.7,288.4 561.0,286.8 561.7,286.3 560.7,285.9 560.7,284.4 559.8,284.7 558.4,284.4 558.8,283.0 557.7,283.0 556.6,282.5 556.1,281.0 556.5,281.6 557.9,281.1 558.5,280.5 558.9,279.6 559.8,279.5 560.2,279.6 562.3,280.1 563.5,280.2 562.7,280.1 563.1,279.9 563.4,280.8 564.4,281.6 565.6,281.1 567.6,281.3 568.8,281.3 569.5,281.1 569.2,280.3 569.7,280.8 571.2,281.4 571.3,282.6 571.5,282.6 571.9,283.4 572.0,283.2 572.6,284.6 572.8,284.8 573.9,284.8 M566.0,255.0 566.2,256.3 566.4,258.0 565.8,257.8 567.1,258.1 566.6,258.9 566.5,259.4 566.1,260.6 565.9,260.6 565.1,261.6 566.8,261.2 566.2,263.5 566.6,263.5 567.6,264.6 567.7,266.3 568.2,267.4 569.2,269.2 570.8,269.0 571.0,268.9 570.0,270.3 569.7,270.9 568.5,271.7 567.8,271.7 568.6,273.4 567.2,274.3 566.4,275.2 567.5,274.9 567.2,277.0 M580.5,253.9 580.9,255.0 580.8,255.4 580.7,256.6 581.7,257.2 581.4,258.6 581.8,258.7 582.0,259.1 581.8,261.4 583.2,262.2 582.2,263.6 582.0,263.9 582.5,264.4 582.9,265.2 582.8,266.1 582.8,265.9 583.1,266.9 582.9,267.0 583.6,267.9 583.7,270.4 583.1,272.2 583.7,272.3 583.1,272.4 583.2,272.5 M571.8,257.9 571.6,258.2 572.7,257.5 572.5,258.0 572.4,259.2 574.0,258.9 573.3,260.3 574.8,262.3 574.2,262.7 574.8,264.6 574.6,265.1 574.0,266.5 574.8,266.2 574.4,265.9 575.1,267.2 575.4,268.6 576.5,269.1 576.5,270.6 576.6,272.3 576.6,272.8 576.4,273.1 576.1,276.0 577.5,275.3 578.0,275.4 578.3,276.5 576.9,276.4 577.1,277.7 577.5,278.3 577.0,278.6 575.9,280.2 575.6,281.4 M559.4,261.6 560.0,261.1 559.8,263.6 560.0,264.7 559.9,266.2 561.1,267.3 560.6,267.9 560.0,268.5 558.8,269.2 559.6,269.5 560.5,270.1 561.9,270.5 561.4,271.3 563.8,271.2 563.1,272.1 M599.1,239.5 599.7,240.8 599.7,241.1 600.2,241.5 599.2,242.6 598.7,243.3 599.5,243.5 599.6,244.8 599.8,246.2 601.0,246.1 599.9,248.0 601.0,249.3 601.6,250.4 600.2,250.0 600.2,250.4 600.5,251.8 600.8,252.1 601.5,253.3 601.0,254.4 601.7,254.6 600.3,256.6 601.1,257.1 601.9,256.5 603.7,257.3 602.9,256.4 604.4,255.1 604.9,254.7 605.5,253.4 605.9,253.7 606.1,252.4 604.9,250.8 606.3,251.0 605.7,250.5 606.4,249.8 606.2,249.0 606.0,247.6 606.7,247.5 606.9,247.6 605.3,246.3 604.7,244.5 604.3,243.9 604.0,243.8 603.3,242.8 603.1,242.2 601.9,241.8 601.3,241.3 600.7,240.0 600.3,239.9 599.8,240.5 M600.4,247.4 601.1,248.2 600.2,249.5 600.3,250.4 601.1,250.9 601.2,250.6 601.4,250.8 601.3,251.9 601.7,253.1 602.4,254.5 601.6,254.6 M605.9,250.0 607.3,250.4 607.5,251.1 606.9,252.5 607.1,253.3 607.0,254.4 608.8,254.5 608.8,256.4 608.8,257.5 609.5,258.2 608.9,258.0 608.4,258.3 608.2,259.7 609.2,260.9 608.9,262.2 609.6,263.7 610.0,264.0 610.3,265.2 610.6,265.9 611.3,265.7 611.0,267.0 611.4,268.3 610.9,269.1 611.5,270.0 611.8,270.5 611.1,270.4 610.6,271.0 611.0,271.7 612.6,272.3 613.1,273.6 613.2,273.5 613.8,275.0 613.4,276.4 613.5,277.9 613.0,277.9 M613.7,252.8 614.8,253.7 615.3,255.5 616.0,255.9 616.5,256.4 616.3,255.7 616.1,257.2 616.3,258.9 617.2,259.8 617.9,261.3 617.3,260.7 617.3,261.9 618.4,262.2 618.0,262.8 619.0,262.8 619.6,263.2 618.5,265.6 617.8,266.1 618.5,267.1 618.2,266.3 618.5,266.8 618.6,268.1 618.3,269.1 619.4,270.0 618.8,271.4 619.5,272.9 619.5,273.3 619.7,274.3 619.5,276.4 620.1,275.9 M623.3,260.7 622.9,261.8 623.3,263.4 624.3,265.0 625.5,265.7 624.8,267.0 623.9,267.3 625.3,267.9 624.8,268.7 624.6,269.5 624.9,270.2 624.7,271.0 624.0,271.9 623.7,272.3 624.7,273.3 625.2,274.1 625.3,275.1 625.1,275.7 624.6,276.1 624.0,277.7 624.3,278.7 624.1,279.5 624.7,279.7 624.0,280.5 624.6,280.5 626.3,281.6 626.8,282.1 627.2,283.6 627.8,285.4 627.6,286.0 626.7,286.4 626.2,287.0 625.4,288.6 625.7,289.4 624.6,288.7 625.4,290.2 625.3,290.9 624.4,292.9 M628.8,259.6 629.2,260.2 629.2,262.0 628.8,262.2 628.1,261.7 629.3,263.1 628.8,262.5 630.6,263.0 630.4,264.6 629.7,265.2 629.7,265.2 629.1,267.5 629.7,267.7 629.2,270.0 628.4,271.3 628.7,271.2 627.5,271.6 628.6,271.8 628.6,273.1 628.7,275.0 628.0,276.5 627.9,277.8 628.6,277.7 629.4,277.8 629.8,277.5 630.0,279.7 630.6,280.8 630.1,281.1 630.1,281.5 631.3,283.1 631.7,282.5 631.9,282.9 632.4,284.8 632.2,285.9 631.8,286.1 631.3,287.0 631.6,288.2 631.8,289.2 631.6,289.8 630.2,289.9 631.0,290.4 630.9,291.5 631.0,292.7 632.5,294.0 631.9,294.6 633.0,295.8 632.2,296.2 M632.4,261.2 632.6,261.3 633.2,263.3 632.8,263.4 633.8,263.7 634.2,265.5 634.6,266.7 634.5,268.0 635.2,268.1 636.0,269.4 635.1,269.8 634.6,270.4 635.4,271.7 634.8,272.6 635.2,273.3 635.1,273.3 635.4,273.9 635.2,275.9 634.7,275.8 634.9,277.4 635.1,277.9 635.6,278.1 634.7,279.4 635.9,280.7 635.4,281.7 636.3,282.5 636.1,283.2 636.1,283.2 636.4,283.7 636.8,283.8 636.6,285.0 636.6,285.1 636.1,287.1 636.3,288.6 636.9,289.4 637.8,290.3 637.8,290.7 638.7,291.2 638.8,292.0 638.6,292.6 639.5,293.3 M637.9,264.0 638.6,264.7 638.4,265.2 638.0,266.9 638.9,267.3 639.1,268.3 638.7,269.0 639.4,269.8 638.8,270.1 638.8,270.2 639.3,271.7 639.6,271.9 639.9,272.9 641.1,274.6 641.5,275.8 641.2,275.6 641.3,276.5 641.0,277.3 641.2,277.8 642.0,278.5 642.3,280.3 642.8,281.8 643.1,282.4 642.4,282.4 641.9,284.2 641.3,284.4 641.8,284.8 641.1,285.9 641.4,286.0 641.2,286.5 642.3,287.9 642.0,289.2 641.9,290.4 640.8,291.4 641.2,291.7 642.9,293.6 643.6,294.4 643.6,295.1 M625.1,267.6 625.9,267.6 626.9,268.3 627.4,267.8 629.8,267.4 630.7,267.2 630.4,266.6 631.2,266.7 631.4,267.0 633.5,266.2 634.5,266.8 635.7,267.2 635.7,266.9 636.8,267.7 637.8,268.9 638.6,267.6 637.8,267.4 638.7,267.2 640.5,266.8 641.6,266.6 641.4,266.5 642.2,266.6 643.4,267.2 M621.6,260.6 622.8,260.0 624.8,259.6 625.3,259.1 625.9,258.3 626.9,258.9 627.1,259.6 627.6,257.9 628.4,257.7 629.6,257.2 630.3,256.9 630.8,257.3 631.4,258.7 632.1,259.1 632.0,260.5 632.2,261.6 633.0,262.2 633.9,260.4 634.4,259.5 635.6,259.0 636.6,258.3 636.6,258.8 636.4,258.2 637.0,258.6 638.1,260.7 638.5,261.5 638.6,262.2 640.2,262.7 640.7,262.3 641.1,263.7 640.9,263.7 643.1,262.2 643.6,262.5 M617.5,257.2 618.1,257.3 618.1,257.6 618.0,260.0 618.5,260.0 619.9,261.4 620.9,262.6 621.6,262.9 622.2,263.6 621.9,265.0 621.0,265.3 620.5,265.9 620.5,267.1 620.7,267.7"/>
<path d="M538.5,251.6 538.4,252.7 538.7,252.7 538.3,253.5 537.7,254.2 537.8,255.3 537.7,256.7 537.6,255.8 538.4,257.2 537.7,258.8 537.7,260.0 537.1,261.2 536.1,262.9 535.7,263.3 536.5,264.2 537.0,265.2 535.3,265.7 536.4,266.2 538.1,266.5 538.3,266.4 538.7,266.9 537.6,269.9 538.2,270.6 538.1,270.5 537.3,271.9 536.1,273.0 535.6,273.9 536.1,275.8 537.9,275.8 537.4,276.0 538.4,276.4 539.3,278.1 539.8,278.6 540.8,279.3 541.6,280.1 542.8,280.9 542.0,282.0 541.9,282.3 542.4,283.9 541.6,284.5 542.6,285.1 544.0,285.0 545.0,285.8 545.4,286.6 545.6,287.2 M535.9,262.0 536.2,262.4 536.7,263.4 537.7,263.6 539.4,262.8 539.0,265.1 538.2,265.8 537.6,267.5 538.0,267.4 537.5,268.3 537.6,269.2 537.0,271.1 536.9,272.0 536.7,272.5 536.1,272.8 536.7,273.5 538.9,273.2 537.7,274.9 M542.5,270.2 543.0,269.5 544.4,269.7 544.8,269.3 544.8,269.5 546.0,270.1 547.0,270.6 548.9,272.1 548.0,274.0 549.3,274.7 548.5,274.4 549.1,272.8 550.1,272.9 551.0,271.9 551.9,270.1 552.3,271.7 553.2,272.0 554.0,273.2 554.5,274.3 555.7,274.9 555.9,274.9 555.7,275.8 557.4,276.0 557.2,276.4 558.1,278.0 558.7,279.2 557.4,279.3 557.0,280.7 555.5,281.4 554.8,280.5 552.9,279.9 552.6,278.6 551.5,278.2 550.5,278.4 550.4,279.1 549.9,278.6 549.5,277.7 548.2,278.2 546.7,278.7 546.2,278.1 547.6,278.6 546.0,279.4 545.4,279.0 545.0,278.4 544.0,277.1 542.5,276.5 543.2,276.4 543.2,278.1 543.3,278.0 542.5,279.3 543.6,278.9 542.7,279.3 541.5,281.0 541.6,282.6 542.0,283.6 542.1,283.6 543.7,283.0 544.4,283.1 544.4,284.6 M546.5,255.0 547.6,256.9 546.9,256.8 546.8,257.3 547.4,257.4 548.1,257.7 548.9,258.5 549.4,260.1 549.6,260.7 549.5,261.1 551.0,262.7 552.3,263.9 552.3,264.3 552.1,264.3 552.9,266.1 553.8,267.9 553.3,266.7 554.5,268.0 553.2,268.3 553.4,270.5 553.1,270.5 553.1,272.0 551.6,272.9 550.3,272.1 550.2,271.4 548.5,271.0 547.3,270.7 M558.1,275.8 558.1,275.3 559.7,274.8 559.6,274.8 559.7,275.3 561.7,273.9 564.1,275.1 563.3,275.1 563.2,275.4 564.6,275.7 566.7,278.2 566.7,278.5 566.0,278.0 566.9,277.1 567.9,276.8 570.1,276.1 570.4,275.1 570.8,277.3 571.0,276.6 570.0,276.2 571.3,277.8 572.9,278.2 573.4,279.2 573.4,279.9 574.4,280.0 575.9,280.9 576.8,281.1 576.4,282.6 576.5,283.1 577.3,284.2 576.2,285.3 576.0,286.8 574.2,286.6 573.3,287.1 572.7,286.1 572.3,285.4 570.8,285.3 569.8,285.6 568.7,285.9 568.7,284.9 568.5,285.1 567.0,286.6 566.8,286.1 565.6,286.2 564.8,288.0 564.4,287.6 564.8,287.8 563.6,287.2 563.0,286.9 562.2,286.8 561.8,287.0 560.6,286.0 560.2,286.2 559.4,285.3 559.2,283.6 559.3,283.1 558.6,282.0 557.8,280.9 559.1,280.0 559.4,280.3 560.3,279.9 560.4,279.5 561.6,279.3 561.1,280.0 563.2,280.5 564.4,280.5 564.4,281.4 565.2,281.7 566.8,282.9 566.1,283.3 567.7,283.5 568.6,283.2 569.3,280.2 571.2,280.5 572.3,281.2 572.5,280.5 572.1,281.3 572.2,281.2 572.6,282.1 573.7,283.2 573.8,284.2 574.2,284.1 574.5,284.6 M567.1,255.2 567.8,255.7 568.3,256.2 567.2,256.2 567.7,257.6 567.6,258.7 567.1,259.6 567.5,260.7 566.2,262.1 567.2,262.6 568.2,262.6 568.4,263.8 568.4,264.6 569.7,265.1 569.9,265.1 570.5,266.2 571.1,267.3 570.1,268.6 571.8,269.2 570.9,270.0 569.4,270.0 568.5,270.4 568.0,271.8 569.3,273.0 568.3,273.6 568.1,275.1 566.9,274.2 565.9,275.7 M580.9,254.2 580.8,253.4 580.7,255.2 580.7,256.7 582.3,255.8 583.6,256.6 583.6,258.2 583.9,259.0 583.9,260.8 583.8,261.3 583.2,262.5 583.5,263.1 583.4,264.1 583.6,264.8 584.4,265.5 584.0,266.7 583.6,267.0 583.9,267.3 583.6,268.2 583.7,268.5 583.4,271.1 583.5,271.2 583.1,271.4 583.4,272.7 M573.9,257.1 573.4,257.8 574.1,259.2 574.3,260.2 574.4,261.0 574.3,261.5 574.1,261.9 575.2,262.3 575.4,262.5 575.5,262.4 576.0,264.0 575.8,265.8 576.2,267.7 576.5,268.0 577.3,269.8 577.3,270.2 577.6,270.3 578.2,271.1 578.1,272.3 577.3,273.8 578.8,273.5 577.0,274.2 577.1,274.2 576.9,274.6 577.8,275.5 579.0,276.1 578.2,276.9 577.1,279.5 576.5,280.1 576.9,280.5 576.0,281.2 M559.5,260.7 561.4,262.2 561.4,263.1 561.9,263.1 562.5,265.9 562.0,266.9 561.2,266.6 561.2,267.0 560.7,268.1 560.6,269.7 561.1,270.5 561.6,270.7 561.8,271.6 562.3,272.0 563.2,273.8 M600.3,239.7 600.4,239.9 601.1,240.9 600.6,242.1 599.1,243.7 600.2,244.2 600.5,244.5 600.0,245.1 600.3,246.8 600.4,246.5 600.4,247.9 601.9,248.9 600.8,249.6 600.5,250.6 600.8,253.0 600.2,253.7 601.2,253.6 601.1,254.4 601.1,255.3 601.2,256.2 600.7,257.4 601.1,257.5 601.7,257.2 603.3,257.0 603.6,255.9 604.5,255.4 606.2,254.6 606.6,253.9 607.4,252.6 606.1,251.5 607.3,251.7 607.6,251.2 608.2,249.9 606.8,248.8 605.7,248.4 606.7,247.3 605.8,247.3 605.8,246.3 606.1,244.9 606.7,244.4 607.1,243.6 606.0,242.7 605.2,241.6 604.2,241.8 603.7,241.9 603.2,241.0 601.5,240.8 600.1,239.9 599.6,240.0 M601.1,246.8 602.5,246.8 601.9,248.9 603.2,249.1 604.6,250.2 603.7,251.9 603.7,252.9 602.7,253.7 603.0,252.8 603.7,252.7 603.1,253.5 M608.0,249.0 608.1,250.1 608.7,251.3 608.9,251.3 610.0,251.9 609.0,253.4 610.0,255.2 610.3,256.0 609.4,257.0 609.6,258.2 610.1,259.1 610.1,259.5 611.4,259.4 612.1,260.3 612.0,261.8 611.3,262.0 611.0,262.8 611.2,263.2 611.3,263.9 611.4,265.4 611.7,267.1 612.5,267.0 611.3,267.7 611.3,268.9 611.9,271.2 612.8,270.9 611.7,272.1 611.6,271.9 612.1,271.8 613.1,272.8 612.6,273.4 611.5,274.1 612.5,276.3 614.9,277.6 615.0,278.2 M614.0,251.3 615.1,252.6 614.7,254.2 615.2,255.7 616.0,255.9 617.3,257.0 617.7,257.7 617.1,257.7 617.3,258.7 617.6,259.4 617.9,260.1 617.8,262.1 619.2,263.4 620.5,264.5 620.4,265.3 620.1,264.3 619.6,264.6 619.1,266.4 619.6,266.9 619.5,268.7 620.1,268.7 619.8,269.2 619.6,269.7 619.6,270.1 620.2,272.0 620.5,273.1 619.7,274.2 620.5,274.9 620.8,275.9 621.8,277.2 M624.0,261.2 624.4,262.3 623.3,262.6 624.2,263.6 625.0,264.7 625.2,266.0 626.3,266.2 627.1,267.1 626.6,267.3 626.4,268.8 627.0,270.0 626.9,270.6 625.3,270.9 625.5,271.1 624.5,272.5 623.5,273.4 623.4,274.8 623.7,275.7 624.3,277.2 624.3,277.8 622.7,278.2 623.9,278.4 623.9,279.3 624.0,280.1 624.1,279.7 624.6,281.2 625.5,281.5 625.4,282.9 625.9,284.6 626.7,284.7 626.8,285.7 625.8,286.9 626.2,287.8 626.4,287.8 625.8,288.8 626.0,288.8 625.1,290.3 624.9,291.6 M628.7,259.4 629.8,259.7 629.1,261.5 630.5,261.2 629.2,261.2 630.0,261.8 630.8,263.1 630.3,264.8 631.2,265.9 631.6,267.5 632.5,268.8 632.9,269.4 631.3,271.1 631.1,270.2 631.2,271.0 631.9,271.7 631.5,271.3 630.5,273.0 629.4,273.5 629.3,273.9 629.4,274.0 629.5,275.0 629.2,275.4 630.1,277.6 630.3,279.0 629.7,279.0 630.8,280.9 631.2,281.0 631.4,280.9 631.3,282.5 631.5,282.6 632.2,283.8 632.5,284.2 632.1,285.9 632.7,285.9 632.5,287.0 633.2,288.0 633.4,288.6 632.7,288.0 632.7,289.9 632.1,289.5 632.9,290.4 633.1,291.6 632.5,291.9 633.4,293.6 634.3,294.5 633.7,294.5 M633.5,261.9 634.2,262.8 634.9,264.1 633.5,265.1 635.2,265.3 635.4,265.2 635.8,267.0 635.0,267.8 634.5,268.3 634.1,269.2 634.9,270.5 635.6,270.3 635.9,272.3 634.5,272.6 634.7,274.4 635.8,274.6 635.9,274.0 635.2,275.5 634.9,275.8 634.6,277.4 633.9,277.7 635.8,277.8 635.3,278.1 635.6,279.1 636.7,279.5 637.1,280.8 636.7,282.5 636.7,282.8 637.3,283.8 638.6,284.1 638.4,285.6 638.9,285.2 638.0,287.8 638.4,287.7 638.6,288.8 639.7,289.2 640.0,290.2 640.7,290.3 640.0,291.2 640.0,294.0 640.2,295.2 M638.1,264.6 638.5,264.6 639.0,265.6 639.2,266.5 640.0,267.8 638.9,268.5 639.6,269.3 640.4,270.3 641.2,271.6 639.2,270.9 639.6,273.3 639.8,274.5 640.7,274.2 641.1,274.8 641.0,274.9 641.4,275.7 642.7,276.8 642.2,279.3 642.3,279.1 642.8,278.6 641.5,279.2 642.8,279.7 643.1,280.1 642.3,281.4 641.7,282.5 641.5,284.4 641.9,284.8 642.6,286.0 642.0,286.5 642.0,286.9 642.8,287.8 643.5,288.7 642.7,289.2 643.8,289.7 644.2,291.0 643.2,291.1 643.0,292.3 643.5,293.2 M625.5,268.6 625.9,268.5 626.2,267.9 627.7,266.7 628.3,265.7 628.4,264.8 629.2,264.1 631.2,265.1 631.9,266.2 633.9,266.9 634.5,265.4 634.4,267.0 635.9,266.6 636.8,267.6 637.8,267.6 638.9,267.0 640.1,267.4 639.6,267.1 640.0,267.9 641.7,266.9 642.9,267.4 643.6,266.5 643.3,266.1 M622.5,259.4 623.4,259.0 624.0,257.9 624.9,258.3 625.4,257.1 626.3,256.3 627.1,257.2 628.2,257.9 629.6,257.6 630.5,257.9 631.2,257.7 631.3,257.9 632.2,258.5 632.3,259.9 632.9,260.2 632.7,259.7 633.9,260.8 633.5,261.0 634.2,259.5 635.2,259.3 636.9,259.6 636.9,258.4 637.5,260.1 638.5,259.1 639.0,259.3 639.7,258.9 639.9,260.6 640.7,261.7 640.3,261.9 642.0,262.1 642.9,261.2 643.1,261.6 645.1,261.0 M617.6,259.2 618.1,260.2 618.1,259.6 617.6,260.2 619.4,261.7 619.0,261.9 619.8,262.6 620.2,262.7 621.0,263.3 620.3,266.0 620.9,266.6 620.4,267.5 622.1,268.2 621.9,267.8"/>
</g>
<g fill="none" stroke-linejoin="round" stroke-linecap="round">
<path d="M542.8,276.4 543.1,277.2 544.1,277.0" stroke="#ff8c8c" stroke-width="2.0"/>
<path d="M544.1,277.0 546.0,276.5 546.2,276.4" stroke="#ffa0a0" stroke-width="2.0"/>
<path d="M546.2,276.4 547.2,275.7 547.8,274.4" stroke="#ff6e6e" stroke-width="2.0"/>
<path d="M547.8,274.4 547.9,274.1 547.2,273.0" stroke="#ff6e6e" stroke-width="2.0"/>
<path d="M547.2,273.0 546.7,272.6 546.7,272.0" stroke="#3a3aff" stroke-width="1.3"/>
<path d="M546.7,272.0 546.7,271.0 546.7,270.6" stroke="#8080ff" stroke-width="1.3"/>
<path d="M546.7,270.6 546.8,269.7 546.5,268.5" stroke="#3a3aff" stroke-width="1.3"/>
<path d="M546.5,268.5 546.2,267.5 545.7,267.7" stroke="#3a3aff" stroke-width="1.3"/>
<path d="M545.7,267.7 545.3,267.3 545.7,266.4" stroke="#5050ff" stroke-width="1.3"/>
<path d="M545.7,266.4 546.0,265.9 546.2,265.0" stroke="#8080ff" stroke-width="1.3"/>
<path d="M546.2,265.0 545.9,264.0 545.6,263.4" stroke="#ffa8a8" stroke-width="1.3"/>
<path d="M545.6,263.4 545.5,263.0 545.1,261.8" stroke="#5050ff" stroke-width="1.3"/>
<path d="M545.1,261.8 545.2,260.5 546.1,259.3" stroke="#5050ff" stroke-width="1.3"/>
<path d="M546.1,259.3 545.9,259.0 546.4,258.0" stroke="#3a3aff" stroke-width="1.3"/>
<path d="M546.4,258.0 546.6,257.5 546.3,257.0" stroke="#8080ff" stroke-width="1.3"/>
<path d="M546.3,257.0 546.4,256.2 546.3,255.9" stroke="#3a3aff" stroke-width="1.3"/>
<path d="M546.3,255.9 546.8,254.5 547.6,255.8" stroke="#5050ff" stroke-width="1.3"/>
<path d="M547.6,255.8 547.8,256.5 547.8,257.7" stroke="#8080ff" stroke-width="1.3"/>
<path d="M547.8,257.7 548.2,258.1 548.4,258.7" stroke="#6464ff" stroke-width="1.3"/>
<path d="M548.4,258.7 548.6,259.0 549.5,259.2" stroke="#8080ff" stroke-width="1.3"/>
<path d="M549.5,259.2 548.5,260.2 549.1,261.2" stroke="#3a3aff" stroke-width="1.3"/>
<path d="M549.1,261.2 549.5,261.9 549.9,262.9" stroke="#3a3aff" stroke-width="1.3"/>
<path d="M549.9,262.9 550.1,263.3 551.0,264.2" stroke="#3a3aff" stroke-width="1.3"/>
<path d="M551.0,264.2 550.5,266.5 551.4,266.0" stroke="#8080ff" stroke-width="1.3"/>
<path d="M551.4,266.0 550.8,266.6 550.9,266.3" stroke="#ff4a4a" stroke-width="2.0"/>
<path d="M550.9,266.3 550.8,266.9 552.3,266.2" stroke="#ff3030" stroke-width="2.0"/>
<path d="M552.3,266.2 551.7,266.3 552.4,266.2" stroke="#ff4a4a" stroke-width="2.0"/>
<path d="M552.4,266.2 553.2,265.2 553.4,264.4" stroke="#ff8c8c" stroke-width="2.0"/>
<path d="M553.4,264.4 553.4,264.0 554.2,263.2" stroke="#3a3aff" stroke-width="1.3"/>
<path d="M554.2,263.2 554.5,262.4 554.6,261.6" stroke="#ff8c8c" stroke-width="1.3"/>
<path d="M554.6,261.6 555.0,260.8 555.4,259.8" stroke="#5050ff" stroke-width="1.3"/>
<path d="M555.4,259.8 556.0,259.6 556.5,258.6" stroke="#5050ff" stroke-width="1.3"/>
<path d="M556.5,258.6 557.5,259.0 558.2,258.5" stroke="#3a3aff" stroke-width="1.3"/>
<path d="M558.2,258.5 558.8,259.4 559.3,260.3" stroke="#3a3aff" stroke-width="1.3"/>
<path d="M559.3,260.3 560.0,261.0 560.8,261.2" stroke="#8080ff" stroke-width="1.3"/>
<path d="M560.8,261.2 560.7,261.5 561.1,262.5" stroke="#5050ff" stroke-width="1.3"/>
<path d="M561.1,262.5 561.6,262.9 562.0,263.9" stroke="#8080ff" stroke-width="1.3"/>
<path d="M562.0,263.9 562.2,264.3 562.4,265.3" stroke="#3a3aff" stroke-width="1.3"/>
<path d="M562.4,265.3 562.9,265.5 563.3,266.1" stroke="#5050ff" stroke-width="1.3"/>
<path d="M563.3,266.1 563.3,267.4 563.9,267.7" stroke="#3a3aff" stroke-width="1.3"/>
<path d="M563.9,267.7 564.1,268.6 564.5,269.0" stroke="#5050ff" stroke-width="1.3"/>
<path d="M564.5,269.0 565.4,268.9 566.0,269.9" stroke="#3a3aff" stroke-width="1.3"/>
<path d="M566.0,269.9 566.7,270.0 567.3,269.6" stroke="#8080ff" stroke-width="1.3"/>
<path d="M567.3,269.6 568.0,269.6 568.7,268.8" stroke="#ff8c8c" stroke-width="1.3"/>
<path d="M568.7,268.8 568.8,269.3 568.9,269.0" stroke="#ff4a4a" stroke-width="2.0"/>
<path d="M568.9,269.0 570.0,268.1 571.9,267.6" stroke="#ffa0a0" stroke-width="2.0"/>
<path d="M571.9,267.6 573.1,265.6 572.0,266.1" stroke="#ffa0a0" stroke-width="2.0"/>
<path d="M572.0,266.1 571.7,266.6 570.8,266.1" stroke="#6464ff" stroke-width="1.3"/>
<path d="M570.8,266.1 569.8,266.7 569.3,268.6" stroke="#ffa0a0" stroke-width="2.0"/>
<path d="M569.3,268.6 568.9,269.6 568.0,269.8" stroke="#ffa0a0" stroke-width="2.0"/>
<path d="M568.0,269.8 567.4,270.1 567.0,270.3" stroke="#3a3aff" stroke-width="1.3"/>
<path d="M567.0,270.3 566.7,270.5 566.2,269.9" stroke="#3a3aff" stroke-width="1.3"/>
<path d="M566.2,269.9 565.8,269.7 565.1,269.6" stroke="#6464ff" stroke-width="1.3"/>
<path d="M565.1,269.6 564.1,268.7 563.0,268.8" stroke="#8080ff" stroke-width="1.3"/>
<path d="M563.0,268.8 562.5,267.9 562.4,268.0" stroke="#3a3aff" stroke-width="1.3"/>
<path d="M562.4,268.0 561.7,267.2 561.5,266.5" stroke="#6464ff" stroke-width="1.3"/>
<path d="M561.5,266.5 560.9,265.6 561.2,265.5" stroke="#3a3aff" stroke-width="1.3"/>
<path d="M561.2,265.5 561.3,264.3 560.9,263.6" stroke="#8080ff" stroke-width="1.3"/>
<path d="M560.9,263.6 560.1,262.5 560.1,262.2" stroke="#3a3aff" stroke-width="1.3"/>
<path d="M560.1,262.2 559.7,262.1 559.0,261.5" stroke="#6464ff" stroke-width="1.3"/>
<path d="M559.0,261.5 558.8,260.7 558.3,260.9" stroke="#3a3aff" stroke-width="1.3"/>
<path d="M558.3,260.9 557.5,261.1 557.2,261.1" stroke="#8080ff" stroke-width="1.3"/>
<path d="M557.2,261.1 556.4,261.5 555.2,261.9" stroke="#5050ff" stroke-width="1.3"/>
<path d="M555.2,261.9 554.6,262.8 554.0,263.0" stroke="#3a3aff" stroke-width="1.3"/>
<path d="M554.0,263.0 553.9,263.9 553.9,264.7" stroke="#5050ff" stroke-width="1.3"/>
<path d="M553.9,264.7 553.4,264.8 553.4,265.7" stroke="#8080ff" stroke-width="1.3"/>
<path d="M553.4,265.7 552.3,267.0 552.2,266.6" stroke="#ffa0a0" stroke-width="2.0"/>
<path d="M552.2,266.6 552.2,266.4 551.9,267.9" stroke="#ff6e6e" stroke-width="2.0"/>
<path d="M551.9,267.9 551.9,268.7 552.2,269.8" stroke="#ffa0a0" stroke-width="2.0"/>
<path d="M552.2,269.8 552.6,270.4 552.7,271.0" stroke="#6464ff" stroke-width="1.3"/>
<path d="M552.7,271.0 553.6,271.8 553.5,272.7" stroke="#6464ff" stroke-width="1.3"/>
<path d="M553.5,272.7 554.3,273.0 555.0,273.3" stroke="#5050ff" stroke-width="1.3"/>
<path d="M555.0,273.3 555.1,274.4 555.7,275.4" stroke="#5050ff" stroke-width="1.3"/>
<path d="M555.7,275.4 555.4,275.2 555.7,275.7" stroke="#ff7070" stroke-width="1.3"/>
<path d="M555.7,275.7 555.8,276.3 556.6,278.0" stroke="#3a3aff" stroke-width="1.3"/>
<path d="M556.6,278.0 556.7,278.8 556.6,279.3" stroke="#ff3030" stroke-width="2.0"/>
<path d="M556.6,279.3 556.6,280.3 556.6,280.7" stroke="#ff8c8c" stroke-width="2.0"/>
<path d="M556.6,280.7 556.8,281.7 556.8,282.9" stroke="#ff4a4a" stroke-width="2.0"/>
<path d="M556.8,282.9 556.1,282.9 556.3,283.7" stroke="#ffa8a8" stroke-width="1.3"/>
<path d="M556.3,283.7 556.2,284.5 556.2,285.1" stroke="#6464ff" stroke-width="1.3"/>
<path d="M556.2,285.1 556.1,285.8 556.1,285.2" stroke="#8080ff" stroke-width="1.3"/>
<path d="M556.1,285.2 556.7,287.1 556.2,287.5" stroke="#ffa0a0" stroke-width="2.0"/>
<path d="M556.2,287.5 557.3,288.7 558.3,289.8" stroke="#ff6e6e" stroke-width="2.0"/>
<path d="M558.3,289.8 559.2,289.3 559.9,289.6" stroke="#3a3aff" stroke-width="1.3"/>
<path d="M559.9,289.6 560.7,289.9 561.9,290.7" stroke="#ffa8a8" stroke-width="1.3"/>
<path d="M561.9,290.7 562.9,291.0 563.0,291.1" stroke="#ff3030" stroke-width="2.0"/>
<path d="M563.0,291.1 562.9,290.7 563.4,290.4" stroke="#ff3030" stroke-width="2.0"/>
<path d="M563.4,290.4 563.4,291.0 564.9,291.0" stroke="#ff8c8c" stroke-width="2.0"/>
<path d="M564.9,291.0 566.2,291.5 567.2,291.5" stroke="#ff8c8c" stroke-width="2.0"/>
<path d="M567.2,291.5 567.3,292.1 568.2,292.5" stroke="#8080ff" stroke-width="1.3"/>
<path d="M568.2,292.5 569.1,293.1 569.7,292.9" stroke="#5050ff" stroke-width="1.3"/>
<path d="M569.7,292.9 570.2,291.8 571.0,292.4" stroke="#6464ff" stroke-width="1.3"/>
<path d="M571.0,292.4 570.8,292.9 571.5,291.7" stroke="#ff7070" stroke-width="1.3"/>
<path d="M571.5,291.7 572.5,291.3 572.6,290.7" stroke="#ff8c8c" stroke-width="2.0"/>
<path d="M572.6,290.7 573.8,290.7 573.6,292.3" stroke="#ff6e6e" stroke-width="2.0"/>
<path d="M573.6,292.3 575.1,294.1 574.1,293.8" stroke="#ff3030" stroke-width="2.0"/>
<path d="M574.1,293.8 573.3,294.1 574.4,293.5" stroke="#ff3030" stroke-width="2.0"/>
<path d="M574.4,293.5 573.7,294.5 574.8,294.7" stroke="#ff6e6e" stroke-width="2.0"/>
<path d="M574.8,294.7 575.0,294.8 574.5,294.8" stroke="#ffa0a0" stroke-width="2.0"/>
<path d="M574.5,294.8 574.6,295.4 573.9,292.7" stroke="#ff4a4a" stroke-width="2.0"/>
<path d="M573.9,292.7 574.3,292.1 574.4,292.4" stroke="#ff4a4a" stroke-width="2.0"/>
<path d="M574.4,292.4 574.6,292.7 575.0,290.4" stroke="#ff3030" stroke-width="2.0"/>
<path d="M575.0,290.4 574.6,291.4 574.1,290.8" stroke="#ff4a4a" stroke-width="2.0"/>
<path d="M574.1,290.8 574.1,289.2 575.1,289.1" stroke="#ff4a4a" stroke-width="2.0"/>
<path d="M575.1,289.1 574.5,288.6 574.0,287.1" stroke="#ff3030" stroke-width="2.0"/>
<path d="M574.0,287.1 574.4,286.2 574.1,285.5" stroke="#8080ff" stroke-width="1.3"/>
<path d="M574.1,285.5 574.3,285.1 574.6,284.0" stroke="#8080ff" stroke-width="1.3"/>
<path d="M574.6,284.0 574.5,283.2 574.5,282.9" stroke="#8080ff" stroke-width="1.3"/>
<path d="M574.5,282.9 575.0,282.4 575.0,281.3" stroke="#6464ff" stroke-width="1.3"/>
<path d="M575.0,281.3 575.2,280.3 575.2,279.0" stroke="#3a3aff" stroke-width="1.3"/>
<path d="M575.2,279.0 575.0,279.0 574.8,277.7" stroke="#8080ff" stroke-width="1.3"/>
<path d="M574.8,277.7 574.9,277.8 575.5,276.8" stroke="#3a3aff" stroke-width="1.3"/>
<path d="M575.5,276.8 575.5,276.0 575.4,275.3" stroke="#ff7070" stroke-width="1.3"/>
<path d="M575.4,275.3 575.7,274.1 575.8,273.5" stroke="#6464ff" stroke-width="1.3"/>
<path d="M575.8,273.5 575.9,272.6 576.6,272.8" stroke="#5050ff" stroke-width="1.3"/>
<path d="M576.6,272.8 576.7,271.8 577.1,271.0" stroke="#ff8c8c" stroke-width="1.3"/>
<path d="M577.1,271.0 577.1,270.8 576.8,269.4" stroke="#8080ff" stroke-width="1.3"/>
<path d="M576.8,269.4 576.9,268.2 577.7,268.4" stroke="#ff8c8c" stroke-width="2.0"/>
<path d="M577.7,268.4 579.4,268.4 579.8,267.2" stroke="#ff3030" stroke-width="2.0"/>
<path d="M579.8,267.2 580.0,267.7 580.2,268.9" stroke="#3a3aff" stroke-width="1.3"/>
<path d="M580.2,268.9 580.5,269.4 580.6,270.1" stroke="#3a3aff" stroke-width="1.3"/>
<path d="M580.6,270.1 581.0,270.5 581.2,271.6" stroke="#8080ff" stroke-width="1.3"/>
<path d="M581.2,271.6 581.1,272.0 581.4,273.3" stroke="#8080ff" stroke-width="1.3"/>
<path d="M581.4,273.3 581.9,274.0 582.1,274.6" stroke="#ff8c8c" stroke-width="1.3"/>
<path d="M582.1,274.6 582.3,274.6 582.4,275.7" stroke="#3a3aff" stroke-width="1.3"/>
<path d="M582.4,275.7 582.0,276.7 582.4,276.7" stroke="#8080ff" stroke-width="1.3"/>
<path d="M582.4,276.7 582.3,277.5 582.3,278.5" stroke="#3a3aff" stroke-width="1.3"/>
<path d="M582.3,278.5 581.7,279.1 582.3,280.4" stroke="#3a3aff" stroke-width="1.3"/>
<path d="M582.3,280.4 582.6,280.7 583.1,280.0" stroke="#ffa0a0" stroke-width="2.0"/>
<path d="M583.1,280.0 584.0,281.0 583.7,281.9" stroke="#ff4a4a" stroke-width="2.0"/>
<path d="M583.7,281.9 583.6,282.1 584.1,282.9" stroke="#3a3aff" stroke-width="1.3"/>
<path d="M584.1,282.9 584.9,283.5 585.0,284.1" stroke="#8080ff" stroke-width="1.3"/>
<path d="M585.0,284.1 586.1,285.0 586.2,285.4" stroke="#8080ff" stroke-width="1.3"/>
<path d="M586.2,285.4 586.6,285.8 587.6,286.4" stroke="#3a3aff" stroke-width="1.3"/>
<path d="M587.6,286.4 588.7,286.5 589.1,286.3" stroke="#6464ff" stroke-width="1.3"/>
<path d="M589.1,286.3 589.2,286.1 590.3,286.3" stroke="#8080ff" stroke-width="1.3"/>
<path d="M590.3,286.3 591.4,285.6 592.6,286.1" stroke="#8080ff" stroke-width="1.3"/>
<path d="M592.6,286.1 593.1,286.4 593.0,285.9" stroke="#ff8c8c" stroke-width="2.0"/>
<path d="M593.0,285.9 593.7,286.3 594.6,285.7" stroke="#ff8c8c" stroke-width="1.3"/>
<path d="M594.6,285.7 595.7,285.0 596.7,284.4" stroke="#ff7070" stroke-width="1.3"/>
<path d="M596.7,284.4 597.1,283.8 597.9,282.8" stroke="#5050ff" stroke-width="1.3"/>
<path d="M597.9,282.8 598.8,282.2 599.3,281.4" stroke="#5050ff" stroke-width="1.3"/>
<path d="M599.3,281.4 599.3,281.5 599.5,281.3" stroke="#ff3030" stroke-width="2.0"/>
<path d="M599.5,281.3 599.7,281.4 599.2,279.5" stroke="#ff3030" stroke-width="2.0"/>
<path d="M599.2,279.5 598.4,279.5 598.5,279.5" stroke="#ff3030" stroke-width="2.0"/>
<path d="M598.5,279.5 598.8,278.0 599.3,277.9" stroke="#ff3030" stroke-width="2.0"/>
<path d="M599.3,277.9 599.2,276.5 599.0,276.1" stroke="#3a3aff" stroke-width="1.3"/>
<path d="M599.0,276.1 599.0,275.1 599.4,274.3" stroke="#3a3aff" stroke-width="1.3"/>
<path d="M599.4,274.3 599.5,273.3 599.3,272.7" stroke="#5050ff" stroke-width="1.3"/>
<path d="M599.3,272.7 599.5,272.2 599.5,271.5" stroke="#3a3aff" stroke-width="1.3"/>
<path d="M599.5,271.5 599.7,270.6 599.9,270.2" stroke="#6464ff" stroke-width="1.3"/>
<path d="M599.9,270.2 600.0,269.3 599.9,268.6" stroke="#ff7070" stroke-width="1.3"/>
<path d="M599.9,268.6 600.2,267.7 600.3,267.3" stroke="#8080ff" stroke-width="1.3"/>
<path d="M600.3,267.3 601.5,266.7 601.5,266.0" stroke="#3a3aff" stroke-width="1.3"/>
<path d="M601.5,266.0 601.5,265.3 601.8,265.6" stroke="#ff7070" stroke-width="1.3"/>
<path d="M601.8,265.6 602.3,266.4 602.8,266.8" stroke="#ff8c8c" stroke-width="1.3"/>
<path d="M602.8,266.8 603.3,267.2 604.2,267.8" stroke="#ffa8a8" stroke-width="1.3"/>
<path d="M604.2,267.8 604.4,269.3 604.7,268.9" stroke="#ff6e6e" stroke-width="2.0"/>
<path d="M604.7,268.9 604.5,270.2 603.9,269.3" stroke="#ffa0a0" stroke-width="2.0"/>
<path d="M603.9,269.3 604.3,270.8 604.7,272.0" stroke="#ff4a4a" stroke-width="2.0"/>
<path d="M604.7,272.0 605.0,273.0 605.5,273.9" stroke="#6464ff" stroke-width="1.3"/>
<path d="M605.5,273.9 605.6,274.5 605.9,275.2" stroke="#3a3aff" stroke-width="1.3"/>
<path d="M605.9,275.2 606.0,275.2 606.0,276.2" stroke="#ffa8a8" stroke-width="1.3"/>
<path d="M606.0,276.2 605.8,277.6 606.0,278.2" stroke="#ffa8a8" stroke-width="1.3"/>
<path d="M606.0,278.2 605.9,279.5 606.2,280.1" stroke="#ffa8a8" stroke-width="1.3"/>
<path d="M606.2,280.1 606.0,281.0 606.3,281.3" stroke="#ff8c8c" stroke-width="1.3"/>
<path d="M606.3,281.3 606.3,281.3 606.5,281.8" stroke="#8080ff" stroke-width="1.3"/>
<path d="M606.5,281.8 606.8,282.6 606.5,283.7" stroke="#6464ff" stroke-width="1.3"/>
<path d="M606.5,283.7 606.7,284.1 607.2,285.0" stroke="#6464ff" stroke-width="1.3"/>
<path d="M607.2,285.0 607.7,285.0 608.2,285.4" stroke="#ffa8a8" stroke-width="1.3"/>
<path d="M608.2,285.4 608.6,286.2 609.3,286.8" stroke="#3a3aff" stroke-width="1.3"/>
<path d="M609.3,286.8 608.9,287.6 609.4,288.1" stroke="#8080ff" stroke-width="1.3"/>
<path d="M609.4,288.1 610.0,290.3 609.5,289.4" stroke="#ff8c8c" stroke-width="2.0"/>
<path d="M609.5,289.4 610.3,290.1 610.9,290.8" stroke="#ffa0a0" stroke-width="2.0"/>
<path d="M610.9,290.8 610.8,292.2 611.2,293.1" stroke="#ffa8a8" stroke-width="1.3"/>
<path d="M611.2,293.1 610.9,293.6 610.1,294.1" stroke="#5050ff" stroke-width="1.3"/>
<path d="M610.1,294.1 610.6,295.3 609.9,296.0" stroke="#ff6e6e" stroke-width="2.0"/>
<path d="M609.9,296.0 609.8,297.2 609.1,297.3" stroke="#ff8c8c" stroke-width="2.0"/>
<path d="M609.1,297.3 608.7,299.5 608.3,300.1" stroke="#ff3030" stroke-width="2.0"/>
<path d="M608.3,300.1 606.7,300.2 605.6,299.1" stroke="#ff6e6e" stroke-width="2.0"/>
<path d="M605.6,299.1 605.2,299.3 605.2,300.0" stroke="#ff3030" stroke-width="2.0"/>
<path d="M605.2,300.0 605.0,300.0 606.0,300.8" stroke="#ff4a4a" stroke-width="2.0"/>
<path d="M606.0,300.8 605.2,302.6 604.6,301.9" stroke="#ff6e6e" stroke-width="2.0"/>
<path d="M604.6,301.9 603.5,302.4 601.8,300.4" stroke="#ffa0a0" stroke-width="2.0"/>
<path d="M601.8,300.4 601.3,298.4 600.2,299.5" stroke="#ff3030" stroke-width="2.0"/>
<path d="M600.2,299.5 599.5,299.2 599.7,297.7" stroke="#ff4a4a" stroke-width="2.0"/>
<path d="M599.7,297.7 599.3,297.0 598.1,296.7" stroke="#ff4a4a" stroke-width="2.0"/>
<path d="M598.1,296.7 597.9,296.3 597.4,296.3" stroke="#ff6e6e" stroke-width="2.0"/>
<path d="M597.4,296.3 597.5,295.9 596.9,294.5" stroke="#5050ff" stroke-width="1.3"/>
<path d="M596.9,294.5 596.0,293.4 595.9,294.0" stroke="#ff3030" stroke-width="2.0"/>
<path d="M595.9,294.0 595.8,293.7 594.7,293.5" stroke="#ff6e6e" stroke-width="2.0"/>
<path d="M594.7,293.5 594.1,293.5 594.3,292.5" stroke="#ff8c8c" stroke-width="2.0"/>
<path d="M594.3,292.5 594.4,290.7 591.9,290.0" stroke="#ffa0a0" stroke-width="2.0"/>
<path d="M591.9,290.0 591.0,291.4 592.2,292.1" stroke="#ffa0a0" stroke-width="2.0"/>
<path d="M592.2,292.1 592.1,293.1 591.4,293.4" stroke="#ff8c8c" stroke-width="2.0"/>
<path d="M591.4,293.4 591.4,294.6 590.4,296.4" stroke="#ff4a4a" stroke-width="2.0"/>
<path d="M590.4,296.4 590.7,296.9 591.0,297.1" stroke="#6464ff" stroke-width="1.3"/>
<path d="M591.0,297.1 590.9,297.6 592.0,298.4" stroke="#8080ff" stroke-width="1.3"/>
<path d="M592.0,298.4 592.2,299.3 592.4,300.1" stroke="#6464ff" stroke-width="1.3"/>
<path d="M592.4,300.1 592.9,300.1 593.7,300.6" stroke="#ff7070" stroke-width="1.3"/>
<path d="M593.7,300.6 594.2,300.9 595.1,301.7" stroke="#8080ff" stroke-width="1.3"/>
<path d="M595.1,301.7 595.4,300.9 596.6,301.5" stroke="#6464ff" stroke-width="1.3"/>
<path d="M596.6,301.5 596.9,302.2 597.3,302.9" stroke="#ff8c8c" stroke-width="1.3"/>
<path d="M597.3,302.9 597.6,303.1 598.2,303.7" stroke="#3a3aff" stroke-width="1.3"/>
<path d="M598.2,303.7 599.1,304.0 600.3,303.4" stroke="#ffa8a8" stroke-width="1.3"/>
<path d="M600.3,303.4 600.9,303.8 601.6,303.8" stroke="#5050ff" stroke-width="1.3"/>
<path d="M601.6,303.8 602.5,304.2 603.0,304.1" stroke="#3a3aff" stroke-width="1.3"/>
<path d="M603.0,304.1 603.7,303.7 604.1,302.7" stroke="#8080ff" stroke-width="1.3"/>
<path d="M604.1,302.7 605.6,302.2 605.8,301.8" stroke="#8080ff" stroke-width="1.3"/>
<path d="M605.8,301.8 606.0,301.5 605.8,301.3" stroke="#ff8c8c" stroke-width="2.0"/>
<path d="M605.8,301.3 607.1,300.9 607.8,300.6" stroke="#ffa0a0" stroke-width="2.0"/>
<path d="M607.8,300.6 607.2,301.0 606.4,299.8" stroke="#ffa0a0" stroke-width="2.0"/>
<path d="M606.4,299.8 606.9,298.8 605.8,297.0" stroke="#ff4a4a" stroke-width="2.0"/>
<path d="M605.8,297.0 606.6,295.8 606.1,295.9" stroke="#ffa0a0" stroke-width="2.0"/>
<path d="M606.1,295.9 605.7,294.0 604.2,293.9" stroke="#ff6e6e" stroke-width="2.0"/>
<path d="M604.2,293.9 604.0,293.4 603.9,293.4" stroke="#ff6e6e" stroke-width="2.0"/>
<path d="M603.9,293.4 602.7,291.9 603.1,291.7" stroke="#ff6e6e" stroke-width="2.0"/>
<path d="M603.1,291.7 601.8,290.4 601.8,290.1" stroke="#ff4a4a" stroke-width="2.0"/>
<path d="M601.8,290.1 600.9,290.8 600.5,291.1" stroke="#ff6e6e" stroke-width="2.0"/>
<path d="M600.5,291.1 599.6,289.9 598.9,289.9" stroke="#ff7070" stroke-width="1.3"/>
<path d="M598.9,289.9 598.3,290.1 598.0,289.4" stroke="#5050ff" stroke-width="1.3"/>
<path d="M598.0,289.4 597.7,289.1 596.9,289.2" stroke="#3a3aff" stroke-width="1.3"/>
<path d="M596.9,289.2 597.0,290.0 598.0,289.6" stroke="#3a3aff" stroke-width="1.3"/>
<path d="M598.0,289.6 598.5,290.2 598.7,290.6" stroke="#8080ff" stroke-width="1.3"/>
<path d="M598.7,290.6 599.1,291.3 599.6,291.2" stroke="#ff8c8c" stroke-width="1.3"/>
<path d="M599.6,291.2 600.6,292.4 600.6,293.5" stroke="#5050ff" stroke-width="1.3"/>
<path d="M600.6,293.5 602.6,292.5 602.6,292.8" stroke="#ffa0a0" stroke-width="2.0"/>
<path d="M602.6,292.8 603.5,293.3 603.1,294.9" stroke="#ff8c8c" stroke-width="2.0"/>
<path d="M603.1,294.9 603.8,295.5 606.1,294.9" stroke="#ff8c8c" stroke-width="2.0"/>
<path d="M606.1,294.9 606.0,295.9 606.5,296.4" stroke="#ff4a4a" stroke-width="2.0"/>
<path d="M606.5,296.4 607.1,298.4 607.9,297.1" stroke="#ff4a4a" stroke-width="2.0"/>
<path d="M607.9,297.1 608.3,296.1 607.7,294.9" stroke="#ff6e6e" stroke-width="2.0"/>
<path d="M607.7,294.9 609.0,293.4 609.5,293.1" stroke="#ff4a4a" stroke-width="2.0"/>
<path d="M609.5,293.1 609.9,293.6 610.6,292.9" stroke="#ff6e6e" stroke-width="2.0"/>
<path d="M610.6,292.9 610.9,292.3 611.0,291.4" stroke="#ff8c8c" stroke-width="1.3"/>
<path d="M611.0,291.4 611.3,291.5 612.2,291.6" stroke="#6464ff" stroke-width="1.3"/>
<path d="M612.2,291.6 612.8,292.1 612.0,289.1" stroke="#ff3030" stroke-width="2.0"/>
<path d="M612.0,289.1 612.1,288.3 612.2,286.9" stroke="#ffa0a0" stroke-width="2.0"/>
<path d="M612.2,286.9 612.4,287.4 612.1,286.1" stroke="#ff4a4a" stroke-width="2.0"/>
<path d="M612.1,286.1 612.2,285.0 611.7,284.2" stroke="#3a3aff" stroke-width="1.3"/>
<path d="M611.7,284.2 610.8,284.0 610.9,283.1" stroke="#6464ff" stroke-width="1.3"/>
<path d="M610.9,283.1 611.0,282.2 610.6,281.9" stroke="#5050ff" stroke-width="1.3"/>
<path d="M610.6,281.9 610.7,280.9 611.4,279.6" stroke="#ff8c8c" stroke-width="1.3"/>
<path d="M611.4,279.6 611.0,278.9 610.1,278.9" stroke="#8080ff" stroke-width="1.3"/>
<path d="M610.1,278.9 609.4,278.0 609.4,277.3" stroke="#3a3aff" stroke-width="1.3"/>
<path d="M609.4,277.3 609.0,276.9 609.1,275.6" stroke="#ff7070" stroke-width="1.3"/>
<path d="M609.1,275.6 608.2,275.2 607.7,274.6" stroke="#6464ff" stroke-width="1.3"/>
<path d="M607.7,274.6 608.3,273.3 607.3,271.7" stroke="#ff3030" stroke-width="2.0"/>
<path d="M607.3,271.7 608.0,271.1 609.2,270.4" stroke="#ff6e6e" stroke-width="2.0"/>
<path d="M609.2,270.4 608.9,270.3 608.7,271.4" stroke="#ff8c8c" stroke-width="2.0"/>
<path d="M608.7,271.4 609.2,272.0 609.0,272.5" stroke="#ff8c8c" stroke-width="2.0"/>
<path d="M609.0,272.5 609.9,273.5 609.8,272.1" stroke="#ff8c8c" stroke-width="2.0"/>
<path d="M609.8,272.1 609.0,273.4 608.8,274.7" stroke="#ff4a4a" stroke-width="2.0"/>
<path d="M608.8,274.7 608.4,275.9 608.7,277.3" stroke="#5050ff" stroke-width="1.3"/>
<path d="M608.7,277.3 608.4,278.4 609.1,278.5" stroke="#ff8c8c" stroke-width="1.3"/>
<path d="M609.1,278.5 609.8,278.7 611.4,278.4" stroke="#ffa8a8" stroke-width="1.3"/>
<path d="M611.4,278.4 612.3,277.8 612.7,278.9" stroke="#ffa8a8" stroke-width="1.3"/>
<path d="M612.7,278.9 613.4,278.8 613.8,278.5" stroke="#ff8c8c" stroke-width="1.3"/>
<path d="M613.8,278.5 614.6,278.8 615.4,279.4" stroke="#ff8c8c" stroke-width="1.3"/>
<path d="M615.4,279.4 616.1,279.0 616.6,278.5" stroke="#ff7070" stroke-width="1.3"/>
<path d="M616.6,278.5 618.1,278.3 618.6,278.4" stroke="#5050ff" stroke-width="1.3"/>
<path d="M618.6,278.4 619.8,278.4 620.8,277.8" stroke="#ff8c8c" stroke-width="1.3"/>
<path d="M620.8,277.8 621.9,278.1 621.7,278.7" stroke="#5050ff" stroke-width="1.3"/>
<path d="M621.7,278.7 622.4,278.5 622.1,277.3" stroke="#6464ff" stroke-width="1.3"/>
<path d="M622.1,277.3 622.0,276.8 622.4,275.6" stroke="#5050ff" stroke-width="1.3"/>
<path d="M622.4,275.6 622.7,275.3 622.8,274.6" stroke="#8080ff" stroke-width="1.3"/>
<path d="M622.8,274.6 622.7,273.1 622.9,272.5" stroke="#8080ff" stroke-width="1.3"/>
<path d="M622.9,272.5 623.3,272.2 623.5,271.3" stroke="#ff8c8c" stroke-width="1.3"/>
<path d="M623.5,271.3 624.1,270.8 624.3,270.1" stroke="#3a3aff" stroke-width="1.3"/>
<path d="M624.3,270.1 623.9,269.2 624.0,268.5" stroke="#5050ff" stroke-width="1.3"/>
<path d="M624.0,268.5 625.1,266.7 626.4,266.5" stroke="#ff7070" stroke-width="1.3"/>
<path d="M626.4,266.5 626.8,266.4 627.3,267.1" stroke="#ff4a4a" stroke-width="2.0"/>
<path d="M627.3,267.1 626.0,268.5 626.4,269.9" stroke="#ffa0a0" stroke-width="2.0"/>
<path d="M626.4,269.9 627.0,270.2 627.3,271.1" stroke="#ffa0a0" stroke-width="2.0"/>
<path d="M627.3,271.1 627.5,272.0 627.6,272.5" stroke="#5050ff" stroke-width="1.3"/>
<path d="M627.6,272.5 627.6,273.7 627.3,274.3" stroke="#ff8c8c" stroke-width="1.3"/>
<path d="M627.3,274.3 627.2,274.6 627.4,275.5" stroke="#ffa8a8" stroke-width="1.3"/>
<path d="M627.4,275.5 628.0,276.2 628.2,277.2" stroke="#8080ff" stroke-width="1.3"/>
<path d="M628.2,277.2 628.1,276.8 628.1,278.0" stroke="#5050ff" stroke-width="1.3"/>
<path d="M628.1,278.0 627.8,279.0 628.3,279.5" stroke="#ff7070" stroke-width="1.3"/>
<path d="M628.3,279.5 628.2,280.7 627.9,281.1" stroke="#3a3aff" stroke-width="1.3"/>
<path d="M627.9,281.1 628.5,282.3 629.1,283.2" stroke="#8080ff" stroke-width="1.3"/>
<path d="M629.1,283.2 629.8,283.9 629.4,284.4" stroke="#6464ff" stroke-width="1.3"/>
<path d="M629.4,284.4 629.7,285.2 628.9,285.9" stroke="#6464ff" stroke-width="1.3"/>
<path d="M628.9,285.9 628.6,286.5 629.0,287.1" stroke="#5050ff" stroke-width="1.3"/>
<path d="M629.0,287.1 628.5,287.8 628.2,289.2" stroke="#ff7070" stroke-width="1.3"/>
<path d="M628.2,289.2 628.3,290.0 627.9,290.2" stroke="#6464ff" stroke-width="1.3"/>
<path d="M627.9,290.2 628.3,290.1 628.9,290.6" stroke="#ff8c8c" stroke-width="1.3"/>
<path d="M628.9,290.6 629.0,291.8 629.0,292.8" stroke="#3a3aff" stroke-width="1.3"/>
<path d="M629.0,292.8 629.6,294.2 629.9,295.2" stroke="#3a3aff" stroke-width="1.3"/>
<path d="M629.9,295.2 630.2,295.5 630.2,295.8" stroke="#6464ff" stroke-width="1.3"/>
<path d="M630.2,295.8 630.0,296.7 630.0,297.4" stroke="#5050ff" stroke-width="1.3"/>
<path d="M630.0,297.4 628.8,298.9 629.0,298.9" stroke="#8080ff" stroke-width="1.3"/>
<path d="M629.0,298.9 628.5,299.9 628.9,300.8" stroke="#ff6e6e" stroke-width="2.0"/>
<path d="M628.9,300.8 628.0,301.8 627.2,301.6" stroke="#ff6e6e" stroke-width="2.0"/>
<path d="M627.2,301.6 626.6,302.0 625.4,301.4" stroke="#ff6e6e" stroke-width="2.0"/>
<path d="M625.4,301.4 624.6,300.8 624.1,299.3" stroke="#ff6e6e" stroke-width="2.0"/>
<path d="M624.1,299.3 624.6,300.1 623.6,299.7" stroke="#ffa0a0" stroke-width="2.0"/>
<path d="M623.6,299.7 622.9,298.0 622.9,297.4" stroke="#ff4a4a" stroke-width="2.0"/>
<path d="M622.9,297.4 623.1,296.1 622.5,295.7" stroke="#3a3aff" stroke-width="1.3"/>
<path d="M622.5,295.7 622.6,295.8 622.6,294.6" stroke="#5050ff" stroke-width="1.3"/>
<path d="M622.6,294.6 623.0,292.9 622.3,293.4" stroke="#5050ff" stroke-width="1.3"/>
<path d="M622.3,293.4 622.3,292.5 622.4,291.3" stroke="#8080ff" stroke-width="1.3"/>
<path d="M622.4,291.3 622.4,290.2 622.7,290.0" stroke="#3a3aff" stroke-width="1.3"/>
<path d="M622.7,290.0 622.8,289.0 622.2,288.3" stroke="#8080ff" stroke-width="1.3"/>
<path d="M622.2,288.3 621.8,288.0 621.2,286.6" stroke="#5050ff" stroke-width="1.3"/>
<path d="M621.2,286.6 622.0,286.5 622.5,284.9" stroke="#ff3030" stroke-width="2.0"/>
<path d="M622.5,284.9 622.5,285.3 623.0,284.2" stroke="#ff4a4a" stroke-width="2.0"/>
<path d="M623.0,284.2 623.5,283.5 623.3,282.6" stroke="#8080ff" stroke-width="1.3"/>
<path d="M623.3,282.6 623.7,282.1 623.6,281.2" stroke="#5050ff" stroke-width="1.3"/>
<path d="M623.6,281.2 623.2,280.7 623.5,280.6" stroke="#ffa8a8" stroke-width="1.3"/>
<path d="M623.5,280.6 623.4,279.5 624.0,279.0" stroke="#ff7070" stroke-width="1.3"/>
<path d="M624.0,279.0 623.9,278.7 624.5,278.1" stroke="#ff8c8c" stroke-width="1.3"/>
<path d="M624.5,278.1 624.9,277.5 625.2,276.5" stroke="#6464ff" stroke-width="1.3"/>
<path d="M625.2,276.5 625.9,275.9 626.3,275.5" stroke="#6464ff" stroke-width="1.3"/>
<path d="M626.3,275.5 626.6,276.0 626.4,276.2" stroke="#8080ff" stroke-width="1.3"/>
<path d="M626.4,276.2 627.2,276.5 627.6,277.2" stroke="#ff8c8c" stroke-width="1.3"/>
<path d="M627.6,277.2 628.0,278.1 628.6,278.5" stroke="#6464ff" stroke-width="1.3"/>
<path d="M628.6,278.5 629.7,278.8 629.1,279.9" stroke="#ff7070" stroke-width="1.3"/>
<path d="M629.1,279.9 629.7,280.4 629.0,280.8" stroke="#ff4a4a" stroke-width="2.0"/>
<path d="M629.0,280.8 629.5,282.0 630.2,282.7" stroke="#ff8c8c" stroke-width="2.0"/>
<path d="M630.2,282.7 630.1,282.8 630.6,284.1" stroke="#8080ff" stroke-width="1.3"/>
<path d="M630.6,284.1 630.5,284.7" stroke="#8080ff" stroke-width="1.3"/>
</g>
<path d="M527.77,321.86 L590.25,347.4" stroke="#000" stroke-width="1.3" fill="none"/>
<path d="M590.25,347.4 L653.57,322.14" stroke="#000" stroke-width="1.3" fill="none"/>
<path d="M653.57,322.14 L655.17,237.06" stroke="#000" stroke-width="1.3" fill="none"/>
<line x1="533.62" y1="322.82" x2="529.85" y2="324.15" stroke="#000" stroke-width="0.8"/>
<line x1="546.63" y1="328.12" x2="542.87" y2="329.48" stroke="#000" stroke-width="0.8"/>
<line x1="560" y1="333.57" x2="556.25" y2="334.97" stroke="#000" stroke-width="0.8"/>
<line x1="573.74" y1="339.17" x2="570" y2="340.6" stroke="#000" stroke-width="0.8"/>
<line x1="587.87" y1="344.93" x2="584.15" y2="346.4" stroke="#000" stroke-width="0.8"/>
<line x1="593.53" y1="344.6" x2="597.24" y2="346.1" stroke="#000" stroke-width="0.8"/>
<line x1="607.51" y1="339.04" x2="611.23" y2="340.51" stroke="#000" stroke-width="0.8"/>
<line x1="621.08" y1="333.64" x2="624.81" y2="335.07" stroke="#000" stroke-width="0.8"/>
<line x1="634.27" y1="328.39" x2="638.02" y2="329.79" stroke="#000" stroke-width="0.8"/>
<line x1="647.1" y1="323.29" x2="650.86" y2="324.66" stroke="#000" stroke-width="0.8"/>
<line x1="653.08" y1="245.66" x2="656.92" y2="246.78" stroke="#000" stroke-width="0.8"/>
<line x1="652.83" y1="259.23" x2="656.66" y2="260.39" stroke="#000" stroke-width="0.8"/>
<line x1="652.59" y1="272.68" x2="656.4" y2="273.88" stroke="#000" stroke-width="0.8"/>
<line x1="652.34" y1="286.02" x2="656.14" y2="287.26" stroke="#000" stroke-width="0.8"/>
<line x1="652.1" y1="299.24" x2="655.89" y2="300.53" stroke="#000" stroke-width="0.8"/>
<line x1="651.86" y1="312.35" x2="655.63" y2="313.68" stroke="#000" stroke-width="0.8"/>
<text x="528" y="333.6" font-size="10.2" text-anchor="middle" fill="#000">−3</text>
<text x="539.8" y="338.8" font-size="10.2" text-anchor="middle" fill="#000">−1</text>
<text x="551.6" y="344.7" font-size="10.2" text-anchor="middle" fill="#000">1</text>
<text x="565.2" y="350.6" font-size="10.2" text-anchor="middle" fill="#000">3</text>
<text x="578.8" y="356.5" font-size="10.2" text-anchor="middle" fill="#000">5</text>
<text x="601.9" y="355" font-size="10.2" text-anchor="middle" fill="#000">−2</text>
<text x="614.3" y="349.1" font-size="10.2" text-anchor="middle" fill="#000">0</text>
<text x="627.5" y="344.3" font-size="10.2" text-anchor="middle" fill="#000">2</text>
<text x="641.2" y="338.3" font-size="10.2" text-anchor="middle" fill="#000">4</text>
<text x="653.6" y="332.4" font-size="10.2" text-anchor="middle" fill="#000">6</text>
<text x="661.2" y="250.8" font-size="10.2" text-anchor="middle" fill="#000">1</text>
<text x="661.2" y="264" font-size="10.2" text-anchor="middle" fill="#000">0</text>
<text x="663" y="277.1" font-size="10.2" text-anchor="middle" fill="#000">−1</text>
<text x="663" y="290.5" font-size="10.2" text-anchor="middle" fill="#000">−2</text>
<text x="663" y="303.9" font-size="10.2" text-anchor="middle" fill="#000">−3</text>
<text x="663" y="317.5" font-size="10.2" text-anchor="middle" fill="#000">−4</text>
<text x="549.6" y="355.8" font-size="12.2" text-anchor="middle" fill="#000" transform="rotate(22.3 549.6 355.8)">x (μm)</text>
<text x="639.5" y="349.2" font-size="12.2" text-anchor="middle" fill="#000" transform="rotate(-21.8 639.5 349.2)">y (μm)</text>
<text x="681" y="278.8" font-size="12.2" text-anchor="middle" fill="#000" transform="rotate(-90 681 278.8)">z (μm)</text>
<rect x="356.9" y="27" width="7" height="146.6" fill="url(#gtime)" stroke="#000" stroke-width="0.8"/>
<line x1="363.9" y1="27" x2="366" y2="27" stroke="#000" stroke-width="0.8"/>
<line x1="363.9" y1="173.6" x2="366" y2="173.6" stroke="#000" stroke-width="0.8"/>
<text x="366.1" y="28.9" font-size="10.5" text-anchor="start" fill="#000">66.71</text>
<text x="367" y="174.4" font-size="10.5" text-anchor="start" fill="#000">0.00</text>
<text x="382.8" y="100" font-size="12.2" text-anchor="middle" fill="#000" transform="rotate(-90 382.8 100)">time (s)</text>
<rect x="27.3" y="369.5" width="9.4" height="9.2" fill="#ff0000" stroke="none" stroke-width="1"/>
<text x="40.2" y="377.3" font-size="12" text-anchor="start" fill="#ff0000">Stop</text>
<rect x="70.8" y="369.5" width="9.2" height="9.2" fill="#0000ff" stroke="none" stroke-width="1"/>
<text x="84" y="377.3" font-size="12" text-anchor="start" fill="#0000ff">Run</text>
<defs><linearGradient id="gfr" x1="0" x2="1" y1="0" y2="0"><stop offset="0" stop-color="#ff0000"/><stop offset="1" stop-color="#ffb4b4"/></linearGradient><linearGradient id="gfb" x1="0" x2="1" y1="0" y2="0"><stop offset="0" stop-color="#d2d2ff"/><stop offset="1" stop-color="#0000ff"/></linearGradient></defs>
<rect x="528.8" y="368.2" width="96.6" height="6.4" fill="url(#gfr)" stroke="none" stroke-width="1"/>
<rect x="625.4" y="368.2" width="47.7" height="6.4" fill="url(#gfb)" stroke="none" stroke-width="1"/>
<rect x="528.8" y="368.2" width="144.3" height="6.4" fill="none" stroke="#000" stroke-width="0.8"/>
<line x1="528.8" y1="374.6" x2="528.8" y2="377" stroke="#000" stroke-width="0.8"/>
<text x="529.3" y="385.9" font-size="10.5" text-anchor="middle" fill="#000">1.7</text>
<line x1="625.4" y1="374.6" x2="625.4" y2="377" stroke="#000" stroke-width="0.8"/>
<text x="625.9" y="385.9" font-size="10.5" text-anchor="middle" fill="#000">2.3</text>
<line x1="673.1" y1="374.6" x2="673.1" y2="377" stroke="#000" stroke-width="0.8"/>
<text x="673.6" y="385.9" font-size="10.5" text-anchor="middle" fill="#000">2.6</text>
<text x="597.5" y="390.8" font-size="12" text-anchor="middle" fill="#000"><tspan font-style="italic">τ</tspan> (ns)</text>
</svg></body></html>
